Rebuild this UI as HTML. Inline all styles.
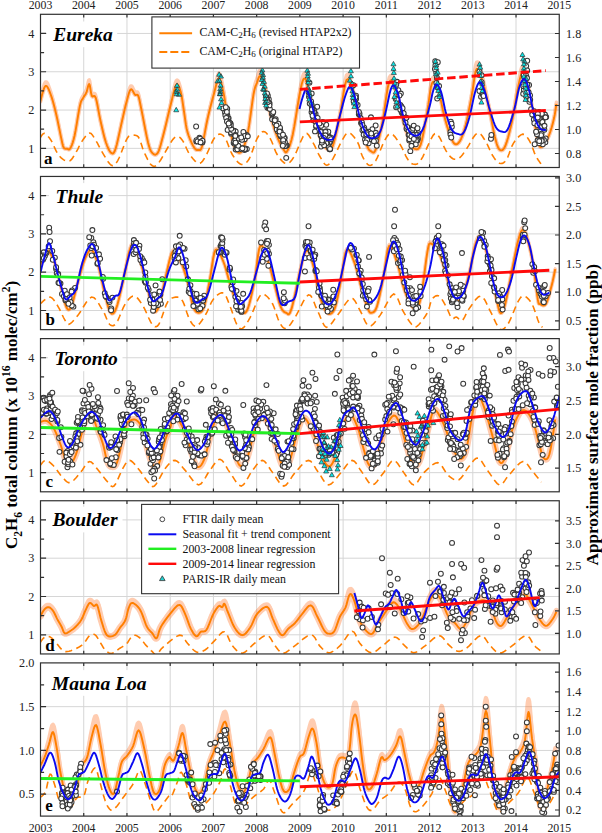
<!DOCTYPE html><html><head><meta charset="utf-8"><title>C2H6</title><style>html,body{margin:0;padding:0;background:#fff;width:602px;height:833px;overflow:hidden}svg{display:block}</style></head><body>
<svg width="602" height="833" viewBox="0 0 602 833" font-family='"Liberation Serif", serif'>
<rect width="602" height="833" fill="#fff"/>
<defs>
<clipPath id="cp0"><rect x="40.5" y="14.3" width="518.76" height="153.2"/></clipPath>
<clipPath id="cp1"><rect x="40.5" y="176.45" width="518.76" height="153.2"/></clipPath>
<clipPath id="cp2"><rect x="40.5" y="338.6" width="518.76" height="153.2"/></clipPath>
<clipPath id="cp3"><rect x="40.5" y="500.75" width="518.76" height="153.2"/></clipPath>
<clipPath id="cp4"><rect x="40.5" y="662.9" width="518.76" height="153.2"/></clipPath>
</defs>
<g clip-path="url(#cp0)">
<line x1="83.73" y1="14.3" x2="83.73" y2="167.5" stroke="#d6d6d6" stroke-width="1"/>
<line x1="126.96" y1="14.3" x2="126.96" y2="167.5" stroke="#d6d6d6" stroke-width="1"/>
<line x1="170.19" y1="14.3" x2="170.19" y2="167.5" stroke="#d6d6d6" stroke-width="1"/>
<line x1="213.42" y1="14.3" x2="213.42" y2="167.5" stroke="#d6d6d6" stroke-width="1"/>
<line x1="256.65" y1="14.3" x2="256.65" y2="167.5" stroke="#d6d6d6" stroke-width="1"/>
<line x1="299.88" y1="14.3" x2="299.88" y2="167.5" stroke="#d6d6d6" stroke-width="1"/>
<line x1="343.11" y1="14.3" x2="343.11" y2="167.5" stroke="#d6d6d6" stroke-width="1"/>
<line x1="386.34" y1="14.3" x2="386.34" y2="167.5" stroke="#d6d6d6" stroke-width="1"/>
<line x1="429.57" y1="14.3" x2="429.57" y2="167.5" stroke="#d6d6d6" stroke-width="1"/>
<line x1="472.8" y1="14.3" x2="472.8" y2="167.5" stroke="#d6d6d6" stroke-width="1"/>
<line x1="516.03" y1="14.3" x2="516.03" y2="167.5" stroke="#d6d6d6" stroke-width="1"/>
<line x1="40.5" y1="148.35" x2="559.26" y2="148.35" stroke="#d6d6d6" stroke-width="1"/>
<line x1="40.5" y1="110.05" x2="559.26" y2="110.05" stroke="#d6d6d6" stroke-width="1"/>
<line x1="40.5" y1="71.75" x2="559.26" y2="71.75" stroke="#d6d6d6" stroke-width="1"/>
<line x1="40.5" y1="33.45" x2="559.26" y2="33.45" stroke="#d6d6d6" stroke-width="1"/>
<g opacity="0.34"><path d="M40,102.39L40.73,99.75L41.77,95.77L42.98,91.48L44.23,87.86L45.4,85.92L46.48,85.89L47.56,87.11L48.64,89.22L49.72,91.88L50.8,94.73L51.88,97.85L52.96,101.48L54.04,105.49L55.12,109.79L56.2,114.26L57.33,119.29L58.51,124.95L59.67,130.66L60.73,135.85L61.6,139.92L62.22,142.71L62.64,144.6L62.97,145.85L63.31,146.76L63.76,147.58L64.34,148.26L64.98,148.59L65.65,148.7L66.33,148.71L67,148.73L67.63,148.95L68.24,149.28L68.86,149.46L69.52,149.24L70.24,148.35L71.02,146.89L71.84,145.02L72.7,142.62L73.61,139.56L74.56,135.71L75.6,130.43L76.74,123.79L77.9,116.78L79,110.34L79.96,105.45L80.74,102.44L81.41,100.65L82,99.61L82.58,98.82L83.2,97.79L83.85,96.62L84.51,95.63L85.17,94.69L85.82,93.66L86.44,92.43L87.03,90.62L87.6,88.31L88.16,86.06L88.7,84.44L89.24,84.01L89.76,85.24L90.23,87.77L90.72,90.87L91.24,93.82L91.84,95.88L92.52,96.56L93.26,96.35L94.04,95.99L94.87,96.22L95.72,97.79L96.61,101.07L97.53,105.54L98.49,110.68L99.47,115.94L100.48,120.77L101.51,125.33L102.59,129.98L103.68,134.49L104.78,138.64L105.87,142.22L106.97,145.29L108.09,148L109.19,150.25L110.26,151.93L111.27,152.95L112.17,153.44L112.98,153.48L113.76,152.84L114.61,151.33L115.59,148.73L116.79,144.51L118.13,138.8L119.53,132.41L120.88,126.13L122.07,120.77L123.08,116.4L123.96,112.47L124.77,108.9L125.56,105.57L126.39,102.39L127.26,99.15L128.12,95.91L128.98,93L129.85,90.71L130.71,89.37L131.59,89.33L132.49,90.39L133.38,92.01L134.24,93.63L135.03,94.73L135.75,95.02L136.41,94.87L137.03,94.68L137.64,94.88L138.27,95.88L138.87,97.59L139.41,99.75L139.98,102.46L140.66,105.86L141.51,110.05L142.63,115.68L143.97,122.65L145.4,130.03L146.78,136.87L147.99,142.22L148.98,145.91L149.82,148.57L150.61,150.46L151.41,151.83L152.31,152.95L153.32,153.91L154.39,154.55L155.5,154.7L156.61,154.22L157.71,152.95L158.76,150.82L159.77,147.94L160.8,144.4L161.9,140.29L163.11,135.71L164.51,130.28L166.05,123.92L167.64,117.23L169.19,110.75L170.61,105.07L171.87,99.91L173.04,94.9L174.14,90.44L175.19,86.93L176.21,84.77L177.2,84.2L178.14,84.93L179.04,86.64L179.89,88.99L180.7,91.67L181.44,94.87L182.12,98.84L182.77,103.23L183.41,107.72L184.06,111.96L184.68,116.04L185.25,120.16L185.84,124.24L186.54,128.17L187.43,131.88L188.59,135.51L189.98,139.11L191.46,142.47L192.9,145.37L194.15,147.58L195.21,148.99L196.16,149.74L197.03,150.02L197.85,150L198.64,149.88L199.35,149.95L199.96,150.09L200.55,149.85L201.21,148.79L202,146.44L202.97,142.36L204.05,136.85L205.21,130.59L206.41,124.24L207.61,118.48L208.84,113.21L210.14,108L211.44,102.97L212.71,98.25L213.89,93.96L214.97,89.79L215.98,85.65L216.95,82.02L217.89,79.4L218.82,78.26L219.75,78.86L220.65,80.88L221.54,83.94L222.42,87.66L223.31,91.67L224.19,96.2L225.05,101.52L225.92,107.25L226.83,113.02L227.79,118.48L228.86,123.83L230.01,129.34L231.19,134.66L232.33,139.45L233.4,143.37L234.37,146.34L235.28,148.59L236.15,150.23L237.01,151.39L237.89,152.18L238.77,152.68L239.63,152.81L240.5,152.46L241.4,151.52L242.37,149.88L243.42,147.61L244.53,144.77L245.68,141.27L246.84,137.01L247.98,131.88L249.14,125.14L250.33,116.86L251.5,108.16L252.61,100.15L253.58,93.96L254.4,89.96L255.09,87.39L255.71,85.71L256.31,84.38L256.95,82.86L257.6,80.92L258.24,78.93L258.89,77.22L259.57,76.12L260.31,75.96L261.12,76.77L261.97,78.34L262.87,80.6L263.81,83.53L264.8,87.07L265.83,91.56L266.91,97.03L268.03,102.97L269.19,108.89L270.4,114.26L271.68,119.17L273.02,123.93L274.39,128.46L275.77,132.68L277.13,136.48L278.53,139.92L279.99,143.06L281.41,145.83L282.73,148.13L283.86,149.88L284.71,151.18L285.34,152.09L285.88,152.46L286.46,152.15L287.22,151.03L288.17,149.27L289.2,146.95L290.32,143.82L291.54,139.65L292.83,134.18L294.3,126.4L295.94,116.47L297.63,105.91L299.23,96.25L300.61,88.98L301.71,84.25L302.64,81.03L303.46,79.15L304.25,78.41L305.09,78.64L305.94,80L306.72,82.62L307.54,86.24L308.46,90.61L309.58,95.5L310.97,101.46L312.58,108.68L314.29,116.29L315.95,123.42L317.43,129.2L318.69,133.48L319.83,136.82L320.9,139.49L321.95,141.71L323.03,143.75L324.17,145.63L325.33,147.18L326.48,148.37L327.59,149.15L328.64,149.5L329.57,149.63L330.41,149.58L331.22,149L332.1,147.56L333.13,144.9L334.33,140.76L335.65,135.36L337.05,129.11L338.47,122.45L339.85,115.79L341.2,108.25L342.54,99.52L343.89,90.97L345.24,83.94L346.58,79.79L347.93,79.1L349.27,80.95L350.62,84.5L351.96,88.87L353.31,93.2L354.65,97.73L356,103.05L357.35,108.78L358.69,114.55L360.04,120.01L361.42,125.4L362.84,130.99L364.24,136.36L365.56,141.13L366.76,144.9L367.81,147.52L368.72,149.24L369.56,150.3L370.39,150.95L371.25,151.41L372.11,151.97L372.94,152.47L373.78,152.49L374.69,151.63L375.74,149.5L376.94,145.89L378.27,141.07L379.66,135.33L381.08,128.98L382.46,122.31L383.81,114.31L385.15,104.8L386.5,95.27L387.85,87.2L389.19,82.09L390.54,80.42L391.88,81.2L393.23,83.7L394.57,87.18L395.92,90.9L397.27,95.24L398.61,100.69L399.96,106.69L401.3,112.68L402.65,118.09L404.03,123.08L405.45,128.02L406.85,132.68L408.17,136.85L409.38,140.31L410.38,143.01L411.22,145.1L412.01,146.64L412.86,147.7L413.86,148.35L415.06,148.88L416.39,149.25L417.79,149.01L419.21,147.71L420.59,144.9L421.97,140.01L423.38,133.32L424.77,125.72L426.1,118.06L427.32,111.2L428.36,104.72L429.27,98.04L430.13,91.8L431,86.66L431.98,83.24L433.07,81.74L434.22,81.74L435.41,82.95L436.61,85.07L437.79,87.84L438.97,91.71L440.17,96.88L441.36,102.64L442.52,108.29L443.6,113.11L444.59,117.01L445.49,120.46L446.37,123.61L447.27,126.6L448.26,129.58L449.34,132.77L450.5,136.06L451.69,139.14L452.89,141.69L454.07,143.37L455.23,144.16L456.4,144.27L457.56,143.76L458.72,142.67L459.88,141.07L461.05,138.93L462.21,136.2L463.37,132.94L464.53,129.18L465.7,124.99L466.87,120.16L468.06,114.66L469.24,108.78L470.39,102.81L471.51,97.03L472.56,90.76L473.54,83.82L474.51,77.22L475.53,71.96L476.63,69.07L477.83,68.96L479.11,70.95L480.43,74.42L481.79,78.73L483.14,83.24L484.54,88.31L486.01,94.37L487.47,100.88L488.86,107.3L490.12,113.11L491.2,118.37L492.14,123.42L493.02,128.19L493.87,132.57L494.77,136.48L495.68,140.01L496.57,143.22L497.47,145.97L498.41,148.11L499.42,149.5L500.49,150.22L501.6,150.37L502.77,149.82L503.98,148.43L505.23,146.05L506.57,142.45L508,137.72L509.45,132.22L510.87,126.32L512.21,120.39L513.47,114.05L514.67,107.04L515.84,99.95L516.95,93.35L518.02,87.84L519.01,83.14L519.91,78.89L520.79,75.45L521.69,73.2L522.67,72.52L523.76,73.73L524.92,76.58L526.11,80.6L527.31,85.27L528.49,90.13L529.67,95.47L530.87,101.6L532.06,108.1L533.21,114.51L534.3,120.39L535.31,126.05L536.25,131.79L537.15,137.14L538.04,141.66L538.95,144.9L539.87,146.64L540.76,147.18L541.66,146.85L542.6,145.98L543.6,144.9L544.71,143.53L545.9,141.64L547.12,139.37L548.31,136.84L549.42,134.18L550.46,131.27L551.47,128.04L552.43,124.65L553.31,121.27L554.07,118.09L554.72,114.91L555.28,111.61L555.74,108.48L556.12,105.82L556.4,103.92" fill="none" stroke="#ff6a1a" stroke-width="4.2" stroke-linejoin="round"/><path d="M40,100.42L40.73,97.5L41.77,93.09L42.98,88.26L44.23,84.15L45.4,81.93L46.48,81.89L47.56,83.29L48.64,85.7L49.72,88.71L50.8,91.92L51.88,95.4L52.96,99.41L54.04,103.81L55.12,108.46L56.2,113.25L57.33,118.58L58.51,124.5L59.67,130.41L60.73,135.71L61.6,139.86L62.22,142.68L62.64,144.57L62.97,145.84L63.31,146.75L63.76,147.58L64.34,148.25L64.98,148.58L65.65,148.69L66.33,148.7L67,148.73L67.63,148.95L68.24,149.28L68.86,149.46L69.52,149.23L70.24,148.35L71.02,146.88L71.84,145L72.7,142.59L73.61,139.49L74.56,135.58L75.6,130.16L76.74,123.29L77.9,115.92L79,109.05L79.96,103.77L80.74,100.47L81.41,98.5L82,97.35L82.58,96.48L83.2,95.34L83.85,94.04L84.51,92.93L85.17,91.87L85.82,90.72L86.44,89.34L87.03,87.29L87.6,84.66L88.16,82.09L88.7,80.22L89.24,79.72L89.76,81.14L90.23,84.05L90.72,87.57L91.24,90.9L91.84,93.21L92.52,93.97L93.26,93.73L94.04,93.33L94.87,93.59L95.72,95.34L96.61,98.96L97.53,103.86L98.49,109.42L99.47,115.03L100.48,120.14L101.51,124.9L102.59,129.7L103.68,134.33L104.78,138.56L105.87,142.18L106.97,145.27L108.09,147.99L109.19,150.25L110.26,151.93L111.27,152.95L112.17,153.44L112.98,153.48L113.76,152.84L114.61,151.33L115.59,148.73L116.79,144.49L118.13,138.72L119.53,132.2L120.88,125.73L122.07,120.14L123.08,115.52L123.96,111.34L124.77,107.5L125.56,103.89L126.39,100.42L127.26,96.84L128.12,93.24L128.98,89.97L129.85,87.39L130.71,85.87L131.59,85.82L132.49,87.03L133.38,88.86L134.24,90.69L135.03,91.92L135.75,92.25L136.41,92.08L137.03,91.87L137.64,92.09L138.27,93.21L138.87,95.12L139.41,97.5L139.98,100.49L140.66,104.2L141.51,108.74L142.63,114.75L143.97,122.1L145.4,129.76L146.78,136.76L147.99,142.18L148.98,145.9L149.82,148.57L150.61,150.46L151.41,151.83L152.31,152.95L153.32,153.91L154.39,154.55L155.5,154.7L156.61,154.22L157.71,152.95L158.76,150.82L159.77,147.93L160.8,144.37L161.9,140.23L163.11,135.58L164.51,130.01L166.05,123.43L167.64,116.4L169.19,109.5L170.61,103.35L171.87,97.69L173.04,92.11L174.14,87.08L175.19,83.08L176.21,80.6L177.2,79.94L178.14,80.78L179.04,82.75L179.89,85.44L180.7,88.47L181.44,92.08L182.12,96.5L182.77,101.34L183.41,106.22L184.06,110.8L184.68,115.14L185.25,119.49L185.84,123.76L186.54,127.84L187.43,131.66L188.59,135.37L189.98,139.03L191.46,142.43L192.9,145.35L194.15,147.58L195.21,148.99L196.16,149.74L197.03,150.02L197.85,150L198.64,149.88L199.35,149.95L199.96,150.09L200.55,149.85L201.21,148.78L202,146.42L202.97,142.32L204.05,136.74L205.21,130.33L206.41,123.76L207.61,117.72L208.84,112.13L210.14,106.53L211.44,101.05L212.71,95.84L213.89,91.06L214.97,86.35L215.98,81.62L216.95,77.42L217.89,74.36L218.82,73.02L219.75,73.73L220.65,76.09L221.54,79.64L222.42,83.92L223.31,88.47L224.19,93.57L225.05,99.46L225.92,105.71L226.83,111.93L227.79,117.72L228.86,123.34L230.01,129.05L231.19,134.51L232.33,139.38L233.4,143.34L234.37,146.33L235.28,148.58L236.15,150.23L237.01,151.39L237.89,152.18L238.77,152.68L239.63,152.81L240.5,152.46L241.4,151.52L242.37,149.88L243.42,147.6L244.53,144.75L245.68,141.22L246.84,136.9L247.98,131.66L249.14,124.7L250.33,116.01L251.5,106.7L252.61,97.95L253.58,91.06L254.4,86.54L255.09,83.61L255.71,81.68L256.31,80.15L256.95,78.39L257.6,76.14L258.24,73.81L258.89,71.8L259.57,70.5L260.31,70.31L261.12,71.27L261.97,73.11L262.87,75.77L263.81,79.17L264.8,83.24L265.83,88.35L266.91,94.49L268.03,101.05L269.19,107.49L270.4,113.25L271.68,118.44L273.02,123.44L274.39,128.14L275.77,132.48L277.13,136.36L278.53,139.85L279.99,143.03L281.41,145.81L282.73,148.12L283.86,149.88L284.71,151.18L285.34,152.09L285.88,152.46L286.46,152.15L287.22,151.03L288.17,149.26L289.2,146.94L290.32,143.8L291.54,139.58L292.83,134.01L294.3,126L295.94,115.6L297.63,104.27L299.23,93.62L300.61,85.43L301.71,80L302.64,76.27L303.46,74.07L304.25,73.2L305.09,73.47L305.94,75.07L306.72,78.11L307.54,82.29L308.46,87.28L309.58,92.78L310.97,99.4L312.58,107.27L314.29,115.4L315.95,122.9L317.43,128.9L318.69,133.3L319.83,136.71L320.9,139.41L321.95,141.67L323.03,143.73L324.17,145.62L325.33,147.17L326.48,148.36L327.59,149.15L328.64,149.5L329.57,149.63L330.41,149.58L331.22,149L332.1,147.55L333.13,144.88L334.33,140.7L335.65,135.21L337.05,128.81L338.47,121.89L339.85,114.88L341.2,106.79L342.54,97.25L343.89,87.68L345.24,79.64L346.58,74.82L347.93,74.01L349.27,76.18L350.62,80.29L351.96,85.3L353.31,90.2L354.65,95.27L356,101.14L357.35,107.37L358.69,113.56L360.04,119.33L361.42,124.97L362.84,130.74L364.24,136.24L365.56,141.08L366.76,144.88L367.81,147.51L368.72,149.23L369.56,150.3L370.39,150.94L371.25,151.41L372.11,151.97L372.94,152.47L373.78,152.49L374.69,151.63L375.74,149.5L376.94,145.87L378.27,141.01L379.66,135.19L381.08,128.68L382.46,121.74L383.81,113.3L385.15,103.06L386.5,92.53L387.85,83.4L389.19,77.5L390.54,75.55L391.88,76.47L393.23,79.36L394.57,83.37L395.92,87.61L397.27,92.49L398.61,98.55L399.96,105.11L401.3,111.56L402.65,117.31L404.03,122.55L405.45,127.68L406.85,132.48L408.17,136.74L409.38,140.25L410.38,142.97L411.22,145.08L412.01,146.63L412.86,147.7L413.86,148.35L415.06,148.88L416.39,149.25L417.79,149.01L419.21,147.71L420.59,144.88L421.97,139.94L423.38,133.14L424.77,125.3L426.1,117.28L427.32,109.98L428.36,102.96L429.27,95.61L430.13,88.63L431,82.77L431.98,78.83L433.07,77.1L434.22,77.09L435.41,78.49L436.61,80.95L437.79,84.12L438.97,88.52L440.17,94.32L441.36,100.69L442.52,106.84L443.6,112.03L444.59,116.17L445.49,119.81L446.37,123.1L447.27,126.21L448.26,129.3L449.34,132.57L450.5,135.94L451.69,139.07L452.89,141.64L454.07,143.34L455.23,144.14L456.4,144.25L457.56,143.73L458.72,142.64L459.88,141.02L461.05,138.85L462.21,136.08L463.37,132.74L464.53,128.89L465.7,124.54L466.87,119.49L468.06,113.67L469.24,107.37L470.39,100.88L471.51,94.49L472.56,87.45L473.54,79.51L474.51,71.8L475.53,65.55L476.63,62.07L477.83,61.96L479.11,64.34L480.43,68.48L481.79,73.57L483.14,78.83L484.54,84.67L486.01,91.52L487.47,98.75L488.86,105.78L490.12,112.03L491.2,117.6L492.14,122.91L493.02,127.86L493.87,132.37L494.77,136.36L495.68,139.94L496.57,143.19L497.47,145.96L498.41,148.11L499.42,149.5L500.49,150.22L501.6,150.37L502.77,149.82L503.98,148.42L505.23,146.04L506.57,142.41L508,137.62L509.45,132.01L510.87,125.92L512.21,119.73L513.47,113.02L514.67,105.49L515.84,97.73L516.95,90.38L518.02,84.12L519.01,78.72L519.91,73.76L520.79,69.7L521.69,67.03L522.67,66.21L523.76,67.66L524.92,71.05L526.11,75.76L527.31,81.18L528.49,86.74L529.67,92.75L530.87,99.55L532.06,106.63L533.21,113.51L534.3,119.73L535.31,125.65L536.25,131.56L537.15,137.03L538.04,141.61L538.95,144.88L539.87,146.63L540.76,147.17L541.66,146.84L542.6,145.97L543.6,144.88L544.71,143.5L545.9,141.6L547.12,139.3L548.31,136.73L549.42,134.01L550.46,131.04L551.47,127.7L552.43,124.18L553.31,120.66L554.07,117.31L554.72,113.94L555.28,110.41L555.74,107.05L556.12,104.16L556.4,102.09L556.4,103.92L556.12,105.82L555.74,108.48L555.28,111.61L554.72,114.91L554.07,118.09L553.31,121.27L552.43,124.65L551.47,128.04L550.46,131.27L549.42,134.18L548.31,136.84L547.12,139.37L545.9,141.64L544.71,143.53L543.6,144.9L542.6,145.98L541.66,146.85L540.76,147.18L539.87,146.64L538.95,144.9L538.04,141.66L537.15,137.14L536.25,131.79L535.31,126.05L534.3,120.39L533.21,114.51L532.06,108.1L530.87,101.6L529.67,95.47L528.49,90.13L527.31,85.27L526.11,80.6L524.92,76.58L523.76,73.73L522.67,72.52L521.69,73.2L520.79,75.45L519.91,78.89L519.01,83.14L518.02,87.84L516.95,93.35L515.84,99.95L514.67,107.04L513.47,114.05L512.21,120.39L510.87,126.32L509.45,132.22L508,137.72L506.57,142.45L505.23,146.05L503.98,148.43L502.77,149.82L501.6,150.37L500.49,150.22L499.42,149.5L498.41,148.11L497.47,145.97L496.57,143.22L495.68,140.01L494.77,136.48L493.87,132.57L493.02,128.19L492.14,123.42L491.2,118.37L490.12,113.11L488.86,107.3L487.47,100.88L486.01,94.37L484.54,88.31L483.14,83.24L481.79,78.73L480.43,74.42L479.11,70.95L477.83,68.96L476.63,69.07L475.53,71.96L474.51,77.22L473.54,83.82L472.56,90.76L471.51,97.03L470.39,102.81L469.24,108.78L468.06,114.66L466.87,120.16L465.7,124.99L464.53,129.18L463.37,132.94L462.21,136.2L461.05,138.93L459.88,141.07L458.72,142.67L457.56,143.76L456.4,144.27L455.23,144.16L454.07,143.37L452.89,141.69L451.69,139.14L450.5,136.06L449.34,132.77L448.26,129.58L447.27,126.6L446.37,123.61L445.49,120.46L444.59,117.01L443.6,113.11L442.52,108.29L441.36,102.64L440.17,96.88L438.97,91.71L437.79,87.84L436.61,85.07L435.41,82.95L434.22,81.74L433.07,81.74L431.98,83.24L431,86.66L430.13,91.8L429.27,98.04L428.36,104.72L427.32,111.2L426.1,118.06L424.77,125.72L423.38,133.32L421.97,140.01L420.59,144.9L419.21,147.71L417.79,149.01L416.39,149.25L415.06,148.88L413.86,148.35L412.86,147.7L412.01,146.64L411.22,145.1L410.38,143.01L409.38,140.31L408.17,136.85L406.85,132.68L405.45,128.02L404.03,123.08L402.65,118.09L401.3,112.68L399.96,106.69L398.61,100.69L397.27,95.24L395.92,90.9L394.57,87.18L393.23,83.7L391.88,81.2L390.54,80.42L389.19,82.09L387.85,87.2L386.5,95.27L385.15,104.8L383.81,114.31L382.46,122.31L381.08,128.98L379.66,135.33L378.27,141.07L376.94,145.89L375.74,149.5L374.69,151.63L373.78,152.49L372.94,152.47L372.11,151.97L371.25,151.41L370.39,150.95L369.56,150.3L368.72,149.24L367.81,147.52L366.76,144.9L365.56,141.13L364.24,136.36L362.84,130.99L361.42,125.4L360.04,120.01L358.69,114.55L357.35,108.78L356,103.05L354.65,97.73L353.31,93.2L351.96,88.87L350.62,84.5L349.27,80.95L347.93,79.1L346.58,79.79L345.24,83.94L343.89,90.97L342.54,99.52L341.2,108.25L339.85,115.79L338.47,122.45L337.05,129.11L335.65,135.36L334.33,140.76L333.13,144.9L332.1,147.56L331.22,149L330.41,149.58L329.57,149.63L328.64,149.5L327.59,149.15L326.48,148.37L325.33,147.18L324.17,145.63L323.03,143.75L321.95,141.71L320.9,139.49L319.83,136.82L318.69,133.48L317.43,129.2L315.95,123.42L314.29,116.29L312.58,108.68L310.97,101.46L309.58,95.5L308.46,90.61L307.54,86.24L306.72,82.62L305.94,80L305.09,78.64L304.25,78.41L303.46,79.15L302.64,81.03L301.71,84.25L300.61,88.98L299.23,96.25L297.63,105.91L295.94,116.47L294.3,126.4L292.83,134.18L291.54,139.65L290.32,143.82L289.2,146.95L288.17,149.27L287.22,151.03L286.46,152.15L285.88,152.46L285.34,152.09L284.71,151.18L283.86,149.88L282.73,148.13L281.41,145.83L279.99,143.06L278.53,139.92L277.13,136.48L275.77,132.68L274.39,128.46L273.02,123.93L271.68,119.17L270.4,114.26L269.19,108.89L268.03,102.97L266.91,97.03L265.83,91.56L264.8,87.07L263.81,83.53L262.87,80.6L261.97,78.34L261.12,76.77L260.31,75.96L259.57,76.12L258.89,77.22L258.24,78.93L257.6,80.92L256.95,82.86L256.31,84.38L255.71,85.71L255.09,87.39L254.4,89.96L253.58,93.96L252.61,100.15L251.5,108.16L250.33,116.86L249.14,125.14L247.98,131.88L246.84,137.01L245.68,141.27L244.53,144.77L243.42,147.61L242.37,149.88L241.4,151.52L240.5,152.46L239.63,152.81L238.77,152.68L237.89,152.18L237.01,151.39L236.15,150.23L235.28,148.59L234.37,146.34L233.4,143.37L232.33,139.45L231.19,134.66L230.01,129.34L228.86,123.83L227.79,118.48L226.83,113.02L225.92,107.25L225.05,101.52L224.19,96.2L223.31,91.67L222.42,87.66L221.54,83.94L220.65,80.88L219.75,78.86L218.82,78.26L217.89,79.4L216.95,82.02L215.98,85.65L214.97,89.79L213.89,93.96L212.71,98.25L211.44,102.97L210.14,108L208.84,113.21L207.61,118.48L206.41,124.24L205.21,130.59L204.05,136.85L202.97,142.36L202,146.44L201.21,148.79L200.55,149.85L199.96,150.09L199.35,149.95L198.64,149.88L197.85,150L197.03,150.02L196.16,149.74L195.21,148.99L194.15,147.58L192.9,145.37L191.46,142.47L189.98,139.11L188.59,135.51L187.43,131.88L186.54,128.17L185.84,124.24L185.25,120.16L184.68,116.04L184.06,111.96L183.41,107.72L182.77,103.23L182.12,98.84L181.44,94.87L180.7,91.67L179.89,88.99L179.04,86.64L178.14,84.93L177.2,84.2L176.21,84.77L175.19,86.93L174.14,90.44L173.04,94.9L171.87,99.91L170.61,105.07L169.19,110.75L167.64,117.23L166.05,123.92L164.51,130.28L163.11,135.71L161.9,140.29L160.8,144.4L159.77,147.94L158.76,150.82L157.71,152.95L156.61,154.22L155.5,154.7L154.39,154.55L153.32,153.91L152.31,152.95L151.41,151.83L150.61,150.46L149.82,148.57L148.98,145.91L147.99,142.22L146.78,136.87L145.4,130.03L143.97,122.65L142.63,115.68L141.51,110.05L140.66,105.86L139.98,102.46L139.41,99.75L138.87,97.59L138.27,95.88L137.64,94.88L137.03,94.68L136.41,94.87L135.75,95.02L135.03,94.73L134.24,93.63L133.38,92.01L132.49,90.39L131.59,89.33L130.71,89.37L129.85,90.71L128.98,93L128.12,95.91L127.26,99.15L126.39,102.39L125.56,105.57L124.77,108.9L123.96,112.47L123.08,116.4L122.07,120.77L120.88,126.13L119.53,132.41L118.13,138.8L116.79,144.51L115.59,148.73L114.61,151.33L113.76,152.84L112.98,153.48L112.17,153.44L111.27,152.95L110.26,151.93L109.19,150.25L108.09,148L106.97,145.29L105.87,142.22L104.78,138.64L103.68,134.49L102.59,129.98L101.51,125.33L100.48,120.77L99.47,115.94L98.49,110.68L97.53,105.54L96.61,101.07L95.72,97.79L94.87,96.22L94.04,95.99L93.26,96.35L92.52,96.56L91.84,95.88L91.24,93.82L90.72,90.87L90.23,87.77L89.76,85.24L89.24,84.01L88.7,84.44L88.16,86.06L87.6,88.31L87.03,90.62L86.44,92.43L85.82,93.66L85.17,94.69L84.51,95.63L83.85,96.62L83.2,97.79L82.58,98.82L82,99.61L81.41,100.65L80.74,102.44L79.96,105.45L79,110.34L77.9,116.78L76.74,123.79L75.6,130.43L74.56,135.71L73.61,139.56L72.7,142.62L71.84,145.02L71.02,146.89L70.24,148.35L69.52,149.24L68.86,149.46L68.24,149.28L67.63,148.95L67,148.73L66.33,148.71L65.65,148.7L64.98,148.59L64.34,148.26L63.76,147.58L63.31,146.76L62.97,145.85L62.64,144.6L62.22,142.71L61.6,139.92L60.73,135.85L59.67,130.66L58.51,124.95L57.33,119.29L56.2,114.26L55.12,109.79L54.04,105.49L52.96,101.48L51.88,97.85L50.8,94.73L49.72,91.88L48.64,89.22L47.56,87.11L46.48,85.89L45.4,85.92L44.23,87.86L42.98,91.48L41.77,95.77L40.73,99.75L40,102.39Z" fill="#ff6a1a" stroke="#ff6a1a" stroke-width="3.36" stroke-linejoin="round"/></g>
<path d="M40,138.01L40.55,137.21L41.31,135.97L42.23,134.67L43.25,133.69L44.32,133.41L45.48,133.9L46.76,134.91L48.1,136.32L49.47,138.03L50.8,139.92L52.1,142.21L53.39,144.96L54.69,147.87L55.98,150.63L57.28,152.95L58.57,154.82L59.87,156.44L61.17,157.82L62.46,158.95L63.76,159.84L65.05,160.55L66.35,161.08L67.65,161.34L68.94,161.21L70.24,160.61L71.55,159.36L72.88,157.54L74.2,155.38L75.49,153.14L76.72,151.03L77.83,149.03L78.85,146.98L79.85,144.94L80.92,142.95L82.12,141.07L83.51,139.08L85.04,136.95L86.63,135L88.2,133.58L89.68,133.03L91.04,133.55L92.35,134.91L93.62,136.81L94.88,138.96L96.16,141.07L97.42,143.2L98.64,145.53L99.89,147.99L101.2,150.49L102.63,152.95L104.26,155.64L106.04,158.63L107.87,161.49L109.65,163.82L111.27,165.2L112.67,165.62L113.92,165.35L115.11,164.41L116.35,162.82L117.75,160.61L119.41,157.24L121.26,152.7L123.14,147.78L124.91,143.26L126.39,139.92L127.48,137.94L128.28,136.8L128.96,136.22L129.71,135.95L130.71,135.71L132.05,135.39L133.61,135.16L135.25,135.21L136.85,135.71L138.27,136.86L139.47,138.89L140.54,141.66L141.54,144.85L142.56,148.09L143.67,151.03L144.92,153.82L146.24,156.69L147.59,159.43L148.91,161.83L150.15,163.67L151.3,164.93L152.39,165.76L153.44,166.18L154.49,166.24L155.55,165.97L156.54,165.42L157.45,164.57L158.4,163.34L159.53,161.66L160.95,159.46L162.84,156.32L165.12,152.3L167.53,148L169.82,144.06L171.73,141.07L173.18,139.12L174.34,137.8L175.34,136.99L176.3,136.59L177.33,136.48L178.44,136.67L179.52,137.23L180.62,138.16L181.75,139.44L182.94,141.07L184.18,143.26L185.44,146.02L186.76,149.02L188.16,151.95L189.67,154.48L191.36,156.78L193.2,159.07L195.11,161.09L196.95,162.58L198.64,163.29L200.1,163.15L201.41,162.34L202.66,160.94L203.94,159.06L205.37,156.78L207,153.7L208.77,149.76L210.57,145.56L212.31,141.7L213.89,138.78L215.27,136.85L216.51,135.53L217.67,134.71L218.8,134.3L219.95,134.18L221.08,134.33L222.17,134.82L223.25,135.7L224.37,137L225.55,138.78L226.79,141.3L228.05,144.53L229.37,148.08L230.77,151.53L232.28,154.48L233.95,157.08L235.76,159.61L237.64,161.83L239.49,163.52L241.25,164.44L242.89,164.58L244.47,164.11L246.01,163.03L247.55,161.35L249.1,159.07L250.69,155.76L252.29,151.4L253.89,146.67L255.45,142.24L256.95,138.78L258.37,136.25L259.72,134.23L261.04,132.74L262.35,131.81L263.68,131.5L265.02,131.89L266.37,132.96L267.71,134.56L269.06,136.55L270.4,138.78L271.71,141.48L272.99,144.76L274.28,148.26L275.64,151.62L277.13,154.48L278.8,156.99L280.61,159.4L282.49,161.46L284.35,162.97L286.1,163.67L287.69,163.58L289.17,162.84L290.63,161.46L292.19,159.44L293.95,156.78L296.02,152.7L298.33,147.22L300.72,141.47L303.02,136.61L305.09,133.8L306.89,133.45L308.52,134.81L310.04,137.22L311.5,140.04L312.94,142.61L314.36,145.06L315.71,147.84L317.03,150.73L318.34,153.53L319.67,156.01L321.01,158.38L322.36,160.76L323.71,162.89L325.05,164.46L326.4,165.2L327.71,165.03L328.98,164.14L330.27,162.64L331.64,160.66L333.13,158.31L334.81,155.25L336.66,151.41L338.56,147.3L340.41,143.42L342.1,140.31L343.55,137.83L344.84,135.65L346.08,133.95L347.37,132.89L348.82,132.65L350.55,133.46L352.47,135.2L354.42,137.53L356.25,140.11L357.79,142.61L358.94,145.13L359.8,147.92L360.54,150.79L361.31,153.54L362.28,156.01L363.48,158.34L364.81,160.65L366.21,162.72L367.63,164.31L369.01,165.2L370.32,165.42L371.59,165.11L372.88,164.24L374.25,162.75L375.74,160.61L377.42,157.33L379.27,152.96L381.17,148.19L383.02,143.74L384.71,140.31L386.16,137.84L387.45,135.86L388.69,134.47L389.98,133.75L391.43,133.8L393.12,134.85L394.97,136.86L396.87,139.45L398.72,142.25L400.4,144.9L401.91,147.56L403.31,150.47L404.63,153.39L405.89,156.08L407.13,158.31L408.29,160.09L409.35,161.6L410.39,162.78L411.49,163.61L412.74,164.05L414.09,164.3L415.49,164.38L417,164L418.68,162.84L420.59,160.61L422.91,156.52L425.59,150.8L428.38,144.58L430.99,139.04L433.14,135.33L434.71,133.66L435.89,133.26L436.87,133.81L437.82,134.99L438.95,136.48L440.27,138.58L441.66,141.5L443.08,144.8L444.52,148L445.93,150.65L447.33,152.8L448.72,154.75L450.12,156.43L451.51,157.77L452.91,158.69L454.3,159.18L455.7,159.28L457.09,159.02L458.49,158.43L459.88,157.54L461.22,156.32L462.51,154.74L463.82,152.85L465.24,150.71L466.86,148.35L468.77,145.3L470.91,141.54L473.14,137.77L475.33,134.7L477.33,133.03L479.12,133.05L480.8,134.27L482.4,136.29L483.95,138.7L485.47,141.07L486.93,143.61L488.34,146.59L489.71,149.72L491.07,152.7L492.44,155.24L493.84,157.43L495.23,159.45L496.63,161.19L498.02,162.51L499.42,163.29L500.81,163.54L502.21,163.36L503.6,162.71L505,161.55L506.4,159.84L507.75,157.26L509.07,153.84L510.41,150.06L511.83,146.41L513.37,143.37L515.12,140.81L517.04,138.4L519.01,136.35L520.93,134.87L522.67,134.18L524.24,134.41L525.69,135.43L527.06,137.02L528.37,138.97L529.65,141.07L530.89,143.52L532.06,146.46L533.2,149.58L534.32,152.61L535.47,155.24L536.72,157.55L538.07,159.72L539.37,161.66L540.49,163.27L541.28,164.44" fill="none" stroke="#ff7f00" stroke-width="1.6" stroke-dasharray="7,4.5"/>
<path d="M40,102.39L40.73,99.75L41.77,95.77L42.98,91.48L44.23,87.86L45.4,85.92L46.48,85.89L47.56,87.11L48.64,89.22L49.72,91.88L50.8,94.73L51.88,97.85L52.96,101.48L54.04,105.49L55.12,109.79L56.2,114.26L57.33,119.29L58.51,124.95L59.67,130.66L60.73,135.85L61.6,139.92L62.22,142.71L62.64,144.6L62.97,145.85L63.31,146.76L63.76,147.58L64.34,148.26L64.98,148.59L65.65,148.7L66.33,148.71L67,148.73L67.63,148.95L68.24,149.28L68.86,149.46L69.52,149.24L70.24,148.35L71.02,146.89L71.84,145.02L72.7,142.62L73.61,139.56L74.56,135.71L75.6,130.43L76.74,123.79L77.9,116.78L79,110.34L79.96,105.45L80.74,102.44L81.41,100.65L82,99.61L82.58,98.82L83.2,97.79L83.85,96.62L84.51,95.63L85.17,94.69L85.82,93.66L86.44,92.43L87.03,90.62L87.6,88.31L88.16,86.06L88.7,84.44L89.24,84.01L89.76,85.24L90.23,87.77L90.72,90.87L91.24,93.82L91.84,95.88L92.52,96.56L93.26,96.35L94.04,95.99L94.87,96.22L95.72,97.79L96.61,101.07L97.53,105.54L98.49,110.68L99.47,115.94L100.48,120.77L101.51,125.33L102.59,129.98L103.68,134.49L104.78,138.64L105.87,142.22L106.97,145.29L108.09,148L109.19,150.25L110.26,151.93L111.27,152.95L112.17,153.44L112.98,153.48L113.76,152.84L114.61,151.33L115.59,148.73L116.79,144.51L118.13,138.8L119.53,132.41L120.88,126.13L122.07,120.77L123.08,116.4L123.96,112.47L124.77,108.9L125.56,105.57L126.39,102.39L127.26,99.15L128.12,95.91L128.98,93L129.85,90.71L130.71,89.37L131.59,89.33L132.49,90.39L133.38,92.01L134.24,93.63L135.03,94.73L135.75,95.02L136.41,94.87L137.03,94.68L137.64,94.88L138.27,95.88L138.87,97.59L139.41,99.75L139.98,102.46L140.66,105.86L141.51,110.05L142.63,115.68L143.97,122.65L145.4,130.03L146.78,136.87L147.99,142.22L148.98,145.91L149.82,148.57L150.61,150.46L151.41,151.83L152.31,152.95L153.32,153.91L154.39,154.55L155.5,154.7L156.61,154.22L157.71,152.95L158.76,150.82L159.77,147.94L160.8,144.4L161.9,140.29L163.11,135.71L164.51,130.28L166.05,123.92L167.64,117.23L169.19,110.75L170.61,105.07L171.87,99.91L173.04,94.9L174.14,90.44L175.19,86.93L176.21,84.77L177.2,84.2L178.14,84.93L179.04,86.64L179.89,88.99L180.7,91.67L181.44,94.87L182.12,98.84L182.77,103.23L183.41,107.72L184.06,111.96L184.68,116.04L185.25,120.16L185.84,124.24L186.54,128.17L187.43,131.88L188.59,135.51L189.98,139.11L191.46,142.47L192.9,145.37L194.15,147.58L195.21,148.99L196.16,149.74L197.03,150.02L197.85,150L198.64,149.88L199.35,149.95L199.96,150.09L200.55,149.85L201.21,148.79L202,146.44L202.97,142.36L204.05,136.85L205.21,130.59L206.41,124.24L207.61,118.48L208.84,113.21L210.14,108L211.44,102.97L212.71,98.25L213.89,93.96L214.97,89.79L215.98,85.65L216.95,82.02L217.89,79.4L218.82,78.26L219.75,78.86L220.65,80.88L221.54,83.94L222.42,87.66L223.31,91.67L224.19,96.2L225.05,101.52L225.92,107.25L226.83,113.02L227.79,118.48L228.86,123.83L230.01,129.34L231.19,134.66L232.33,139.45L233.4,143.37L234.37,146.34L235.28,148.59L236.15,150.23L237.01,151.39L237.89,152.18L238.77,152.68L239.63,152.81L240.5,152.46L241.4,151.52L242.37,149.88L243.42,147.61L244.53,144.77L245.68,141.27L246.84,137.01L247.98,131.88L249.14,125.14L250.33,116.86L251.5,108.16L252.61,100.15L253.58,93.96L254.4,89.96L255.09,87.39L255.71,85.71L256.31,84.38L256.95,82.86L257.6,80.92L258.24,78.93L258.89,77.22L259.57,76.12L260.31,75.96L261.12,76.77L261.97,78.34L262.87,80.6L263.81,83.53L264.8,87.07L265.83,91.56L266.91,97.03L268.03,102.97L269.19,108.89L270.4,114.26L271.68,119.17L273.02,123.93L274.39,128.46L275.77,132.68L277.13,136.48L278.53,139.92L279.99,143.06L281.41,145.83L282.73,148.13L283.86,149.88L284.71,151.18L285.34,152.09L285.88,152.46L286.46,152.15L287.22,151.03L288.17,149.27L289.2,146.95L290.32,143.82L291.54,139.65L292.83,134.18L294.3,126.4L295.94,116.47L297.63,105.91L299.23,96.25L300.61,88.98L301.71,84.25L302.64,81.03L303.46,79.15L304.25,78.41L305.09,78.64L305.94,80L306.72,82.62L307.54,86.24L308.46,90.61L309.58,95.5L310.97,101.46L312.58,108.68L314.29,116.29L315.95,123.42L317.43,129.2L318.69,133.48L319.83,136.82L320.9,139.49L321.95,141.71L323.03,143.75L324.17,145.63L325.33,147.18L326.48,148.37L327.59,149.15L328.64,149.5L329.57,149.63L330.41,149.58L331.22,149L332.1,147.56L333.13,144.9L334.33,140.76L335.65,135.36L337.05,129.11L338.47,122.45L339.85,115.79L341.2,108.25L342.54,99.52L343.89,90.97L345.24,83.94L346.58,79.79L347.93,79.1L349.27,80.95L350.62,84.5L351.96,88.87L353.31,93.2L354.65,97.73L356,103.05L357.35,108.78L358.69,114.55L360.04,120.01L361.42,125.4L362.84,130.99L364.24,136.36L365.56,141.13L366.76,144.9L367.81,147.52L368.72,149.24L369.56,150.3L370.39,150.95L371.25,151.41L372.11,151.97L372.94,152.47L373.78,152.49L374.69,151.63L375.74,149.5L376.94,145.89L378.27,141.07L379.66,135.33L381.08,128.98L382.46,122.31L383.81,114.31L385.15,104.8L386.5,95.27L387.85,87.2L389.19,82.09L390.54,80.42L391.88,81.2L393.23,83.7L394.57,87.18L395.92,90.9L397.27,95.24L398.61,100.69L399.96,106.69L401.3,112.68L402.65,118.09L404.03,123.08L405.45,128.02L406.85,132.68L408.17,136.85L409.38,140.31L410.38,143.01L411.22,145.1L412.01,146.64L412.86,147.7L413.86,148.35L415.06,148.88L416.39,149.25L417.79,149.01L419.21,147.71L420.59,144.9L421.97,140.01L423.38,133.32L424.77,125.72L426.1,118.06L427.32,111.2L428.36,104.72L429.27,98.04L430.13,91.8L431,86.66L431.98,83.24L433.07,81.74L434.22,81.74L435.41,82.95L436.61,85.07L437.79,87.84L438.97,91.71L440.17,96.88L441.36,102.64L442.52,108.29L443.6,113.11L444.59,117.01L445.49,120.46L446.37,123.61L447.27,126.6L448.26,129.58L449.34,132.77L450.5,136.06L451.69,139.14L452.89,141.69L454.07,143.37L455.23,144.16L456.4,144.27L457.56,143.76L458.72,142.67L459.88,141.07L461.05,138.93L462.21,136.2L463.37,132.94L464.53,129.18L465.7,124.99L466.87,120.16L468.06,114.66L469.24,108.78L470.39,102.81L471.51,97.03L472.56,90.76L473.54,83.82L474.51,77.22L475.53,71.96L476.63,69.07L477.83,68.96L479.11,70.95L480.43,74.42L481.79,78.73L483.14,83.24L484.54,88.31L486.01,94.37L487.47,100.88L488.86,107.3L490.12,113.11L491.2,118.37L492.14,123.42L493.02,128.19L493.87,132.57L494.77,136.48L495.68,140.01L496.57,143.22L497.47,145.97L498.41,148.11L499.42,149.5L500.49,150.22L501.6,150.37L502.77,149.82L503.98,148.43L505.23,146.05L506.57,142.45L508,137.72L509.45,132.22L510.87,126.32L512.21,120.39L513.47,114.05L514.67,107.04L515.84,99.95L516.95,93.35L518.02,87.84L519.01,83.14L519.91,78.89L520.79,75.45L521.69,73.2L522.67,72.52L523.76,73.73L524.92,76.58L526.11,80.6L527.31,85.27L528.49,90.13L529.67,95.47L530.87,101.6L532.06,108.1L533.21,114.51L534.3,120.39L535.31,126.05L536.25,131.79L537.15,137.14L538.04,141.66L538.95,144.9L539.87,146.64L540.76,147.18L541.66,146.85L542.6,145.98L543.6,144.9L544.71,143.53L545.9,141.64L547.12,139.37L548.31,136.84L549.42,134.18L550.46,131.27L551.47,128.04L552.43,124.65L553.31,121.27L554.07,118.09L554.72,114.91L555.28,111.61L555.74,108.48L556.12,105.82L556.4,103.92" fill="none" stroke="#ff7f00" stroke-width="1.95" stroke-linejoin="round"/>
<g fill="#fff" stroke="#383838" stroke-width="1.05"><circle cx="200.47" cy="142.22" r="2.45"/><circle cx="202.25" cy="142.41" r="2.45"/><circle cx="196.37" cy="141.58" r="2.45"/><circle cx="202.48" cy="141.99" r="2.45"/><circle cx="196.48" cy="140.2" r="2.45"/><circle cx="199.47" cy="137.72" r="2.45"/><circle cx="200.1" cy="138.71" r="2.45"/><circle cx="197.53" cy="141.4" r="2.45"/><circle cx="202.45" cy="140.75" r="2.45"/><circle cx="200.54" cy="142.31" r="2.45"/><circle cx="196.13" cy="126.52" r="2.45"/><circle cx="223.09" cy="108.39" r="2.45"/><circle cx="228.62" cy="118.18" r="2.45"/><circle cx="225.92" cy="112.5" r="2.45"/><circle cx="233" cy="133.02" r="2.45"/><circle cx="230.46" cy="123.46" r="2.45"/><circle cx="233.67" cy="143.01" r="2.45"/><circle cx="234.26" cy="130.81" r="2.45"/><circle cx="234.63" cy="143.72" r="2.45"/><circle cx="235.71" cy="149.5" r="2.45"/><circle cx="235.67" cy="131.42" r="2.45"/><circle cx="234.53" cy="134.84" r="2.45"/><circle cx="231.12" cy="133.65" r="2.45"/><circle cx="230.32" cy="123.27" r="2.45"/><circle cx="232.13" cy="132.79" r="2.45"/><circle cx="236.25" cy="143.87" r="2.45"/><circle cx="227.36" cy="115.16" r="2.45"/><circle cx="229.23" cy="125.71" r="2.45"/><circle cx="226.38" cy="114.63" r="2.45"/><circle cx="225.02" cy="112.56" r="2.45"/><circle cx="227.96" cy="118.78" r="2.45"/><circle cx="225.39" cy="115.14" r="2.45"/><circle cx="226.21" cy="117.94" r="2.45"/><circle cx="237.19" cy="148.19" r="2.45"/><circle cx="227.21" cy="108.78" r="2.45"/><circle cx="230.94" cy="132.21" r="2.45"/><circle cx="227.76" cy="121.27" r="2.45"/><circle cx="234.21" cy="141.14" r="2.45"/><circle cx="229.81" cy="128.04" r="2.45"/><circle cx="226.97" cy="121.46" r="2.45"/><circle cx="233.06" cy="130.8" r="2.45"/><circle cx="237.12" cy="147.87" r="2.45"/><circle cx="227.61" cy="129.9" r="2.45"/><circle cx="226.88" cy="111.93" r="2.45"/><circle cx="231.2" cy="128.81" r="2.45"/><circle cx="235.33" cy="139.54" r="2.45"/><circle cx="229.59" cy="122.61" r="2.45"/><circle cx="225.79" cy="107.15" r="2.45"/><circle cx="230.79" cy="125.22" r="2.45"/><circle cx="229.42" cy="125.56" r="2.45"/><circle cx="228.58" cy="123.49" r="2.45"/><circle cx="239.38" cy="137.93" r="2.45"/><circle cx="240.98" cy="139.19" r="2.45"/><circle cx="242.16" cy="139.38" r="2.45"/><circle cx="235.62" cy="135.32" r="2.45"/><circle cx="246.82" cy="148.93" r="2.45"/><circle cx="244.66" cy="139.33" r="2.45"/><circle cx="244.64" cy="149.96" r="2.45"/><circle cx="235.49" cy="139.83" r="2.45"/><circle cx="242.22" cy="148.25" r="2.45"/><circle cx="245.1" cy="148.39" r="2.45"/><circle cx="246.61" cy="135.01" r="2.45"/><circle cx="244.42" cy="133.87" r="2.45"/><circle cx="238.82" cy="138.55" r="2.45"/><circle cx="235.32" cy="135.89" r="2.45"/><circle cx="237.39" cy="149.3" r="2.45"/><circle cx="244.9" cy="149.1" r="2.45"/><circle cx="243.38" cy="131.89" r="2.45"/><circle cx="242.04" cy="139.77" r="2.45"/><circle cx="244.9" cy="136.03" r="2.45"/><circle cx="241.52" cy="149.27" r="2.45"/><circle cx="247.8" cy="136.32" r="2.45"/><circle cx="241.23" cy="137.48" r="2.45"/><circle cx="238.29" cy="145.81" r="2.45"/><circle cx="235.54" cy="142.66" r="2.45"/><circle cx="242.37" cy="148.32" r="2.45"/><circle cx="269.3" cy="104.73" r="2.45"/><circle cx="282.8" cy="138.08" r="2.45"/><circle cx="268.79" cy="99.25" r="2.45"/><circle cx="272.01" cy="114.15" r="2.45"/><circle cx="266.84" cy="99.48" r="2.45"/><circle cx="272.5" cy="113.58" r="2.45"/><circle cx="286.86" cy="145.37" r="2.45"/><circle cx="277.92" cy="131.35" r="2.45"/><circle cx="278.67" cy="128.16" r="2.45"/><circle cx="267.42" cy="107.83" r="2.45"/><circle cx="284.65" cy="137.74" r="2.45"/><circle cx="272.45" cy="113.24" r="2.45"/><circle cx="266.43" cy="98.11" r="2.45"/><circle cx="279.94" cy="130.2" r="2.45"/><circle cx="278.15" cy="127.54" r="2.45"/><circle cx="272.11" cy="119.3" r="2.45"/><circle cx="281.51" cy="135.27" r="2.45"/><circle cx="266.65" cy="102.97" r="2.45"/><circle cx="283.99" cy="145.17" r="2.45"/><circle cx="283.72" cy="141.77" r="2.45"/><circle cx="267.8" cy="95.41" r="2.45"/><circle cx="280.77" cy="131.91" r="2.45"/><circle cx="276.74" cy="129.28" r="2.45"/><circle cx="283.13" cy="141.33" r="2.45"/><circle cx="279.31" cy="129.97" r="2.45"/><circle cx="268.87" cy="108.13" r="2.45"/><circle cx="282.58" cy="135.39" r="2.45"/><circle cx="277.64" cy="124.66" r="2.45"/><circle cx="273.24" cy="111.95" r="2.45"/><circle cx="275.92" cy="123.17" r="2.45"/><circle cx="269.38" cy="102.86" r="2.45"/><circle cx="280.79" cy="136.2" r="2.45"/><circle cx="281.2" cy="135.97" r="2.45"/><circle cx="286.15" cy="145.87" r="2.45"/><circle cx="266.08" cy="95.66" r="2.45"/><circle cx="274.58" cy="119.76" r="2.45"/><circle cx="274.9" cy="123.09" r="2.45"/><circle cx="279.91" cy="128.67" r="2.45"/><circle cx="279.95" cy="127.7" r="2.45"/><circle cx="269.39" cy="103.41" r="2.45"/><circle cx="286.22" cy="157.86" r="2.45"/><circle cx="269.84" cy="108.92" r="2.45"/><circle cx="280.11" cy="134.87" r="2.45"/><circle cx="269.42" cy="105.39" r="2.45"/><circle cx="278.36" cy="123.71" r="2.45"/><circle cx="276.47" cy="125.32" r="2.45"/><circle cx="285.73" cy="145.63" r="2.45"/><circle cx="284.37" cy="138.48" r="2.45"/><circle cx="267.02" cy="93.51" r="2.45"/><circle cx="275.71" cy="119.26" r="2.45"/><circle cx="284.89" cy="146.15" r="2.45"/><circle cx="279.62" cy="131.56" r="2.45"/><circle cx="274.9" cy="120.33" r="2.45"/><circle cx="266.68" cy="99.98" r="2.45"/><circle cx="284.96" cy="142.31" r="2.45"/><circle cx="267.6" cy="102.28" r="2.45"/><circle cx="283.2" cy="140.21" r="2.45"/><circle cx="283.64" cy="144.27" r="2.45"/><circle cx="282.96" cy="134.76" r="2.45"/><circle cx="282.79" cy="145.71" r="2.45"/><circle cx="308.57" cy="92.26" r="2.45"/><circle cx="329.79" cy="137.95" r="2.45"/><circle cx="328.11" cy="135.1" r="2.45"/><circle cx="324.87" cy="134.8" r="2.45"/><circle cx="315.58" cy="113.95" r="2.45"/><circle cx="309.43" cy="82.63" r="2.45"/><circle cx="317.81" cy="127.9" r="2.45"/><circle cx="316.88" cy="120.41" r="2.45"/><circle cx="327.95" cy="135.89" r="2.45"/><circle cx="318.05" cy="125.39" r="2.45"/><circle cx="317.19" cy="106.71" r="2.45"/><circle cx="314.42" cy="114.12" r="2.45"/><circle cx="316.2" cy="126.71" r="2.45"/><circle cx="323.89" cy="133.53" r="2.45"/><circle cx="329.15" cy="142.82" r="2.45"/><circle cx="311.9" cy="106.65" r="2.45"/><circle cx="312.73" cy="111.9" r="2.45"/><circle cx="330.31" cy="141.54" r="2.45"/><circle cx="329.91" cy="137.22" r="2.45"/><circle cx="326.27" cy="133.14" r="2.45"/><circle cx="331.26" cy="137.91" r="2.45"/><circle cx="311.55" cy="112.21" r="2.45"/><circle cx="317.59" cy="118.01" r="2.45"/><circle cx="313.45" cy="109.8" r="2.45"/><circle cx="318.31" cy="130.76" r="2.45"/><circle cx="327.64" cy="144.65" r="2.45"/><circle cx="314.23" cy="110.7" r="2.45"/><circle cx="313.04" cy="116.2" r="2.45"/><circle cx="329.49" cy="137.72" r="2.45"/><circle cx="316.12" cy="125.66" r="2.45"/><circle cx="319.32" cy="125.09" r="2.45"/><circle cx="318.39" cy="130.11" r="2.45"/><circle cx="313.15" cy="120.36" r="2.45"/><circle cx="328.38" cy="144.5" r="2.45"/><circle cx="326.21" cy="124.79" r="2.45"/><circle cx="311.61" cy="104.69" r="2.45"/><circle cx="309.75" cy="103.6" r="2.45"/><circle cx="321.4" cy="131.53" r="2.45"/><circle cx="320.81" cy="131.97" r="2.45"/><circle cx="326.16" cy="131.17" r="2.45"/><circle cx="320.74" cy="135.61" r="2.45"/><circle cx="328.31" cy="131.69" r="2.45"/><circle cx="326.94" cy="144.1" r="2.45"/><circle cx="324.5" cy="142.79" r="2.45"/><circle cx="325.52" cy="131.86" r="2.45"/><circle cx="329.57" cy="142.58" r="2.45"/><circle cx="313.77" cy="111.91" r="2.45"/><circle cx="312.04" cy="109.95" r="2.45"/><circle cx="322.76" cy="122" r="2.45"/><circle cx="321.12" cy="125.72" r="2.45"/><circle cx="314.16" cy="120.28" r="2.45"/><circle cx="311.92" cy="109.32" r="2.45"/><circle cx="311.68" cy="93.4" r="2.45"/><circle cx="315.47" cy="121.39" r="2.45"/><circle cx="314.98" cy="131.38" r="2.45"/><circle cx="327.56" cy="144.59" r="2.45"/><circle cx="321.05" cy="146.54" r="2.45"/><circle cx="322.9" cy="143.07" r="2.45"/><circle cx="325.37" cy="135.33" r="2.45"/><circle cx="318.29" cy="121.64" r="2.45"/><circle cx="326.68" cy="143.58" r="2.45"/><circle cx="321.9" cy="137.87" r="2.45"/><circle cx="319.43" cy="123.52" r="2.45"/><circle cx="311.11" cy="101.39" r="2.45"/><circle cx="312.56" cy="115.76" r="2.45"/><circle cx="323.78" cy="137.88" r="2.45"/><circle cx="308.99" cy="96.77" r="2.45"/><circle cx="327.41" cy="144.67" r="2.45"/><circle cx="329.54" cy="149.36" r="2.45"/><circle cx="326.43" cy="143.28" r="2.45"/><circle cx="330.06" cy="149.34" r="2.45"/><circle cx="323.72" cy="140.39" r="2.45"/><circle cx="329" cy="147.51" r="2.45"/><circle cx="324.15" cy="145.34" r="2.45"/><circle cx="321.87" cy="142.62" r="2.45"/><circle cx="330.01" cy="148.91" r="2.45"/><circle cx="331.02" cy="139.22" r="2.45"/><circle cx="322.09" cy="140.56" r="2.45"/><circle cx="371.48" cy="134.78" r="2.45"/><circle cx="364.24" cy="127.64" r="2.45"/><circle cx="375.64" cy="125.49" r="2.45"/><circle cx="372.4" cy="129.27" r="2.45"/><circle cx="367.12" cy="138.16" r="2.45"/><circle cx="356" cy="95.67" r="2.45"/><circle cx="365.93" cy="135.03" r="2.45"/><circle cx="354.72" cy="101.2" r="2.45"/><circle cx="365.33" cy="135.42" r="2.45"/><circle cx="370.97" cy="117.3" r="2.45"/><circle cx="369.95" cy="138.13" r="2.45"/><circle cx="367.49" cy="131.67" r="2.45"/><circle cx="374.7" cy="134.52" r="2.45"/><circle cx="370.3" cy="133.17" r="2.45"/><circle cx="373.96" cy="134.2" r="2.45"/><circle cx="361.04" cy="123.12" r="2.45"/><circle cx="370.24" cy="139.04" r="2.45"/><circle cx="375.9" cy="140.74" r="2.45"/><circle cx="353.69" cy="101.58" r="2.45"/><circle cx="368.62" cy="143.21" r="2.45"/><circle cx="373.93" cy="141.13" r="2.45"/><circle cx="370.43" cy="136.41" r="2.45"/><circle cx="359.15" cy="114" r="2.45"/><circle cx="371.19" cy="136.49" r="2.45"/><circle cx="357.63" cy="105.02" r="2.45"/><circle cx="368.59" cy="131.76" r="2.45"/><circle cx="362.44" cy="130.14" r="2.45"/><circle cx="358.81" cy="114.36" r="2.45"/><circle cx="376.79" cy="145.74" r="2.45"/><circle cx="355.87" cy="103.72" r="2.45"/><circle cx="360.63" cy="118.05" r="2.45"/><circle cx="353.4" cy="85.27" r="2.45"/><circle cx="359.49" cy="113.66" r="2.45"/><circle cx="365.02" cy="139.6" r="2.45"/><circle cx="363.67" cy="134.72" r="2.45"/><circle cx="363.79" cy="129.41" r="2.45"/><circle cx="356.07" cy="98.87" r="2.45"/><circle cx="361.88" cy="122.46" r="2.45"/><circle cx="355.7" cy="98.69" r="2.45"/><circle cx="366.31" cy="136.06" r="2.45"/><circle cx="367.12" cy="139.98" r="2.45"/><circle cx="355.4" cy="97.24" r="2.45"/><circle cx="362.41" cy="124.88" r="2.45"/><circle cx="375.74" cy="132.83" r="2.45"/><circle cx="358.84" cy="112.03" r="2.45"/><circle cx="366.63" cy="132.58" r="2.45"/><circle cx="371.23" cy="133.48" r="2.45"/><circle cx="366.39" cy="134.22" r="2.45"/><circle cx="376.64" cy="135.54" r="2.45"/><circle cx="365.68" cy="142.45" r="2.45"/><circle cx="418.46" cy="133.14" r="2.45"/><circle cx="395.71" cy="99.06" r="2.45"/><circle cx="417.33" cy="140.27" r="2.45"/><circle cx="400.36" cy="105.01" r="2.45"/><circle cx="401.64" cy="112.28" r="2.45"/><circle cx="408.83" cy="127.94" r="2.45"/><circle cx="409.28" cy="140.46" r="2.45"/><circle cx="417.97" cy="138.62" r="2.45"/><circle cx="407.33" cy="129.36" r="2.45"/><circle cx="408.67" cy="134.99" r="2.45"/><circle cx="417.91" cy="135.06" r="2.45"/><circle cx="398.34" cy="90.28" r="2.45"/><circle cx="412.4" cy="129.57" r="2.45"/><circle cx="414.37" cy="135.84" r="2.45"/><circle cx="402.34" cy="113.33" r="2.45"/><circle cx="413.73" cy="125.6" r="2.45"/><circle cx="400.84" cy="93.59" r="2.45"/><circle cx="401.72" cy="110.41" r="2.45"/><circle cx="397.14" cy="98.97" r="2.45"/><circle cx="406.54" cy="128.84" r="2.45"/><circle cx="412.11" cy="141.26" r="2.45"/><circle cx="405.11" cy="119.06" r="2.45"/><circle cx="415.97" cy="134.96" r="2.45"/><circle cx="401.4" cy="106.45" r="2.45"/><circle cx="409.43" cy="134.86" r="2.45"/><circle cx="396.15" cy="107.26" r="2.45"/><circle cx="416.38" cy="140.85" r="2.45"/><circle cx="403.64" cy="115.39" r="2.45"/><circle cx="408.69" cy="130.59" r="2.45"/><circle cx="410.33" cy="151.13" r="2.45"/><circle cx="407.24" cy="126.88" r="2.45"/><circle cx="409.44" cy="139.13" r="2.45"/><circle cx="412.37" cy="133.27" r="2.45"/><circle cx="397.04" cy="81.82" r="2.45"/><circle cx="406.4" cy="117.82" r="2.45"/><circle cx="400.34" cy="109.78" r="2.45"/><circle cx="402.55" cy="112.45" r="2.45"/><circle cx="417.28" cy="140.32" r="2.45"/><circle cx="416.02" cy="140.99" r="2.45"/><circle cx="405.51" cy="122.66" r="2.45"/><circle cx="396.23" cy="84.81" r="2.45"/><circle cx="403.7" cy="113.23" r="2.45"/><circle cx="415.78" cy="144.37" r="2.45"/><circle cx="412.76" cy="134.82" r="2.45"/><circle cx="411.45" cy="136.38" r="2.45"/><circle cx="417.49" cy="128.29" r="2.45"/><circle cx="399.48" cy="95.53" r="2.45"/><circle cx="402.56" cy="108.2" r="2.45"/><circle cx="411.45" cy="145.81" r="2.45"/><circle cx="413.87" cy="138.92" r="2.45"/><circle cx="435.42" cy="65.43" r="2.45"/><circle cx="436.25" cy="72.82" r="2.45"/><circle cx="434.95" cy="68.97" r="2.45"/><circle cx="438.01" cy="87.47" r="2.45"/><circle cx="436.4" cy="83.01" r="2.45"/><circle cx="435.25" cy="61.15" r="2.45"/><circle cx="436.95" cy="77.71" r="2.45"/><circle cx="437.21" cy="98.49" r="2.45"/><circle cx="437.8" cy="62.14" r="2.45"/><circle cx="439.05" cy="86" r="2.45"/><circle cx="450.82" cy="121.68" r="2.45"/><circle cx="451.85" cy="126.73" r="2.45"/><circle cx="451.51" cy="123.62" r="2.45"/><circle cx="450.4" cy="132.05" r="2.45"/><circle cx="450.47" cy="134.56" r="2.45"/><circle cx="451.26" cy="137.47" r="2.45"/><circle cx="481.95" cy="91.24" r="2.45"/><circle cx="481.06" cy="96.67" r="2.45"/><circle cx="482.87" cy="94.57" r="2.45"/><circle cx="479.47" cy="71.46" r="2.45"/><circle cx="479.45" cy="91.03" r="2.45"/><circle cx="483.6" cy="96.02" r="2.45"/><circle cx="481.61" cy="75.19" r="2.45"/><circle cx="481.7" cy="82.25" r="2.45"/><circle cx="490.96" cy="138.78" r="2.45"/><circle cx="491.39" cy="134.94" r="2.45"/><circle cx="526.24" cy="96.44" r="2.45"/><circle cx="524.33" cy="91.09" r="2.45"/><circle cx="527.21" cy="60.71" r="2.45"/><circle cx="523.84" cy="75.5" r="2.45"/><circle cx="526.12" cy="75.75" r="2.45"/><circle cx="526.19" cy="66.12" r="2.45"/><circle cx="523.19" cy="93.8" r="2.45"/><circle cx="523.91" cy="89.51" r="2.45"/><circle cx="523.43" cy="86.25" r="2.45"/><circle cx="524.83" cy="80.22" r="2.45"/><circle cx="523.66" cy="75.1" r="2.45"/><circle cx="525.66" cy="87.05" r="2.45"/><circle cx="527.21" cy="70.43" r="2.45"/><circle cx="527.04" cy="78.05" r="2.45"/><circle cx="532.51" cy="112.66" r="2.45"/><circle cx="529.42" cy="101.75" r="2.45"/><circle cx="530.07" cy="95.37" r="2.45"/><circle cx="530.19" cy="99.79" r="2.45"/><circle cx="529.07" cy="84.88" r="2.45"/><circle cx="527.32" cy="84.58" r="2.45"/><circle cx="531.09" cy="109.29" r="2.45"/><circle cx="534.1" cy="115.45" r="2.45"/><circle cx="532.24" cy="114.58" r="2.45"/><circle cx="528.65" cy="92.33" r="2.45"/><circle cx="541.58" cy="133.77" r="2.45"/><circle cx="545.35" cy="142.35" r="2.45"/><circle cx="541.07" cy="135.24" r="2.45"/><circle cx="545.63" cy="138.36" r="2.45"/><circle cx="542.74" cy="144.24" r="2.45"/><circle cx="536.47" cy="131.77" r="2.45"/><circle cx="541.59" cy="117.4" r="2.45"/><circle cx="539.19" cy="139.84" r="2.45"/><circle cx="537.64" cy="140.31" r="2.45"/><circle cx="544.39" cy="129.68" r="2.45"/><circle cx="539.29" cy="119.78" r="2.45"/><circle cx="541.57" cy="127.24" r="2.45"/><circle cx="538.55" cy="124.05" r="2.45"/><circle cx="533.85" cy="119.58" r="2.45"/><circle cx="536.94" cy="134.16" r="2.45"/><circle cx="534.14" cy="111.31" r="2.45"/><circle cx="539.01" cy="143.34" r="2.45"/><circle cx="546.18" cy="117.07" r="2.45"/><circle cx="543.92" cy="140.05" r="2.45"/><circle cx="536.17" cy="118.68" r="2.45"/><circle cx="540.62" cy="119.21" r="2.45"/><circle cx="542.42" cy="121.38" r="2.45"/><circle cx="544.95" cy="114.55" r="2.45"/><circle cx="541.69" cy="139.82" r="2.45"/><circle cx="540.15" cy="127.1" r="2.45"/><circle cx="538.98" cy="112.06" r="2.45"/><circle cx="540.24" cy="114.62" r="2.45"/><circle cx="544.87" cy="117.4" r="2.45"/><circle cx="534.37" cy="123.28" r="2.45"/><circle cx="537.93" cy="119.13" r="2.45"/><circle cx="534.68" cy="144.29" r="2.45"/><circle cx="542.32" cy="121.96" r="2.45"/><circle cx="541.72" cy="140.93" r="2.45"/><circle cx="541.86" cy="113.72" r="2.45"/><circle cx="544.48" cy="125.84" r="2.45"/><circle cx="537.86" cy="113.86" r="2.45"/><circle cx="545.5" cy="117.33" r="2.45"/><circle cx="539.25" cy="141.08" r="2.45"/><circle cx="538.72" cy="118.63" r="2.45"/><circle cx="536.13" cy="131.73" r="2.45"/><circle cx="537.69" cy="117.59" r="2.45"/><circle cx="537.41" cy="125" r="2.45"/></g><path d="M177.02,82.94L179.52,87.34L174.52,87.34ZM177.1,86.71L179.6,91.11L174.6,91.11ZM176.35,88.92L178.85,93.32L173.85,93.32ZM176.64,91.36L179.14,95.76L174.14,95.76ZM178.97,91.86L181.47,96.26L176.47,96.26ZM176.24,107.35L178.74,111.75L173.74,111.75ZM219.14,71.86L221.64,76.26L216.64,76.26ZM221.01,73.68L223.51,78.08L218.51,78.08ZM219.36,77.99L221.86,82.39L216.86,82.39ZM217.54,78.58L220.04,82.98L215.04,82.98ZM220.56,82.76L223.06,87.16L218.06,87.16ZM220.17,86.36L222.67,90.76L217.67,90.76ZM220.28,88.94L222.78,93.34L217.78,93.34ZM220.08,91.41L222.58,95.81L217.58,95.81ZM219.91,91.11L222.41,95.51L217.41,95.51ZM221.05,96.47L223.55,100.87L218.55,100.87ZM221.55,100.17L224.05,104.57L219.05,104.57ZM219.47,104.67L221.97,109.07L216.97,109.07ZM262.35,67.53L264.85,71.93L259.85,71.93ZM261.76,69.94L264.26,74.34L259.26,74.34ZM263.08,72.21L265.58,76.61L260.58,76.61ZM262.83,74.77L265.33,79.17L260.33,79.17ZM261.93,77.02L264.43,81.42L259.43,81.42ZM263.99,78.98L266.49,83.38L261.49,83.38ZM262.44,80.98L264.94,85.38L259.94,85.38ZM264.7,83.76L267.2,88.16L262.2,88.16ZM263.97,86.98L266.47,91.38L261.47,91.38ZM263.09,86.36L265.59,90.76L260.59,90.76ZM264.86,90.45L267.36,94.85L262.36,94.85ZM265.61,92.9L268.11,97.3L263.11,97.3ZM265.25,96.15L267.75,100.55L262.75,100.55ZM266.3,98.5L268.8,102.9L263.8,102.9ZM265.08,99.97L267.58,104.37L262.58,104.37ZM266.11,102.57L268.61,106.97L263.61,106.97ZM307.33,67.78L309.83,72.18L304.83,72.18ZM308,70.82L310.5,75.22L305.5,75.22ZM307.76,73.54L310.26,77.94L305.26,77.94ZM308.52,77.09L311.02,81.49L306.02,81.49ZM308.21,79.61L310.71,84.01L305.71,84.01ZM308.07,85.21L310.57,89.61L305.57,89.61ZM309.17,87.59L311.67,91.99L306.67,91.99ZM309.34,90.1L311.84,94.5L306.84,94.5ZM309.65,92.74L312.15,97.14L307.15,97.14ZM309.18,96.72L311.68,101.12L306.68,101.12ZM311.38,100.29L313.88,104.69L308.88,104.69ZM350.91,68.36L353.41,72.76L348.41,72.76ZM350.93,73.49L353.43,77.89L348.43,77.89ZM349.87,77.73L352.37,82.13L347.37,82.13ZM352.22,81.01L354.72,85.41L349.72,85.41ZM351.54,84.58L354.04,88.98L349.04,88.98ZM352.49,88.34L354.99,92.74L349.99,92.74ZM352.73,92.13L355.23,96.53L350.23,96.53ZM352.84,94.95L355.34,99.35L350.34,99.35ZM353.92,100.6L356.42,105L351.42,105ZM354.32,104.18L356.82,108.58L351.82,108.58ZM393.46,61.38L395.96,65.78L390.96,65.78ZM393.52,66.02L396.02,70.42L391.02,70.42ZM393.84,70.08L396.34,74.48L391.34,74.48ZM394.04,75.67L396.54,80.07L391.54,80.07ZM394.89,80.82L397.39,85.22L392.39,85.22ZM395.09,84.53L397.59,88.93L392.59,88.93ZM395.64,89.53L398.14,93.93L393.14,93.93ZM394.41,94.06L396.91,98.46L391.91,98.46ZM396.45,99.49L398.95,103.89L393.95,103.89ZM397.08,103.77L399.58,108.17L394.58,108.17ZM435.46,58.82L437.96,63.22L432.96,63.22ZM436.28,62.55L438.78,66.95L433.78,66.95ZM436.29,65.12L438.79,69.52L433.79,69.52ZM437.7,69.74L440.2,74.14L435.2,74.14ZM435.92,71.32L438.42,75.72L433.42,75.72ZM437.16,75.32L439.66,79.72L434.66,79.72ZM437.38,80.42L439.88,84.82L434.88,84.82ZM437.77,85.02L440.27,89.42L435.27,89.42ZM438.27,87.99L440.77,92.39L435.77,92.39ZM439.33,91.7L441.83,96.1L436.83,96.1ZM439.24,94.04L441.74,98.44L436.74,98.44ZM479.56,61.65L482.06,66.05L477.06,66.05ZM480.22,64.74L482.72,69.14L477.72,69.14ZM479.73,69.94L482.23,74.34L477.23,74.34ZM480.12,73.01L482.62,77.41L477.62,77.41ZM480.63,78.92L483.13,83.32L478.13,83.32ZM482.24,80.99L484.74,85.39L479.74,85.39ZM481.64,85.13L484.14,89.53L479.14,89.53ZM482.34,88.21L484.84,92.61L479.84,92.61ZM481.45,99.69L483.95,104.09L478.95,104.09ZM522.44,52.19L524.94,56.59L519.94,56.59ZM523.13,56.53L525.63,60.93L520.63,60.93ZM524.48,58.45L526.98,62.85L521.98,62.85ZM523.95,61.51L526.45,65.91L521.45,65.91ZM523.92,65.79L526.42,70.19L521.42,70.19ZM524.07,69.01L526.57,73.41L521.57,73.41ZM523.82,73.83L526.32,78.23L521.32,78.23ZM524.67,77.8L527.17,82.2L522.17,82.2ZM526.15,75.88L528.65,80.28L523.65,80.28ZM524.88,82.22L527.38,86.62L522.38,86.62ZM525.81,85.83L528.31,90.23L523.31,90.23ZM525.68,89.73L528.18,94.13L523.18,94.13ZM525.83,92.59L528.33,96.99L523.33,96.99ZM525.5,97.05L528,101.45L523,101.45Z" fill="#0ae6e6" stroke="#303030" stroke-width="0.7"/>
<path d="M299.49,108.9L299.94,107.15L300.59,104.62L301.34,101.75L302.12,98.95L302.85,96.64L303.5,94.65L304.14,92.67L304.79,91.01L305.47,89.94L306.21,89.75L307.04,90.59L307.93,92.28L308.85,94.58L309.78,97.26L310.7,100.09L311.6,103.28L312.49,106.96L313.39,110.86L314.29,114.66L315.18,118.09L316.08,121.18L316.98,124.12L317.88,126.85L318.77,129.33L319.67,131.5L320.57,133.31L321.46,134.82L322.36,136.07L323.26,137.11L324.15,138.01L325.03,138.77L325.89,139.34L326.76,139.74L327.67,139.93L328.64,139.92L329.69,139.92L330.8,139.92L331.95,139.62L333.11,138.7L334.25,136.86L335.37,133.79L336.49,129.69L337.61,125.03L338.73,120.25L339.85,115.79L340.99,111.5L342.15,107.07L343.3,102.75L344.41,98.81L345.46,95.5L346.43,92.72L347.33,90.3L348.2,88.39L349.07,87.14L349.95,86.69L350.82,87.1L351.69,88.28L352.56,90.13L353.46,92.57L354.43,95.5L355.46,99.22L356.54,103.82L357.66,108.81L358.83,113.72L360.04,118.09L361.31,122.05L362.65,125.91L364.02,129.47L365.4,132.55L366.76,134.94L368.11,136.59L369.46,137.62L370.8,138.13L372.15,138.23L373.49,138.01L374.86,137.54L376.24,136.76L377.61,135.55L378.95,133.84L380.22,131.5L381.43,128.32L382.6,124.37L383.72,119.98L384.8,115.48L385.83,111.2L386.81,106.9L387.76,102.36L388.65,97.94L389.51,94L390.31,90.9L391.04,88.64L391.69,87L392.3,85.95L392.95,85.46L393.68,85.54L394.48,86.15L395.34,87.32L396.23,89.07L397.18,91.4L398.16,94.35L399.21,98.31L400.32,103.27L401.47,108.62L402.63,113.77L403.77,118.09L404.87,121.58L405.96,124.64L407.05,127.29L408.18,129.57L409.38,131.5L410.65,133.1L411.99,134.36L413.36,135.24L414.74,135.7L416.1,135.71L417.45,135.36L418.79,134.67L420.13,133.5L421.48,131.73L422.83,129.2L424.24,125.54L425.71,120.83L427.16,115.65L428.5,110.59L429.65,106.22L430.56,102.52L431.29,99.12L431.9,96.03L432.5,93.28L433.14,90.9L433.82,88.8L434.48,86.96L435.15,85.52L435.86,84.62L436.63,84.39L437.48,84.86L438.4,85.95L439.36,87.61L440.33,89.78L441.28,92.43L442.19,95.83L443.08,100L443.99,104.54L444.93,109.05L445.93,113.11L447.02,116.87L448.17,120.59L449.36,124.08L450.56,127.14L451.74,129.58L452.91,131.29L454.07,132.39L455.23,133.06L456.4,133.47L457.56,133.8L458.72,134.19L459.88,134.53L461.05,134.6L462.21,134.17L463.37,133.03L464.53,131.12L465.7,128.59L466.86,125.52L468.02,121.99L469.19,118.09L470.37,113.4L471.57,107.87L472.76,102.11L473.91,96.76L475,92.43L476,89.09L476.94,86.31L477.85,84.17L478.74,82.74L479.65,82.09L480.56,82.32L481.46,83.38L482.36,85.12L483.3,87.42L484.3,90.13L485.39,93.53L486.54,97.7L487.73,102.24L488.93,106.75L490.12,110.82L491.28,114.58L492.44,118.3L493.6,121.78L494.77,124.84L495.93,127.28L497.09,129.01L498.26,130.15L499.42,130.84L500.58,131.24L501.74,131.5L502.89,131.81L504.01,132.09L505.15,132.02L506.32,131.29L507.56,129.58L508.92,126.59L510.38,122.52L511.86,117.84L513.27,113.01L514.53,108.52L515.61,104.17L516.56,99.65L517.44,95.24L518.29,91.21L519.19,87.84L520.12,85.03L521.05,82.61L521.98,80.71L522.91,79.47L523.84,79.03L524.75,79.35L525.64,80.36L526.54,82.09L527.48,84.57L528.49,87.84L529.58,92.45L530.73,98.38L531.92,104.8L533.12,110.88L534.3,115.79L535.47,119.48L536.63,122.49L537.79,124.91L538.95,126.86L540.12,128.43L541.37,129.48L542.72,129.92L544.02,130L545.14,129.94L545.93,129.97" fill="none" stroke="#0a0af0" stroke-width="1.9" stroke-linejoin="round"/>
<line x1="299.88" y1="121.92" x2="545.86" y2="110.43" stroke="#ff0a0a" stroke-width="2.9"/><line x1="299.88" y1="89.37" x2="545.86" y2="70.6" stroke="#ff0a0a" stroke-width="2.9" stroke-dasharray="8.5,3.8"/>
</g>
<g clip-path="url(#cp1)">
<line x1="83.73" y1="176.45" x2="83.73" y2="329.65" stroke="#d6d6d6" stroke-width="1"/>
<line x1="126.96" y1="176.45" x2="126.96" y2="329.65" stroke="#d6d6d6" stroke-width="1"/>
<line x1="170.19" y1="176.45" x2="170.19" y2="329.65" stroke="#d6d6d6" stroke-width="1"/>
<line x1="213.42" y1="176.45" x2="213.42" y2="329.65" stroke="#d6d6d6" stroke-width="1"/>
<line x1="256.65" y1="176.45" x2="256.65" y2="329.65" stroke="#d6d6d6" stroke-width="1"/>
<line x1="299.88" y1="176.45" x2="299.88" y2="329.65" stroke="#d6d6d6" stroke-width="1"/>
<line x1="343.11" y1="176.45" x2="343.11" y2="329.65" stroke="#d6d6d6" stroke-width="1"/>
<line x1="386.34" y1="176.45" x2="386.34" y2="329.65" stroke="#d6d6d6" stroke-width="1"/>
<line x1="429.57" y1="176.45" x2="429.57" y2="329.65" stroke="#d6d6d6" stroke-width="1"/>
<line x1="472.8" y1="176.45" x2="472.8" y2="329.65" stroke="#d6d6d6" stroke-width="1"/>
<line x1="516.03" y1="176.45" x2="516.03" y2="329.65" stroke="#d6d6d6" stroke-width="1"/>
<line x1="40.5" y1="310.5" x2="559.26" y2="310.5" stroke="#d6d6d6" stroke-width="1"/>
<line x1="40.5" y1="272.2" x2="559.26" y2="272.2" stroke="#d6d6d6" stroke-width="1"/>
<line x1="40.5" y1="233.9" x2="559.26" y2="233.9" stroke="#d6d6d6" stroke-width="1"/>
<line x1="40.5" y1="195.6" x2="559.26" y2="195.6" stroke="#d6d6d6" stroke-width="1"/>
<g opacity="0.34"><path d="M40,265.69L40.97,263.64L42.37,260.61L43.96,257.27L45.49,254.27L46.73,252.28L47.58,251.34L48.21,251L48.75,251.21L49.33,251.91L50.09,253.05L51.05,254.59L52.12,256.55L53.27,259.02L54.47,262.04L55.7,265.69L57.01,270.39L58.42,276.09L59.84,282.16L61.21,287.97L62.43,292.88L63.47,296.98L64.38,300.69L65.23,303.88L66.05,306.43L66.91,308.2L67.77,309.29L68.6,309.78L69.44,309.53L70.36,308.42L71.4,306.29L72.6,302.74L73.93,297.85L75.33,292.26L76.74,286.57L78.13,281.39L79.47,276.57L80.82,271.69L82.16,267L83.51,262.74L84.85,259.18L86.2,256.11L87.54,253.37L88.89,251.25L90.24,250.02L91.58,249.99L92.93,251.32L94.27,253.83L95.62,257.25L96.96,261.29L98.31,265.69L99.67,270.83L101.05,276.9L102.43,283.31L103.76,289.47L105.04,294.8L106.23,299.47L107.36,303.88L108.45,307.76L109.54,310.82L110.64,312.8L111.75,313.68L112.83,313.65L113.93,312.72L115.06,310.9L116.25,308.2L117.52,304.34L118.86,299.3L120.23,293.51L121.61,287.4L122.98,281.39L124.36,274.97L125.78,267.86L127.18,260.81L128.5,254.6L129.71,249.99L130.71,247.05L131.55,245.3L132.34,244.58L133.19,244.78L134.19,245.77L135.39,247.78L136.72,250.9L138.12,254.77L139.54,259.05L140.92,263.39L142.28,267.95L143.66,272.95L145.04,278.17L146.37,283.36L147.65,288.29L148.84,293.32L149.97,298.63L151.07,303.65L152.15,307.79L153.25,310.5L154.36,311.75L155.44,311.91L156.54,311.03L157.67,309.15L158.86,306.29L160.13,302.01L161.45,296.29L162.81,289.8L164.19,283.2L165.59,277.18L167,271.19L168.43,264.79L169.88,258.79L171.35,253.97L172.85,251.14L174.4,250.72L176,252.19L177.61,254.9L179.19,258.21L180.7,261.48L182.13,264.77L183.52,268.51L184.87,272.61L186.17,276.94L187.43,281.39L188.62,286.35L189.75,291.87L190.84,297.41L191.93,302.4L193.03,306.29L194.15,308.97L195.28,310.84L196.4,312.01L197.52,312.62L198.64,312.8L199.76,312.65L200.88,312.11L202,310.98L203.13,309.1L204.25,306.29L205.37,302.27L206.49,297.15L207.61,291.37L208.73,285.34L209.85,279.48L210.94,273.09L211.99,265.91L213.06,258.96L214.19,253.3L215.46,249.99L216.9,249.49L218.49,251.12L220.14,254.14L221.78,257.84L223.31,261.48L224.73,265.26L226.08,269.68L227.4,274.43L228.71,279.2L230.04,283.69L231.4,288.06L232.78,292.5L234.15,296.79L235.49,300.7L236.76,303.99L237.96,306.7L239.09,308.98L240.18,310.79L241.27,312.08L242.37,312.8L243.47,313.12L244.56,313.08L245.65,312.42L246.79,310.88L247.98,308.2L249.27,304.08L250.64,298.69L252.04,292.48L253.41,285.93L254.71,279.48L255.86,272.26L256.92,263.98L257.96,255.94L259.07,249.43L260.31,245.77L261.76,245.61L263.34,248.07L265,252.19L266.63,256.98L268.16,261.48L269.6,265.88L270.99,270.85L272.33,276.06L273.63,281.21L274.89,285.99L276.08,290.54L277.21,295.07L278.31,299.36L279.39,303.18L280.5,306.29L281.62,308.65L282.74,310.42L283.86,311.66L284.98,312.43L286.1,312.8L287.1,313.41L287.97,314.22L288.91,314.27L290.09,312.58L291.71,308.2L293.98,299.21L296.77,286.26L299.76,272.21L302.65,259.93L305.09,252.28L307.05,250.14L308.74,251.58L310.23,255.32L311.6,260.07L312.94,264.54L314.21,269.13L315.35,274.69L316.41,280.64L317.46,286.39L318.55,291.35L319.67,295.54L320.79,299.34L321.91,302.74L323.03,305.7L324.15,308.2L325.28,310.27L326.4,311.92L327.52,313.12L328.64,313.81L329.76,313.95L330.88,313.64L332,312.91L333.13,311.61L334.25,309.58L335.37,306.67L336.49,302.61L337.61,297.5L338.73,291.74L339.85,285.73L340.97,279.86L342.06,273.4L343.11,266.09L344.18,259.02L345.32,253.29L346.58,249.99L348.01,249.54L349.56,251.21L351.18,254.37L352.82,258.39L354.43,262.62L356.04,267.52L357.68,273.51L359.3,279.92L360.85,286.08L362.28,291.35L363.58,295.74L364.79,299.7L365.91,303.18L366.94,306.16L367.89,308.59L368.67,310.43L369.29,311.7L369.85,312.48L370.47,312.83L371.25,312.8L372.21,312.63L373.28,312.27L374.43,311.38L375.63,309.63L376.86,306.67L378.15,302.1L379.52,296.16L380.92,289.44L382.29,282.53L383.58,276.03L384.74,269.2L385.8,261.64L386.84,254.47L387.94,248.8L389.19,245.77L390.62,245.94L392.17,248.55L393.79,252.77L395.44,257.74L397.04,262.62L398.59,267.8L400.13,273.83L401.67,280.14L403.25,286.17L404.89,291.35L406.65,295.9L408.51,300.2L410.38,303.91L412.19,306.69L413.86,308.2L415.35,308.63L416.71,308.2L418.01,306.64L419.28,303.67L420.59,299.01L421.99,291.46L423.43,281.2L424.86,270.05L426.18,259.8L427.32,252.28L428.15,247.8L428.73,245.15L429.24,243.85L429.87,243.45L430.81,243.48L432.16,244.04L433.79,245.45L435.56,247.54L437.33,250.13L438.95,253.05L440.44,256.43L441.88,260.39L443.28,264.73L444.63,269.25L445.93,273.73L447.2,278.53L448.45,283.78L449.64,288.97L450.75,293.58L451.74,297.1L452.53,299.36L453.14,300.73L453.7,301.42L454.35,301.66L455.23,301.69L456.4,301.66L457.77,301.42L459.25,300.73L460.76,299.36L462.21,297.1L463.62,293.7L465.06,289.32L466.48,284.31L467.87,279L469.19,273.73L470.44,268.12L471.65,261.92L472.81,255.74L473.93,250.16L475,245.77L475.99,242.6L476.89,240.24L477.76,238.67L478.67,237.84L479.65,237.73L480.72,238.27L481.84,239.48L483,241.45L484.21,244.29L485.47,248.07L486.82,253.34L488.28,260.05L489.76,267.37L491.18,274.49L492.44,280.63L493.54,285.73L494.53,290.34L495.43,294.51L496.27,298.27L497.09,301.69L497.85,304.93L498.52,307.97L499.16,310.53L499.83,312.36L500.58,313.18L501.4,313.08L502.25,312.23L503.15,310.51L504.13,307.8L505.23,303.99L506.5,298.55L507.91,291.56L509.39,283.81L510.85,276.08L512.21,269.14L513.47,262.84L514.67,256.67L515.84,250.84L516.95,245.6L518.02,241.18L519.03,237.49L519.97,234.4L520.87,232L521.76,230.4L522.67,229.69L523.59,229.94L524.48,231.08L525.38,233.02L526.32,235.66L527.33,238.88L528.43,242.81L529.62,247.52L530.84,252.82L532.03,258.56L533.14,264.54L534.18,271.41L535.2,279.27L536.15,287.19L537.03,294.21L537.79,299.39L538.35,302.32L538.72,303.63L539.05,303.93L539.47,303.85L540.12,303.99L541.06,304.58L542.19,305.22L543.44,305.56L544.71,305.26L545.93,303.99L547.13,301.39L548.37,297.7L549.59,293.44L550.73,289.1L551.74,285.22L552.65,281.58L553.47,277.82L554.2,274.28L554.8,271.28L555.23,269.14" fill="none" stroke="#ff6a1a" stroke-width="3.8" stroke-linejoin="round"/><path d="M40,265.07L40.97,262.95L42.37,259.82L43.96,256.34L45.49,253.22L46.73,251.14L47.58,250.15L48.21,249.79L48.75,250.01L49.33,250.75L50.09,251.94L51.05,253.54L52.12,255.59L53.27,258.16L54.47,261.3L55.7,265.07L57.01,269.91L58.42,275.75L59.84,281.94L61.21,287.84L62.43,292.8L63.47,296.94L64.38,300.67L65.23,303.87L66.05,306.43L66.91,308.2L67.77,309.29L68.6,309.78L69.44,309.53L70.36,308.41L71.4,306.28L72.6,302.72L73.93,297.82L75.33,292.18L76.74,286.42L78.13,281.16L79.47,276.24L80.82,271.24L82.16,266.42L83.51,262.02L84.85,258.33L86.2,255.13L87.54,252.27L88.89,250.05L90.24,248.77L91.58,248.73L92.93,250.13L94.27,252.76L95.62,256.32L96.96,260.52L98.31,265.07L99.67,270.36L101.05,276.58L102.43,283.11L103.76,289.36L105.04,294.74L106.23,299.44L107.36,303.87L108.45,307.75L109.54,310.82L110.64,312.8L111.75,313.68L112.83,313.65L113.93,312.72L115.06,310.9L116.25,308.2L117.52,304.32L118.86,299.27L120.23,293.44L121.61,287.26L122.98,281.16L124.36,274.61L125.78,267.3L127.18,260.02L128.5,253.56L129.71,248.73L130.71,245.65L131.55,243.8L132.34,243.04L133.19,243.26L134.19,244.3L135.39,246.42L136.72,249.69L138.12,253.74L139.54,258.2L140.92,262.69L142.28,267.4L143.66,272.54L145.04,277.88L146.37,283.16L147.65,288.16L148.84,293.25L149.97,298.6L151.07,303.63L152.15,307.79L153.25,310.5L154.36,311.75L155.44,311.91L156.54,311.03L157.67,309.14L158.86,306.28L160.13,301.99L161.45,296.24L162.81,289.69L164.19,283L165.59,276.86L167,270.73L168.43,264.14L169.88,257.92L171.35,252.9L172.85,249.94L174.4,249.5L176,251.04L177.61,253.88L179.19,257.32L180.7,260.71L182.13,264.12L183.52,267.98L184.87,272.19L186.17,276.62L187.43,281.16L188.62,286.19L189.75,291.79L190.84,297.37L191.93,302.39L193.03,306.28L194.15,308.97L195.28,310.84L196.4,312.01L197.52,312.62L198.64,312.8L199.76,312.65L200.88,312.11L202,310.98L203.13,309.09L204.25,306.28L205.37,302.25L206.49,297.11L207.61,291.28L208.73,285.17L209.85,279.21L210.94,272.69L211.99,265.29L213.06,258.1L214.19,252.21L215.46,248.73L216.9,248.21L218.49,249.92L220.14,253.08L221.78,256.93L223.31,260.71L224.73,264.63L226.08,269.18L227.4,274.05L228.71,278.93L230.04,283.5L231.4,287.93L232.78,292.42L234.15,296.74L235.49,300.67L236.76,303.98L237.96,306.7L239.09,308.98L240.18,310.79L241.27,312.08L242.37,312.8L243.47,313.12L244.56,313.08L245.65,312.42L246.79,310.88L247.98,308.2L249.27,304.07L250.64,298.65L252.04,292.4L253.41,285.77L254.71,279.21L255.86,271.83L256.92,263.31L257.96,254.95L259.07,248.15L260.31,244.3L261.76,244.13L263.34,246.72L265,251.04L266.63,256.04L268.16,260.71L269.6,265.27L270.99,270.38L272.33,275.72L273.63,280.98L274.89,285.83L276.08,290.44L277.21,295.01L278.31,299.33L279.39,303.16L280.5,306.28L281.62,308.65L282.74,310.42L283.86,311.65L284.98,312.43L286.1,312.8L287.1,313.41L287.97,314.22L288.91,314.27L290.09,312.58L291.71,308.2L293.98,299.18L296.77,286.1L299.76,271.77L302.65,259.1L305.09,251.14L307.05,248.89L308.74,250.4L310.23,254.31L311.6,259.25L312.94,263.88L314.21,268.61L315.35,274.32L316.41,280.4L317.46,286.24L318.55,291.26L319.67,295.48L320.79,299.31L321.91,302.72L323.03,305.69L324.15,308.2L325.28,310.27L326.4,311.92L327.52,313.12L328.64,313.81L329.76,313.95L330.88,313.64L332,312.91L333.13,311.61L334.25,309.58L335.37,306.66L336.49,302.59L337.61,297.46L338.73,291.65L339.85,285.57L340.97,279.6L342.06,273L343.11,265.48L344.18,258.16L345.32,252.19L346.58,248.73L348.01,248.26L349.56,250.01L351.18,253.32L352.82,257.5L354.43,261.9L356.04,266.96L357.68,273.11L359.3,279.66L360.85,285.93L362.28,291.26L363.58,295.69L364.79,299.67L365.91,303.17L366.94,306.15L367.89,308.58L368.67,310.43L369.29,311.7L369.85,312.48L370.47,312.83L371.25,312.8L372.21,312.63L373.28,312.27L374.43,311.38L375.63,309.63L376.86,306.66L378.15,302.09L379.52,296.11L380.92,289.32L382.29,282.31L383.58,275.69L384.74,268.69L385.8,260.88L386.84,253.42L387.94,247.49L389.19,244.3L390.62,244.48L392.17,247.23L393.79,251.65L395.44,256.83L397.04,261.9L398.59,267.25L400.13,273.44L401.67,279.89L403.25,286.02L404.89,291.26L406.65,295.84L408.51,300.17L410.38,303.89L412.19,306.68L413.86,308.2L415.35,308.63L416.71,308.2L418.01,306.63L419.28,303.65L420.59,298.98L421.99,291.37L423.43,280.97L424.86,269.56L426.18,258.98L427.32,251.14L428.15,246.44L428.73,243.64L429.24,242.28L429.87,241.85L430.81,241.88L432.16,242.47L433.79,243.96L435.56,246.16L437.33,248.88L438.95,251.94L440.44,255.47L441.88,259.59L443.28,264.08L444.63,268.73L445.93,273.34L447.2,278.25L448.45,283.59L449.64,288.85L450.75,293.51L451.74,297.05L452.53,299.33L453.14,300.7L453.7,301.39L454.35,301.64L455.23,301.67L456.4,301.64L457.77,301.39L459.25,300.7L460.76,299.33L462.21,297.05L463.62,293.63L465.06,289.21L466.48,284.13L467.87,278.72L469.19,273.34L470.44,267.57L471.65,261.17L472.81,254.75L473.93,248.92L475,244.3L475.99,240.95L476.89,238.45L477.76,236.78L478.67,235.91L479.65,235.78L480.72,236.35L481.84,237.64L483,239.74L484.21,242.73L485.47,246.72L486.82,252.25L488.28,259.23L489.76,266.8L491.18,274.12L492.44,280.38L493.54,285.57L494.53,290.23L495.43,294.44L496.27,298.24L497.09,301.67L497.85,304.92L498.52,307.97L499.16,310.53L499.83,312.36L500.58,313.18L501.4,313.08L502.25,312.22L503.15,310.51L504.13,307.8L505.23,303.98L506.5,298.51L507.91,291.47L509.39,283.62L510.85,275.74L512.21,268.62L513.47,262.12L514.67,255.71L515.84,249.63L516.95,244.12L518.02,239.44L519.03,235.53L519.97,232.24L520.87,229.67L521.76,227.95L522.67,227.19L523.59,227.46L524.48,228.69L525.38,230.76L526.32,233.58L527.33,237.01L528.43,241.17L529.62,246.14L530.84,251.7L532.03,257.68L533.14,263.88L534.18,270.95L535.2,279L536.15,287.05L537.03,294.15L537.79,299.36L538.35,302.3L538.72,303.62L539.05,303.92L539.47,303.84L540.12,303.98L541.06,304.57L542.19,305.21L543.44,305.55L544.71,305.26L545.93,303.98L547.13,301.37L548.37,297.66L549.59,293.36L550.73,288.99L551.74,285.05L552.65,281.35L553.47,277.52L554.2,273.9L554.8,270.82L555.23,268.62L555.23,269.14L554.8,271.28L554.2,274.28L553.47,277.82L552.65,281.58L551.74,285.22L550.73,289.1L549.59,293.44L548.37,297.7L547.13,301.39L545.93,303.99L544.71,305.26L543.44,305.56L542.19,305.22L541.06,304.58L540.12,303.99L539.47,303.85L539.05,303.93L538.72,303.63L538.35,302.32L537.79,299.39L537.03,294.21L536.15,287.19L535.2,279.27L534.18,271.41L533.14,264.54L532.03,258.56L530.84,252.82L529.62,247.52L528.43,242.81L527.33,238.88L526.32,235.66L525.38,233.02L524.48,231.08L523.59,229.94L522.67,229.69L521.76,230.4L520.87,232L519.97,234.4L519.03,237.49L518.02,241.18L516.95,245.6L515.84,250.84L514.67,256.67L513.47,262.84L512.21,269.14L510.85,276.08L509.39,283.81L507.91,291.56L506.5,298.55L505.23,303.99L504.13,307.8L503.15,310.51L502.25,312.23L501.4,313.08L500.58,313.18L499.83,312.36L499.16,310.53L498.52,307.97L497.85,304.93L497.09,301.69L496.27,298.27L495.43,294.51L494.53,290.34L493.54,285.73L492.44,280.63L491.18,274.49L489.76,267.37L488.28,260.05L486.82,253.34L485.47,248.07L484.21,244.29L483,241.45L481.84,239.48L480.72,238.27L479.65,237.73L478.67,237.84L477.76,238.67L476.89,240.24L475.99,242.6L475,245.77L473.93,250.16L472.81,255.74L471.65,261.92L470.44,268.12L469.19,273.73L467.87,279L466.48,284.31L465.06,289.32L463.62,293.7L462.21,297.1L460.76,299.36L459.25,300.73L457.77,301.42L456.4,301.66L455.23,301.69L454.35,301.66L453.7,301.42L453.14,300.73L452.53,299.36L451.74,297.1L450.75,293.58L449.64,288.97L448.45,283.78L447.2,278.53L445.93,273.73L444.63,269.25L443.28,264.73L441.88,260.39L440.44,256.43L438.95,253.05L437.33,250.13L435.56,247.54L433.79,245.45L432.16,244.04L430.81,243.48L429.87,243.45L429.24,243.85L428.73,245.15L428.15,247.8L427.32,252.28L426.18,259.8L424.86,270.05L423.43,281.2L421.99,291.46L420.59,299.01L419.28,303.67L418.01,306.64L416.71,308.2L415.35,308.63L413.86,308.2L412.19,306.69L410.38,303.91L408.51,300.2L406.65,295.9L404.89,291.35L403.25,286.17L401.67,280.14L400.13,273.83L398.59,267.8L397.04,262.62L395.44,257.74L393.79,252.77L392.17,248.55L390.62,245.94L389.19,245.77L387.94,248.8L386.84,254.47L385.8,261.64L384.74,269.2L383.58,276.03L382.29,282.53L380.92,289.44L379.52,296.16L378.15,302.1L376.86,306.67L375.63,309.63L374.43,311.38L373.28,312.27L372.21,312.63L371.25,312.8L370.47,312.83L369.85,312.48L369.29,311.7L368.67,310.43L367.89,308.59L366.94,306.16L365.91,303.18L364.79,299.7L363.58,295.74L362.28,291.35L360.85,286.08L359.3,279.92L357.68,273.51L356.04,267.52L354.43,262.62L352.82,258.39L351.18,254.37L349.56,251.21L348.01,249.54L346.58,249.99L345.32,253.29L344.18,259.02L343.11,266.09L342.06,273.4L340.97,279.86L339.85,285.73L338.73,291.74L337.61,297.5L336.49,302.61L335.37,306.67L334.25,309.58L333.13,311.61L332,312.91L330.88,313.64L329.76,313.95L328.64,313.81L327.52,313.12L326.4,311.92L325.28,310.27L324.15,308.2L323.03,305.7L321.91,302.74L320.79,299.34L319.67,295.54L318.55,291.35L317.46,286.39L316.41,280.64L315.35,274.69L314.21,269.13L312.94,264.54L311.6,260.07L310.23,255.32L308.74,251.58L307.05,250.14L305.09,252.28L302.65,259.93L299.76,272.21L296.77,286.26L293.98,299.21L291.71,308.2L290.09,312.58L288.91,314.27L287.97,314.22L287.1,313.41L286.1,312.8L284.98,312.43L283.86,311.66L282.74,310.42L281.62,308.65L280.5,306.29L279.39,303.18L278.31,299.36L277.21,295.07L276.08,290.54L274.89,285.99L273.63,281.21L272.33,276.06L270.99,270.85L269.6,265.88L268.16,261.48L266.63,256.98L265,252.19L263.34,248.07L261.76,245.61L260.31,245.77L259.07,249.43L257.96,255.94L256.92,263.98L255.86,272.26L254.71,279.48L253.41,285.93L252.04,292.48L250.64,298.69L249.27,304.08L247.98,308.2L246.79,310.88L245.65,312.42L244.56,313.08L243.47,313.12L242.37,312.8L241.27,312.08L240.18,310.79L239.09,308.98L237.96,306.7L236.76,303.99L235.49,300.7L234.15,296.79L232.78,292.5L231.4,288.06L230.04,283.69L228.71,279.2L227.4,274.43L226.08,269.68L224.73,265.26L223.31,261.48L221.78,257.84L220.14,254.14L218.49,251.12L216.9,249.49L215.46,249.99L214.19,253.3L213.06,258.96L211.99,265.91L210.94,273.09L209.85,279.48L208.73,285.34L207.61,291.37L206.49,297.15L205.37,302.27L204.25,306.29L203.13,309.1L202,310.98L200.88,312.11L199.76,312.65L198.64,312.8L197.52,312.62L196.4,312.01L195.28,310.84L194.15,308.97L193.03,306.29L191.93,302.4L190.84,297.41L189.75,291.87L188.62,286.35L187.43,281.39L186.17,276.94L184.87,272.61L183.52,268.51L182.13,264.77L180.7,261.48L179.19,258.21L177.61,254.9L176,252.19L174.4,250.72L172.85,251.14L171.35,253.97L169.88,258.79L168.43,264.79L167,271.19L165.59,277.18L164.19,283.2L162.81,289.8L161.45,296.29L160.13,302.01L158.86,306.29L157.67,309.15L156.54,311.03L155.44,311.91L154.36,311.75L153.25,310.5L152.15,307.79L151.07,303.65L149.97,298.63L148.84,293.32L147.65,288.29L146.37,283.36L145.04,278.17L143.66,272.95L142.28,267.95L140.92,263.39L139.54,259.05L138.12,254.77L136.72,250.9L135.39,247.78L134.19,245.77L133.19,244.78L132.34,244.58L131.55,245.3L130.71,247.05L129.71,249.99L128.5,254.6L127.18,260.81L125.78,267.86L124.36,274.97L122.98,281.39L121.61,287.4L120.23,293.51L118.86,299.3L117.52,304.34L116.25,308.2L115.06,310.9L113.93,312.72L112.83,313.65L111.75,313.68L110.64,312.8L109.54,310.82L108.45,307.76L107.36,303.88L106.23,299.47L105.04,294.8L103.76,289.47L102.43,283.31L101.05,276.9L99.67,270.83L98.31,265.69L96.96,261.29L95.62,257.25L94.27,253.83L92.93,251.32L91.58,249.99L90.24,250.02L88.89,251.25L87.54,253.37L86.2,256.11L84.85,259.18L83.51,262.74L82.16,267L80.82,271.69L79.47,276.57L78.13,281.39L76.74,286.57L75.33,292.26L73.93,297.85L72.6,302.74L71.4,306.29L70.36,308.42L69.44,309.53L68.6,309.78L67.77,309.29L66.91,308.2L66.05,306.43L65.23,303.88L64.38,300.69L63.47,296.98L62.43,292.88L61.21,287.97L59.84,282.16L58.42,276.09L57.01,270.39L55.7,265.69L54.47,262.04L53.27,259.02L52.12,256.55L51.05,254.59L50.09,253.05L49.33,251.91L48.75,251.21L48.21,251L47.58,251.34L46.73,252.28L45.49,254.27L43.96,257.27L42.37,260.61L40.97,263.64L40,265.69Z" fill="#ff6a1a" stroke="#ff6a1a" stroke-width="3.04" stroke-linejoin="round"/></g>
<path d="M40,303.99L41.41,302.79L43.42,300.96L45.73,299.03L48.06,297.55L50.09,297.1L51.82,297.84L53.45,299.41L54.99,301.53L56.48,303.92L57.94,306.29L59.39,308.84L60.82,311.77L62.19,314.76L63.49,317.51L64.67,319.69L65.64,321.4L66.41,322.83L67.15,323.87L68.01,324.39L69.15,324.29L70.59,323.47L72.2,322.03L74,320.07L75.97,317.72L78.13,315.1L80.57,311.56L83.29,307.02L86.14,302.46L88.96,298.83L91.58,297.1L94.04,297.76L96.44,300.18L98.74,303.6L100.87,307.29L102.79,310.5L104.43,313.47L105.81,316.7L107.05,319.83L108.25,322.48L109.52,324.29L110.83,325.3L112.11,325.77L113.4,325.61L114.76,324.76L116.25,323.14L117.9,320.28L119.68,316.24L121.53,311.71L123.39,307.4L125.22,303.99L127.02,301.38L128.81,299.09L130.6,297.31L132.4,296.2L134.19,295.95L135.99,296.72L137.78,298.39L139.57,300.72L141.37,303.43L143.16,306.29L144.99,309.68L146.86,313.8L148.71,318.02L150.48,321.72L152.13,324.29L153.59,325.8L154.88,326.67L156.12,326.78L157.41,326.02L158.86,324.29L160.5,320.93L162.26,316.01L164.1,310.52L165.97,305.42L167.83,301.69L169.76,299.47L171.78,298.12L173.79,297.41L175.67,297.14L177.33,297.1L178.69,297.21L179.8,297.63L180.8,298.45L181.81,299.77L182.94,301.69L184.22,304.62L185.55,308.48L186.92,312.68L188.31,316.61L189.67,319.69L190.98,322.01L192.25,323.97L193.54,325.42L194.91,326.21L196.4,326.2L198.07,325.18L199.88,323.25L201.75,320.72L203.61,317.89L205.37,315.1L206.97,312.1L208.48,308.7L209.97,305.23L211.52,302.02L213.22,299.39L215.15,297.18L217.25,295.17L219.41,293.61L221.47,292.76L223.31,292.88L224.87,294.21L226.24,296.59L227.51,299.64L228.75,302.99L230.04,306.29L231.4,309.81L232.78,313.82L234.15,317.86L235.49,321.5L236.76,324.29L237.92,326.26L238.98,327.7L240.02,328.58L241.12,328.86L242.37,328.5L243.78,327.41L245.3,325.6L246.89,323.23L248.54,320.45L250.22,317.39L252,313.63L253.89,309.07L255.79,304.36L257.59,300.15L259.19,297.1L260.49,295.3L261.57,294.33L262.56,294.02L263.59,294.23L264.8,294.8L266.24,295.76L267.83,297.22L269.48,299.13L271.11,301.4L272.65,303.99L274.06,307.21L275.42,311.11L276.74,315.19L278.05,318.98L279.38,321.99L280.69,324.31L281.96,326.27L283.25,327.72L284.61,328.51L286.1,328.5L287.68,327.59L289.32,325.88L291.06,323.51L292.96,320.63L295.07,317.39L297.54,313L300.32,307.34L303.21,301.63L305.99,297.05L308.46,294.8L310.53,295.47L312.36,298.27L314.05,302.3L315.7,306.67L317.43,310.5L319.18,314.26L320.91,318.56L322.65,322.65L324.46,325.83L326.4,327.35L328.46,326.84L330.61,324.77L332.86,321.73L335.19,318.31L337.61,315.1L340.23,311.55L343.05,307.29L345.9,303.11L348.63,299.83L351.07,298.24L353.15,298.78L354.98,300.89L356.66,303.95L358.31,307.36L360.04,310.5L361.8,313.85L363.52,317.82L365.26,321.69L367.07,324.72L369.01,326.2L371.07,325.86L373.22,324.17L375.47,321.54L377.8,318.38L380.22,315.1L382.84,310.92L385.66,305.59L388.51,300.23L391.24,296L393.68,294.03L395.76,294.97L397.59,298.04L399.27,302.3L400.93,306.78L402.65,310.5L404.5,313.62L406.4,316.78L408.27,319.76L410.04,322.33L411.62,324.29L412.88,325.68L413.89,326.64L414.82,327.11L415.87,326.99L417.22,326.2L419.04,324.5L421.2,321.94L423.46,318.9L425.57,315.72L427.32,312.8L428.56,309.96L429.46,306.96L430.21,304.04L430.98,301.44L431.98,299.39L433.22,297.85L434.6,296.64L436.05,295.85L437.52,295.59L438.95,295.95L440.37,297.11L441.8,299.02L443.22,301.38L444.61,303.9L445.93,306.29L447.19,308.77L448.4,311.55L449.56,314.27L450.67,316.59L451.74,318.16L452.73,318.69L453.63,318.42L454.51,317.76L455.41,317.16L456.4,317.01L457.47,317.65L458.58,318.79L459.74,319.96L460.95,320.68L462.21,320.46L463.46,319.08L464.69,316.85L466,314.12L467.47,311.25L469.19,308.59L471.25,305.67L473.61,302.26L476.11,299.05L478.56,296.72L480.81,295.95L482.86,297.18L484.81,299.97L486.67,303.64L488.44,307.5L490.12,310.88L491.7,313.92L493.19,317.07L494.58,320.11L495.88,322.84L497.09,325.05L498.13,326.77L499.01,328.13L499.83,329.1L500.7,329.62L501.74,329.65L502.95,329.23L504.26,328.4L505.65,327.09L507.14,325.23L508.72,322.76L510.49,319.2L512.44,314.61L514.44,309.69L516.35,305.15L518.02,301.69L519.37,299.34L520.49,297.63L521.51,296.52L522.58,295.97L523.84,295.95L525.33,296.5L526.98,297.66L528.69,299.34L530.39,301.47L531.98,303.99L533.5,307.28L535.02,311.4L536.47,315.75L537.8,319.74L538.95,322.76L539.93,324.66L540.77,325.84L541.47,326.52L542.02,326.95L542.44,327.35" fill="none" stroke="#ff7f00" stroke-width="1.6" stroke-dasharray="7,4.5"/>
<path d="M40,265.69L40.97,263.64L42.37,260.61L43.96,257.27L45.49,254.27L46.73,252.28L47.58,251.34L48.21,251L48.75,251.21L49.33,251.91L50.09,253.05L51.05,254.59L52.12,256.55L53.27,259.02L54.47,262.04L55.7,265.69L57.01,270.39L58.42,276.09L59.84,282.16L61.21,287.97L62.43,292.88L63.47,296.98L64.38,300.69L65.23,303.88L66.05,306.43L66.91,308.2L67.77,309.29L68.6,309.78L69.44,309.53L70.36,308.42L71.4,306.29L72.6,302.74L73.93,297.85L75.33,292.26L76.74,286.57L78.13,281.39L79.47,276.57L80.82,271.69L82.16,267L83.51,262.74L84.85,259.18L86.2,256.11L87.54,253.37L88.89,251.25L90.24,250.02L91.58,249.99L92.93,251.32L94.27,253.83L95.62,257.25L96.96,261.29L98.31,265.69L99.67,270.83L101.05,276.9L102.43,283.31L103.76,289.47L105.04,294.8L106.23,299.47L107.36,303.88L108.45,307.76L109.54,310.82L110.64,312.8L111.75,313.68L112.83,313.65L113.93,312.72L115.06,310.9L116.25,308.2L117.52,304.34L118.86,299.3L120.23,293.51L121.61,287.4L122.98,281.39L124.36,274.97L125.78,267.86L127.18,260.81L128.5,254.6L129.71,249.99L130.71,247.05L131.55,245.3L132.34,244.58L133.19,244.78L134.19,245.77L135.39,247.78L136.72,250.9L138.12,254.77L139.54,259.05L140.92,263.39L142.28,267.95L143.66,272.95L145.04,278.17L146.37,283.36L147.65,288.29L148.84,293.32L149.97,298.63L151.07,303.65L152.15,307.79L153.25,310.5L154.36,311.75L155.44,311.91L156.54,311.03L157.67,309.15L158.86,306.29L160.13,302.01L161.45,296.29L162.81,289.8L164.19,283.2L165.59,277.18L167,271.19L168.43,264.79L169.88,258.79L171.35,253.97L172.85,251.14L174.4,250.72L176,252.19L177.61,254.9L179.19,258.21L180.7,261.48L182.13,264.77L183.52,268.51L184.87,272.61L186.17,276.94L187.43,281.39L188.62,286.35L189.75,291.87L190.84,297.41L191.93,302.4L193.03,306.29L194.15,308.97L195.28,310.84L196.4,312.01L197.52,312.62L198.64,312.8L199.76,312.65L200.88,312.11L202,310.98L203.13,309.1L204.25,306.29L205.37,302.27L206.49,297.15L207.61,291.37L208.73,285.34L209.85,279.48L210.94,273.09L211.99,265.91L213.06,258.96L214.19,253.3L215.46,249.99L216.9,249.49L218.49,251.12L220.14,254.14L221.78,257.84L223.31,261.48L224.73,265.26L226.08,269.68L227.4,274.43L228.71,279.2L230.04,283.69L231.4,288.06L232.78,292.5L234.15,296.79L235.49,300.7L236.76,303.99L237.96,306.7L239.09,308.98L240.18,310.79L241.27,312.08L242.37,312.8L243.47,313.12L244.56,313.08L245.65,312.42L246.79,310.88L247.98,308.2L249.27,304.08L250.64,298.69L252.04,292.48L253.41,285.93L254.71,279.48L255.86,272.26L256.92,263.98L257.96,255.94L259.07,249.43L260.31,245.77L261.76,245.61L263.34,248.07L265,252.19L266.63,256.98L268.16,261.48L269.6,265.88L270.99,270.85L272.33,276.06L273.63,281.21L274.89,285.99L276.08,290.54L277.21,295.07L278.31,299.36L279.39,303.18L280.5,306.29L281.62,308.65L282.74,310.42L283.86,311.66L284.98,312.43L286.1,312.8L287.1,313.41L287.97,314.22L288.91,314.27L290.09,312.58L291.71,308.2L293.98,299.21L296.77,286.26L299.76,272.21L302.65,259.93L305.09,252.28L307.05,250.14L308.74,251.58L310.23,255.32L311.6,260.07L312.94,264.54L314.21,269.13L315.35,274.69L316.41,280.64L317.46,286.39L318.55,291.35L319.67,295.54L320.79,299.34L321.91,302.74L323.03,305.7L324.15,308.2L325.28,310.27L326.4,311.92L327.52,313.12L328.64,313.81L329.76,313.95L330.88,313.64L332,312.91L333.13,311.61L334.25,309.58L335.37,306.67L336.49,302.61L337.61,297.5L338.73,291.74L339.85,285.73L340.97,279.86L342.06,273.4L343.11,266.09L344.18,259.02L345.32,253.29L346.58,249.99L348.01,249.54L349.56,251.21L351.18,254.37L352.82,258.39L354.43,262.62L356.04,267.52L357.68,273.51L359.3,279.92L360.85,286.08L362.28,291.35L363.58,295.74L364.79,299.7L365.91,303.18L366.94,306.16L367.89,308.59L368.67,310.43L369.29,311.7L369.85,312.48L370.47,312.83L371.25,312.8L372.21,312.63L373.28,312.27L374.43,311.38L375.63,309.63L376.86,306.67L378.15,302.1L379.52,296.16L380.92,289.44L382.29,282.53L383.58,276.03L384.74,269.2L385.8,261.64L386.84,254.47L387.94,248.8L389.19,245.77L390.62,245.94L392.17,248.55L393.79,252.77L395.44,257.74L397.04,262.62L398.59,267.8L400.13,273.83L401.67,280.14L403.25,286.17L404.89,291.35L406.65,295.9L408.51,300.2L410.38,303.91L412.19,306.69L413.86,308.2L415.35,308.63L416.71,308.2L418.01,306.64L419.28,303.67L420.59,299.01L421.99,291.46L423.43,281.2L424.86,270.05L426.18,259.8L427.32,252.28L428.15,247.8L428.73,245.15L429.24,243.85L429.87,243.45L430.81,243.48L432.16,244.04L433.79,245.45L435.56,247.54L437.33,250.13L438.95,253.05L440.44,256.43L441.88,260.39L443.28,264.73L444.63,269.25L445.93,273.73L447.2,278.53L448.45,283.78L449.64,288.97L450.75,293.58L451.74,297.1L452.53,299.36L453.14,300.73L453.7,301.42L454.35,301.66L455.23,301.69L456.4,301.66L457.77,301.42L459.25,300.73L460.76,299.36L462.21,297.1L463.62,293.7L465.06,289.32L466.48,284.31L467.87,279L469.19,273.73L470.44,268.12L471.65,261.92L472.81,255.74L473.93,250.16L475,245.77L475.99,242.6L476.89,240.24L477.76,238.67L478.67,237.84L479.65,237.73L480.72,238.27L481.84,239.48L483,241.45L484.21,244.29L485.47,248.07L486.82,253.34L488.28,260.05L489.76,267.37L491.18,274.49L492.44,280.63L493.54,285.73L494.53,290.34L495.43,294.51L496.27,298.27L497.09,301.69L497.85,304.93L498.52,307.97L499.16,310.53L499.83,312.36L500.58,313.18L501.4,313.08L502.25,312.23L503.15,310.51L504.13,307.8L505.23,303.99L506.5,298.55L507.91,291.56L509.39,283.81L510.85,276.08L512.21,269.14L513.47,262.84L514.67,256.67L515.84,250.84L516.95,245.6L518.02,241.18L519.03,237.49L519.97,234.4L520.87,232L521.76,230.4L522.67,229.69L523.59,229.94L524.48,231.08L525.38,233.02L526.32,235.66L527.33,238.88L528.43,242.81L529.62,247.52L530.84,252.82L532.03,258.56L533.14,264.54L534.18,271.41L535.2,279.27L536.15,287.19L537.03,294.21L537.79,299.39L538.35,302.32L538.72,303.63L539.05,303.93L539.47,303.85L540.12,303.99L541.06,304.58L542.19,305.22L543.44,305.56L544.71,305.26L545.93,303.99L547.13,301.39L548.37,297.7L549.59,293.44L550.73,289.1L551.74,285.22L552.65,281.58L553.47,277.82L554.2,274.28L554.8,271.28L555.23,269.14" fill="none" stroke="#ff7f00" stroke-width="1.95" stroke-linejoin="round"/>
<g fill="#fff" stroke="#383838" stroke-width="1.05"><circle cx="62.01" cy="293.96" r="2.45"/><circle cx="73.42" cy="306.64" r="2.45"/><circle cx="58.21" cy="273.96" r="2.45"/><circle cx="50.04" cy="241.29" r="2.45"/><circle cx="52.27" cy="250.9" r="2.45"/><circle cx="74.99" cy="287.9" r="2.45"/><circle cx="45" cy="255.71" r="2.45"/><circle cx="68.29" cy="300.36" r="2.45"/><circle cx="54.86" cy="257.62" r="2.45"/><circle cx="63.88" cy="296.28" r="2.45"/><circle cx="56.11" cy="268.95" r="2.45"/><circle cx="52.79" cy="259.8" r="2.45"/><circle cx="46.35" cy="253.12" r="2.45"/><circle cx="64.79" cy="290.66" r="2.45"/><circle cx="72.04" cy="290.52" r="2.45"/><circle cx="56.74" cy="273.32" r="2.45"/><circle cx="56.13" cy="267.26" r="2.45"/><circle cx="58.11" cy="274.97" r="2.45"/><circle cx="60.47" cy="283.43" r="2.45"/><circle cx="66.12" cy="300.38" r="2.45"/><circle cx="42.98" cy="259.65" r="2.45"/><circle cx="43.81" cy="258.1" r="2.45"/><circle cx="48.68" cy="246.21" r="2.45"/><circle cx="65.46" cy="300.23" r="2.45"/><circle cx="66.9" cy="294.29" r="2.45"/><circle cx="58.48" cy="282.79" r="2.45"/><circle cx="59.25" cy="283.01" r="2.45"/><circle cx="71.62" cy="291.67" r="2.45"/><circle cx="65.67" cy="299.01" r="2.45"/><circle cx="45.46" cy="252.59" r="2.45"/><circle cx="43.73" cy="252.3" r="2.45"/><circle cx="71.81" cy="305.48" r="2.45"/><circle cx="70.58" cy="301.86" r="2.45"/><circle cx="68.44" cy="303.72" r="2.45"/><circle cx="69.6" cy="297.46" r="2.45"/><circle cx="49.15" cy="227.77" r="2.45"/><circle cx="49.58" cy="231.99" r="2.45"/><circle cx="93.4" cy="242.28" r="2.45"/><circle cx="108.79" cy="299.31" r="2.45"/><circle cx="100.11" cy="258.76" r="2.45"/><circle cx="111.22" cy="308.38" r="2.45"/><circle cx="111.09" cy="310.2" r="2.45"/><circle cx="97.38" cy="263.82" r="2.45"/><circle cx="106.2" cy="296.94" r="2.45"/><circle cx="97.7" cy="263.02" r="2.45"/><circle cx="109.59" cy="302.06" r="2.45"/><circle cx="91.19" cy="248.09" r="2.45"/><circle cx="94.04" cy="244.79" r="2.45"/><circle cx="91.73" cy="255.52" r="2.45"/><circle cx="96.92" cy="254.5" r="2.45"/><circle cx="91.32" cy="237.86" r="2.45"/><circle cx="89.22" cy="237.15" r="2.45"/><circle cx="104.79" cy="293.13" r="2.45"/><circle cx="103.19" cy="278.7" r="2.45"/><circle cx="109.08" cy="300.62" r="2.45"/><circle cx="105.48" cy="296.11" r="2.45"/><circle cx="102.77" cy="276.93" r="2.45"/><circle cx="112.41" cy="297.6" r="2.45"/><circle cx="96.14" cy="248.04" r="2.45"/><circle cx="98.97" cy="254.3" r="2.45"/><circle cx="90.28" cy="245.41" r="2.45"/><circle cx="92.63" cy="246.18" r="2.45"/><circle cx="92.38" cy="230.07" r="2.45"/><circle cx="135.79" cy="242.6" r="2.45"/><circle cx="145.69" cy="282.63" r="2.45"/><circle cx="152.27" cy="296.82" r="2.45"/><circle cx="143.17" cy="260.48" r="2.45"/><circle cx="152.21" cy="297.7" r="2.45"/><circle cx="148.67" cy="289.6" r="2.45"/><circle cx="141.78" cy="258.07" r="2.45"/><circle cx="139.43" cy="245.65" r="2.45"/><circle cx="145.31" cy="272.49" r="2.45"/><circle cx="133.37" cy="246.7" r="2.45"/><circle cx="133.65" cy="253.97" r="2.45"/><circle cx="145.42" cy="276.86" r="2.45"/><circle cx="152.32" cy="299.51" r="2.45"/><circle cx="160.92" cy="303.85" r="2.45"/><circle cx="155.55" cy="285.39" r="2.45"/><circle cx="160.05" cy="299.9" r="2.45"/><circle cx="133.91" cy="240.06" r="2.45"/><circle cx="140.44" cy="259.95" r="2.45"/><circle cx="150.8" cy="302.97" r="2.45"/><circle cx="158.1" cy="304.94" r="2.45"/><circle cx="134.01" cy="243.52" r="2.45"/><circle cx="151.46" cy="295.13" r="2.45"/><circle cx="153.06" cy="310.66" r="2.45"/><circle cx="142.4" cy="263.17" r="2.45"/><circle cx="154.24" cy="306.38" r="2.45"/><circle cx="144.77" cy="281.32" r="2.45"/><circle cx="140.17" cy="256.17" r="2.45"/><circle cx="156.25" cy="303.48" r="2.45"/><circle cx="135.06" cy="245.34" r="2.45"/><circle cx="136.93" cy="250.45" r="2.45"/><circle cx="154.24" cy="294.5" r="2.45"/><circle cx="159.39" cy="292.98" r="2.45"/><circle cx="145.73" cy="281.87" r="2.45"/><circle cx="147.78" cy="287.76" r="2.45"/><circle cx="153.79" cy="306.93" r="2.45"/><circle cx="139.01" cy="249.02" r="2.45"/><circle cx="150.08" cy="299.8" r="2.45"/><circle cx="160.32" cy="294.38" r="2.45"/><circle cx="159.5" cy="291.59" r="2.45"/><circle cx="136.05" cy="242.8" r="2.45"/><circle cx="135.49" cy="252.29" r="2.45"/><circle cx="153.71" cy="303.2" r="2.45"/><circle cx="162.21" cy="279.25" r="2.45"/><circle cx="144.34" cy="262.52" r="2.45"/><circle cx="136.2" cy="249.91" r="2.45"/><circle cx="190.57" cy="291.29" r="2.45"/><circle cx="204.36" cy="297.37" r="2.45"/><circle cx="196.4" cy="306.6" r="2.45"/><circle cx="186.27" cy="266.52" r="2.45"/><circle cx="200.33" cy="299.73" r="2.45"/><circle cx="202.33" cy="299.64" r="2.45"/><circle cx="184.58" cy="248.66" r="2.45"/><circle cx="175.49" cy="251.93" r="2.45"/><circle cx="188.72" cy="291.78" r="2.45"/><circle cx="180.58" cy="250.43" r="2.45"/><circle cx="187.8" cy="279.23" r="2.45"/><circle cx="202.53" cy="305.87" r="2.45"/><circle cx="197.39" cy="296.88" r="2.45"/><circle cx="180.29" cy="248.81" r="2.45"/><circle cx="190.42" cy="285.25" r="2.45"/><circle cx="175.53" cy="257.91" r="2.45"/><circle cx="192.45" cy="294.59" r="2.45"/><circle cx="194.55" cy="296.04" r="2.45"/><circle cx="185.69" cy="260.16" r="2.45"/><circle cx="198.49" cy="309.26" r="2.45"/><circle cx="204.16" cy="295.8" r="2.45"/><circle cx="200.23" cy="308.44" r="2.45"/><circle cx="177.28" cy="253.09" r="2.45"/><circle cx="194.52" cy="293.75" r="2.45"/><circle cx="175.87" cy="262.42" r="2.45"/><circle cx="203.15" cy="300.62" r="2.45"/><circle cx="174.59" cy="258.45" r="2.45"/><circle cx="178.31" cy="258.07" r="2.45"/><circle cx="202.26" cy="298.39" r="2.45"/><circle cx="180.15" cy="244.36" r="2.45"/><circle cx="196.51" cy="294.02" r="2.45"/><circle cx="182.67" cy="262.28" r="2.45"/><circle cx="195.22" cy="300.32" r="2.45"/><circle cx="183.12" cy="248.04" r="2.45"/><circle cx="190.14" cy="293.22" r="2.45"/><circle cx="189.28" cy="288.62" r="2.45"/><circle cx="200.51" cy="297.96" r="2.45"/><circle cx="175.93" cy="246.33" r="2.45"/><circle cx="174.84" cy="255.81" r="2.45"/><circle cx="195.58" cy="300.58" r="2.45"/><circle cx="193.37" cy="306.08" r="2.45"/><circle cx="178.64" cy="251.33" r="2.45"/><circle cx="178.64" cy="246.2" r="2.45"/><circle cx="187.91" cy="279.42" r="2.45"/><circle cx="197.56" cy="303.82" r="2.45"/><circle cx="179.7" cy="235.81" r="2.45"/><circle cx="221.05" cy="237.34" r="2.45"/><circle cx="229.99" cy="268.82" r="2.45"/><circle cx="239.03" cy="305.19" r="2.45"/><circle cx="220.53" cy="246.14" r="2.45"/><circle cx="238.27" cy="309.75" r="2.45"/><circle cx="236.52" cy="290.86" r="2.45"/><circle cx="231.39" cy="286.71" r="2.45"/><circle cx="237.74" cy="299.52" r="2.45"/><circle cx="241.46" cy="311.89" r="2.45"/><circle cx="233.26" cy="289.45" r="2.45"/><circle cx="218.93" cy="252.85" r="2.45"/><circle cx="231.87" cy="288.85" r="2.45"/><circle cx="232.71" cy="282.47" r="2.45"/><circle cx="240.64" cy="310.73" r="2.45"/><circle cx="243.18" cy="293.82" r="2.45"/><circle cx="220.8" cy="245.61" r="2.45"/><circle cx="222.13" cy="238.35" r="2.45"/><circle cx="221.6" cy="244.04" r="2.45"/><circle cx="222.3" cy="243.21" r="2.45"/><circle cx="222.13" cy="247.69" r="2.45"/><circle cx="222.58" cy="239.56" r="2.45"/><circle cx="222.9" cy="252.64" r="2.45"/><circle cx="238.81" cy="307.09" r="2.45"/><circle cx="235.37" cy="296.82" r="2.45"/><circle cx="218.79" cy="252.2" r="2.45"/><circle cx="224.38" cy="253.56" r="2.45"/><circle cx="240.84" cy="308.51" r="2.45"/><circle cx="241.43" cy="310.82" r="2.45"/><circle cx="224.78" cy="254.65" r="2.45"/><circle cx="237.98" cy="298.71" r="2.45"/><circle cx="233.17" cy="279.53" r="2.45"/><circle cx="236.05" cy="306.27" r="2.45"/><circle cx="226.61" cy="252.68" r="2.45"/><circle cx="225.77" cy="252.15" r="2.45"/><circle cx="242.14" cy="306.14" r="2.45"/><circle cx="241.59" cy="303" r="2.45"/><circle cx="236.51" cy="301.21" r="2.45"/><circle cx="229.53" cy="269.65" r="2.45"/><circle cx="240.86" cy="306.74" r="2.45"/><circle cx="229.78" cy="267.76" r="2.45"/><circle cx="222.07" cy="237.73" r="2.45"/><circle cx="268.97" cy="253.77" r="2.45"/><circle cx="264.56" cy="250.7" r="2.45"/><circle cx="266.86" cy="258.82" r="2.45"/><circle cx="261.07" cy="242.46" r="2.45"/><circle cx="262.49" cy="257.38" r="2.45"/><circle cx="264.48" cy="254.74" r="2.45"/><circle cx="268.95" cy="244.87" r="2.45"/><circle cx="266.91" cy="240.93" r="2.45"/><circle cx="262.74" cy="261.76" r="2.45"/><circle cx="268.08" cy="241.01" r="2.45"/><circle cx="267.74" cy="250.67" r="2.45"/><circle cx="264.13" cy="249.86" r="2.45"/><circle cx="267.17" cy="253.1" r="2.45"/><circle cx="268.39" cy="265.8" r="2.45"/><circle cx="267" cy="243.73" r="2.45"/><circle cx="265.3" cy="222.41" r="2.45"/><circle cx="264.43" cy="226.24" r="2.45"/><circle cx="266.16" cy="229.3" r="2.45"/><circle cx="284.69" cy="303.36" r="2.45"/><circle cx="283.87" cy="292.15" r="2.45"/><circle cx="284.24" cy="302.15" r="2.45"/><circle cx="284.87" cy="300.53" r="2.45"/><circle cx="283.68" cy="298.27" r="2.45"/><circle cx="325.43" cy="303.27" r="2.45"/><circle cx="305.38" cy="245.82" r="2.45"/><circle cx="328.44" cy="299.39" r="2.45"/><circle cx="315.27" cy="254.76" r="2.45"/><circle cx="305.97" cy="241.94" r="2.45"/><circle cx="328.17" cy="299.69" r="2.45"/><circle cx="312.51" cy="256.21" r="2.45"/><circle cx="310.79" cy="251.41" r="2.45"/><circle cx="333.32" cy="296.96" r="2.45"/><circle cx="319.83" cy="287.98" r="2.45"/><circle cx="321.79" cy="306.55" r="2.45"/><circle cx="330.97" cy="308.73" r="2.45"/><circle cx="305.05" cy="258.04" r="2.45"/><circle cx="309.76" cy="242.4" r="2.45"/><circle cx="312.76" cy="258.72" r="2.45"/><circle cx="321.43" cy="295.6" r="2.45"/><circle cx="319.59" cy="283.22" r="2.45"/><circle cx="327.86" cy="307.42" r="2.45"/><circle cx="304.92" cy="271.42" r="2.45"/><circle cx="315.43" cy="271.08" r="2.45"/><circle cx="314.21" cy="258.96" r="2.45"/><circle cx="309.37" cy="257.46" r="2.45"/><circle cx="306.66" cy="244.89" r="2.45"/><circle cx="320.5" cy="293.35" r="2.45"/><circle cx="310.89" cy="250.48" r="2.45"/><circle cx="325.47" cy="298.32" r="2.45"/><circle cx="321.75" cy="295.79" r="2.45"/><circle cx="306.7" cy="245.29" r="2.45"/><circle cx="329.15" cy="306.52" r="2.45"/><circle cx="315.78" cy="269.98" r="2.45"/><circle cx="316.77" cy="271.22" r="2.45"/><circle cx="321.61" cy="295.81" r="2.45"/><circle cx="327.58" cy="311.6" r="2.45"/><circle cx="306.44" cy="247.68" r="2.45"/><circle cx="318.99" cy="287.68" r="2.45"/><circle cx="307.54" cy="242.04" r="2.45"/><circle cx="320.12" cy="290.87" r="2.45"/><circle cx="312.74" cy="256.04" r="2.45"/><circle cx="333.24" cy="289.78" r="2.45"/><circle cx="318.22" cy="291.89" r="2.45"/><circle cx="314.37" cy="256.2" r="2.45"/><circle cx="333.87" cy="302.42" r="2.45"/><circle cx="326.95" cy="303.21" r="2.45"/><circle cx="325" cy="295.74" r="2.45"/><circle cx="312.62" cy="249.63" r="2.45"/><circle cx="329.45" cy="303.61" r="2.45"/><circle cx="333.43" cy="296.38" r="2.45"/><circle cx="326.39" cy="305.18" r="2.45"/><circle cx="309.33" cy="246.32" r="2.45"/><circle cx="324.24" cy="299.21" r="2.45"/><circle cx="308.53" cy="226.24" r="2.45"/><circle cx="368.69" cy="288.78" r="2.45"/><circle cx="354.01" cy="248.6" r="2.45"/><circle cx="358.02" cy="266.47" r="2.45"/><circle cx="358.75" cy="260.38" r="2.45"/><circle cx="362.84" cy="295.64" r="2.45"/><circle cx="366.97" cy="306.57" r="2.45"/><circle cx="360.7" cy="270.66" r="2.45"/><circle cx="358.44" cy="260.26" r="2.45"/><circle cx="364.05" cy="291.71" r="2.45"/><circle cx="368.01" cy="299.46" r="2.45"/><circle cx="361.79" cy="279.52" r="2.45"/><circle cx="359.44" cy="273.81" r="2.45"/><circle cx="359.34" cy="273.23" r="2.45"/><circle cx="369.93" cy="301.71" r="2.45"/><circle cx="369.41" cy="300.3" r="2.45"/><circle cx="365.26" cy="296.32" r="2.45"/><circle cx="356.3" cy="254.98" r="2.45"/><circle cx="356.81" cy="254.86" r="2.45"/><circle cx="363.21" cy="290.22" r="2.45"/><circle cx="362.82" cy="283.99" r="2.45"/><circle cx="361.64" cy="277.54" r="2.45"/><circle cx="352.04" cy="249.42" r="2.45"/><circle cx="368" cy="291.17" r="2.45"/><circle cx="366.18" cy="299.15" r="2.45"/><circle cx="350.7" cy="247.82" r="2.45"/><circle cx="369.05" cy="256.88" r="2.45"/><circle cx="415.57" cy="308.88" r="2.45"/><circle cx="410.22" cy="288.2" r="2.45"/><circle cx="415.97" cy="301.78" r="2.45"/><circle cx="394.8" cy="239.75" r="2.45"/><circle cx="418.21" cy="307.33" r="2.45"/><circle cx="410.77" cy="297.6" r="2.45"/><circle cx="404.29" cy="282.5" r="2.45"/><circle cx="394.39" cy="237.96" r="2.45"/><circle cx="416.1" cy="308.52" r="2.45"/><circle cx="411.65" cy="303.42" r="2.45"/><circle cx="396.02" cy="240.14" r="2.45"/><circle cx="416.2" cy="301.77" r="2.45"/><circle cx="415.34" cy="298.81" r="2.45"/><circle cx="402.74" cy="275.02" r="2.45"/><circle cx="405.56" cy="274.14" r="2.45"/><circle cx="402.12" cy="260.11" r="2.45"/><circle cx="397.11" cy="243" r="2.45"/><circle cx="414.29" cy="296.34" r="2.45"/><circle cx="412" cy="290.1" r="2.45"/><circle cx="398.5" cy="248.64" r="2.45"/><circle cx="415.5" cy="303.02" r="2.45"/><circle cx="408.92" cy="302.33" r="2.45"/><circle cx="408.57" cy="300.38" r="2.45"/><circle cx="400.95" cy="266.46" r="2.45"/><circle cx="400.84" cy="256.56" r="2.45"/><circle cx="398.81" cy="255.66" r="2.45"/><circle cx="412.68" cy="313.2" r="2.45"/><circle cx="398.05" cy="244.35" r="2.45"/><circle cx="399.54" cy="249.25" r="2.45"/><circle cx="412.9" cy="304.83" r="2.45"/><circle cx="409.9" cy="277.27" r="2.45"/><circle cx="420.67" cy="296.03" r="2.45"/><circle cx="416.1" cy="299.95" r="2.45"/><circle cx="393.87" cy="251.26" r="2.45"/><circle cx="420.28" cy="291.76" r="2.45"/><circle cx="405.1" cy="270.63" r="2.45"/><circle cx="413.42" cy="300.62" r="2.45"/><circle cx="397.99" cy="263.11" r="2.45"/><circle cx="393.08" cy="240.13" r="2.45"/><circle cx="408.39" cy="303.44" r="2.45"/><circle cx="416.2" cy="295.95" r="2.45"/><circle cx="420.12" cy="286.78" r="2.45"/><circle cx="394.74" cy="245.81" r="2.45"/><circle cx="396.7" cy="249.01" r="2.45"/><circle cx="408.81" cy="295.39" r="2.45"/><circle cx="407.2" cy="287.97" r="2.45"/><circle cx="399.97" cy="262.03" r="2.45"/><circle cx="400.51" cy="260.59" r="2.45"/><circle cx="412.75" cy="302.65" r="2.45"/><circle cx="407.03" cy="290.49" r="2.45"/><circle cx="394.99" cy="209.77" r="2.45"/><circle cx="394.12" cy="226.24" r="2.45"/><circle cx="447.94" cy="275.36" r="2.45"/><circle cx="462.83" cy="291.4" r="2.45"/><circle cx="442.23" cy="244.41" r="2.45"/><circle cx="450.9" cy="287.14" r="2.45"/><circle cx="460.54" cy="292.88" r="2.45"/><circle cx="462.71" cy="290.4" r="2.45"/><circle cx="439.21" cy="248.92" r="2.45"/><circle cx="441.3" cy="244.15" r="2.45"/><circle cx="463.73" cy="296.66" r="2.45"/><circle cx="458.37" cy="293" r="2.45"/><circle cx="436.73" cy="237.8" r="2.45"/><circle cx="462.46" cy="300.85" r="2.45"/><circle cx="445.07" cy="270.86" r="2.45"/><circle cx="455.62" cy="297.6" r="2.45"/><circle cx="457.55" cy="306.98" r="2.45"/><circle cx="451.85" cy="302.25" r="2.45"/><circle cx="437.59" cy="244.48" r="2.45"/><circle cx="450.89" cy="298.25" r="2.45"/><circle cx="461.96" cy="299.75" r="2.45"/><circle cx="446.57" cy="265.57" r="2.45"/><circle cx="456.95" cy="303.15" r="2.45"/><circle cx="449.61" cy="284.31" r="2.45"/><circle cx="437.47" cy="240.45" r="2.45"/><circle cx="445.23" cy="264.7" r="2.45"/><circle cx="452.58" cy="300.71" r="2.45"/><circle cx="463.06" cy="286.12" r="2.45"/><circle cx="441.61" cy="250.46" r="2.45"/><circle cx="445.24" cy="260.19" r="2.45"/><circle cx="450.34" cy="294.28" r="2.45"/><circle cx="435.66" cy="240.86" r="2.45"/><circle cx="444.98" cy="254.84" r="2.45"/><circle cx="438.54" cy="235.76" r="2.45"/><circle cx="442.5" cy="254.1" r="2.45"/><circle cx="445.8" cy="273.15" r="2.45"/><circle cx="443.54" cy="245.65" r="2.45"/><circle cx="452.54" cy="293.84" r="2.45"/><circle cx="456.1" cy="287.36" r="2.45"/><circle cx="437.43" cy="245.95" r="2.45"/><circle cx="436.08" cy="245.35" r="2.45"/><circle cx="443.72" cy="259.9" r="2.45"/><circle cx="439.9" cy="252.31" r="2.45"/><circle cx="435.65" cy="241.5" r="2.45"/><circle cx="453" cy="299.5" r="2.45"/><circle cx="451.72" cy="291.48" r="2.45"/><circle cx="460.64" cy="284.73" r="2.45"/><circle cx="434.94" cy="248.26" r="2.45"/><circle cx="451.21" cy="292.03" r="2.45"/><circle cx="458.99" cy="291.25" r="2.45"/><circle cx="463.59" cy="295.82" r="2.45"/><circle cx="454.81" cy="291.9" r="2.45"/><circle cx="438.22" cy="226.24" r="2.45"/><circle cx="500" cy="295.71" r="2.45"/><circle cx="484.18" cy="241" r="2.45"/><circle cx="493.8" cy="286.85" r="2.45"/><circle cx="502.39" cy="299.34" r="2.45"/><circle cx="491.22" cy="283.03" r="2.45"/><circle cx="497.9" cy="294.36" r="2.45"/><circle cx="489.26" cy="263" r="2.45"/><circle cx="484.55" cy="245.24" r="2.45"/><circle cx="491.1" cy="268.98" r="2.45"/><circle cx="490.14" cy="264.89" r="2.45"/><circle cx="488.05" cy="260.3" r="2.45"/><circle cx="499.2" cy="293.18" r="2.45"/><circle cx="494.6" cy="291.57" r="2.45"/><circle cx="485.75" cy="245" r="2.45"/><circle cx="490.87" cy="269.86" r="2.45"/><circle cx="501.94" cy="305.01" r="2.45"/><circle cx="491.93" cy="276.29" r="2.45"/><circle cx="494.26" cy="287.8" r="2.45"/><circle cx="489.91" cy="271.34" r="2.45"/><circle cx="498.26" cy="295.94" r="2.45"/><circle cx="494.18" cy="278.33" r="2.45"/><circle cx="502.63" cy="309.58" r="2.45"/><circle cx="479.92" cy="237.96" r="2.45"/><circle cx="487.37" cy="261.33" r="2.45"/><circle cx="484.33" cy="246.69" r="2.45"/><circle cx="491" cy="259.29" r="2.45"/><circle cx="502.21" cy="289.95" r="2.45"/><circle cx="491.53" cy="269.92" r="2.45"/><circle cx="498.21" cy="301.07" r="2.45"/><circle cx="490.64" cy="265.4" r="2.45"/><circle cx="498.15" cy="300.05" r="2.45"/><circle cx="483.09" cy="232.83" r="2.45"/><circle cx="482.35" cy="237.48" r="2.45"/><circle cx="487.68" cy="256.33" r="2.45"/><circle cx="487.89" cy="258.31" r="2.45"/><circle cx="481.45" cy="231.99" r="2.45"/><circle cx="461.99" cy="253.05" r="2.45"/><circle cx="539.06" cy="290.42" r="2.45"/><circle cx="545.62" cy="296.34" r="2.45"/><circle cx="533.24" cy="272.81" r="2.45"/><circle cx="522.79" cy="238.53" r="2.45"/><circle cx="535" cy="271.17" r="2.45"/><circle cx="522.96" cy="234.73" r="2.45"/><circle cx="532.35" cy="264.13" r="2.45"/><circle cx="536.03" cy="284.7" r="2.45"/><circle cx="534.21" cy="267.04" r="2.45"/><circle cx="544.12" cy="286.28" r="2.45"/><circle cx="534.09" cy="270.56" r="2.45"/><circle cx="541.91" cy="296.45" r="2.45"/><circle cx="540.61" cy="293.65" r="2.45"/><circle cx="541.72" cy="292.26" r="2.45"/><circle cx="538.4" cy="287.44" r="2.45"/><circle cx="525.23" cy="228.11" r="2.45"/><circle cx="543.28" cy="301.4" r="2.45"/><circle cx="543.83" cy="302.19" r="2.45"/><circle cx="523.29" cy="241.31" r="2.45"/><circle cx="548.01" cy="292.92" r="2.45"/><circle cx="544.78" cy="285" r="2.45"/><circle cx="543.79" cy="295.78" r="2.45"/><circle cx="524.21" cy="222.15" r="2.45"/><circle cx="524.58" cy="234.67" r="2.45"/><circle cx="543.34" cy="291.87" r="2.45"/><circle cx="524.68" cy="220.5" r="2.45"/></g>
<path d="M40.45,272.58L40.99,270.42L41.75,267.34L42.64,263.78L43.58,260.15L44.49,256.88L45.35,253.56L46.25,249.9L47.15,246.53L48.07,244.05L48.97,243.09L49.87,244.02L50.76,246.42L51.66,249.74L52.56,253.41L53.46,256.88L54.35,260.25L55.25,263.89L56.15,267.64L57.04,271.36L57.94,274.88L58.86,278.28L59.79,281.66L60.71,284.91L61.6,287.92L62.43,290.58L63.15,292.98L63.8,295.19L64.42,297.08L65.06,298.53L65.79,299.39L66.6,299.54L67.45,299.04L68.35,298.13L69.29,297.03L70.28,295.95L71.33,295.12L72.44,294.39L73.59,293.43L74.74,291.89L75.88,289.44L77,285.66L78.13,280.79L79.25,275.44L80.37,270.2L81.49,265.69L82.61,261.87L83.73,258.35L84.85,255.16L85.97,252.36L87.1,249.99L88.24,247.91L89.39,246.09L90.54,244.74L91.65,244.05L92.7,244.24L93.67,245.47L94.58,247.61L95.45,250.39L96.31,253.57L97.19,256.88L98.08,260.5L98.98,264.61L99.88,268.94L100.78,273.22L101.67,277.18L102.59,280.94L103.52,284.66L104.44,288.2L105.33,291.38L106.16,294.03L106.87,296.17L107.48,297.91L108.07,299.23L108.72,300.12L109.52,300.54L110.52,300.31L111.66,299.43L112.86,298.21L114.04,296.94L115.13,295.95L116.08,295.55L116.95,295.55L117.79,295.44L118.66,294.72L119.61,292.88L120.66,289.58L121.78,285.14L122.92,280.1L124.08,274.97L125.22,270.29L126.36,265.83L127.52,261.26L128.67,256.89L129.78,253.03L130.83,249.99L131.8,247.78L132.7,246.19L133.57,245.22L134.43,244.83L135.31,245.01L136.19,245.78L137.05,247.16L137.92,249.12L138.83,251.6L139.8,254.58L140.87,258.35L142.01,262.92L143.19,267.87L144.34,272.77L145.4,277.18L146.39,281.2L147.33,285.12L148.23,288.79L149.08,292.06L149.89,294.8L150.62,296.96L151.26,298.66L151.88,299.93L152.53,300.8L153.25,301.31L154.08,301.34L154.97,300.88L155.89,300.09L156.82,299.16L157.74,298.24L158.6,297.59L159.43,297.09L160.27,296.38L161.18,295.09L162.22,292.88L163.44,289.32L164.78,284.64L166.2,279.49L167.61,274.49L168.95,270.29L170.26,266.95L171.56,264.08L172.83,261.53L174.02,259.17L175.09,256.88L176,254.45L176.77,251.97L177.47,249.74L178.16,248.08L178.9,247.31L179.69,247.47L180.48,248.38L181.28,249.92L182.1,252.02L182.94,254.58L183.81,257.81L184.7,261.78L185.61,266.16L186.52,270.64L187.43,274.88L188.32,279.08L189.22,283.44L190.12,287.7L191.01,291.58L191.91,294.8L192.79,297.35L193.65,299.42L194.52,301.02L195.43,302.16L196.4,302.84L197.45,302.9L198.56,302.34L199.71,301.41L200.86,300.34L202,299.39L203.11,298.87L204.19,298.59L205.29,298.12L206.42,297.01L207.61,294.8L208.92,291.05L210.33,286.06L211.75,280.49L213.12,275.02L214.34,270.29L215.4,266.25L216.35,262.46L217.22,259.01L218.03,255.97L218.82,253.43L219.55,251.33L220.2,249.62L220.82,248.38L221.46,247.7L222.19,247.69L223.01,248.39L223.9,249.76L224.83,251.69L225.76,254.09L226.67,256.88L227.57,260.25L228.47,264.27L229.36,268.64L230.26,273.04L231.16,277.18L232.07,281.2L232.98,285.31L233.9,289.28L234.79,292.9L235.64,295.95L236.43,298.42L237.15,300.49L237.87,302.11L238.62,303.29L239.46,303.99L240.39,304.1L241.4,303.64L242.45,302.78L243.53,301.68L244.61,300.54L245.69,299.52L246.77,298.5L247.88,297.22L249.02,295.44L250.22,292.88L251.53,289.21L252.94,284.59L254.37,279.54L255.73,274.6L256.95,270.29L258,266.54L258.93,263.03L259.78,259.82L260.6,256.97L261.43,254.58L262.27,252.59L263.09,250.96L263.89,249.75L264.69,249.02L265.47,248.84L266.22,249.14L266.93,249.88L267.64,251.15L268.41,253.07L269.28,255.73L270.31,259.46L271.45,264.2L272.64,269.45L273.81,274.7L274.89,279.48L275.88,283.93L276.82,288.4L277.72,292.63L278.57,296.38L279.38,299.39L280.08,301.6L280.69,303.15L281.29,304.18L281.94,304.8L282.74,305.14L283.7,305.06L284.77,304.48L285.92,303.59L287.12,302.6L288.35,301.69L289.66,301.13L291.07,300.78L292.5,300.26L293.86,299.16L295.07,297.1L296.1,293.75L297,289.39L297.83,284.47L298.64,279.48L299.49,274.88L300.38,270.53L301.27,266.11L302.17,261.84L303.07,257.92L303.97,254.58L304.87,251.64L305.76,248.95L306.66,246.78L307.56,245.38L308.46,245.01L309.35,245.84L310.25,247.7L311.15,250.33L312.04,253.48L312.94,256.88L313.84,260.79L314.74,265.39L315.63,270.28L316.53,275.1L317.43,279.48L318.31,283.48L319.17,287.38L320.04,291.03L320.94,294.31L321.91,297.1L322.96,299.39L324.07,301.28L325.22,302.76L326.38,303.79L327.52,304.37L328.64,304.49L329.76,304.15L330.88,303.38L332,302.17L333.13,300.54L334.25,298.48L335.37,295.97L336.49,293.04L337.61,289.71L338.73,285.99L339.89,281.55L341.08,276.39L342.26,270.99L343.36,265.85L344.34,261.48L345.15,257.88L345.85,254.75L346.46,252.03L347.07,249.69L347.7,247.69L348.36,245.96L348.99,244.53L349.64,243.5L350.32,242.98L351.07,243.09L351.89,243.83L352.78,245.13L353.7,246.98L354.64,249.37L355.55,252.28L356.45,255.99L357.35,260.49L358.24,265.39L359.14,270.32L360.04,274.88L360.93,279.24L361.83,283.65L362.73,287.87L363.63,291.67L364.52,294.8L365.4,297.22L366.26,299.1L367.13,300.49L368.04,301.46L369.01,302.07L370.06,302.31L371.17,302.12L372.32,301.55L373.47,300.63L374.61,299.39L375.74,297.89L376.86,296.11L377.98,293.96L379.1,291.38L380.22,288.29L381.36,284.43L382.52,279.85L383.67,274.95L384.78,270.1L385.83,265.69L386.8,261.6L387.72,257.59L388.6,253.81L389.46,250.45L390.31,247.69L391.13,245.4L391.92,243.46L392.69,242.06L393.49,241.37L394.35,241.56L395.29,242.79L396.28,244.93L397.3,247.76L398.31,251.06L399.28,254.58L400.21,258.57L401.11,263.17L402,268.04L402.88,272.83L403.77,277.18L404.67,281.21L405.56,285.15L406.46,288.84L407.36,292.11L408.25,294.8L409.13,296.83L409.99,298.34L410.86,299.39L411.77,300.1L412.74,300.54L413.79,300.72L414.9,300.57L416.05,300.1L417.21,299.32L418.35,298.24L419.47,296.89L420.58,295.25L421.7,293.3L422.83,290.99L423.95,288.29L425.1,285.11L426.28,281.49L427.44,277.54L428.58,273.38L429.65,269.14L430.67,264.48L431.64,259.32L432.58,254.16L433.46,249.48L434.3,245.77L435.06,242.98L435.73,240.78L436.37,239.26L437.04,238.47L437.79,238.5L438.65,239.46L439.57,241.31L440.53,243.87L441.49,246.95L442.44,250.37L443.37,254.38L444.3,259.11L445.23,264.17L446.16,269.17L447.09,273.73L448.02,277.99L448.95,282.19L449.88,286.15L450.81,289.65L451.74,292.5L452.66,294.63L453.55,296.18L454.45,297.23L455.39,297.89L456.4,298.24L457.48,298.31L458.64,298.04L459.83,297.39L461.03,296.32L462.21,294.8L463.39,292.79L464.59,290.32L465.78,287.44L466.93,284.2L468.02,280.63L469.03,276.49L469.97,271.76L470.87,266.79L471.76,261.97L472.67,257.65L473.62,253.74L474.59,250L475.55,246.57L476.47,243.58L477.33,241.18L478.08,239.34L478.75,237.98L479.39,237.12L480.06,236.78L480.81,236.96L481.67,237.7L482.59,238.96L483.55,240.74L484.52,243.02L485.47,245.77L486.4,249.2L487.33,253.32L488.26,257.82L489.19,262.43L490.12,266.84L491.05,271.25L491.98,275.85L492.91,280.36L493.84,284.47L494.77,287.9L495.68,290.62L496.57,292.82L497.47,294.55L498.41,295.83L499.42,296.71L500.51,297.21L501.66,297.31L502.85,296.96L504.05,296.14L505.23,294.8L506.41,292.85L507.61,290.32L508.8,287.35L509.96,284.07L511.05,280.63L512.05,276.88L512.99,272.73L513.89,268.39L514.79,264.06L515.7,259.94L516.64,255.86L517.58,251.67L518.52,247.65L519.45,244.07L520.35,241.18L521.2,238.94L522.01,237.17L522.82,235.95L523.65,235.34L524.53,235.43L525.51,236.26L526.54,237.79L527.59,239.93L528.64,242.61L529.65,245.77L530.61,249.69L531.55,254.4L532.46,259.5L533.38,264.55L534.3,269.14L535.23,273.37L536.16,277.54L537.09,281.47L538.02,284.98L538.95,287.9L539.87,290.19L540.76,291.96L541.66,293.27L542.6,294.2L543.6,294.8L544.79,294.89L546.13,294.43L547.46,293.69L548.61,292.96L549.42,292.5" fill="none" stroke="#0a0af0" stroke-width="1.9" stroke-linejoin="round"/>
<line x1="40.5" y1="276.41" x2="299.88" y2="283.31" stroke="#22ee22" stroke-width="2.9"/><line x1="299.88" y1="281.97" x2="549.32" y2="270.29" stroke="#ff0a0a" stroke-width="2.9"/>
</g>
<g clip-path="url(#cp2)">
<line x1="83.73" y1="338.6" x2="83.73" y2="491.8" stroke="#d6d6d6" stroke-width="1"/>
<line x1="126.96" y1="338.6" x2="126.96" y2="491.8" stroke="#d6d6d6" stroke-width="1"/>
<line x1="170.19" y1="338.6" x2="170.19" y2="491.8" stroke="#d6d6d6" stroke-width="1"/>
<line x1="213.42" y1="338.6" x2="213.42" y2="491.8" stroke="#d6d6d6" stroke-width="1"/>
<line x1="256.65" y1="338.6" x2="256.65" y2="491.8" stroke="#d6d6d6" stroke-width="1"/>
<line x1="299.88" y1="338.6" x2="299.88" y2="491.8" stroke="#d6d6d6" stroke-width="1"/>
<line x1="343.11" y1="338.6" x2="343.11" y2="491.8" stroke="#d6d6d6" stroke-width="1"/>
<line x1="386.34" y1="338.6" x2="386.34" y2="491.8" stroke="#d6d6d6" stroke-width="1"/>
<line x1="429.57" y1="338.6" x2="429.57" y2="491.8" stroke="#d6d6d6" stroke-width="1"/>
<line x1="472.8" y1="338.6" x2="472.8" y2="491.8" stroke="#d6d6d6" stroke-width="1"/>
<line x1="516.03" y1="338.6" x2="516.03" y2="491.8" stroke="#d6d6d6" stroke-width="1"/>
<line x1="40.5" y1="472.65" x2="559.26" y2="472.65" stroke="#d6d6d6" stroke-width="1"/>
<line x1="40.5" y1="434.35" x2="559.26" y2="434.35" stroke="#d6d6d6" stroke-width="1"/>
<line x1="40.5" y1="396.05" x2="559.26" y2="396.05" stroke="#d6d6d6" stroke-width="1"/>
<line x1="40.5" y1="357.75" x2="559.26" y2="357.75" stroke="#d6d6d6" stroke-width="1"/>
<g opacity="0.34"><path d="M40,422.09L40.92,421.81L42.21,421.33L43.71,420.88L45.27,420.68L46.73,420.94L48.07,421.67L49.42,422.7L50.76,424.06L52.11,425.77L53.46,427.84L54.82,430.4L56.2,433.43L57.57,436.76L58.91,440.19L60.18,443.54L61.39,447.05L62.56,450.84L63.68,454.56L64.76,457.86L65.79,460.39L66.74,462.14L67.61,463.34L68.45,464.02L69.32,464.17L70.28,463.84L71.31,463.06L72.38,461.81L73.51,460.04L74.67,457.67L75.88,454.65L77.16,450.66L78.49,445.75L79.87,440.37L81.25,435.01L82.61,430.14L83.96,425.23L85.3,419.99L86.65,415.16L87.99,411.53L89.34,409.84L90.68,410.64L92.03,413.42L93.38,417.37L94.72,421.68L96.07,425.54L97.45,428.99L98.87,432.58L100.26,436.23L101.59,439.91L102.79,443.54L103.83,447.34L104.75,451.35L105.59,455.25L106.42,458.75L107.28,461.54L108.16,463.6L109.02,465.11L109.89,466.14L110.8,466.72L111.76,466.91L112.78,466.97L113.82,466.89L114.91,466.24L116.09,464.6L117.37,461.54L118.85,456.19L120.51,448.82L122.22,440.75L123.83,433.32L125.22,427.84L126.3,424.65L127.15,422.86L127.91,421.97L128.72,421.5L129.71,420.94L130.91,420.23L132.24,419.68L133.64,419.42L135.05,419.55L136.43,420.18L137.82,421.32L139.23,422.89L140.63,424.89L141.96,427.31L143.16,430.14L144.18,433.61L145.06,437.75L145.88,442.18L146.71,446.53L147.65,450.44L148.7,454.09L149.81,457.75L150.96,461.11L152.11,463.87L153.25,465.76L154.36,466.84L155.44,467.33L156.54,467.09L157.67,465.97L158.86,463.84L160.16,460.13L161.55,454.93L162.97,449.1L164.33,443.48L165.59,438.95L166.73,435.69L167.8,433.13L168.8,430.99L169.74,428.94L170.61,426.69L171.26,423.75L171.69,420.34L172.14,417.16L172.82,414.95L173.97,414.43L175.78,416.03L178.11,419.25L180.64,423.48L183.1,428.08L185.18,432.44L186.83,436.77L188.25,441.5L189.52,446.28L190.71,450.78L191.91,454.65L193.09,458.06L194.18,461.22L195.25,463.91L196.34,465.89L197.52,466.91L198.77,466.99L200.08,466.3L201.42,464.81L202.81,462.47L204.25,459.25L205.76,454.62L207.36,448.61L208.98,442.01L210.58,435.59L212.1,430.14L213.48,425.29L214.76,420.52L216.02,416.38L217.35,413.4L218.82,412.14L220.51,412.98L222.36,415.57L224.26,419.31L226.11,423.6L227.79,427.84L229.3,432.36L230.7,437.54L232.02,442.92L233.28,448.02L234.52,452.35L235.7,456.06L236.79,459.47L237.86,462.36L238.95,464.53L240.13,465.76L241.38,466.09L242.69,465.67L244.03,464.43L245.42,462.31L246.86,459.25L248.37,454.62L249.97,448.48L251.59,441.73L253.19,435.32L254.71,430.14L256.09,426.06L257.37,422.47L258.64,419.58L259.96,417.59L261.43,416.73L263.12,417.2L264.97,418.86L266.87,421.39L268.72,424.49L270.4,427.84L271.91,431.74L273.31,436.4L274.63,441.37L275.89,446.2L277.13,450.44L278.31,454.28L279.4,458.03L280.47,461.38L281.56,464.06L282.74,465.76L284,466.56L285.3,466.67L286.64,465.96L288.03,464.29L289.47,461.54L290.98,457.08L292.58,450.99L294.21,444.23L295.81,437.72L297.32,432.44L298.69,428.13L299.95,424.17L301.2,420.91L302.51,418.7L303.97,417.88L305.65,418.87L307.5,421.44L309.4,424.97L311.25,428.84L312.94,432.44L314.41,435.86L315.74,439.52L317,443.26L318.29,446.95L319.67,450.44L321.19,454.02L322.78,457.8L324.41,461.33L326,464.13L327.52,465.76L328.92,466.25L330.24,465.92L331.53,464.69L332.85,462.49L334.25,459.25L335.74,454.27L337.31,447.61L338.9,440.3L340.51,433.37L342.1,427.84L343.67,423.58L345.24,419.89L346.81,417L348.38,415.11L349.95,414.43L351.55,415.29L353.19,417.53L354.82,420.69L356.37,424.29L357.79,427.84L359.06,431.51L360.2,435.63L361.27,439.94L362.32,444.19L363.4,448.14L364.5,452.05L365.59,456.1L366.68,459.88L367.81,462.97L369.01,464.99L370.25,466.05L371.51,466.41L372.83,465.91L374.23,464.35L375.74,461.54L377.39,456.78L379.16,450.18L381.01,442.83L382.88,435.79L384.71,430.14L386.54,425.76L388.4,421.93L390.25,418.83L392.03,416.66L393.68,415.58L395.17,415.8L396.53,417.19L397.82,419.47L399.1,422.35L400.4,425.54L401.77,429.36L403.15,434L404.52,438.99L405.86,443.86L407.13,448.14L408.31,452.01L409.4,455.78L410.47,459.19L411.56,461.96L412.74,463.84L414,464.96L415.3,465.5L416.64,465.26L418.03,464.01L419.47,461.54L420.98,457.33L422.57,451.5L424.19,444.87L425.78,438.24L427.32,432.44L428.73,426.97L430.06,421.32L431.38,416.18L432.77,412.25L434.3,410.22L436.05,410.59L437.97,412.91L439.94,416.41L441.86,420.36L443.6,424.01L445.13,427.5L446.51,431.32L447.82,435.28L449.15,439.16L450.58,442.78L452.15,446.4L453.81,450.18L455.49,453.68L457.15,456.46L458.72,458.1L460.19,458.78L461.6,458.79L462.96,457.85L464.32,455.67L465.7,451.97L467.13,445.87L468.6,437.58L470.05,428.38L471.43,419.59L472.67,412.52L473.72,406.98L474.59,402.1L475.41,398.16L476.28,395.42L477.33,394.14L478.55,394.61L479.89,396.65L481.32,399.84L482.8,403.74L484.3,407.92L485.87,412.64L487.53,418.2L489.21,424.18L490.87,430.21L492.44,435.88L493.93,441.65L495.37,447.76L496.77,453.57L498.12,458.38L499.42,461.54L500.62,462.98L501.72,463.13L502.8,462.11L503.94,460.02L505.23,456.95L506.69,452.25L508.27,445.87L509.92,438.77L511.63,431.92L513.37,426.31L515.16,421.75L517.01,417.61L518.9,414.14L520.8,411.59L522.67,410.22L524.57,410.21L526.51,411.4L528.42,413.5L530.27,416.26L531.98,419.41L533.56,423.31L535.05,428.12L536.44,433.33L537.74,438.39L538.95,442.78L540.01,446.66L540.93,450.4L541.77,453.73L542.64,456.39L543.6,458.1L544.69,459.05L545.85,459.43L547.04,458.95L548.24,457.32L549.42,454.27L550.67,448.72L552.02,440.89L553.33,432.33L554.44,424.65L555.23,419.41" fill="none" stroke="#ff6a1a" stroke-width="6.4" stroke-linejoin="round"/><path d="M40,421.35L40.92,421.05L42.21,420.56L43.71,420.09L45.27,419.87L46.73,420.15L48.07,420.91L49.42,421.98L50.76,423.4L52.11,425.17L53.46,427.31L54.82,429.95L56.2,433.07L57.57,436.48L58.91,439.98L60.18,443.4L61.39,446.96L62.56,450.79L63.68,454.53L64.76,457.85L65.79,460.39L66.74,462.14L67.61,463.34L68.45,464.01L69.32,464.17L70.28,463.84L71.31,463.06L72.38,461.81L73.51,460.03L74.67,457.66L75.88,454.62L77.16,450.6L78.49,445.63L79.87,440.17L81.25,434.7L82.61,429.68L83.96,424.61L85.3,419.15L86.65,414.1L87.99,410.26L89.34,408.48L90.68,409.32L92.03,412.26L93.38,416.41L94.72,420.92L96.07,424.93L97.45,428.5L98.87,432.19L100.26,435.94L101.59,439.7L102.79,443.4L103.83,447.25L104.75,451.3L105.59,455.23L106.42,458.74L107.28,461.54L108.16,463.59L109.02,465.11L109.89,466.14L110.8,466.72L111.76,466.91L112.78,466.97L113.82,466.89L114.91,466.24L116.09,464.6L117.37,461.54L118.85,456.17L120.51,448.74L122.22,440.56L123.83,432.96L125.22,427.31L126.3,424L127.15,422.14L127.91,421.23L128.72,420.73L129.71,420.15L130.91,419.4L132.24,418.83L133.64,418.56L135.05,418.69L136.43,419.35L137.82,420.54L139.23,422.18L140.63,424.26L141.96,426.77L143.16,429.68L144.18,433.26L145.06,437.5L145.88,442.01L146.71,446.43L147.65,450.38L148.7,454.06L149.81,457.74L150.96,461.1L152.11,463.87L153.25,465.76L154.36,466.84L155.44,467.33L156.54,467.09L157.67,465.97L158.86,463.84L160.16,460.12L161.55,454.9L162.97,449.02L164.33,443.34L165.59,438.72L166.73,435.38L167.8,432.77L168.8,430.56L169.74,428.45L170.61,426.12L171.26,423.08L171.69,419.52L172.14,416.19L172.82,413.87L173.97,413.33L175.78,415.01L178.11,418.39L180.64,422.79L183.1,427.56L185.18,432.05L186.83,436.49L188.25,441.32L189.52,446.17L190.71,450.72L191.91,454.62L193.09,458.04L194.18,461.22L195.25,463.91L196.34,465.89L197.52,466.91L198.77,466.99L200.08,466.3L201.42,464.81L202.81,462.47L204.25,459.24L205.76,454.59L207.36,448.53L208.98,441.84L210.58,435.29L212.1,429.68L213.48,424.67L214.76,419.71L216.02,415.37L217.35,412.24L218.82,410.91L220.51,411.8L222.36,414.52L224.26,418.44L226.11,422.91L227.79,427.31L229.3,431.97L230.7,437.28L232.02,442.77L233.28,447.93L234.52,452.31L235.7,456.04L236.79,459.46L237.86,462.36L238.95,464.53L240.13,465.76L241.38,466.09L242.69,465.67L244.03,464.43L245.42,462.31L246.86,459.24L248.37,454.59L249.97,448.39L251.59,441.56L253.19,435L254.71,429.68L256.09,425.47L257.37,421.74L258.64,418.72L259.96,416.65L261.43,415.75L263.12,416.24L264.97,417.97L266.87,420.62L268.72,423.84L270.4,427.31L271.91,431.33L273.31,436.12L274.63,441.19L275.89,446.09L277.13,450.38L278.31,454.25L279.4,458.01L280.47,461.38L281.56,464.06L282.74,465.76L284,466.56L285.3,466.67L286.64,465.96L288.03,464.29L289.47,461.54L290.98,457.07L292.58,450.94L294.21,444.09L295.81,437.47L297.32,432.05L298.69,427.61L299.95,423.51L301.2,420.11L302.51,417.8L303.97,416.95L305.65,417.99L307.5,420.67L309.4,424.34L311.25,428.34L312.94,432.05L314.41,435.56L315.74,439.3L317,443.11L318.29,446.85L319.67,450.38L321.19,453.99L322.78,457.79L324.41,461.32L326,464.13L327.52,465.76L328.92,466.25L330.24,465.92L331.53,464.69L332.85,462.49L334.25,459.24L335.74,454.24L337.31,447.52L338.9,440.1L340.51,433.01L342.1,427.31L343.67,422.89L345.24,419.06L346.81,416.03L348.38,414.04L349.95,413.33L351.55,414.23L353.19,416.59L354.82,419.89L356.37,423.63L357.79,427.31L359.06,431.1L360.2,435.32L361.27,439.73L362.32,444.05L363.4,448.05L364.5,452.01L365.59,456.08L366.68,459.87L367.81,462.97L369.01,464.99L370.25,466.05L371.51,466.41L372.83,465.91L374.23,464.35L375.74,461.54L377.39,456.76L379.16,450.12L381.01,442.67L382.88,435.49L384.71,429.68L386.54,425.15L388.4,421.17L390.25,417.94L392.03,415.66L393.68,414.54L395.17,414.77L396.53,416.23L397.82,418.61L399.1,421.61L400.4,424.93L401.77,428.88L403.15,433.66L404.52,438.76L405.86,443.72L407.13,448.05L408.31,451.96L409.4,455.76L410.47,459.18L411.56,461.96L412.74,463.84L414,464.96L415.3,465.5L416.64,465.26L418.03,464.01L419.47,461.54L420.98,457.31L422.57,451.45L424.19,444.74L425.78,438L427.32,432.05L428.73,426.42L430.06,420.55L431.38,415.17L432.77,411.03L434.3,408.88L436.05,409.28L437.97,411.72L439.94,415.4L441.86,419.54L443.6,423.34L445.13,426.96L446.51,430.9L447.82,434.97L449.15,438.94L450.58,442.62L452.15,446.3L453.81,450.12L455.49,453.64L457.15,456.44L458.72,458.08L460.19,458.77L461.6,458.78L462.96,457.83L464.32,455.65L465.7,451.92L467.13,445.76L468.6,437.32L470.05,427.87L471.43,418.74L472.67,411.31L473.72,405.44L474.59,400.23L475.41,395.99L476.28,393.02L477.33,391.64L478.55,392.15L479.89,394.36L481.32,397.81L482.8,401.99L484.3,406.44L485.87,411.44L487.53,417.28L489.21,423.52L490.87,429.76L492.44,435.59L493.93,441.47L495.37,447.68L496.77,453.53L498.12,458.37L499.42,461.54L500.62,462.98L501.72,463.13L502.8,462.11L503.94,460.01L505.23,456.93L506.69,452.21L508.27,445.76L509.92,438.53L511.63,431.52L513.37,425.73L515.16,421L517.01,416.67L518.9,413.02L520.8,410.33L522.67,408.88L524.57,408.88L526.51,410.13L528.42,412.35L530.27,415.25L531.98,418.55L533.56,422.61L535.05,427.61L536.44,432.97L537.74,438.15L538.95,442.62L540.01,446.56L540.93,450.34L541.77,453.7L542.64,456.37L543.6,458.08L544.69,459.04L545.85,459.42L547.04,458.94L548.24,457.31L549.42,454.23L550.67,448.65L552.02,440.69L553.33,431.94L554.44,424.01L555.23,418.55L555.23,419.41L554.44,424.65L553.33,432.33L552.02,440.89L550.67,448.72L549.42,454.27L548.24,457.32L547.04,458.95L545.85,459.43L544.69,459.05L543.6,458.1L542.64,456.39L541.77,453.73L540.93,450.4L540.01,446.66L538.95,442.78L537.74,438.39L536.44,433.33L535.05,428.12L533.56,423.31L531.98,419.41L530.27,416.26L528.42,413.5L526.51,411.4L524.57,410.21L522.67,410.22L520.8,411.59L518.9,414.14L517.01,417.61L515.16,421.75L513.37,426.31L511.63,431.92L509.92,438.77L508.27,445.87L506.69,452.25L505.23,456.95L503.94,460.02L502.8,462.11L501.72,463.13L500.62,462.98L499.42,461.54L498.12,458.38L496.77,453.57L495.37,447.76L493.93,441.65L492.44,435.88L490.87,430.21L489.21,424.18L487.53,418.2L485.87,412.64L484.3,407.92L482.8,403.74L481.32,399.84L479.89,396.65L478.55,394.61L477.33,394.14L476.28,395.42L475.41,398.16L474.59,402.1L473.72,406.98L472.67,412.52L471.43,419.59L470.05,428.38L468.6,437.58L467.13,445.87L465.7,451.97L464.32,455.67L462.96,457.85L461.6,458.79L460.19,458.78L458.72,458.1L457.15,456.46L455.49,453.68L453.81,450.18L452.15,446.4L450.58,442.78L449.15,439.16L447.82,435.28L446.51,431.32L445.13,427.5L443.6,424.01L441.86,420.36L439.94,416.41L437.97,412.91L436.05,410.59L434.3,410.22L432.77,412.25L431.38,416.18L430.06,421.32L428.73,426.97L427.32,432.44L425.78,438.24L424.19,444.87L422.57,451.5L420.98,457.33L419.47,461.54L418.03,464.01L416.64,465.26L415.3,465.5L414,464.96L412.74,463.84L411.56,461.96L410.47,459.19L409.4,455.78L408.31,452.01L407.13,448.14L405.86,443.86L404.52,438.99L403.15,434L401.77,429.36L400.4,425.54L399.1,422.35L397.82,419.47L396.53,417.19L395.17,415.8L393.68,415.58L392.03,416.66L390.25,418.83L388.4,421.93L386.54,425.76L384.71,430.14L382.88,435.79L381.01,442.83L379.16,450.18L377.39,456.78L375.74,461.54L374.23,464.35L372.83,465.91L371.51,466.41L370.25,466.05L369.01,464.99L367.81,462.97L366.68,459.88L365.59,456.1L364.5,452.05L363.4,448.14L362.32,444.19L361.27,439.94L360.2,435.63L359.06,431.51L357.79,427.84L356.37,424.29L354.82,420.69L353.19,417.53L351.55,415.29L349.95,414.43L348.38,415.11L346.81,417L345.24,419.89L343.67,423.58L342.1,427.84L340.51,433.37L338.9,440.3L337.31,447.61L335.74,454.27L334.25,459.25L332.85,462.49L331.53,464.69L330.24,465.92L328.92,466.25L327.52,465.76L326,464.13L324.41,461.33L322.78,457.8L321.19,454.02L319.67,450.44L318.29,446.95L317,443.26L315.74,439.52L314.41,435.86L312.94,432.44L311.25,428.84L309.4,424.97L307.5,421.44L305.65,418.87L303.97,417.88L302.51,418.7L301.2,420.91L299.95,424.17L298.69,428.13L297.32,432.44L295.81,437.72L294.21,444.23L292.58,450.99L290.98,457.08L289.47,461.54L288.03,464.29L286.64,465.96L285.3,466.67L284,466.56L282.74,465.76L281.56,464.06L280.47,461.38L279.4,458.03L278.31,454.28L277.13,450.44L275.89,446.2L274.63,441.37L273.31,436.4L271.91,431.74L270.4,427.84L268.72,424.49L266.87,421.39L264.97,418.86L263.12,417.2L261.43,416.73L259.96,417.59L258.64,419.58L257.37,422.47L256.09,426.06L254.71,430.14L253.19,435.32L251.59,441.73L249.97,448.48L248.37,454.62L246.86,459.25L245.42,462.31L244.03,464.43L242.69,465.67L241.38,466.09L240.13,465.76L238.95,464.53L237.86,462.36L236.79,459.47L235.7,456.06L234.52,452.35L233.28,448.02L232.02,442.92L230.7,437.54L229.3,432.36L227.79,427.84L226.11,423.6L224.26,419.31L222.36,415.57L220.51,412.98L218.82,412.14L217.35,413.4L216.02,416.38L214.76,420.52L213.48,425.29L212.1,430.14L210.58,435.59L208.98,442.01L207.36,448.61L205.76,454.62L204.25,459.25L202.81,462.47L201.42,464.81L200.08,466.3L198.77,466.99L197.52,466.91L196.34,465.89L195.25,463.91L194.18,461.22L193.09,458.06L191.91,454.65L190.71,450.78L189.52,446.28L188.25,441.5L186.83,436.77L185.18,432.44L183.1,428.08L180.64,423.48L178.11,419.25L175.78,416.03L173.97,414.43L172.82,414.95L172.14,417.16L171.69,420.34L171.26,423.75L170.61,426.69L169.74,428.94L168.8,430.99L167.8,433.13L166.73,435.69L165.59,438.95L164.33,443.48L162.97,449.1L161.55,454.93L160.16,460.13L158.86,463.84L157.67,465.97L156.54,467.09L155.44,467.33L154.36,466.84L153.25,465.76L152.11,463.87L150.96,461.11L149.81,457.75L148.7,454.09L147.65,450.44L146.71,446.53L145.88,442.18L145.06,437.75L144.18,433.61L143.16,430.14L141.96,427.31L140.63,424.89L139.23,422.89L137.82,421.32L136.43,420.18L135.05,419.55L133.64,419.42L132.24,419.68L130.91,420.23L129.71,420.94L128.72,421.5L127.91,421.97L127.15,422.86L126.3,424.65L125.22,427.84L123.83,433.32L122.22,440.75L120.51,448.82L118.85,456.19L117.37,461.54L116.09,464.6L114.91,466.24L113.82,466.89L112.78,466.97L111.76,466.91L110.8,466.72L109.89,466.14L109.02,465.11L108.16,463.6L107.28,461.54L106.42,458.75L105.59,455.25L104.75,451.35L103.83,447.34L102.79,443.54L101.59,439.91L100.26,436.23L98.87,432.58L97.45,428.99L96.07,425.54L94.72,421.68L93.38,417.37L92.03,413.42L90.68,410.64L89.34,409.84L87.99,411.53L86.65,415.16L85.3,419.99L83.96,425.23L82.61,430.14L81.25,435.01L79.87,440.37L78.49,445.75L77.16,450.66L75.88,454.65L74.67,457.67L73.51,460.04L72.38,461.81L71.31,463.06L70.28,463.84L69.32,464.17L68.45,464.02L67.61,463.34L66.74,462.14L65.79,460.39L64.76,457.86L63.68,454.56L62.56,450.84L61.39,447.05L60.18,443.54L58.91,440.19L57.57,436.76L56.2,433.43L54.82,430.4L53.46,427.84L52.11,425.77L50.76,424.06L49.42,422.7L48.07,421.67L46.73,420.94L45.27,420.68L43.71,420.88L42.21,421.33L40.92,421.81L40,422.09Z" fill="#ff6a1a" stroke="#ff6a1a" stroke-width="5.12" stroke-linejoin="round"/></g>
<path d="M40,465.76L40.73,464.86L41.73,463.48L42.93,462.02L44.25,460.87L45.61,460.39L47.02,460.68L48.53,461.47L50.13,462.66L51.78,464.12L53.46,465.76L55.2,467.76L57.02,470.2L58.87,472.8L60.69,475.24L62.43,477.25L64.03,478.96L65.54,480.57L67.03,481.86L68.58,482.61L70.28,482.61L72.17,481.62L74.2,479.78L76.3,477.45L78.39,474.96L80.37,472.65L82.23,470.18L84.04,467.33L85.8,464.61L87.56,462.51L89.34,461.54L91.13,461.99L92.93,463.52L94.72,465.71L96.51,468.12L98.31,470.35L100.14,472.53L102,474.94L103.85,477.37L105.63,479.62L107.28,481.46L108.73,483.16L110.02,484.85L111.26,486.16L112.55,486.69L114.01,486.06L115.69,483.74L117.54,479.99L119.44,475.59L121.29,471.35L122.98,468.05L124.43,465.6L125.72,463.45L126.96,461.78L128.25,460.71L129.71,460.39L131.36,461.05L133.13,462.57L134.98,464.64L136.85,466.96L138.68,469.2L140.51,471.56L142.37,474.22L144.22,476.94L146,479.44L147.65,481.46L149.06,483.23L150.28,484.93L151.47,486.21L152.78,486.7L154.38,486.06L156.36,483.74L158.62,479.99L161.01,475.59L163.38,471.35L165.59,468.05L167.59,465.58L169.48,463.4L171.33,461.69L173.18,460.63L175.09,460.39L177.02,461.18L178.92,462.89L180.88,465.19L182.94,467.78L185.18,470.35L187.7,473.43L190.43,477.24L193.26,480.96L196.04,483.78L198.64,484.91L201.04,483.8L203.34,481.01L205.56,477.32L207.72,473.51L209.85,470.35L211.94,467.52L213.97,464.48L215.96,461.76L217.94,459.84L219.95,459.25L221.95,460.36L223.93,462.84L225.92,466.11L227.95,469.58L230.04,472.65L232.21,475.8L234.44,479.41L236.71,482.79L238.99,485.24L241.25,486.06L243.51,484.69L245.79,481.59L248.06,477.62L250.29,473.59L252.46,470.35L254.55,467.64L256.58,464.89L258.57,462.5L260.56,460.87L262.56,460.39L264.56,461.41L266.54,463.64L268.53,466.6L270.56,469.77L272.65,472.65L274.82,475.69L277.05,479.22L279.32,482.57L281.6,485.07L283.86,486.06L286.07,485.07L288.24,482.57L290.43,479.22L292.69,475.69L295.07,472.65L297.66,469.73L300.43,466.49L303.24,463.48L305.96,461.26L308.46,460.39L310.68,461.28L312.73,463.53L314.67,466.57L316.58,469.81L318.55,472.65L320.53,475.49L322.48,478.73L324.44,481.77L326.48,484.02L328.64,484.91L330.98,484.02L333.47,481.77L336.01,478.73L338.54,475.49L340.97,472.65L343.31,469.81L345.59,466.57L347.84,463.53L350.03,461.28L352.19,460.39L354.28,461.28L356.31,463.53L358.3,466.57L360.28,469.81L362.28,472.65L364.28,475.49L366.26,478.73L368.25,481.77L370.28,484.02L372.37,484.91L374.56,484.02L376.83,481.77L379.13,478.73L381.4,475.49L383.58,472.65L385.68,469.81L387.7,466.57L389.69,463.53L391.68,461.28L393.68,460.39L395.7,461.28L397.71,463.53L399.73,466.57L401.75,469.81L403.77,472.65L405.79,475.49L407.81,478.73L409.82,481.77L411.84,484.02L413.86,484.91L415.82,483.99L417.72,481.66L419.65,478.56L421.69,475.35L423.95,472.65L426.53,470.15L429.38,467.42L432.32,464.94L435.18,463.2L437.79,462.69L440.1,463.9L442.22,466.51L444.23,469.77L446.22,472.96L448.26,475.33L450.35,477.06L452.44,478.63L454.53,479.8L456.63,480.31L458.72,479.93L460.84,478.25L462.99,475.46L465.12,472.12L467.2,468.82L469.19,466.14L471.04,463.83L472.79,461.52L474.5,459.55L476.22,458.29L478.02,458.1L479.89,459.28L481.77,461.59L483.71,464.58L485.7,467.78L487.79,470.74L490.03,473.85L492.42,477.43L494.85,480.87L497.21,483.57L499.42,484.91L501.35,484.58L503.08,482.99L504.78,480.6L506.6,477.9L508.72,475.33L511.29,472.48L514.19,469.02L517.2,465.61L520.11,462.9L522.67,461.54L524.83,461.87L526.73,463.45L528.48,465.79L530.19,468.38L531.98,470.74L533.99,473.07L536.14,475.72L538.23,478.35L540.01,480.63L541.28,482.23" fill="none" stroke="#ff7f00" stroke-width="1.6" stroke-dasharray="7,4.5"/>
<path d="M40,422.09L40.92,421.81L42.21,421.33L43.71,420.88L45.27,420.68L46.73,420.94L48.07,421.67L49.42,422.7L50.76,424.06L52.11,425.77L53.46,427.84L54.82,430.4L56.2,433.43L57.57,436.76L58.91,440.19L60.18,443.54L61.39,447.05L62.56,450.84L63.68,454.56L64.76,457.86L65.79,460.39L66.74,462.14L67.61,463.34L68.45,464.02L69.32,464.17L70.28,463.84L71.31,463.06L72.38,461.81L73.51,460.04L74.67,457.67L75.88,454.65L77.16,450.66L78.49,445.75L79.87,440.37L81.25,435.01L82.61,430.14L83.96,425.23L85.3,419.99L86.65,415.16L87.99,411.53L89.34,409.84L90.68,410.64L92.03,413.42L93.38,417.37L94.72,421.68L96.07,425.54L97.45,428.99L98.87,432.58L100.26,436.23L101.59,439.91L102.79,443.54L103.83,447.34L104.75,451.35L105.59,455.25L106.42,458.75L107.28,461.54L108.16,463.6L109.02,465.11L109.89,466.14L110.8,466.72L111.76,466.91L112.78,466.97L113.82,466.89L114.91,466.24L116.09,464.6L117.37,461.54L118.85,456.19L120.51,448.82L122.22,440.75L123.83,433.32L125.22,427.84L126.3,424.65L127.15,422.86L127.91,421.97L128.72,421.5L129.71,420.94L130.91,420.23L132.24,419.68L133.64,419.42L135.05,419.55L136.43,420.18L137.82,421.32L139.23,422.89L140.63,424.89L141.96,427.31L143.16,430.14L144.18,433.61L145.06,437.75L145.88,442.18L146.71,446.53L147.65,450.44L148.7,454.09L149.81,457.75L150.96,461.11L152.11,463.87L153.25,465.76L154.36,466.84L155.44,467.33L156.54,467.09L157.67,465.97L158.86,463.84L160.16,460.13L161.55,454.93L162.97,449.1L164.33,443.48L165.59,438.95L166.73,435.69L167.8,433.13L168.8,430.99L169.74,428.94L170.61,426.69L171.26,423.75L171.69,420.34L172.14,417.16L172.82,414.95L173.97,414.43L175.78,416.03L178.11,419.25L180.64,423.48L183.1,428.08L185.18,432.44L186.83,436.77L188.25,441.5L189.52,446.28L190.71,450.78L191.91,454.65L193.09,458.06L194.18,461.22L195.25,463.91L196.34,465.89L197.52,466.91L198.77,466.99L200.08,466.3L201.42,464.81L202.81,462.47L204.25,459.25L205.76,454.62L207.36,448.61L208.98,442.01L210.58,435.59L212.1,430.14L213.48,425.29L214.76,420.52L216.02,416.38L217.35,413.4L218.82,412.14L220.51,412.98L222.36,415.57L224.26,419.31L226.11,423.6L227.79,427.84L229.3,432.36L230.7,437.54L232.02,442.92L233.28,448.02L234.52,452.35L235.7,456.06L236.79,459.47L237.86,462.36L238.95,464.53L240.13,465.76L241.38,466.09L242.69,465.67L244.03,464.43L245.42,462.31L246.86,459.25L248.37,454.62L249.97,448.48L251.59,441.73L253.19,435.32L254.71,430.14L256.09,426.06L257.37,422.47L258.64,419.58L259.96,417.59L261.43,416.73L263.12,417.2L264.97,418.86L266.87,421.39L268.72,424.49L270.4,427.84L271.91,431.74L273.31,436.4L274.63,441.37L275.89,446.2L277.13,450.44L278.31,454.28L279.4,458.03L280.47,461.38L281.56,464.06L282.74,465.76L284,466.56L285.3,466.67L286.64,465.96L288.03,464.29L289.47,461.54L290.98,457.08L292.58,450.99L294.21,444.23L295.81,437.72L297.32,432.44L298.69,428.13L299.95,424.17L301.2,420.91L302.51,418.7L303.97,417.88L305.65,418.87L307.5,421.44L309.4,424.97L311.25,428.84L312.94,432.44L314.41,435.86L315.74,439.52L317,443.26L318.29,446.95L319.67,450.44L321.19,454.02L322.78,457.8L324.41,461.33L326,464.13L327.52,465.76L328.92,466.25L330.24,465.92L331.53,464.69L332.85,462.49L334.25,459.25L335.74,454.27L337.31,447.61L338.9,440.3L340.51,433.37L342.1,427.84L343.67,423.58L345.24,419.89L346.81,417L348.38,415.11L349.95,414.43L351.55,415.29L353.19,417.53L354.82,420.69L356.37,424.29L357.79,427.84L359.06,431.51L360.2,435.63L361.27,439.94L362.32,444.19L363.4,448.14L364.5,452.05L365.59,456.1L366.68,459.88L367.81,462.97L369.01,464.99L370.25,466.05L371.51,466.41L372.83,465.91L374.23,464.35L375.74,461.54L377.39,456.78L379.16,450.18L381.01,442.83L382.88,435.79L384.71,430.14L386.54,425.76L388.4,421.93L390.25,418.83L392.03,416.66L393.68,415.58L395.17,415.8L396.53,417.19L397.82,419.47L399.1,422.35L400.4,425.54L401.77,429.36L403.15,434L404.52,438.99L405.86,443.86L407.13,448.14L408.31,452.01L409.4,455.78L410.47,459.19L411.56,461.96L412.74,463.84L414,464.96L415.3,465.5L416.64,465.26L418.03,464.01L419.47,461.54L420.98,457.33L422.57,451.5L424.19,444.87L425.78,438.24L427.32,432.44L428.73,426.97L430.06,421.32L431.38,416.18L432.77,412.25L434.3,410.22L436.05,410.59L437.97,412.91L439.94,416.41L441.86,420.36L443.6,424.01L445.13,427.5L446.51,431.32L447.82,435.28L449.15,439.16L450.58,442.78L452.15,446.4L453.81,450.18L455.49,453.68L457.15,456.46L458.72,458.1L460.19,458.78L461.6,458.79L462.96,457.85L464.32,455.67L465.7,451.97L467.13,445.87L468.6,437.58L470.05,428.38L471.43,419.59L472.67,412.52L473.72,406.98L474.59,402.1L475.41,398.16L476.28,395.42L477.33,394.14L478.55,394.61L479.89,396.65L481.32,399.84L482.8,403.74L484.3,407.92L485.87,412.64L487.53,418.2L489.21,424.18L490.87,430.21L492.44,435.88L493.93,441.65L495.37,447.76L496.77,453.57L498.12,458.38L499.42,461.54L500.62,462.98L501.72,463.13L502.8,462.11L503.94,460.02L505.23,456.95L506.69,452.25L508.27,445.87L509.92,438.77L511.63,431.92L513.37,426.31L515.16,421.75L517.01,417.61L518.9,414.14L520.8,411.59L522.67,410.22L524.57,410.21L526.51,411.4L528.42,413.5L530.27,416.26L531.98,419.41L533.56,423.31L535.05,428.12L536.44,433.33L537.74,438.39L538.95,442.78L540.01,446.66L540.93,450.4L541.77,453.73L542.64,456.39L543.6,458.1L544.69,459.05L545.85,459.43L547.04,458.95L548.24,457.32L549.42,454.27L550.67,448.72L552.02,440.89L553.33,432.33L554.44,424.65L555.23,419.41" fill="none" stroke="#ff7f00" stroke-width="1.95" stroke-linejoin="round"/>
<g fill="#fff" stroke="#383838" stroke-width="1.05"><circle cx="46.91" cy="408.5" r="2.45"/><circle cx="66.78" cy="458.68" r="2.45"/><circle cx="67.19" cy="457.96" r="2.45"/><circle cx="67.29" cy="456.74" r="2.45"/><circle cx="78.52" cy="430.52" r="2.45"/><circle cx="46.04" cy="413.79" r="2.45"/><circle cx="70.32" cy="461.56" r="2.45"/><circle cx="50.1" cy="409.79" r="2.45"/><circle cx="46.78" cy="413.41" r="2.45"/><circle cx="51.15" cy="413.26" r="2.45"/><circle cx="54.89" cy="416.72" r="2.45"/><circle cx="59.13" cy="437.91" r="2.45"/><circle cx="79.73" cy="423.3" r="2.45"/><circle cx="67.8" cy="451.05" r="2.45"/><circle cx="64.62" cy="461.8" r="2.45"/><circle cx="76.17" cy="433.34" r="2.45"/><circle cx="60.82" cy="427.19" r="2.45"/><circle cx="78.04" cy="434.18" r="2.45"/><circle cx="57.39" cy="421.53" r="2.45"/><circle cx="67.44" cy="467.21" r="2.45"/><circle cx="82.61" cy="426.64" r="2.45"/><circle cx="81.31" cy="423.16" r="2.45"/><circle cx="43.63" cy="397.8" r="2.45"/><circle cx="51.51" cy="419.1" r="2.45"/><circle cx="81.14" cy="420.04" r="2.45"/><circle cx="50.05" cy="395.06" r="2.45"/><circle cx="46.68" cy="410.96" r="2.45"/><circle cx="57.32" cy="419.97" r="2.45"/><circle cx="45.64" cy="400.95" r="2.45"/><circle cx="71.98" cy="444.43" r="2.45"/><circle cx="51.02" cy="402.2" r="2.45"/><circle cx="49.21" cy="397.05" r="2.45"/><circle cx="75.37" cy="436.49" r="2.45"/><circle cx="68.27" cy="464.33" r="2.45"/><circle cx="44.52" cy="400.33" r="2.45"/><circle cx="76.7" cy="422.79" r="2.45"/><circle cx="80.24" cy="425.71" r="2.45"/><circle cx="49.96" cy="403.76" r="2.45"/><circle cx="70.84" cy="442.05" r="2.45"/><circle cx="68.08" cy="462.38" r="2.45"/><circle cx="76.67" cy="438.16" r="2.45"/><circle cx="77.98" cy="416.99" r="2.45"/><circle cx="48.65" cy="399.21" r="2.45"/><circle cx="66.51" cy="456.23" r="2.45"/><circle cx="78.51" cy="422.39" r="2.45"/><circle cx="80.03" cy="427.42" r="2.45"/><circle cx="51.25" cy="404.46" r="2.45"/><circle cx="52.65" cy="406.63" r="2.45"/><circle cx="80.46" cy="444.83" r="2.45"/><circle cx="73.27" cy="446.35" r="2.45"/><circle cx="81.95" cy="410.12" r="2.45"/><circle cx="66.36" cy="452.58" r="2.45"/><circle cx="52.3" cy="392.65" r="2.45"/><circle cx="81.97" cy="429.81" r="2.45"/><circle cx="43.93" cy="409.69" r="2.45"/><circle cx="68.54" cy="459.73" r="2.45"/><circle cx="47.09" cy="399.67" r="2.45"/><circle cx="50.35" cy="401.98" r="2.45"/><circle cx="46.31" cy="410.36" r="2.45"/><circle cx="82.19" cy="411.23" r="2.45"/><circle cx="61.41" cy="437.04" r="2.45"/><circle cx="55.16" cy="409.71" r="2.45"/><circle cx="70.45" cy="451.92" r="2.45"/><circle cx="83.46" cy="391.27" r="2.45"/><circle cx="83.5" cy="403.39" r="2.45"/><circle cx="82.51" cy="390.79" r="2.45"/><circle cx="77.15" cy="441.25" r="2.45"/><circle cx="56.92" cy="413.33" r="2.45"/><circle cx="82.55" cy="417.51" r="2.45"/><circle cx="72.66" cy="442.67" r="2.45"/><circle cx="69.98" cy="440.92" r="2.45"/><circle cx="52.76" cy="416.01" r="2.45"/><circle cx="77.68" cy="421.3" r="2.45"/><circle cx="72.42" cy="464.45" r="2.45"/><circle cx="49.44" cy="398.56" r="2.45"/><circle cx="69.9" cy="454.24" r="2.45"/><circle cx="75.9" cy="447.67" r="2.45"/><circle cx="59.49" cy="451.87" r="2.45"/><circle cx="71.58" cy="452.01" r="2.45"/><circle cx="57.78" cy="411.46" r="2.45"/><circle cx="84.16" cy="423.39" r="2.45"/><circle cx="86.53" cy="411.88" r="2.45"/><circle cx="98.15" cy="407.21" r="2.45"/><circle cx="87.17" cy="403.73" r="2.45"/><circle cx="87.33" cy="416.26" r="2.45"/><circle cx="122.33" cy="424.49" r="2.45"/><circle cx="96.45" cy="417.11" r="2.45"/><circle cx="111.19" cy="442.22" r="2.45"/><circle cx="92.02" cy="420.02" r="2.45"/><circle cx="120.41" cy="417.69" r="2.45"/><circle cx="84.34" cy="421.09" r="2.45"/><circle cx="117.01" cy="390.98" r="2.45"/><circle cx="99.88" cy="407.2" r="2.45"/><circle cx="115.79" cy="457.2" r="2.45"/><circle cx="110.5" cy="464.27" r="2.45"/><circle cx="111.78" cy="458.12" r="2.45"/><circle cx="94.19" cy="409.12" r="2.45"/><circle cx="100.52" cy="419.79" r="2.45"/><circle cx="111.62" cy="464.5" r="2.45"/><circle cx="115.46" cy="436.36" r="2.45"/><circle cx="91.04" cy="419.72" r="2.45"/><circle cx="97.94" cy="397.29" r="2.45"/><circle cx="119.58" cy="442.21" r="2.45"/><circle cx="91.5" cy="388.77" r="2.45"/><circle cx="122.66" cy="425.16" r="2.45"/><circle cx="124.7" cy="431.08" r="2.45"/><circle cx="94.16" cy="405.36" r="2.45"/><circle cx="119.78" cy="442.33" r="2.45"/><circle cx="90.63" cy="413.15" r="2.45"/><circle cx="117.4" cy="450.01" r="2.45"/><circle cx="122.32" cy="430.11" r="2.45"/><circle cx="91.03" cy="407.12" r="2.45"/><circle cx="123.8" cy="420.06" r="2.45"/><circle cx="103.48" cy="432.91" r="2.45"/><circle cx="116.2" cy="449.26" r="2.45"/><circle cx="121.66" cy="424.04" r="2.45"/><circle cx="88.32" cy="406.96" r="2.45"/><circle cx="100.6" cy="431.48" r="2.45"/><circle cx="98.03" cy="419.1" r="2.45"/><circle cx="97.97" cy="414.23" r="2.45"/><circle cx="93.78" cy="417.99" r="2.45"/><circle cx="96.24" cy="408.87" r="2.45"/><circle cx="100.77" cy="431.7" r="2.45"/><circle cx="121.09" cy="419.96" r="2.45"/><circle cx="120.65" cy="415.69" r="2.45"/><circle cx="113.75" cy="464.91" r="2.45"/><circle cx="100.55" cy="408.84" r="2.45"/><circle cx="98.34" cy="402.92" r="2.45"/><circle cx="116.41" cy="444.25" r="2.45"/><circle cx="124.41" cy="424.04" r="2.45"/><circle cx="124.46" cy="436.18" r="2.45"/><circle cx="120.42" cy="439.23" r="2.45"/><circle cx="99.94" cy="410.95" r="2.45"/><circle cx="122.83" cy="414.77" r="2.45"/><circle cx="103.14" cy="425.13" r="2.45"/><circle cx="89" cy="394.17" r="2.45"/><circle cx="123.97" cy="434.43" r="2.45"/><circle cx="104.54" cy="434.88" r="2.45"/><circle cx="117.09" cy="440.24" r="2.45"/><circle cx="123.22" cy="414.55" r="2.45"/><circle cx="109.13" cy="446.56" r="2.45"/><circle cx="96.59" cy="417.79" r="2.45"/><circle cx="84.33" cy="410.99" r="2.45"/><circle cx="124.42" cy="430.72" r="2.45"/><circle cx="85.18" cy="412.99" r="2.45"/><circle cx="89.63" cy="384.88" r="2.45"/><circle cx="110.24" cy="463.53" r="2.45"/><circle cx="91.34" cy="415.37" r="2.45"/><circle cx="109.33" cy="447.78" r="2.45"/><circle cx="119.16" cy="444.82" r="2.45"/><circle cx="94.53" cy="406.18" r="2.45"/><circle cx="92.88" cy="403.91" r="2.45"/><circle cx="106.46" cy="460.08" r="2.45"/><circle cx="91.17" cy="420.92" r="2.45"/><circle cx="91.74" cy="414.44" r="2.45"/><circle cx="110.89" cy="447.1" r="2.45"/><circle cx="126.87" cy="414.59" r="2.45"/><circle cx="84.9" cy="399.9" r="2.45"/><circle cx="100.98" cy="428.82" r="2.45"/><circle cx="88.82" cy="411.39" r="2.45"/><circle cx="128.77" cy="398.48" r="2.45"/><circle cx="140.92" cy="409.84" r="2.45"/><circle cx="157.17" cy="466.08" r="2.45"/><circle cx="164.67" cy="425.53" r="2.45"/><circle cx="160.44" cy="443.32" r="2.45"/><circle cx="158.74" cy="441.64" r="2.45"/><circle cx="150.46" cy="463.86" r="2.45"/><circle cx="146.54" cy="434.62" r="2.45"/><circle cx="164.99" cy="426.34" r="2.45"/><circle cx="165.88" cy="431.6" r="2.45"/><circle cx="152.95" cy="460.27" r="2.45"/><circle cx="159.22" cy="452.58" r="2.45"/><circle cx="144.65" cy="442.38" r="2.45"/><circle cx="162.47" cy="432.88" r="2.45"/><circle cx="160.39" cy="451.32" r="2.45"/><circle cx="138.61" cy="410.41" r="2.45"/><circle cx="169.88" cy="415.77" r="2.45"/><circle cx="169.14" cy="413.12" r="2.45"/><circle cx="136.96" cy="412.81" r="2.45"/><circle cx="151.71" cy="458.29" r="2.45"/><circle cx="143.26" cy="434.1" r="2.45"/><circle cx="164.86" cy="419.08" r="2.45"/><circle cx="154.44" cy="468.59" r="2.45"/><circle cx="133.98" cy="405.46" r="2.45"/><circle cx="144.12" cy="419.57" r="2.45"/><circle cx="146.33" cy="438.94" r="2.45"/><circle cx="142.27" cy="426.88" r="2.45"/><circle cx="147.68" cy="438.6" r="2.45"/><circle cx="167.42" cy="427.54" r="2.45"/><circle cx="159.04" cy="439.14" r="2.45"/><circle cx="162.08" cy="435.15" r="2.45"/><circle cx="142.32" cy="409.97" r="2.45"/><circle cx="160.74" cy="428.97" r="2.45"/><circle cx="166.67" cy="431.17" r="2.45"/><circle cx="153.58" cy="389.06" r="2.45"/><circle cx="155.05" cy="470.53" r="2.45"/><circle cx="161.92" cy="439.96" r="2.45"/><circle cx="127.35" cy="417.11" r="2.45"/><circle cx="131.76" cy="399.28" r="2.45"/><circle cx="134.53" cy="404.66" r="2.45"/><circle cx="135.02" cy="401.58" r="2.45"/><circle cx="148.87" cy="453.06" r="2.45"/><circle cx="146.21" cy="400.2" r="2.45"/><circle cx="133" cy="388.02" r="2.45"/><circle cx="159.79" cy="446.56" r="2.45"/><circle cx="127.17" cy="402.66" r="2.45"/><circle cx="132.91" cy="395.62" r="2.45"/><circle cx="144.03" cy="427.52" r="2.45"/><circle cx="127.6" cy="416.67" r="2.45"/><circle cx="147.42" cy="445.48" r="2.45"/><circle cx="149.63" cy="452.14" r="2.45"/><circle cx="145.56" cy="434.29" r="2.45"/><circle cx="159.75" cy="437.41" r="2.45"/><circle cx="151.39" cy="472.23" r="2.45"/><circle cx="153.67" cy="457.32" r="2.45"/><circle cx="153.04" cy="470.82" r="2.45"/><circle cx="133.09" cy="405.79" r="2.45"/><circle cx="153.14" cy="452.43" r="2.45"/><circle cx="143.3" cy="422.43" r="2.45"/><circle cx="149.11" cy="451.57" r="2.45"/><circle cx="139.28" cy="400.79" r="2.45"/><circle cx="130.29" cy="391.98" r="2.45"/><circle cx="138.39" cy="414.28" r="2.45"/><circle cx="143.33" cy="437.95" r="2.45"/><circle cx="155.03" cy="392.35" r="2.45"/><circle cx="158.41" cy="457.42" r="2.45"/><circle cx="128.7" cy="383.21" r="2.45"/><circle cx="159.01" cy="447.06" r="2.45"/><circle cx="164.67" cy="430.6" r="2.45"/><circle cx="167.17" cy="430.87" r="2.45"/><circle cx="164.75" cy="423.91" r="2.45"/><circle cx="154.2" cy="478.51" r="2.45"/><circle cx="156.88" cy="450.4" r="2.45"/><circle cx="132.94" cy="405.87" r="2.45"/><circle cx="151.68" cy="452.9" r="2.45"/><circle cx="150.93" cy="449.14" r="2.45"/><circle cx="128.05" cy="405.06" r="2.45"/><circle cx="131.69" cy="398.6" r="2.45"/><circle cx="167.84" cy="418.2" r="2.45"/><circle cx="131.42" cy="424.24" r="2.45"/><circle cx="199.17" cy="455.23" r="2.45"/><circle cx="175.76" cy="407.52" r="2.45"/><circle cx="184.87" cy="429.58" r="2.45"/><circle cx="210.74" cy="409.16" r="2.45"/><circle cx="177.38" cy="419.59" r="2.45"/><circle cx="206.45" cy="436.66" r="2.45"/><circle cx="194.32" cy="442.86" r="2.45"/><circle cx="183.82" cy="419.28" r="2.45"/><circle cx="173.35" cy="403.47" r="2.45"/><circle cx="186.7" cy="439.39" r="2.45"/><circle cx="212.96" cy="407.92" r="2.45"/><circle cx="191.22" cy="451.65" r="2.45"/><circle cx="171.67" cy="409.63" r="2.45"/><circle cx="191.7" cy="436.4" r="2.45"/><circle cx="188.74" cy="428.47" r="2.45"/><circle cx="206.97" cy="444.55" r="2.45"/><circle cx="200.76" cy="390.48" r="2.45"/><circle cx="209.74" cy="429.04" r="2.45"/><circle cx="182.06" cy="419.51" r="2.45"/><circle cx="193.97" cy="464.19" r="2.45"/><circle cx="185.65" cy="445.22" r="2.45"/><circle cx="189.2" cy="440.83" r="2.45"/><circle cx="196.72" cy="454.24" r="2.45"/><circle cx="170.97" cy="404.28" r="2.45"/><circle cx="174" cy="411.33" r="2.45"/><circle cx="197.91" cy="447.51" r="2.45"/><circle cx="171.13" cy="408.39" r="2.45"/><circle cx="211.69" cy="433.78" r="2.45"/><circle cx="173.79" cy="391.44" r="2.45"/><circle cx="190.17" cy="449.58" r="2.45"/><circle cx="195.79" cy="451.45" r="2.45"/><circle cx="176.92" cy="404.51" r="2.45"/><circle cx="205.72" cy="439.81" r="2.45"/><circle cx="177.49" cy="395.75" r="2.45"/><circle cx="203.98" cy="454.52" r="2.45"/><circle cx="201.42" cy="389.01" r="2.45"/><circle cx="192.78" cy="440.3" r="2.45"/><circle cx="173.44" cy="409.8" r="2.45"/><circle cx="172.37" cy="405.98" r="2.45"/><circle cx="212.02" cy="410.99" r="2.45"/><circle cx="191.71" cy="461.16" r="2.45"/><circle cx="171.17" cy="408.73" r="2.45"/><circle cx="211.13" cy="413.22" r="2.45"/><circle cx="178.78" cy="415.06" r="2.45"/><circle cx="207.73" cy="441.84" r="2.45"/><circle cx="201.42" cy="455.65" r="2.45"/><circle cx="175.54" cy="409.47" r="2.45"/><circle cx="212.86" cy="408.29" r="2.45"/><circle cx="184.43" cy="442.6" r="2.45"/><circle cx="183.48" cy="412.31" r="2.45"/><circle cx="178.56" cy="401.09" r="2.45"/><circle cx="204.68" cy="454.34" r="2.45"/><circle cx="173.1" cy="410.17" r="2.45"/><circle cx="212.77" cy="417.05" r="2.45"/><circle cx="212.34" cy="411.19" r="2.45"/><circle cx="189.39" cy="432.1" r="2.45"/><circle cx="174.49" cy="389.86" r="2.45"/><circle cx="173.31" cy="421.27" r="2.45"/><circle cx="195.4" cy="446.11" r="2.45"/><circle cx="181.8" cy="416.69" r="2.45"/><circle cx="184.95" cy="413.33" r="2.45"/><circle cx="207.86" cy="436.95" r="2.45"/><circle cx="186.8" cy="401.46" r="2.45"/><circle cx="181.65" cy="384" r="2.45"/><circle cx="192" cy="449.59" r="2.45"/><circle cx="188.46" cy="435.8" r="2.45"/><circle cx="197.2" cy="440.08" r="2.45"/><circle cx="185.77" cy="418.11" r="2.45"/><circle cx="197.57" cy="453.38" r="2.45"/><circle cx="194.59" cy="451.89" r="2.45"/><circle cx="194.67" cy="447.9" r="2.45"/><circle cx="186.76" cy="432.71" r="2.45"/><circle cx="174.49" cy="398.81" r="2.45"/><circle cx="173.82" cy="407.65" r="2.45"/><circle cx="204.83" cy="441.62" r="2.45"/><circle cx="194.56" cy="466.32" r="2.45"/><circle cx="171.2" cy="395.43" r="2.45"/><circle cx="192.99" cy="456.78" r="2.45"/><circle cx="205.81" cy="424.82" r="2.45"/><circle cx="212.31" cy="432.67" r="2.45"/><circle cx="246.08" cy="444.52" r="2.45"/><circle cx="248.28" cy="445.41" r="2.45"/><circle cx="248.94" cy="447.23" r="2.45"/><circle cx="246.41" cy="457.71" r="2.45"/><circle cx="242.23" cy="452.26" r="2.45"/><circle cx="230.71" cy="439.33" r="2.45"/><circle cx="244.2" cy="433.57" r="2.45"/><circle cx="241.66" cy="455.63" r="2.45"/><circle cx="225.36" cy="390.82" r="2.45"/><circle cx="235.03" cy="444.44" r="2.45"/><circle cx="234.58" cy="451.34" r="2.45"/><circle cx="243.59" cy="457.51" r="2.45"/><circle cx="228.61" cy="431.85" r="2.45"/><circle cx="218.97" cy="403.55" r="2.45"/><circle cx="251.01" cy="438.51" r="2.45"/><circle cx="228.14" cy="433.01" r="2.45"/><circle cx="234.01" cy="445.12" r="2.45"/><circle cx="243.42" cy="467.93" r="2.45"/><circle cx="228.21" cy="411.49" r="2.45"/><circle cx="213.8" cy="416.85" r="2.45"/><circle cx="227.86" cy="408.49" r="2.45"/><circle cx="214.74" cy="429.17" r="2.45"/><circle cx="221.97" cy="422.21" r="2.45"/><circle cx="255.48" cy="424.97" r="2.45"/><circle cx="231.66" cy="445.27" r="2.45"/><circle cx="255.13" cy="421.29" r="2.45"/><circle cx="247.35" cy="443.07" r="2.45"/><circle cx="220.91" cy="404.64" r="2.45"/><circle cx="245.03" cy="437.09" r="2.45"/><circle cx="235.1" cy="443.41" r="2.45"/><circle cx="230.95" cy="427.85" r="2.45"/><circle cx="231.91" cy="446.58" r="2.45"/><circle cx="228.09" cy="418.15" r="2.45"/><circle cx="253.54" cy="408.38" r="2.45"/><circle cx="246.39" cy="457.92" r="2.45"/><circle cx="218.8" cy="412.66" r="2.45"/><circle cx="213.82" cy="386.17" r="2.45"/><circle cx="256.38" cy="400.41" r="2.45"/><circle cx="255.67" cy="410.93" r="2.45"/><circle cx="235.28" cy="439.53" r="2.45"/><circle cx="216.17" cy="409.69" r="2.45"/><circle cx="219.67" cy="412.51" r="2.45"/><circle cx="215.84" cy="399.4" r="2.45"/><circle cx="255.34" cy="421.75" r="2.45"/><circle cx="234.09" cy="450.34" r="2.45"/><circle cx="224.93" cy="415.96" r="2.45"/><circle cx="255.42" cy="415.5" r="2.45"/><circle cx="243.28" cy="405.01" r="2.45"/><circle cx="246.99" cy="449.21" r="2.45"/><circle cx="248.35" cy="449.4" r="2.45"/><circle cx="237.33" cy="456.11" r="2.45"/><circle cx="255.09" cy="422.85" r="2.45"/><circle cx="256.31" cy="409.87" r="2.45"/><circle cx="226.15" cy="435.74" r="2.45"/><circle cx="223.51" cy="410.57" r="2.45"/><circle cx="253.5" cy="412.56" r="2.45"/><circle cx="228.56" cy="421.12" r="2.45"/><circle cx="235.78" cy="456.94" r="2.45"/><circle cx="219.82" cy="414.95" r="2.45"/><circle cx="254.2" cy="422.51" r="2.45"/><circle cx="255.21" cy="414.41" r="2.45"/><circle cx="215.65" cy="420.1" r="2.45"/><circle cx="227.99" cy="442.71" r="2.45"/><circle cx="221.93" cy="421.14" r="2.45"/><circle cx="229.07" cy="434.34" r="2.45"/><circle cx="217.69" cy="420.46" r="2.45"/><circle cx="245.22" cy="463.6" r="2.45"/><circle cx="227.63" cy="420.64" r="2.45"/><circle cx="244.87" cy="448.06" r="2.45"/><circle cx="246.2" cy="440.28" r="2.45"/><circle cx="222.76" cy="423.24" r="2.45"/><circle cx="231.27" cy="434.49" r="2.45"/><circle cx="232.21" cy="430.01" r="2.45"/><circle cx="242.6" cy="455.93" r="2.45"/><circle cx="228.99" cy="417.08" r="2.45"/><circle cx="237.26" cy="458.48" r="2.45"/><circle cx="245.55" cy="434.66" r="2.45"/><circle cx="252.26" cy="439.19" r="2.45"/><circle cx="229.1" cy="433.7" r="2.45"/><circle cx="232.98" cy="449.81" r="2.45"/><circle cx="271.85" cy="413.24" r="2.45"/><circle cx="257.38" cy="411.12" r="2.45"/><circle cx="265.48" cy="413.55" r="2.45"/><circle cx="287.44" cy="455.6" r="2.45"/><circle cx="295.99" cy="411.02" r="2.45"/><circle cx="293.5" cy="449.14" r="2.45"/><circle cx="296.9" cy="410.43" r="2.45"/><circle cx="293.81" cy="430.95" r="2.45"/><circle cx="287.34" cy="467.08" r="2.45"/><circle cx="273.7" cy="413.2" r="2.45"/><circle cx="285.12" cy="465.83" r="2.45"/><circle cx="288.46" cy="461.25" r="2.45"/><circle cx="287.46" cy="441.6" r="2.45"/><circle cx="287.19" cy="452.41" r="2.45"/><circle cx="261.81" cy="418.23" r="2.45"/><circle cx="269.73" cy="420.93" r="2.45"/><circle cx="257.75" cy="429.58" r="2.45"/><circle cx="297" cy="420" r="2.45"/><circle cx="284.2" cy="459.21" r="2.45"/><circle cx="260.13" cy="408.82" r="2.45"/><circle cx="293.59" cy="438.28" r="2.45"/><circle cx="298.99" cy="409.04" r="2.45"/><circle cx="271.65" cy="438.9" r="2.45"/><circle cx="282.73" cy="465.73" r="2.45"/><circle cx="263.98" cy="414.83" r="2.45"/><circle cx="269.87" cy="411.46" r="2.45"/><circle cx="258.47" cy="418.99" r="2.45"/><circle cx="289.12" cy="464.75" r="2.45"/><circle cx="270.52" cy="428.01" r="2.45"/><circle cx="291.96" cy="438.67" r="2.45"/><circle cx="293.36" cy="435.77" r="2.45"/><circle cx="267.86" cy="423.61" r="2.45"/><circle cx="285.03" cy="461.83" r="2.45"/><circle cx="271.33" cy="418.86" r="2.45"/><circle cx="277.84" cy="433.99" r="2.45"/><circle cx="282.58" cy="456.35" r="2.45"/><circle cx="281.46" cy="476.78" r="2.45"/><circle cx="296.58" cy="422.99" r="2.45"/><circle cx="270.77" cy="433.1" r="2.45"/><circle cx="275.66" cy="429.33" r="2.45"/><circle cx="291.24" cy="442.7" r="2.45"/><circle cx="282.32" cy="458.44" r="2.45"/><circle cx="267.92" cy="412.6" r="2.45"/><circle cx="270.87" cy="424.26" r="2.45"/><circle cx="296.95" cy="415.84" r="2.45"/><circle cx="298.23" cy="418.38" r="2.45"/><circle cx="266.44" cy="385.11" r="2.45"/><circle cx="284.67" cy="455.87" r="2.45"/><circle cx="296.38" cy="427.13" r="2.45"/><circle cx="266.74" cy="408.03" r="2.45"/><circle cx="296.46" cy="415.88" r="2.45"/><circle cx="277.81" cy="449.03" r="2.45"/><circle cx="257.55" cy="407.82" r="2.45"/><circle cx="297.07" cy="415.75" r="2.45"/><circle cx="263.28" cy="401.73" r="2.45"/><circle cx="281.73" cy="458.18" r="2.45"/><circle cx="296.93" cy="423.4" r="2.45"/><circle cx="288.64" cy="441.25" r="2.45"/><circle cx="258.5" cy="412.11" r="2.45"/><circle cx="286.84" cy="461.34" r="2.45"/><circle cx="284.66" cy="463.54" r="2.45"/><circle cx="296.92" cy="405.56" r="2.45"/><circle cx="284.4" cy="466.82" r="2.45"/><circle cx="278.72" cy="450.76" r="2.45"/><circle cx="276.77" cy="442.64" r="2.45"/><circle cx="280.16" cy="473.73" r="2.45"/><circle cx="295.7" cy="426.48" r="2.45"/><circle cx="288.22" cy="457.27" r="2.45"/><circle cx="282.06" cy="474.25" r="2.45"/><circle cx="272.11" cy="432.84" r="2.45"/><circle cx="261.24" cy="404.47" r="2.45"/><circle cx="274.36" cy="440.65" r="2.45"/><circle cx="294.05" cy="424.11" r="2.45"/><circle cx="258.59" cy="401.47" r="2.45"/><circle cx="291.69" cy="448.93" r="2.45"/><circle cx="298.33" cy="422.4" r="2.45"/><circle cx="271.71" cy="424.92" r="2.45"/><circle cx="295.53" cy="414.15" r="2.45"/><circle cx="293.13" cy="429.11" r="2.45"/><circle cx="296.41" cy="422.92" r="2.45"/><circle cx="300.05" cy="405.91" r="2.45"/><circle cx="336.69" cy="448.4" r="2.45"/><circle cx="316.72" cy="401.88" r="2.45"/><circle cx="304.57" cy="398.78" r="2.45"/><circle cx="304.37" cy="394.19" r="2.45"/><circle cx="328.86" cy="448.13" r="2.45"/><circle cx="301.13" cy="401.17" r="2.45"/><circle cx="308.79" cy="386.5" r="2.45"/><circle cx="320.56" cy="433.86" r="2.45"/><circle cx="300.69" cy="409.16" r="2.45"/><circle cx="322.19" cy="452.51" r="2.45"/><circle cx="302.55" cy="385.7" r="2.45"/><circle cx="338.6" cy="435.11" r="2.45"/><circle cx="311.94" cy="401.71" r="2.45"/><circle cx="307.54" cy="394.4" r="2.45"/><circle cx="336.32" cy="453.77" r="2.45"/><circle cx="328.23" cy="450.89" r="2.45"/><circle cx="324.27" cy="454.49" r="2.45"/><circle cx="321.36" cy="453.45" r="2.45"/><circle cx="337.34" cy="354.48" r="2.45"/><circle cx="315.6" cy="421.94" r="2.45"/><circle cx="318.55" cy="434.05" r="2.45"/><circle cx="325.54" cy="450.59" r="2.45"/><circle cx="302.4" cy="419.57" r="2.45"/><circle cx="331.08" cy="450.55" r="2.45"/><circle cx="338.68" cy="441.77" r="2.45"/><circle cx="316.06" cy="441.04" r="2.45"/><circle cx="319.48" cy="448.76" r="2.45"/><circle cx="328.47" cy="454.89" r="2.45"/><circle cx="318.56" cy="428.06" r="2.45"/><circle cx="304.38" cy="400.71" r="2.45"/><circle cx="321.41" cy="450.23" r="2.45"/><circle cx="320.15" cy="431.83" r="2.45"/><circle cx="301.93" cy="400.15" r="2.45"/><circle cx="329.11" cy="450.65" r="2.45"/><circle cx="323.66" cy="452.16" r="2.45"/><circle cx="303.42" cy="380.17" r="2.45"/><circle cx="334.85" cy="393.83" r="2.45"/><circle cx="325.76" cy="454.85" r="2.45"/><circle cx="330.9" cy="448.75" r="2.45"/><circle cx="325.31" cy="446.86" r="2.45"/><circle cx="313.63" cy="413.68" r="2.45"/><circle cx="337.77" cy="437.12" r="2.45"/><circle cx="334.02" cy="453.08" r="2.45"/><circle cx="309.13" cy="396.55" r="2.45"/><circle cx="307.55" cy="403.62" r="2.45"/><circle cx="340.83" cy="433.57" r="2.45"/><circle cx="304.77" cy="395.38" r="2.45"/><circle cx="314.92" cy="408.87" r="2.45"/><circle cx="336.42" cy="378.01" r="2.45"/><circle cx="315.11" cy="395.67" r="2.45"/><circle cx="307.01" cy="398.41" r="2.45"/><circle cx="301.45" cy="416.69" r="2.45"/><circle cx="315.49" cy="378.91" r="2.45"/><circle cx="337.21" cy="452.52" r="2.45"/><circle cx="313.54" cy="428.89" r="2.45"/><circle cx="325.77" cy="449.07" r="2.45"/><circle cx="320.35" cy="448.69" r="2.45"/><circle cx="337.83" cy="447.92" r="2.45"/><circle cx="316.04" cy="424.44" r="2.45"/><circle cx="315.53" cy="422.78" r="2.45"/><circle cx="302.45" cy="399.51" r="2.45"/><circle cx="330.87" cy="451.71" r="2.45"/><circle cx="333.76" cy="437.74" r="2.45"/><circle cx="334.66" cy="453.17" r="2.45"/><circle cx="324.38" cy="451.58" r="2.45"/><circle cx="340.72" cy="426.26" r="2.45"/><circle cx="332.18" cy="452.63" r="2.45"/><circle cx="310.8" cy="426.16" r="2.45"/><circle cx="322.43" cy="448.83" r="2.45"/><circle cx="336.8" cy="435.15" r="2.45"/><circle cx="324.11" cy="451.18" r="2.45"/><circle cx="319.07" cy="425.57" r="2.45"/><circle cx="312.41" cy="372.64" r="2.45"/><circle cx="310.58" cy="403.3" r="2.45"/><circle cx="302.76" cy="399.91" r="2.45"/><circle cx="336.45" cy="441.99" r="2.45"/><circle cx="318.99" cy="456.18" r="2.45"/><circle cx="339.52" cy="370.95" r="2.45"/><circle cx="302.26" cy="398.65" r="2.45"/><circle cx="324.93" cy="446.98" r="2.45"/><circle cx="316.42" cy="429.76" r="2.45"/><circle cx="325.48" cy="451.89" r="2.45"/><circle cx="322.53" cy="453.84" r="2.45"/><circle cx="336.25" cy="454.94" r="2.45"/><circle cx="314.83" cy="416.35" r="2.45"/><circle cx="316.46" cy="434.15" r="2.45"/><circle cx="337.85" cy="434.8" r="2.45"/><circle cx="342.58" cy="397.6" r="2.45"/><circle cx="329.74" cy="449.71" r="2.45"/><circle cx="366.58" cy="440.02" r="2.45"/><circle cx="361.29" cy="415.47" r="2.45"/><circle cx="359.73" cy="420" r="2.45"/><circle cx="343.15" cy="402.31" r="2.45"/><circle cx="376.67" cy="454.66" r="2.45"/><circle cx="365.72" cy="433.83" r="2.45"/><circle cx="363.35" cy="442.09" r="2.45"/><circle cx="343.67" cy="407.66" r="2.45"/><circle cx="350.65" cy="379.35" r="2.45"/><circle cx="369.44" cy="452.72" r="2.45"/><circle cx="343.17" cy="403.8" r="2.45"/><circle cx="364.13" cy="424.49" r="2.45"/><circle cx="346.24" cy="409.52" r="2.45"/><circle cx="369.19" cy="453.6" r="2.45"/><circle cx="348.53" cy="394" r="2.45"/><circle cx="352.6" cy="391.5" r="2.45"/><circle cx="381" cy="448.62" r="2.45"/><circle cx="344.66" cy="428.85" r="2.45"/><circle cx="353.22" cy="406.58" r="2.45"/><circle cx="385.2" cy="404.8" r="2.45"/><circle cx="375.9" cy="459.03" r="2.45"/><circle cx="384.72" cy="427.75" r="2.45"/><circle cx="376.2" cy="438.22" r="2.45"/><circle cx="362.93" cy="435.24" r="2.45"/><circle cx="346.55" cy="402.21" r="2.45"/><circle cx="344.23" cy="401.07" r="2.45"/><circle cx="381.51" cy="434.5" r="2.45"/><circle cx="371.02" cy="456.46" r="2.45"/><circle cx="357.02" cy="381.44" r="2.45"/><circle cx="352.27" cy="385.72" r="2.45"/><circle cx="382.26" cy="445.56" r="2.45"/><circle cx="372.75" cy="452.36" r="2.45"/><circle cx="357.95" cy="398" r="2.45"/><circle cx="382.53" cy="428.97" r="2.45"/><circle cx="353.1" cy="397.44" r="2.45"/><circle cx="374.69" cy="460.58" r="2.45"/><circle cx="371.61" cy="468.4" r="2.45"/><circle cx="377.69" cy="462.87" r="2.45"/><circle cx="350.22" cy="390.88" r="2.45"/><circle cx="358.57" cy="406.54" r="2.45"/><circle cx="374.27" cy="464.47" r="2.45"/><circle cx="346.74" cy="396.28" r="2.45"/><circle cx="370.11" cy="457.26" r="2.45"/><circle cx="353.08" cy="375.67" r="2.45"/><circle cx="361.93" cy="418.84" r="2.45"/><circle cx="372.87" cy="451.17" r="2.45"/><circle cx="350.31" cy="409.81" r="2.45"/><circle cx="364.25" cy="422.22" r="2.45"/><circle cx="359.46" cy="405.62" r="2.45"/><circle cx="364.41" cy="438.96" r="2.45"/><circle cx="370.69" cy="455.75" r="2.45"/><circle cx="347.19" cy="404.56" r="2.45"/><circle cx="345.33" cy="403.02" r="2.45"/><circle cx="349.74" cy="394.03" r="2.45"/><circle cx="358.86" cy="392.04" r="2.45"/><circle cx="343.26" cy="423.59" r="2.45"/><circle cx="368.66" cy="426.88" r="2.45"/><circle cx="348.97" cy="412.13" r="2.45"/><circle cx="354.72" cy="388.89" r="2.45"/><circle cx="366.06" cy="457.81" r="2.45"/><circle cx="347.33" cy="413.54" r="2.45"/><circle cx="348.2" cy="407.84" r="2.45"/><circle cx="344.3" cy="411.29" r="2.45"/><circle cx="381" cy="453.51" r="2.45"/><circle cx="374.96" cy="463.12" r="2.45"/><circle cx="374.35" cy="354.59" r="2.45"/><circle cx="348.4" cy="419.05" r="2.45"/><circle cx="377.81" cy="456.91" r="2.45"/><circle cx="348.85" cy="380.52" r="2.45"/><circle cx="379.53" cy="438.23" r="2.45"/><circle cx="368.65" cy="432.23" r="2.45"/><circle cx="357.99" cy="396.43" r="2.45"/><circle cx="368.2" cy="443.59" r="2.45"/><circle cx="355.22" cy="409.32" r="2.45"/><circle cx="352.82" cy="392.28" r="2.45"/><circle cx="357.09" cy="396.76" r="2.45"/><circle cx="362.16" cy="429.74" r="2.45"/><circle cx="343.55" cy="410.2" r="2.45"/><circle cx="372.79" cy="463.73" r="2.45"/><circle cx="377.79" cy="461.3" r="2.45"/><circle cx="348.65" cy="409.27" r="2.45"/><circle cx="377.54" cy="453.64" r="2.45"/><circle cx="361.86" cy="410.45" r="2.45"/><circle cx="357.81" cy="407.61" r="2.45"/><circle cx="357.51" cy="408.38" r="2.45"/><circle cx="350.97" cy="414.96" r="2.45"/><circle cx="352.83" cy="385.97" r="2.45"/><circle cx="346.15" cy="390.81" r="2.45"/><circle cx="378.8" cy="435.51" r="2.45"/><circle cx="385.16" cy="419.53" r="2.45"/><circle cx="413.44" cy="446.05" r="2.45"/><circle cx="396.59" cy="390.01" r="2.45"/><circle cx="387.49" cy="431.61" r="2.45"/><circle cx="423.65" cy="428.86" r="2.45"/><circle cx="387.71" cy="402.61" r="2.45"/><circle cx="402.96" cy="408.82" r="2.45"/><circle cx="386.38" cy="416.07" r="2.45"/><circle cx="386.5" cy="403.99" r="2.45"/><circle cx="400.3" cy="412.76" r="2.45"/><circle cx="393.09" cy="399.03" r="2.45"/><circle cx="393.67" cy="400.41" r="2.45"/><circle cx="394.43" cy="398.63" r="2.45"/><circle cx="406.32" cy="445.03" r="2.45"/><circle cx="428.8" cy="406.43" r="2.45"/><circle cx="407.32" cy="459" r="2.45"/><circle cx="411.79" cy="466.25" r="2.45"/><circle cx="400.16" cy="407.32" r="2.45"/><circle cx="416.54" cy="460.64" r="2.45"/><circle cx="417.39" cy="443.61" r="2.45"/><circle cx="415.82" cy="464.53" r="2.45"/><circle cx="401.73" cy="421.09" r="2.45"/><circle cx="396.56" cy="372.07" r="2.45"/><circle cx="428.74" cy="404.15" r="2.45"/><circle cx="425.26" cy="442.92" r="2.45"/><circle cx="398.03" cy="388.01" r="2.45"/><circle cx="424.39" cy="425.58" r="2.45"/><circle cx="418.33" cy="460.35" r="2.45"/><circle cx="422.33" cy="434.84" r="2.45"/><circle cx="394.22" cy="385.37" r="2.45"/><circle cx="421.32" cy="445.92" r="2.45"/><circle cx="388.96" cy="412.71" r="2.45"/><circle cx="422.86" cy="425.24" r="2.45"/><circle cx="397.1" cy="368.79" r="2.45"/><circle cx="425.22" cy="426.79" r="2.45"/><circle cx="423.56" cy="429.32" r="2.45"/><circle cx="410.19" cy="453.03" r="2.45"/><circle cx="407.68" cy="425.15" r="2.45"/><circle cx="428.63" cy="403.61" r="2.45"/><circle cx="398.66" cy="396.82" r="2.45"/><circle cx="391.5" cy="381.66" r="2.45"/><circle cx="422.9" cy="420.78" r="2.45"/><circle cx="393.72" cy="407.47" r="2.45"/><circle cx="387.28" cy="409.08" r="2.45"/><circle cx="393.34" cy="424.28" r="2.45"/><circle cx="409.52" cy="463.93" r="2.45"/><circle cx="414.96" cy="449.05" r="2.45"/><circle cx="392.22" cy="395.74" r="2.45"/><circle cx="404.12" cy="427.06" r="2.45"/><circle cx="410.05" cy="444.93" r="2.45"/><circle cx="399.73" cy="383.36" r="2.45"/><circle cx="421.95" cy="442.94" r="2.45"/><circle cx="410.48" cy="463.84" r="2.45"/><circle cx="411.97" cy="442.41" r="2.45"/><circle cx="412.55" cy="430.58" r="2.45"/><circle cx="400.24" cy="394.51" r="2.45"/><circle cx="396.1" cy="387.74" r="2.45"/><circle cx="398.18" cy="408.17" r="2.45"/><circle cx="411.85" cy="456.27" r="2.45"/><circle cx="395.87" cy="385.04" r="2.45"/><circle cx="413.17" cy="457.74" r="2.45"/><circle cx="414.22" cy="458.05" r="2.45"/><circle cx="400.11" cy="377.23" r="2.45"/><circle cx="413.15" cy="456.84" r="2.45"/><circle cx="389.34" cy="411.75" r="2.45"/><circle cx="425.32" cy="423.83" r="2.45"/><circle cx="418.63" cy="454.83" r="2.45"/><circle cx="410.32" cy="425.91" r="2.45"/><circle cx="428.62" cy="399.11" r="2.45"/><circle cx="405.97" cy="422.35" r="2.45"/><circle cx="393.4" cy="406.69" r="2.45"/><circle cx="412.37" cy="439.22" r="2.45"/><circle cx="429.43" cy="402.85" r="2.45"/><circle cx="403.89" cy="422.64" r="2.45"/><circle cx="420.12" cy="449.08" r="2.45"/><circle cx="413.67" cy="366.64" r="2.45"/><circle cx="409.96" cy="449.43" r="2.45"/><circle cx="407.84" cy="446.89" r="2.45"/><circle cx="404.32" cy="409.78" r="2.45"/><circle cx="405.4" cy="427.11" r="2.45"/><circle cx="406.54" cy="432.9" r="2.45"/><circle cx="417.32" cy="452.94" r="2.45"/><circle cx="403.87" cy="422.07" r="2.45"/><circle cx="394.56" cy="382.57" r="2.45"/><circle cx="396.23" cy="403.52" r="2.45"/><circle cx="415.85" cy="470.33" r="2.45"/><circle cx="425.97" cy="431.12" r="2.45"/><circle cx="408.02" cy="437.88" r="2.45"/><circle cx="388.78" cy="396.63" r="2.45"/><circle cx="409.86" cy="430.68" r="2.45"/><circle cx="395.93" cy="351.27" r="2.45"/><circle cx="462.93" cy="433.97" r="2.45"/><circle cx="431.89" cy="405.47" r="2.45"/><circle cx="459.86" cy="456.14" r="2.45"/><circle cx="431.37" cy="349.65" r="2.45"/><circle cx="469.35" cy="419" r="2.45"/><circle cx="452.35" cy="444.16" r="2.45"/><circle cx="466.51" cy="420.92" r="2.45"/><circle cx="447.06" cy="421.19" r="2.45"/><circle cx="463.21" cy="383.79" r="2.45"/><circle cx="446.92" cy="416.04" r="2.45"/><circle cx="444.57" cy="359.68" r="2.45"/><circle cx="434.84" cy="396.44" r="2.45"/><circle cx="465.53" cy="437.78" r="2.45"/><circle cx="450.05" cy="417.7" r="2.45"/><circle cx="443.35" cy="391.84" r="2.45"/><circle cx="445.42" cy="405.99" r="2.45"/><circle cx="447.3" cy="428.05" r="2.45"/><circle cx="443.75" cy="408.54" r="2.45"/><circle cx="465.39" cy="434.21" r="2.45"/><circle cx="442.86" cy="415.94" r="2.45"/><circle cx="466.78" cy="432.84" r="2.45"/><circle cx="447.8" cy="439.94" r="2.45"/><circle cx="463.78" cy="452.91" r="2.45"/><circle cx="435.9" cy="387.71" r="2.45"/><circle cx="432.24" cy="380.35" r="2.45"/><circle cx="457.25" cy="457.24" r="2.45"/><circle cx="466.14" cy="446.86" r="2.45"/><circle cx="449.21" cy="346.35" r="2.45"/><circle cx="441.43" cy="386.29" r="2.45"/><circle cx="439.68" cy="393.2" r="2.45"/><circle cx="450.66" cy="443.65" r="2.45"/><circle cx="442.49" cy="397.06" r="2.45"/><circle cx="438.19" cy="376.98" r="2.45"/><circle cx="431.22" cy="370.3" r="2.45"/><circle cx="451.9" cy="435.82" r="2.45"/><circle cx="460.96" cy="454.62" r="2.45"/><circle cx="440.09" cy="386.91" r="2.45"/><circle cx="451.97" cy="432.86" r="2.45"/><circle cx="430.98" cy="389.68" r="2.45"/><circle cx="471.14" cy="402.49" r="2.45"/><circle cx="437.49" cy="386.7" r="2.45"/><circle cx="469.64" cy="408.39" r="2.45"/><circle cx="458.33" cy="450.54" r="2.45"/><circle cx="460.4" cy="450.2" r="2.45"/><circle cx="448.46" cy="437.35" r="2.45"/><circle cx="440.15" cy="384.37" r="2.45"/><circle cx="433.03" cy="410.69" r="2.45"/><circle cx="434.37" cy="403.07" r="2.45"/><circle cx="471.54" cy="402.07" r="2.45"/><circle cx="447.51" cy="425.62" r="2.45"/><circle cx="449.67" cy="441.94" r="2.45"/><circle cx="455.03" cy="449.72" r="2.45"/><circle cx="431.45" cy="408.09" r="2.45"/><circle cx="454.86" cy="432.68" r="2.45"/><circle cx="457.63" cy="439.13" r="2.45"/><circle cx="441.55" cy="400.6" r="2.45"/><circle cx="436.15" cy="380.34" r="2.45"/><circle cx="442.71" cy="395.46" r="2.45"/><circle cx="432.44" cy="388.8" r="2.45"/><circle cx="453.35" cy="446.33" r="2.45"/><circle cx="446.78" cy="414.91" r="2.45"/><circle cx="453.38" cy="448.99" r="2.45"/><circle cx="450.07" cy="426.36" r="2.45"/><circle cx="459.09" cy="451.45" r="2.45"/><circle cx="463.87" cy="432.7" r="2.45"/><circle cx="450.79" cy="414.17" r="2.45"/><circle cx="446.2" cy="411.42" r="2.45"/><circle cx="450.98" cy="443.02" r="2.45"/><circle cx="445.32" cy="414.88" r="2.45"/><circle cx="444.62" cy="399.91" r="2.45"/><circle cx="467.1" cy="409.89" r="2.45"/><circle cx="455.19" cy="433" r="2.45"/><circle cx="462.84" cy="448.61" r="2.45"/><circle cx="441.22" cy="399.67" r="2.45"/><circle cx="434.16" cy="396.14" r="2.45"/><circle cx="460.7" cy="444.68" r="2.45"/><circle cx="461.59" cy="348.07" r="2.45"/><circle cx="463.36" cy="434.45" r="2.45"/><circle cx="452.93" cy="436.24" r="2.45"/><circle cx="436.3" cy="380.11" r="2.45"/><circle cx="460.79" cy="465.49" r="2.45"/><circle cx="457.53" cy="351.53" r="2.45"/><circle cx="451.16" cy="434.25" r="2.45"/><circle cx="439.05" cy="375.15" r="2.45"/><circle cx="441.51" cy="381.6" r="2.45"/><circle cx="460.21" cy="453.61" r="2.45"/><circle cx="450.06" cy="449.01" r="2.45"/><circle cx="436.7" cy="398.8" r="2.45"/><circle cx="454.17" cy="459.04" r="2.45"/><circle cx="436.46" cy="390.93" r="2.45"/><circle cx="506.49" cy="431.91" r="2.45"/><circle cx="499.59" cy="453.78" r="2.45"/><circle cx="497.99" cy="457.67" r="2.45"/><circle cx="491.61" cy="418.68" r="2.45"/><circle cx="478.74" cy="390.43" r="2.45"/><circle cx="492.25" cy="409.15" r="2.45"/><circle cx="475.27" cy="404.88" r="2.45"/><circle cx="511.96" cy="421.45" r="2.45"/><circle cx="497.91" cy="431.55" r="2.45"/><circle cx="511.79" cy="409.72" r="2.45"/><circle cx="503.76" cy="448.22" r="2.45"/><circle cx="480.93" cy="386.42" r="2.45"/><circle cx="475.43" cy="401.04" r="2.45"/><circle cx="496.16" cy="440.01" r="2.45"/><circle cx="506.79" cy="454.2" r="2.45"/><circle cx="476.22" cy="388.07" r="2.45"/><circle cx="509.43" cy="441.04" r="2.45"/><circle cx="514.27" cy="387.98" r="2.45"/><circle cx="488.13" cy="413.92" r="2.45"/><circle cx="500.07" cy="431.32" r="2.45"/><circle cx="500.72" cy="428.17" r="2.45"/><circle cx="508.59" cy="427.88" r="2.45"/><circle cx="488.78" cy="395.4" r="2.45"/><circle cx="502.94" cy="449.4" r="2.45"/><circle cx="510.66" cy="434.13" r="2.45"/><circle cx="495.32" cy="423.49" r="2.45"/><circle cx="490.66" cy="440.91" r="2.45"/><circle cx="490.59" cy="416.2" r="2.45"/><circle cx="484.85" cy="399.36" r="2.45"/><circle cx="508.5" cy="415.55" r="2.45"/><circle cx="492.22" cy="425.67" r="2.45"/><circle cx="507.98" cy="349.58" r="2.45"/><circle cx="479.4" cy="392.27" r="2.45"/><circle cx="482.08" cy="380.72" r="2.45"/><circle cx="484.2" cy="376.71" r="2.45"/><circle cx="514.99" cy="409.02" r="2.45"/><circle cx="506.72" cy="443.67" r="2.45"/><circle cx="476.42" cy="386.9" r="2.45"/><circle cx="511.36" cy="426" r="2.45"/><circle cx="474.36" cy="395.55" r="2.45"/><circle cx="499.08" cy="440.43" r="2.45"/><circle cx="488.64" cy="410.54" r="2.45"/><circle cx="492.76" cy="414.13" r="2.45"/><circle cx="506.17" cy="444.01" r="2.45"/><circle cx="481.11" cy="397.24" r="2.45"/><circle cx="492.6" cy="420.99" r="2.45"/><circle cx="498.33" cy="434.75" r="2.45"/><circle cx="488.47" cy="416.96" r="2.45"/><circle cx="504.04" cy="457.23" r="2.45"/><circle cx="499.96" cy="354.89" r="2.45"/><circle cx="503.34" cy="439.54" r="2.45"/><circle cx="475.35" cy="400.93" r="2.45"/><circle cx="507.32" cy="442.48" r="2.45"/><circle cx="486.29" cy="389.96" r="2.45"/><circle cx="505.21" cy="370.96" r="2.45"/><circle cx="509.01" cy="351.58" r="2.45"/><circle cx="494.37" cy="424.22" r="2.45"/><circle cx="489.76" cy="395.62" r="2.45"/><circle cx="482.83" cy="386.78" r="2.45"/><circle cx="484.04" cy="377.52" r="2.45"/><circle cx="508.58" cy="369.83" r="2.45"/><circle cx="506.54" cy="448.8" r="2.45"/><circle cx="477.27" cy="395.66" r="2.45"/><circle cx="487.39" cy="385" r="2.45"/><circle cx="480.51" cy="396.3" r="2.45"/><circle cx="476.57" cy="381.91" r="2.45"/><circle cx="498.32" cy="424.09" r="2.45"/><circle cx="505.56" cy="426.98" r="2.45"/><circle cx="487.99" cy="412.57" r="2.45"/><circle cx="497.45" cy="454.9" r="2.45"/><circle cx="482.69" cy="373.36" r="2.45"/><circle cx="511.92" cy="412.16" r="2.45"/><circle cx="491.43" cy="416.83" r="2.45"/><circle cx="481.44" cy="390.18" r="2.45"/><circle cx="484.83" cy="389.37" r="2.45"/><circle cx="494.1" cy="417.67" r="2.45"/><circle cx="498.77" cy="431.5" r="2.45"/><circle cx="481.85" cy="381.55" r="2.45"/><circle cx="505.07" cy="467.28" r="2.45"/><circle cx="483.46" cy="381.71" r="2.45"/><circle cx="505.81" cy="433.65" r="2.45"/><circle cx="477.14" cy="391.79" r="2.45"/><circle cx="513.46" cy="400.74" r="2.45"/><circle cx="506.78" cy="452.9" r="2.45"/><circle cx="504.29" cy="456.2" r="2.45"/><circle cx="504.4" cy="429.44" r="2.45"/><circle cx="483.82" cy="368.33" r="2.45"/><circle cx="509.44" cy="442.07" r="2.45"/><circle cx="484.32" cy="393.42" r="2.45"/><circle cx="490.21" cy="407.16" r="2.45"/><circle cx="534.56" cy="407.17" r="2.45"/><circle cx="543.56" cy="430.14" r="2.45"/><circle cx="545.49" cy="442.39" r="2.45"/><circle cx="549.7" cy="347.96" r="2.45"/><circle cx="539.43" cy="445.32" r="2.45"/><circle cx="533.9" cy="397.42" r="2.45"/><circle cx="520.46" cy="390.75" r="2.45"/><circle cx="535.9" cy="421.62" r="2.45"/><circle cx="518.19" cy="395.44" r="2.45"/><circle cx="516.56" cy="396.6" r="2.45"/><circle cx="554.08" cy="371.91" r="2.45"/><circle cx="519.24" cy="396.44" r="2.45"/><circle cx="535.25" cy="407.57" r="2.45"/><circle cx="542.73" cy="454.85" r="2.45"/><circle cx="549.4" cy="420.27" r="2.45"/><circle cx="522.06" cy="367.7" r="2.45"/><circle cx="516.26" cy="398.73" r="2.45"/><circle cx="540.15" cy="435.89" r="2.45"/><circle cx="553.54" cy="425.09" r="2.45"/><circle cx="530.3" cy="390.69" r="2.45"/><circle cx="541.6" cy="441.68" r="2.45"/><circle cx="526.34" cy="378.54" r="2.45"/><circle cx="556.77" cy="398.17" r="2.45"/><circle cx="528.71" cy="395.63" r="2.45"/><circle cx="532.74" cy="410.85" r="2.45"/><circle cx="558.54" cy="402.44" r="2.45"/><circle cx="517.8" cy="384.02" r="2.45"/><circle cx="557.32" cy="405.25" r="2.45"/><circle cx="553.41" cy="357.9" r="2.45"/><circle cx="538.82" cy="421.28" r="2.45"/><circle cx="531" cy="397.11" r="2.45"/><circle cx="525.77" cy="375.43" r="2.45"/><circle cx="538.7" cy="373.85" r="2.45"/><circle cx="534.41" cy="419.67" r="2.45"/><circle cx="540.88" cy="439.06" r="2.45"/><circle cx="545.52" cy="436.18" r="2.45"/><circle cx="550.54" cy="371.22" r="2.45"/><circle cx="550.3" cy="375.39" r="2.45"/><circle cx="530.57" cy="369.98" r="2.45"/><circle cx="516.82" cy="385.66" r="2.45"/><circle cx="524.09" cy="379.67" r="2.45"/><circle cx="517.03" cy="390.11" r="2.45"/><circle cx="540.9" cy="444.14" r="2.45"/><circle cx="517.02" cy="381.59" r="2.45"/><circle cx="547.67" cy="444.14" r="2.45"/><circle cx="533.5" cy="416.86" r="2.45"/><circle cx="525.56" cy="383.33" r="2.45"/><circle cx="526.56" cy="387.69" r="2.45"/><circle cx="534.7" cy="424.89" r="2.45"/><circle cx="529.71" cy="399.04" r="2.45"/><circle cx="553.14" cy="438.27" r="2.45"/><circle cx="556.92" cy="406.22" r="2.45"/><circle cx="547.52" cy="438.15" r="2.45"/><circle cx="516.35" cy="381.96" r="2.45"/><circle cx="550.78" cy="439.09" r="2.45"/><circle cx="551.36" cy="426.35" r="2.45"/><circle cx="541.89" cy="441.9" r="2.45"/><circle cx="558.01" cy="405.05" r="2.45"/><circle cx="544.89" cy="436.24" r="2.45"/><circle cx="530.26" cy="404.22" r="2.45"/><circle cx="542.54" cy="375.79" r="2.45"/><circle cx="555.77" cy="361.43" r="2.45"/><circle cx="541.89" cy="436.07" r="2.45"/><circle cx="527.98" cy="375.79" r="2.45"/><circle cx="530.06" cy="404.29" r="2.45"/><circle cx="525.13" cy="364.84" r="2.45"/><circle cx="549.83" cy="440.4" r="2.45"/><circle cx="545.36" cy="432.76" r="2.45"/><circle cx="549.48" cy="357.98" r="2.45"/><circle cx="538" cy="423.93" r="2.45"/><circle cx="548.48" cy="436.39" r="2.45"/><circle cx="522.74" cy="405.21" r="2.45"/><circle cx="540.52" cy="437.94" r="2.45"/><circle cx="556.7" cy="397.56" r="2.45"/><circle cx="521.34" cy="363.37" r="2.45"/><circle cx="541" cy="462.22" r="2.45"/><circle cx="527.06" cy="403.25" r="2.45"/><circle cx="549.12" cy="434.22" r="2.45"/><circle cx="554.19" cy="401.56" r="2.45"/><circle cx="548.56" cy="437.62" r="2.45"/><circle cx="551.76" cy="423.2" r="2.45"/><circle cx="532.32" cy="393.57" r="2.45"/><circle cx="518.59" cy="409.06" r="2.45"/><circle cx="543.77" cy="430.93" r="2.45"/><circle cx="528.53" cy="379.92" r="2.45"/><circle cx="528.29" cy="371.36" r="2.45"/><circle cx="518.74" cy="388.93" r="2.45"/><circle cx="518.49" cy="377.27" r="2.45"/><circle cx="557.87" cy="386.71" r="2.45"/><circle cx="521.37" cy="379.56" r="2.45"/></g><path d="M322.28,454.33L324.78,458.73L319.78,458.73ZM326.7,444.9L329.2,449.3L324.2,449.3ZM335.87,442.78L338.37,447.18L333.37,447.18ZM329.28,451.1L331.78,455.5L326.78,455.5ZM337.48,466.64L339.98,471.04L334.98,471.04ZM324.14,439.97L326.64,444.37L321.64,444.37ZM334.2,438.48L336.7,442.88L331.7,442.88ZM331.16,444.24L333.66,448.64L328.66,448.64ZM324.18,439.53L326.68,443.93L321.68,443.93ZM328.53,443.61L331.03,448.01L326.03,448.01ZM338.76,446.91L341.26,451.31L336.26,451.31ZM329.77,466.15L332.27,470.55L327.27,470.55ZM326.7,456.84L329.2,461.24L324.2,461.24ZM324.41,463.28L326.91,467.68L321.91,467.68ZM320.6,450.04L323.1,454.44L318.1,454.44ZM330.5,451.43L333,455.83L328,455.83ZM324.98,451.18L327.48,455.58L322.48,455.58ZM322.87,446.44L325.37,450.84L320.37,450.84ZM327.24,434.48L329.74,438.88L324.74,438.88ZM321.45,459.46L323.95,463.86L318.95,463.86ZM335.29,438.19L337.79,442.59L332.79,442.59ZM340.6,443.09L343.1,447.49L338.1,447.49ZM338.02,462.49L340.52,466.89L335.52,466.89ZM322.56,434.37L325.06,438.77L320.06,438.77ZM323.3,430.01L325.8,434.41L320.8,434.41ZM326.14,468.56L328.64,472.96L323.64,472.96ZM331.84,472.33L334.34,476.73L329.34,476.73ZM324.37,434.35L326.87,438.75L321.87,438.75ZM337.2,457.16L339.7,461.56L334.7,461.56ZM335.27,453L337.77,457.4L332.77,457.4ZM339.44,429.98L341.94,434.38L336.94,434.38ZM339.05,422.35L341.55,426.75L336.55,426.75ZM339.8,417.27L342.3,421.67L337.3,421.67ZM417.37,437.47L419.87,441.87L414.87,441.87ZM417.67,433.04L420.17,437.44L415.17,437.44ZM419.43,414.26L421.93,418.66L416.93,418.66ZM424.38,413.27L426.88,417.67L421.88,417.67ZM427.17,433.57L429.67,437.97L424.67,437.97ZM417.53,410.59L420.03,414.99L415.03,414.99ZM422.4,442.23L424.9,446.63L419.9,446.63ZM422.35,446.46L424.85,450.86L419.85,450.86ZM427.94,422.8L430.44,427.2L425.44,427.2ZM421.29,423.24L423.79,427.64L418.79,427.64ZM420.97,424.4L423.47,428.8L418.47,428.8ZM433.34,420.16L435.84,424.56L430.84,424.56ZM426.89,439.76L429.39,444.16L424.39,444.16ZM416.48,428.8L418.98,433.2L413.98,433.2Z" fill="#0ae6e6" stroke="#303030" stroke-width="0.7"/>
<path d="M40,418.26L41.26,417.03L43.05,415.14L45.11,413.14L47.18,411.58L48.97,410.99L50.48,411.49L51.88,412.73L53.2,414.53L54.46,416.69L55.7,419.03L56.89,421.74L58.02,424.93L59.12,428.33L60.2,431.69L61.31,434.73L62.43,437.66L63.55,440.64L64.67,443.38L65.79,445.6L66.91,446.99L68.03,447.46L69.15,447.22L70.28,446.39L71.4,445.12L72.52,443.54L73.62,441.48L74.71,438.84L75.8,435.89L76.93,432.9L78.13,430.14L79.4,427.51L80.74,424.86L82.11,422.29L83.49,419.92L84.85,417.88L86.2,416.05L87.54,414.35L88.89,412.94L90.24,412.02L91.58,411.75L92.94,412.19L94.33,413.2L95.7,414.73L97.04,416.7L98.31,419.03L99.5,422L100.63,425.65L101.73,429.57L102.81,433.38L103.92,436.65L105.04,439.53L106.16,442.29L107.28,444.73L108.4,446.62L109.52,447.75L110.64,448.04L111.76,447.61L112.89,446.62L114.01,445.22L115.13,443.54L116.21,441.45L117.26,438.84L118.33,435.94L119.47,432.97L120.74,430.14L122.18,427.31L123.77,424.33L125.42,421.43L127.05,418.82L128.58,416.73L130.02,415.11L131.41,413.82L132.76,412.91L134.06,412.45L135.31,412.52L136.51,413.15L137.64,414.31L138.73,415.91L139.82,417.89L140.92,420.18L142.02,422.98L143.11,426.35L144.2,429.97L145.33,433.51L146.53,436.65L147.82,439.59L149.19,442.54L150.59,445.21L151.96,447.3L153.25,448.52L154.43,448.78L155.52,448.26L156.59,447.11L157.69,445.49L158.86,443.54L160.16,440.98L161.55,437.7L162.97,434.14L164.33,430.71L165.59,427.84L166.66,425.57L167.58,423.64L168.48,421.95L169.45,420.44L170.61,419.03L171.98,417.38L173.49,415.53L175.1,414.01L176.77,413.34L178.46,414.05L180.18,416.64L181.96,420.75L183.78,425.64L185.61,430.55L187.43,434.73L189.24,438.43L191.07,442.13L192.89,445.49L194.67,448.12L196.4,449.67L198.04,450.02L199.62,449.42L201.16,448.02L202.69,446.01L204.25,443.54L205.78,440.19L207.28,435.85L208.79,431.16L210.38,426.75L212.1,423.24L213.99,420.41L216.02,417.82L218.12,415.84L220.21,414.85L222.19,415.2L224.07,417.4L225.91,421.21L227.7,425.87L229.45,430.63L231.16,434.73L232.78,438.52L234.32,442.48L235.84,446.13L237.38,448.95L239.01,450.44L240.77,450.31L242.62,448.92L244.5,446.67L246.31,443.97L247.98,441.24L249.41,438.22L250.67,434.63L251.88,430.87L253.18,427.32L254.71,424.39L256.51,421.77L258.5,419.18L260.6,417.1L262.73,416L264.8,416.35L266.85,418.67L268.94,422.67L271.01,427.53L273.02,432.45L274.89,436.65L276.6,440.45L278.19,444.38L279.71,447.95L281.21,450.65L282.74,451.97L284.26,451.75L285.72,450.33L287.21,447.94L288.81,444.84L290.59,441.24L292.68,436.53L295.02,430.52L297.43,424.19L299.73,418.51L301.73,414.43L303.37,412.13L304.79,410.94L306.06,410.65L307.25,411L308.46,411.75L309.65,413.08L310.78,415.13L311.87,417.66L312.96,420.45L314.06,423.24L315.2,426.2L316.36,429.48L317.51,432.85L318.62,436.08L319.67,438.95L320.62,441.46L321.49,443.76L322.33,445.85L323.2,447.7L324.15,449.29L325.2,450.71L326.32,451.98L327.46,452.96L328.62,453.52L329.76,453.5L330.9,452.89L332.06,451.79L333.21,450.22L334.32,448.22L335.37,445.84L336.34,442.83L337.24,439.16L338.11,435.2L338.97,431.31L339.85,427.84L340.73,424.72L341.59,421.72L342.46,418.94L343.37,416.48L344.34,414.43L345.42,412.91L346.59,411.85L347.78,411.09L348.92,410.47L349.95,409.84L350.82,409.08L351.59,408.31L352.3,407.69L353.01,407.37L353.76,407.54L354.51,408.12L355.23,408.99L355.98,410.27L356.81,412.05L357.79,414.43L358.93,417.73L360.18,421.86L361.54,426.38L362.99,430.83L364.52,434.73L366.21,438.37L368.06,442.05L369.96,445.37L371.81,447.91L373.49,449.29L375,449.35L376.4,448.38L377.72,446.57L378.98,444.12L380.22,441.24L381.41,437.54L382.54,432.86L383.64,427.82L384.72,423.01L385.83,419.03L386.95,415.93L388.07,413.31L389.19,411.1L390.31,409.2L391.43,407.54L392.56,405.95L393.68,404.49L394.8,403.39L395.92,402.93L397.04,403.33L398.14,404.78L399.23,407.11L400.32,410.06L401.45,413.35L402.65,416.73L403.92,420.49L405.26,424.8L406.63,429.22L408.01,433.32L409.38,436.65L410.72,439.34L412.07,441.69L413.41,443.51L414.76,444.57L416.1,444.69L417.41,443.77L418.68,441.95L419.97,439.36L421.33,436.14L422.83,432.44L424.54,427.68L426.42,421.78L428.36,415.59L430.25,409.92L431.98,405.62L433.53,402.71L434.98,400.6L436.35,399.31L437.67,398.82L438.95,399.11L440.19,400.43L441.36,402.78L442.5,405.81L443.62,409.18L444.77,412.52L445.87,416.08L446.93,420.1L448,424.21L449.2,428.06L450.58,431.29L452.27,434.03L454.22,436.53L456.25,438.58L458.19,439.97L459.88,440.48L461.27,440.08L462.46,438.92L463.54,437.03L464.59,434.47L465.7,431.29L466.79,426.95L467.8,421.44L468.85,415.52L470.05,409.99L471.51,405.62L473.38,402.37L475.59,399.72L477.9,397.73L480.11,396.48L481.98,396.05L483.42,396.56L484.58,397.97L485.6,400.08L486.63,402.69L487.79,405.62L489.09,409.21L490.44,413.58L491.84,418.22L493.28,422.63L494.77,426.31L496.34,429.43L498,432.34L499.68,434.76L501.33,436.42L502.91,437.03L504.38,436.51L505.78,435.04L507.15,432.76L508.51,429.8L509.88,426.31L511.24,421.74L512.56,416.02L513.9,409.94L515.32,404.29L516.86,399.88L518.63,396.65L520.58,394.08L522.58,392.23L524.49,391.2L526.16,391.07L527.53,392.04L528.68,394.05L529.73,396.81L530.8,400L531.98,403.33L533.3,407.12L534.68,411.58L536.11,416.21L537.54,420.52L538.95,424.01L540.35,426.82L541.74,429.29L543.14,431.2L544.53,432.32L545.93,432.44L547.33,431.36L548.74,429.25L550.15,426.37L551.54,423L552.91,419.41L554.34,415.09L555.86,409.83L557.31,404.45L558.54,399.72L559.42,396.43" fill="none" stroke="#0a0af0" stroke-width="1.9" stroke-linejoin="round"/>
<line x1="40.5" y1="427.46" x2="299.88" y2="433.58" stroke="#22ee22" stroke-width="2.9"/><line x1="299.88" y1="433.58" x2="559.26" y2="409.07" stroke="#ff0a0a" stroke-width="2.9"/>
</g>
<g clip-path="url(#cp3)">
<line x1="83.73" y1="500.75" x2="83.73" y2="653.95" stroke="#d6d6d6" stroke-width="1"/>
<line x1="126.96" y1="500.75" x2="126.96" y2="653.95" stroke="#d6d6d6" stroke-width="1"/>
<line x1="170.19" y1="500.75" x2="170.19" y2="653.95" stroke="#d6d6d6" stroke-width="1"/>
<line x1="213.42" y1="500.75" x2="213.42" y2="653.95" stroke="#d6d6d6" stroke-width="1"/>
<line x1="256.65" y1="500.75" x2="256.65" y2="653.95" stroke="#d6d6d6" stroke-width="1"/>
<line x1="299.88" y1="500.75" x2="299.88" y2="653.95" stroke="#d6d6d6" stroke-width="1"/>
<line x1="343.11" y1="500.75" x2="343.11" y2="653.95" stroke="#d6d6d6" stroke-width="1"/>
<line x1="386.34" y1="500.75" x2="386.34" y2="653.95" stroke="#d6d6d6" stroke-width="1"/>
<line x1="429.57" y1="500.75" x2="429.57" y2="653.95" stroke="#d6d6d6" stroke-width="1"/>
<line x1="472.8" y1="500.75" x2="472.8" y2="653.95" stroke="#d6d6d6" stroke-width="1"/>
<line x1="516.03" y1="500.75" x2="516.03" y2="653.95" stroke="#d6d6d6" stroke-width="1"/>
<line x1="40.5" y1="634.8" x2="559.26" y2="634.8" stroke="#d6d6d6" stroke-width="1"/>
<line x1="40.5" y1="596.5" x2="559.26" y2="596.5" stroke="#d6d6d6" stroke-width="1"/>
<line x1="40.5" y1="558.2" x2="559.26" y2="558.2" stroke="#d6d6d6" stroke-width="1"/>
<line x1="40.5" y1="519.9" x2="559.26" y2="519.9" stroke="#d6d6d6" stroke-width="1"/>
<g opacity="0.34"><path d="M40,617.18L40.59,616.05L41.42,614.41L42.38,612.57L43.39,610.83L44.32,609.52L45.18,608.63L46.05,607.94L46.91,607.47L47.78,607.23L48.64,607.22L49.5,607.47L50.37,607.95L51.23,608.66L52.1,609.57L52.96,610.67L53.82,612.05L54.69,613.72L55.55,615.54L56.41,617.38L57.28,619.1L58.16,620.7L59.06,622.27L59.95,623.81L60.8,625.31L61.6,626.76L62.28,628.27L62.87,629.87L63.44,631.35L64.07,632.55L64.84,633.27L65.78,633.4L66.84,633.07L67.97,632.45L69.12,631.69L70.24,630.97L71.32,630.29L72.4,629.53L73.48,628.7L74.56,627.78L75.64,626.76L76.73,625.65L77.85,624.47L78.95,623.18L80.03,621.78L81.04,620.25L81.97,618.5L82.84,616.54L83.68,614.51L84.51,612.51L85.36,610.67L86.22,608.84L87.08,606.95L87.95,605.21L88.81,603.83L89.68,603.01L90.56,603L91.46,603.65L92.35,604.61L93.2,605.54L94,606.08L94.7,605.9L95.32,605.24L95.91,604.59L96.54,604.44L97.24,605.31L98.01,607.48L98.83,610.64L99.7,614.32L100.6,618.06L101.56,621.39L102.53,624.52L103.53,627.74L104.59,630.77L105.72,633.34L106.95,635.18L108.36,636.18L109.93,636.53L111.54,636.37L113.11,635.87L114.51,635.18L115.73,634.2L116.83,632.81L117.86,631.19L118.87,629.5L119.91,627.91L121.03,626.47L122.18,625.07L123.31,623.63L124.37,622.05L125.31,620.25L126.1,618.04L126.76,615.49L127.36,612.86L127.94,610.4L128.55,608.37L129.17,606.75L129.75,605.35L130.34,604.24L131.01,603.44L131.79,603.01L132.75,603.03L133.85,603.46L135.01,604.2L136.15,605.11L137.19,606.08L138.11,607.03L138.95,608.06L139.76,609.26L140.6,610.74L141.51,612.59L142.52,615.05L143.59,618.07L144.7,621.27L145.81,624.29L146.91,626.76L148.01,628.57L149.12,629.99L150.23,631.14L151.3,632.19L152.31,633.27L153.24,634.63L154.12,636.16L154.95,637.51L155.78,638.33L156.63,638.25L157.39,637.06L158.05,635L158.76,632.39L159.67,629.54L160.95,626.76L162.74,623.86L164.94,620.64L167.32,617.38L169.66,614.35L171.73,611.82L173.52,609.67L175.19,607.71L176.74,606.14L178.2,605.15L179.58,604.93L180.84,605.65L181.98,607.19L183.05,609.28L184.1,611.68L185.18,614.12L186.31,616.8L187.43,619.88L188.55,623.09L189.67,626.12L190.79,628.67L191.93,630.84L193.09,632.82L194.24,634.48L195.35,635.69L196.4,636.33L197.35,636.15L198.22,635.25L199.06,633.97L199.93,632.68L200.88,631.74L201.91,631.4L202.99,631.44L204.11,631.45L205.28,631.04L206.49,629.82L207.78,627.44L209.15,624.16L210.55,620.51L211.93,616.99L213.22,614.12L214.45,611.87L215.65,609.91L216.8,608.26L217.86,606.97L218.82,606.08L219.66,605.79L220.38,606.09L221.03,606.65L221.62,607.14L222.19,607.22L222.69,606.64L223.11,605.62L223.51,604.55L223.93,603.8L224.43,603.78L224.98,604.53L225.53,605.8L226.15,607.5L226.89,609.54L227.79,611.82L228.91,614.6L230.19,617.94L231.59,621.45L233.05,624.77L234.52,627.52L236.02,629.81L237.58,631.9L239.18,633.61L240.78,634.76L242.37,635.18L243.96,634.72L245.57,633.5L247.16,631.74L248.72,629.67L250.22,627.52L251.58,625.11L252.83,622.28L254.07,619.31L255.41,616.5L256.95,614.12L258.82,611.97L260.96,609.87L263.17,608.11L265.26,607L267.04,606.84L268.45,607.93L269.61,610.05L270.62,612.78L271.6,615.68L272.65,618.33L273.79,620.86L274.94,623.55L276.09,626.2L277.2,628.61L278.25,630.59L279.2,632.17L280.08,633.51L280.92,634.51L281.79,635.1L282.74,635.18L283.77,634.58L284.85,633.34L285.97,631.75L287.14,630.1L288.35,628.67L289.62,627.52L290.96,626.45L292.33,625.38L293.72,624.24L295.07,622.93L296.37,621.43L297.63,619.79L298.9,618.06L300.25,616.28L301.73,614.5L303.41,612.38L305.26,609.89L307.16,607.53L309.01,605.84L310.7,605.31L312.19,606.25L313.55,608.32L314.84,611.07L316.12,614.05L317.43,616.8L318.81,619.52L320.23,622.5L321.62,625.47L322.95,628.13L324.15,630.2L325.18,631.62L326.06,632.58L326.87,633.16L327.71,633.49L328.64,633.65L329.69,633.76L330.8,633.73L331.95,633.43L333.11,632.69L334.25,631.35L335.37,629.14L336.49,626.16L337.61,622.82L338.73,619.56L339.85,616.8L340.99,614.68L342.15,612.94L343.3,611.33L344.41,609.63L345.46,607.61L346.43,604.87L347.33,601.57L348.2,598.3L349.07,595.65L349.95,594.2L350.82,594.07L351.69,594.85L352.56,596.4L353.46,598.53L354.43,601.1L355.46,604.46L356.54,608.75L357.66,613.38L358.83,617.78L360.04,621.39L361.33,624.17L362.7,626.49L364.1,628.42L365.47,630.02L366.76,631.35L367.96,632.5L369.09,633.41L370.18,633.98L371.27,634.1L372.37,633.65L373.44,632.51L374.45,630.73L375.49,628.54L376.64,626.13L377.98,623.69L379.59,621.08L381.43,618.16L383.36,615.16L385.24,612.33L386.95,609.91L388.44,607.74L389.8,605.66L391.09,603.91L392.37,602.7L393.68,602.25L395.02,602.7L396.37,603.91L397.71,605.66L399.06,607.74L400.4,609.91L401.77,612.41L403.15,615.38L404.52,618.49L405.86,621.38L407.13,623.69L408.29,625.51L409.35,627.07L410.39,628.25L411.49,628.95L412.74,629.06L414.15,628.57L415.66,627.57L417.25,626.05L418.91,623.99L420.59,621.39L422.38,617.8L424.28,613.22L426.2,608.32L428.03,603.8L429.65,600.33L431.02,597.95L432.21,596.22L433.3,595.05L434.35,594.4L435.47,594.2L436.61,594.48L437.73,595.29L438.87,596.57L440.04,598.27L441.28,600.33L442.6,603.06L443.99,606.49L445.41,610.17L446.84,613.63L448.26,616.42L449.67,618.4L451.1,619.89L452.53,621.08L453.91,622.15L455.23,623.31L456.47,624.75L457.64,626.35L458.78,627.8L459.9,628.81L461.05,629.06L462.19,628.46L463.32,627.22L464.45,625.47L465.62,623.36L466.86,621.01L468.16,618.13L469.51,614.61L470.91,610.92L472.35,607.54L473.84,604.93L475.43,603.16L477.12,601.93L478.83,601.12L480.48,600.62L481.98,600.33L483.31,600.24L484.53,600.42L485.66,600.88L486.74,601.62L487.79,602.63L488.8,603.99L489.73,605.7L490.64,607.65L491.53,609.72L492.44,611.82L493.37,614.12L494.3,616.69L495.23,619.27L496.16,621.56L497.09,623.31L498,624.54L498.9,625.44L499.8,625.96L500.74,626.03L501.74,625.61L502.81,624.54L503.93,622.87L505.09,620.81L506.3,618.59L507.56,616.42L508.9,614.15L510.32,611.65L511.77,609.14L513.2,606.82L514.53,604.93L515.79,603.59L517,602.66L518.16,601.95L519.28,601.24L520.35,600.33L521.33,598.97L522.24,597.29L523.11,595.68L524.01,594.52L525,594.2L526.09,594.91L527.24,596.38L528.43,598.34L529.63,600.51L530.81,602.63L531.98,604.77L533.14,607.11L534.3,609.54L535.47,611.92L536.63,614.12L537.81,616.21L539.01,618.29L540.2,620.24L541.35,621.95L542.44,623.31L543.43,624.36L544.33,625.17L545.2,625.68L546.11,625.85L547.09,625.61L548.22,624.82L549.45,623.51L550.69,621.91L551.87,620.24L552.91,618.71L553.81,617.22L554.64,615.63L555.36,614.08L555.96,612.76L556.4,611.82" fill="none" stroke="#ff6a1a" stroke-width="6.8" stroke-linejoin="round"/><path d="M40,616.47L40.59,615.24L41.42,613.44L42.38,611.4L43.39,609.46L44.32,607.98L45.18,606.96L46.05,606.17L46.91,605.64L47.78,605.36L48.64,605.35L49.5,605.63L50.37,606.18L51.23,606.99L52.1,608.03L52.96,609.28L53.82,610.82L54.69,612.68L55.55,614.68L56.41,616.69L57.28,618.54L58.16,620.25L59.06,621.91L59.95,623.54L60.8,625.1L61.6,626.6L62.28,628.16L62.87,629.8L63.44,631.31L64.07,632.52L64.84,633.25L65.78,633.38L66.84,633.05L67.97,632.42L69.12,631.65L70.24,630.92L71.32,630.22L72.4,629.45L73.48,628.6L74.56,627.65L75.64,626.6L76.73,625.45L77.85,624.22L78.95,622.87L80.03,621.4L81.04,619.77L81.97,617.89L82.84,615.78L83.68,613.55L84.51,611.34L85.36,609.28L86.22,607.21L87.08,605.04L87.95,603.02L88.81,601.4L89.68,600.44L90.56,600.42L91.46,601.19L92.35,602.32L93.2,603.4L94,604.02L94.7,603.82L95.32,603.05L95.91,602.29L96.54,602.12L97.24,603.13L98.01,605.65L98.83,609.24L99.7,613.34L100.6,617.41L101.56,620.99L102.53,624.28L103.53,627.61L104.59,630.72L105.72,633.33L106.95,635.18L108.36,636.18L109.93,636.52L111.54,636.37L113.11,635.87L114.51,635.18L115.73,634.19L116.83,632.79L117.86,631.15L118.87,629.42L119.91,627.79L121.03,626.3L122.18,624.85L123.31,623.35L124.37,621.68L125.31,619.77L126.1,617.4L126.76,614.62L127.36,611.72L127.94,608.97L128.55,606.67L129.17,604.8L129.75,603.19L130.34,601.88L131.01,600.94L131.79,600.44L132.75,600.46L133.85,600.97L135.01,601.83L136.15,602.9L137.19,604.02L138.11,605.13L138.95,606.31L139.76,607.68L140.6,609.35L141.51,611.42L142.52,614.15L143.59,617.43L144.7,620.86L145.81,624.04L146.91,626.6L148.01,628.47L149.12,629.92L150.23,631.09L151.3,632.15L152.31,633.25L153.24,634.62L154.12,636.16L154.95,637.51L155.78,638.33L156.63,638.25L157.39,637.06L158.05,635L158.76,632.36L159.67,629.46L160.95,626.6L162.74,623.59L164.94,620.19L167.32,616.69L169.66,613.37L171.73,610.57L173.52,608.14L175.19,605.91L176.74,604.1L178.2,602.94L179.58,602.69L180.84,603.53L181.98,605.31L183.05,607.7L184.1,610.41L185.18,613.12L186.31,616.05L187.43,619.38L188.55,622.78L189.67,625.94L190.79,628.57L191.93,630.79L193.09,632.8L194.24,634.47L195.35,635.69L196.4,636.33L197.35,636.15L198.22,635.24L199.06,633.96L199.93,632.65L200.88,631.7L201.91,631.36L202.99,631.4L204.11,631.41L205.28,630.99L206.49,629.75L207.78,627.31L209.15,623.9L210.55,620.05L211.93,616.26L213.22,613.12L214.45,610.62L215.65,608.41L216.8,606.54L217.86,605.06L218.82,604.02L219.66,603.69L220.38,604.04L221.03,604.69L221.62,605.26L222.19,605.35L222.69,604.68L223.11,603.5L223.51,602.25L223.93,601.37L224.43,601.34L224.98,602.22L225.53,603.7L226.15,605.67L226.89,607.99L227.79,610.57L228.91,613.65L230.19,617.29L231.59,621.05L233.05,624.54L234.52,627.39L236.02,629.74L237.58,631.87L239.18,633.59L240.78,634.75L242.37,635.18L243.96,634.72L245.57,633.48L247.16,631.7L248.72,629.59L250.22,627.39L251.58,624.89L252.83,621.92L254.07,618.77L255.41,615.73L256.95,613.12L258.82,610.73L260.96,608.37L263.17,606.36L265.26,605.09L267.04,604.91L268.45,606.16L269.61,608.57L270.62,611.63L271.6,614.84L272.65,617.71L273.79,620.41L274.94,623.26L276.09,626.02L277.2,628.51L278.25,630.53L279.2,632.14L280.08,633.49L280.92,634.5L281.79,635.09L282.74,635.18L283.77,634.57L284.85,633.32L285.97,631.72L287.14,630.04L288.35,628.57L289.62,627.39L290.96,626.28L292.33,625.17L293.72,623.98L295.07,622.61L296.37,621.02L297.63,619.27L298.9,617.41L300.25,615.49L301.73,613.54L303.41,611.19L305.26,608.39L307.16,605.71L309.01,603.75L310.7,603.13L312.19,604.23L313.55,606.61L314.84,609.73L316.12,613.04L317.43,616.05L318.81,618.99L320.23,622.16L321.62,625.26L322.95,628.02L324.15,630.14L325.18,631.58L326.06,632.55L326.87,633.14L327.71,633.47L328.64,633.64L329.69,633.74L330.8,633.72L331.95,633.41L333.11,632.66L334.25,631.31L335.37,629.05L336.49,625.98L337.61,622.5L338.73,619.04L339.85,616.05L340.99,613.74L342.15,611.81L343.3,610.02L344.41,608.1L345.46,605.79L346.43,602.62L347.33,598.73L348.2,594.78L349.07,591.51L349.95,589.7L350.82,589.57L351.69,590.52L352.56,592.44L353.46,595.06L354.43,598.16L355.46,602.14L356.54,607.09L357.66,612.3L358.83,617.12L360.04,620.99L361.33,623.91L362.7,626.32L364.1,628.31L365.47,629.95L366.76,631.31L367.96,632.47L369.09,633.39L370.18,633.97L371.27,634.09L372.37,633.64L373.44,632.48L374.45,630.68L375.49,628.44L376.64,625.95L377.98,623.41L379.59,620.66L381.43,617.53L383.36,614.27L385.24,611.14L386.95,608.41L388.44,605.94L389.8,603.55L391.09,601.5L392.37,600.07L393.68,599.53L395.02,600.07L396.37,601.5L397.71,603.55L399.06,605.94L400.4,608.41L401.77,611.22L403.15,614.51L404.52,617.88L405.86,620.97L407.13,623.41L408.29,625.31L409.35,626.92L410.39,628.14L411.49,628.86L412.74,628.97L414.15,628.47L415.66,627.44L417.25,625.87L418.91,623.73L420.59,620.99L422.38,617.14L424.28,612.12L426.2,606.61L428.03,601.37L429.65,597.24L431.02,594.35L432.21,592.21L433.3,590.77L434.35,589.96L435.47,589.7L436.61,590.06L437.73,591.07L438.87,592.66L440.04,594.74L441.28,597.24L442.6,600.49L443.99,604.5L445.41,608.7L446.84,612.58L448.26,615.64L449.67,617.79L451.1,619.39L452.53,620.65L453.91,621.79L455.23,623.01L456.47,624.52L457.64,626.18L458.78,627.68L459.9,628.71L461.05,628.97L462.19,628.35L463.32,627.08L464.45,625.27L465.62,623.06L466.86,620.58L468.16,617.49L469.51,613.66L470.91,609.55L472.35,605.71L473.84,602.69L475.43,600.61L477.12,599.15L478.83,598.19L480.48,597.59L481.98,597.24L483.31,597.13L484.53,597.35L485.66,597.9L486.74,598.78L487.79,599.98L488.8,601.59L489.73,603.59L490.64,605.84L491.53,608.21L492.44,610.57L493.37,613.12L494.3,615.94L495.23,618.72L496.16,621.17L497.09,623.01L498,624.3L498.9,625.24L499.8,625.77L500.74,625.85L501.74,625.41L502.81,624.3L503.93,622.54L505.09,620.37L506.3,617.99L507.56,615.64L508.9,613.16L510.32,610.38L511.77,607.54L513.2,604.88L514.53,602.69L515.79,601.12L517,600.03L518.16,599.17L519.28,598.32L520.35,597.24L521.33,595.59L522.24,593.54L523.11,591.55L524.01,590.1L525,589.7L526.09,590.58L527.24,592.41L528.43,594.82L529.63,597.46L530.81,599.98L531.98,602.5L533.14,605.22L534.3,608L535.47,610.67L536.63,613.12L537.81,615.42L539.01,617.67L540.2,619.76L541.35,621.57L542.44,623.01L543.43,624.11L544.33,624.95L545.2,625.49L546.11,625.66L547.09,625.41L548.22,624.59L549.45,623.22L550.69,621.54L551.87,619.76L552.91,618.12L553.81,616.52L554.64,614.77L555.36,613.08L555.96,611.61L556.4,610.57L556.4,611.82L555.96,612.76L555.36,614.08L554.64,615.63L553.81,617.22L552.91,618.71L551.87,620.24L550.69,621.91L549.45,623.51L548.22,624.82L547.09,625.61L546.11,625.85L545.2,625.68L544.33,625.17L543.43,624.36L542.44,623.31L541.35,621.95L540.2,620.24L539.01,618.29L537.81,616.21L536.63,614.12L535.47,611.92L534.3,609.54L533.14,607.11L531.98,604.77L530.81,602.63L529.63,600.51L528.43,598.34L527.24,596.38L526.09,594.91L525,594.2L524.01,594.52L523.11,595.68L522.24,597.29L521.33,598.97L520.35,600.33L519.28,601.24L518.16,601.95L517,602.66L515.79,603.59L514.53,604.93L513.2,606.82L511.77,609.14L510.32,611.65L508.9,614.15L507.56,616.42L506.3,618.59L505.09,620.81L503.93,622.87L502.81,624.54L501.74,625.61L500.74,626.03L499.8,625.96L498.9,625.44L498,624.54L497.09,623.31L496.16,621.56L495.23,619.27L494.3,616.69L493.37,614.12L492.44,611.82L491.53,609.72L490.64,607.65L489.73,605.7L488.8,603.99L487.79,602.63L486.74,601.62L485.66,600.88L484.53,600.42L483.31,600.24L481.98,600.33L480.48,600.62L478.83,601.12L477.12,601.93L475.43,603.16L473.84,604.93L472.35,607.54L470.91,610.92L469.51,614.61L468.16,618.13L466.86,621.01L465.62,623.36L464.45,625.47L463.32,627.22L462.19,628.46L461.05,629.06L459.9,628.81L458.78,627.8L457.64,626.35L456.47,624.75L455.23,623.31L453.91,622.15L452.53,621.08L451.1,619.89L449.67,618.4L448.26,616.42L446.84,613.63L445.41,610.17L443.99,606.49L442.6,603.06L441.28,600.33L440.04,598.27L438.87,596.57L437.73,595.29L436.61,594.48L435.47,594.2L434.35,594.4L433.3,595.05L432.21,596.22L431.02,597.95L429.65,600.33L428.03,603.8L426.2,608.32L424.28,613.22L422.38,617.8L420.59,621.39L418.91,623.99L417.25,626.05L415.66,627.57L414.15,628.57L412.74,629.06L411.49,628.95L410.39,628.25L409.35,627.07L408.29,625.51L407.13,623.69L405.86,621.38L404.52,618.49L403.15,615.38L401.77,612.41L400.4,609.91L399.06,607.74L397.71,605.66L396.37,603.91L395.02,602.7L393.68,602.25L392.37,602.7L391.09,603.91L389.8,605.66L388.44,607.74L386.95,609.91L385.24,612.33L383.36,615.16L381.43,618.16L379.59,621.08L377.98,623.69L376.64,626.13L375.49,628.54L374.45,630.73L373.44,632.51L372.37,633.65L371.27,634.1L370.18,633.98L369.09,633.41L367.96,632.5L366.76,631.35L365.47,630.02L364.1,628.42L362.7,626.49L361.33,624.17L360.04,621.39L358.83,617.78L357.66,613.38L356.54,608.75L355.46,604.46L354.43,601.1L353.46,598.53L352.56,596.4L351.69,594.85L350.82,594.07L349.95,594.2L349.07,595.65L348.2,598.3L347.33,601.57L346.43,604.87L345.46,607.61L344.41,609.63L343.3,611.33L342.15,612.94L340.99,614.68L339.85,616.8L338.73,619.56L337.61,622.82L336.49,626.16L335.37,629.14L334.25,631.35L333.11,632.69L331.95,633.43L330.8,633.73L329.69,633.76L328.64,633.65L327.71,633.49L326.87,633.16L326.06,632.58L325.18,631.62L324.15,630.2L322.95,628.13L321.62,625.47L320.23,622.5L318.81,619.52L317.43,616.8L316.12,614.05L314.84,611.07L313.55,608.32L312.19,606.25L310.7,605.31L309.01,605.84L307.16,607.53L305.26,609.89L303.41,612.38L301.73,614.5L300.25,616.28L298.9,618.06L297.63,619.79L296.37,621.43L295.07,622.93L293.72,624.24L292.33,625.38L290.96,626.45L289.62,627.52L288.35,628.67L287.14,630.1L285.97,631.75L284.85,633.34L283.77,634.58L282.74,635.18L281.79,635.1L280.92,634.51L280.08,633.51L279.2,632.17L278.25,630.59L277.2,628.61L276.09,626.2L274.94,623.55L273.79,620.86L272.65,618.33L271.6,615.68L270.62,612.78L269.61,610.05L268.45,607.93L267.04,606.84L265.26,607L263.17,608.11L260.96,609.87L258.82,611.97L256.95,614.12L255.41,616.5L254.07,619.31L252.83,622.28L251.58,625.11L250.22,627.52L248.72,629.67L247.16,631.74L245.57,633.5L243.96,634.72L242.37,635.18L240.78,634.76L239.18,633.61L237.58,631.9L236.02,629.81L234.52,627.52L233.05,624.77L231.59,621.45L230.19,617.94L228.91,614.6L227.79,611.82L226.89,609.54L226.15,607.5L225.53,605.8L224.98,604.53L224.43,603.78L223.93,603.8L223.51,604.55L223.11,605.62L222.69,606.64L222.19,607.22L221.62,607.14L221.03,606.65L220.38,606.09L219.66,605.79L218.82,606.08L217.86,606.97L216.8,608.26L215.65,609.91L214.45,611.87L213.22,614.12L211.93,616.99L210.55,620.51L209.15,624.16L207.78,627.44L206.49,629.82L205.28,631.04L204.11,631.45L202.99,631.44L201.91,631.4L200.88,631.74L199.93,632.68L199.06,633.97L198.22,635.25L197.35,636.15L196.4,636.33L195.35,635.69L194.24,634.48L193.09,632.82L191.93,630.84L190.79,628.67L189.67,626.12L188.55,623.09L187.43,619.88L186.31,616.8L185.18,614.12L184.1,611.68L183.05,609.28L181.98,607.19L180.84,605.65L179.58,604.93L178.2,605.15L176.74,606.14L175.19,607.71L173.52,609.67L171.73,611.82L169.66,614.35L167.32,617.38L164.94,620.64L162.74,623.86L160.95,626.76L159.67,629.54L158.76,632.39L158.05,635L157.39,637.06L156.63,638.25L155.78,638.33L154.95,637.51L154.12,636.16L153.24,634.63L152.31,633.27L151.3,632.19L150.23,631.14L149.12,629.99L148.01,628.57L146.91,626.76L145.81,624.29L144.7,621.27L143.59,618.07L142.52,615.05L141.51,612.59L140.6,610.74L139.76,609.26L138.95,608.06L138.11,607.03L137.19,606.08L136.15,605.11L135.01,604.2L133.85,603.46L132.75,603.03L131.79,603.01L131.01,603.44L130.34,604.24L129.75,605.35L129.17,606.75L128.55,608.37L127.94,610.4L127.36,612.86L126.76,615.49L126.1,618.04L125.31,620.25L124.37,622.05L123.31,623.63L122.18,625.07L121.03,626.47L119.91,627.91L118.87,629.5L117.86,631.19L116.83,632.81L115.73,634.2L114.51,635.18L113.11,635.87L111.54,636.37L109.93,636.53L108.36,636.18L106.95,635.18L105.72,633.34L104.59,630.77L103.53,627.74L102.53,624.52L101.56,621.39L100.6,618.06L99.7,614.32L98.83,610.64L98.01,607.48L97.24,605.31L96.54,604.44L95.91,604.59L95.32,605.24L94.7,605.9L94,606.08L93.2,605.54L92.35,604.61L91.46,603.65L90.56,603L89.68,603.01L88.81,603.83L87.95,605.21L87.08,606.95L86.22,608.84L85.36,610.67L84.51,612.51L83.68,614.51L82.84,616.54L81.97,618.5L81.04,620.25L80.03,621.78L78.95,623.18L77.85,624.47L76.73,625.65L75.64,626.76L74.56,627.78L73.48,628.7L72.4,629.53L71.32,630.29L70.24,630.97L69.12,631.69L67.97,632.45L66.84,633.07L65.78,633.4L64.84,633.27L64.07,632.55L63.44,631.35L62.87,629.87L62.28,628.27L61.6,626.76L60.8,625.31L59.95,623.81L59.06,622.27L58.16,620.7L57.28,619.1L56.41,617.38L55.55,615.54L54.69,613.72L53.82,612.05L52.96,610.67L52.1,609.57L51.23,608.66L50.37,607.95L49.5,607.47L48.64,607.22L47.78,607.23L46.91,607.47L46.05,607.94L45.18,608.63L44.32,609.52L43.39,610.83L42.38,612.57L41.42,614.41L40.59,616.05L40,617.18Z" fill="#ff6a1a" stroke="#ff6a1a" stroke-width="5.44" stroke-linejoin="round"/></g>
<path d="M40,642.84L40.57,642.04L41.37,640.86L42.31,639.55L43.32,638.35L44.32,637.48L45.33,636.94L46.4,636.57L47.51,636.39L48.62,636.43L49.72,636.72L50.78,637.3L51.83,638.16L52.88,639.23L53.97,640.43L55.12,641.69L56.38,643.14L57.74,644.82L59.11,646.55L60.42,648.12L61.6,649.35L62.53,650.23L63.27,650.88L63.98,651.32L64.81,651.57L65.92,651.65L67.37,651.54L69.06,651.21L70.89,650.71L72.76,650.08L74.56,649.35L76.32,648.53L78.12,647.58L79.9,646.5L81.61,645.31L83.2,643.99L84.65,642.38L86,640.47L87.27,638.53L88.48,636.81L89.68,635.57L90.83,634.78L91.91,634.29L92.97,634.1L94.01,634.27L95.08,634.8L96.17,635.87L97.29,637.46L98.39,639.31L99.46,641.19L100.48,642.84L101.37,644.28L102.18,645.67L102.96,646.99L103.81,648.22L104.79,649.35L105.92,650.5L107.13,651.66L108.42,652.68L109.81,653.37L111.27,653.57L112.9,653.09L114.68,652.06L116.51,650.73L118.29,649.36L119.91,648.21L121.35,647.36L122.66,646.64L123.9,645.93L125.13,645.09L126.39,643.99L127.69,642.41L128.98,640.43L130.28,638.39L131.58,636.66L132.87,635.57L134.17,635.2L135.46,635.31L136.76,635.8L138.06,636.56L139.35,637.48L140.65,638.66L141.94,640.19L143.24,641.88L144.54,643.59L145.83,645.14L147.16,646.57L148.53,647.99L149.87,649.35L151.15,650.59L152.31,651.65L153.28,652.66L154.09,653.64L154.85,654.43L155.66,654.84L156.63,654.72L157.63,653.94L158.59,652.63L159.7,650.94L161.14,649.03L163.11,647.06L165.9,644.63L169.39,641.65L173.13,638.7L176.68,636.35L179.58,635.18L181.68,635.5L183.28,636.93L184.62,639L185.92,641.25L187.43,643.23L189.15,645.12L190.93,647.23L192.76,649.27L194.59,650.97L196.4,652.04L198.19,652.39L199.99,652.23L201.78,651.66L203.57,650.79L205.37,649.74L207.14,648.4L208.9,646.7L210.67,644.79L212.47,642.82L214.34,640.93L216.32,638.75L218.4,636.18L220.5,633.78L222.54,632.11L224.43,631.74L226.11,633.12L227.62,635.89L229.09,639.35L230.6,642.79L232.28,645.52L234.12,647.73L236.05,649.87L238.07,651.68L240.17,652.88L242.37,653.18L244.69,652.29L247.14,650.38L249.66,647.92L252.2,645.38L254.71,643.23L257.24,641.2L259.86,638.99L262.43,636.98L264.86,635.58L267.04,635.18L268.9,636.12L270.5,638.12L271.97,640.7L273.39,643.33L274.89,645.52L276.42,647.44L277.92,649.42L279.44,651.21L281.03,652.55L282.74,653.18L284.49,653L286.24,652.18L288.13,650.88L290.28,649.24L292.83,647.44L296.05,644.97L299.85,641.74L303.82,638.48L307.57,635.92L310.7,634.8L313.06,635.57L314.93,637.74L316.51,640.63L318.02,643.58L319.67,645.91L321.43,647.78L323.15,649.63L324.89,651.24L326.7,652.37L328.64,652.8L330.72,652.43L332.91,651.4L335.18,649.88L337.5,648L339.85,645.91L342.32,643.06L344.92,639.35L347.52,635.61L349.99,632.67L352.19,631.35L353.99,632.14L355.49,634.47L356.87,637.64L358.32,640.92L360.04,643.61L362.06,645.9L364.28,648.28L366.6,650.43L368.95,652.04L371.25,652.8L373.47,652.48L375.68,651.29L377.9,649.57L380.15,647.67L382.46,645.91L384.89,643.99L387.42,641.68L389.97,639.45L392.46,637.76L394.8,637.1L396.98,637.76L399.05,639.45L401.04,641.68L402.98,643.99L404.89,645.91L406.72,647.63L408.45,649.46L410.16,651.13L411.94,652.34L413.86,652.8L415.92,652.36L418.06,651.2L420.29,649.57L422.62,647.73L425.07,645.91L427.75,643.75L430.65,641.1L433.6,638.49L436.43,636.46L438.95,635.57L441.11,636.13L443,637.8L444.75,640.07L446.47,642.43L448.26,644.38L450.12,646.04L451.98,647.77L453.84,649.35L455.7,650.58L457.56,651.27L459.34,651.38L461.06,651.06L462.8,650.33L464.7,649.24L466.86,647.82L469.43,645.58L472.33,642.49L475.34,639.29L478.25,636.74L480.81,635.57L482.97,636.17L484.87,638.06L486.62,640.64L488.33,643.32L490.12,645.52L491.94,647.43L493.73,649.43L495.53,651.25L497.41,652.6L499.42,653.18L501.54,652.86L503.73,651.82L506.03,650.29L508.46,648.5L511.05,646.67L513.96,644.41L517.18,641.55L520.45,638.71L523.53,636.51L526.16,635.57L528.26,636.28L529.98,638.23L531.47,640.83L532.86,643.46L534.3,645.52L535.88,647.03L537.51,648.4L539.05,649.59L540.35,650.56L541.28,651.27" fill="none" stroke="#ff7f00" stroke-width="1.6" stroke-dasharray="7,4.5"/>
<path d="M40,617.18L40.59,616.05L41.42,614.41L42.38,612.57L43.39,610.83L44.32,609.52L45.18,608.63L46.05,607.94L46.91,607.47L47.78,607.23L48.64,607.22L49.5,607.47L50.37,607.95L51.23,608.66L52.1,609.57L52.96,610.67L53.82,612.05L54.69,613.72L55.55,615.54L56.41,617.38L57.28,619.1L58.16,620.7L59.06,622.27L59.95,623.81L60.8,625.31L61.6,626.76L62.28,628.27L62.87,629.87L63.44,631.35L64.07,632.55L64.84,633.27L65.78,633.4L66.84,633.07L67.97,632.45L69.12,631.69L70.24,630.97L71.32,630.29L72.4,629.53L73.48,628.7L74.56,627.78L75.64,626.76L76.73,625.65L77.85,624.47L78.95,623.18L80.03,621.78L81.04,620.25L81.97,618.5L82.84,616.54L83.68,614.51L84.51,612.51L85.36,610.67L86.22,608.84L87.08,606.95L87.95,605.21L88.81,603.83L89.68,603.01L90.56,603L91.46,603.65L92.35,604.61L93.2,605.54L94,606.08L94.7,605.9L95.32,605.24L95.91,604.59L96.54,604.44L97.24,605.31L98.01,607.48L98.83,610.64L99.7,614.32L100.6,618.06L101.56,621.39L102.53,624.52L103.53,627.74L104.59,630.77L105.72,633.34L106.95,635.18L108.36,636.18L109.93,636.53L111.54,636.37L113.11,635.87L114.51,635.18L115.73,634.2L116.83,632.81L117.86,631.19L118.87,629.5L119.91,627.91L121.03,626.47L122.18,625.07L123.31,623.63L124.37,622.05L125.31,620.25L126.1,618.04L126.76,615.49L127.36,612.86L127.94,610.4L128.55,608.37L129.17,606.75L129.75,605.35L130.34,604.24L131.01,603.44L131.79,603.01L132.75,603.03L133.85,603.46L135.01,604.2L136.15,605.11L137.19,606.08L138.11,607.03L138.95,608.06L139.76,609.26L140.6,610.74L141.51,612.59L142.52,615.05L143.59,618.07L144.7,621.27L145.81,624.29L146.91,626.76L148.01,628.57L149.12,629.99L150.23,631.14L151.3,632.19L152.31,633.27L153.24,634.63L154.12,636.16L154.95,637.51L155.78,638.33L156.63,638.25L157.39,637.06L158.05,635L158.76,632.39L159.67,629.54L160.95,626.76L162.74,623.86L164.94,620.64L167.32,617.38L169.66,614.35L171.73,611.82L173.52,609.67L175.19,607.71L176.74,606.14L178.2,605.15L179.58,604.93L180.84,605.65L181.98,607.19L183.05,609.28L184.1,611.68L185.18,614.12L186.31,616.8L187.43,619.88L188.55,623.09L189.67,626.12L190.79,628.67L191.93,630.84L193.09,632.82L194.24,634.48L195.35,635.69L196.4,636.33L197.35,636.15L198.22,635.25L199.06,633.97L199.93,632.68L200.88,631.74L201.91,631.4L202.99,631.44L204.11,631.45L205.28,631.04L206.49,629.82L207.78,627.44L209.15,624.16L210.55,620.51L211.93,616.99L213.22,614.12L214.45,611.87L215.65,609.91L216.8,608.26L217.86,606.97L218.82,606.08L219.66,605.79L220.38,606.09L221.03,606.65L221.62,607.14L222.19,607.22L222.69,606.64L223.11,605.62L223.51,604.55L223.93,603.8L224.43,603.78L224.98,604.53L225.53,605.8L226.15,607.5L226.89,609.54L227.79,611.82L228.91,614.6L230.19,617.94L231.59,621.45L233.05,624.77L234.52,627.52L236.02,629.81L237.58,631.9L239.18,633.61L240.78,634.76L242.37,635.18L243.96,634.72L245.57,633.5L247.16,631.74L248.72,629.67L250.22,627.52L251.58,625.11L252.83,622.28L254.07,619.31L255.41,616.5L256.95,614.12L258.82,611.97L260.96,609.87L263.17,608.11L265.26,607L267.04,606.84L268.45,607.93L269.61,610.05L270.62,612.78L271.6,615.68L272.65,618.33L273.79,620.86L274.94,623.55L276.09,626.2L277.2,628.61L278.25,630.59L279.2,632.17L280.08,633.51L280.92,634.51L281.79,635.1L282.74,635.18L283.77,634.58L284.85,633.34L285.97,631.75L287.14,630.1L288.35,628.67L289.62,627.52L290.96,626.45L292.33,625.38L293.72,624.24L295.07,622.93L296.37,621.43L297.63,619.79L298.9,618.06L300.25,616.28L301.73,614.5L303.41,612.38L305.26,609.89L307.16,607.53L309.01,605.84L310.7,605.31L312.19,606.25L313.55,608.32L314.84,611.07L316.12,614.05L317.43,616.8L318.81,619.52L320.23,622.5L321.62,625.47L322.95,628.13L324.15,630.2L325.18,631.62L326.06,632.58L326.87,633.16L327.71,633.49L328.64,633.65L329.69,633.76L330.8,633.73L331.95,633.43L333.11,632.69L334.25,631.35L335.37,629.14L336.49,626.16L337.61,622.82L338.73,619.56L339.85,616.8L340.99,614.68L342.15,612.94L343.3,611.33L344.41,609.63L345.46,607.61L346.43,604.87L347.33,601.57L348.2,598.3L349.07,595.65L349.95,594.2L350.82,594.07L351.69,594.85L352.56,596.4L353.46,598.53L354.43,601.1L355.46,604.46L356.54,608.75L357.66,613.38L358.83,617.78L360.04,621.39L361.33,624.17L362.7,626.49L364.1,628.42L365.47,630.02L366.76,631.35L367.96,632.5L369.09,633.41L370.18,633.98L371.27,634.1L372.37,633.65L373.44,632.51L374.45,630.73L375.49,628.54L376.64,626.13L377.98,623.69L379.59,621.08L381.43,618.16L383.36,615.16L385.24,612.33L386.95,609.91L388.44,607.74L389.8,605.66L391.09,603.91L392.37,602.7L393.68,602.25L395.02,602.7L396.37,603.91L397.71,605.66L399.06,607.74L400.4,609.91L401.77,612.41L403.15,615.38L404.52,618.49L405.86,621.38L407.13,623.69L408.29,625.51L409.35,627.07L410.39,628.25L411.49,628.95L412.74,629.06L414.15,628.57L415.66,627.57L417.25,626.05L418.91,623.99L420.59,621.39L422.38,617.8L424.28,613.22L426.2,608.32L428.03,603.8L429.65,600.33L431.02,597.95L432.21,596.22L433.3,595.05L434.35,594.4L435.47,594.2L436.61,594.48L437.73,595.29L438.87,596.57L440.04,598.27L441.28,600.33L442.6,603.06L443.99,606.49L445.41,610.17L446.84,613.63L448.26,616.42L449.67,618.4L451.1,619.89L452.53,621.08L453.91,622.15L455.23,623.31L456.47,624.75L457.64,626.35L458.78,627.8L459.9,628.81L461.05,629.06L462.19,628.46L463.32,627.22L464.45,625.47L465.62,623.36L466.86,621.01L468.16,618.13L469.51,614.61L470.91,610.92L472.35,607.54L473.84,604.93L475.43,603.16L477.12,601.93L478.83,601.12L480.48,600.62L481.98,600.33L483.31,600.24L484.53,600.42L485.66,600.88L486.74,601.62L487.79,602.63L488.8,603.99L489.73,605.7L490.64,607.65L491.53,609.72L492.44,611.82L493.37,614.12L494.3,616.69L495.23,619.27L496.16,621.56L497.09,623.31L498,624.54L498.9,625.44L499.8,625.96L500.74,626.03L501.74,625.61L502.81,624.54L503.93,622.87L505.09,620.81L506.3,618.59L507.56,616.42L508.9,614.15L510.32,611.65L511.77,609.14L513.2,606.82L514.53,604.93L515.79,603.59L517,602.66L518.16,601.95L519.28,601.24L520.35,600.33L521.33,598.97L522.24,597.29L523.11,595.68L524.01,594.52L525,594.2L526.09,594.91L527.24,596.38L528.43,598.34L529.63,600.51L530.81,602.63L531.98,604.77L533.14,607.11L534.3,609.54L535.47,611.92L536.63,614.12L537.81,616.21L539.01,618.29L540.2,620.24L541.35,621.95L542.44,623.31L543.43,624.36L544.33,625.17L545.2,625.68L546.11,625.85L547.09,625.61L548.22,624.82L549.45,623.51L550.69,621.91L551.87,620.24L552.91,618.71L553.81,617.22L554.64,615.63L555.36,614.08L555.96,612.76L556.4,611.82" fill="none" stroke="#ff7f00" stroke-width="1.95" stroke-linejoin="round"/>
<g fill="#fff" stroke="#383838" stroke-width="1.05"><circle cx="385.71" cy="593.5" r="2.45"/><circle cx="378.32" cy="624.81" r="2.45"/><circle cx="362.58" cy="627.47" r="2.45"/><circle cx="359.77" cy="619.31" r="2.45"/><circle cx="367.65" cy="618.71" r="2.45"/><circle cx="359.67" cy="602.57" r="2.45"/><circle cx="358.57" cy="611.27" r="2.45"/><circle cx="356.83" cy="617.34" r="2.45"/><circle cx="362.89" cy="620.23" r="2.45"/><circle cx="371.92" cy="616.91" r="2.45"/><circle cx="361.63" cy="606.58" r="2.45"/><circle cx="377.96" cy="629.34" r="2.45"/><circle cx="368.64" cy="608.28" r="2.45"/><circle cx="381.1" cy="604.3" r="2.45"/><circle cx="363.61" cy="607.74" r="2.45"/><circle cx="382.02" cy="558.2" r="2.45"/><circle cx="423.14" cy="630.36" r="2.45"/><circle cx="410.4" cy="597.41" r="2.45"/><circle cx="397.29" cy="593.96" r="2.45"/><circle cx="394.74" cy="613.44" r="2.45"/><circle cx="421.14" cy="621.58" r="2.45"/><circle cx="406.91" cy="611.45" r="2.45"/><circle cx="405.08" cy="608.67" r="2.45"/><circle cx="392" cy="593.14" r="2.45"/><circle cx="390.23" cy="606.99" r="2.45"/><circle cx="422.11" cy="637.1" r="2.45"/><circle cx="413.56" cy="618.53" r="2.45"/><circle cx="389.84" cy="572.65" r="2.45"/><circle cx="424.74" cy="620.25" r="2.45"/><circle cx="408.26" cy="611.57" r="2.45"/><circle cx="397.69" cy="578.64" r="2.45"/><circle cx="407.74" cy="603.02" r="2.45"/><circle cx="418.2" cy="614.05" r="2.45"/><circle cx="403.62" cy="613.07" r="2.45"/><circle cx="403.65" cy="609.67" r="2.45"/><circle cx="388.07" cy="594.74" r="2.45"/><circle cx="407.48" cy="596.14" r="2.45"/><circle cx="408.34" cy="604.37" r="2.45"/><circle cx="401.37" cy="599.28" r="2.45"/><circle cx="408.85" cy="602.47" r="2.45"/><circle cx="390.66" cy="585.01" r="2.45"/><circle cx="450.21" cy="601.74" r="2.45"/><circle cx="443.87" cy="586.85" r="2.45"/><circle cx="443.74" cy="595.91" r="2.45"/><circle cx="459.18" cy="618.81" r="2.45"/><circle cx="471.95" cy="600.28" r="2.45"/><circle cx="442.95" cy="604.52" r="2.45"/><circle cx="445.28" cy="602.53" r="2.45"/><circle cx="464.88" cy="632.97" r="2.45"/><circle cx="467.24" cy="618.79" r="2.45"/><circle cx="470.38" cy="608.53" r="2.45"/><circle cx="443.94" cy="592.99" r="2.45"/><circle cx="456.85" cy="608.06" r="2.45"/><circle cx="467.68" cy="616.32" r="2.45"/><circle cx="456.67" cy="611.05" r="2.45"/><circle cx="442.07" cy="605.31" r="2.45"/><circle cx="467.15" cy="612.26" r="2.45"/><circle cx="461.72" cy="633.39" r="2.45"/><circle cx="443.35" cy="599.8" r="2.45"/><circle cx="446.85" cy="622.66" r="2.45"/><circle cx="455.25" cy="593.78" r="2.45"/><circle cx="447.74" cy="628.1" r="2.45"/><circle cx="435.46" cy="596.05" r="2.45"/><circle cx="459.02" cy="589.26" r="2.45"/><circle cx="453.2" cy="619.6" r="2.45"/><circle cx="429.97" cy="582.69" r="2.45"/><circle cx="450.65" cy="617.74" r="2.45"/><circle cx="440.02" cy="591.32" r="2.45"/><circle cx="449.52" cy="602.42" r="2.45"/><circle cx="440.85" cy="573.74" r="2.45"/><circle cx="430.08" cy="617.91" r="2.45"/><circle cx="453.36" cy="602.52" r="2.45"/><circle cx="434.43" cy="616.64" r="2.45"/><circle cx="452.45" cy="612.14" r="2.45"/><circle cx="466.75" cy="620.19" r="2.45"/><circle cx="464.38" cy="602.54" r="2.45"/><circle cx="440.52" cy="591.59" r="2.45"/><circle cx="462.75" cy="629.87" r="2.45"/><circle cx="463.91" cy="620.12" r="2.45"/><circle cx="450.18" cy="596.25" r="2.45"/><circle cx="437.97" cy="581.74" r="2.45"/><circle cx="451.81" cy="592.53" r="2.45"/><circle cx="460.99" cy="640.22" r="2.45"/><circle cx="452.05" cy="542.88" r="2.45"/><circle cx="452.05" cy="563.95" r="2.45"/><circle cx="461.13" cy="563.95" r="2.45"/><circle cx="464.15" cy="567.78" r="2.45"/><circle cx="452.91" cy="577.35" r="2.45"/><circle cx="477.43" cy="595.75" r="2.45"/><circle cx="485.23" cy="580.06" r="2.45"/><circle cx="485.1" cy="581.3" r="2.45"/><circle cx="513.04" cy="592.82" r="2.45"/><circle cx="475.06" cy="609.66" r="2.45"/><circle cx="484.87" cy="608.91" r="2.45"/><circle cx="495.36" cy="609.59" r="2.45"/><circle cx="513.99" cy="601.39" r="2.45"/><circle cx="488.22" cy="596.18" r="2.45"/><circle cx="489.01" cy="605.65" r="2.45"/><circle cx="500.89" cy="606.71" r="2.45"/><circle cx="486.37" cy="580.53" r="2.45"/><circle cx="484.65" cy="594.73" r="2.45"/><circle cx="491.81" cy="606.59" r="2.45"/><circle cx="501.6" cy="612.28" r="2.45"/><circle cx="477.06" cy="596" r="2.45"/><circle cx="501.76" cy="607.51" r="2.45"/><circle cx="485.68" cy="605.23" r="2.45"/><circle cx="501.41" cy="600.93" r="2.45"/><circle cx="495.44" cy="613.64" r="2.45"/><circle cx="500.51" cy="586.46" r="2.45"/><circle cx="474.19" cy="618.1" r="2.45"/><circle cx="490.61" cy="621.75" r="2.45"/><circle cx="514.98" cy="594.34" r="2.45"/><circle cx="505.02" cy="601.86" r="2.45"/><circle cx="514.43" cy="594.56" r="2.45"/><circle cx="491.2" cy="589.22" r="2.45"/><circle cx="484.36" cy="595.31" r="2.45"/><circle cx="511.46" cy="617.05" r="2.45"/><circle cx="501.25" cy="605.4" r="2.45"/><circle cx="492.71" cy="612.07" r="2.45"/><circle cx="496.34" cy="603.3" r="2.45"/><circle cx="484.11" cy="590.12" r="2.45"/><circle cx="510.71" cy="610.24" r="2.45"/><circle cx="484.45" cy="570.63" r="2.45"/><circle cx="501.67" cy="607.13" r="2.45"/><circle cx="514.14" cy="616.64" r="2.45"/><circle cx="482.02" cy="584.17" r="2.45"/><circle cx="510.34" cy="620.83" r="2.45"/><circle cx="502.51" cy="589.84" r="2.45"/><circle cx="492.84" cy="600.49" r="2.45"/><circle cx="512.4" cy="612.21" r="2.45"/><circle cx="483" cy="577.66" r="2.45"/><circle cx="496.03" cy="588.21" r="2.45"/><circle cx="501" cy="608.41" r="2.45"/><circle cx="504.9" cy="609.51" r="2.45"/><circle cx="497.01" cy="525.65" r="2.45"/><circle cx="497.01" cy="537.14" r="2.45"/><circle cx="481.45" cy="560.12" r="2.45"/><circle cx="496.58" cy="569.69" r="2.45"/><circle cx="497.44" cy="567.78" r="2.45"/><circle cx="535.33" cy="603.51" r="2.45"/><circle cx="541.49" cy="590.89" r="2.45"/><circle cx="522.09" cy="576.64" r="2.45"/><circle cx="519.09" cy="583.71" r="2.45"/><circle cx="534.89" cy="612.23" r="2.45"/><circle cx="528.33" cy="582.31" r="2.45"/><circle cx="517.27" cy="599.67" r="2.45"/><circle cx="519.19" cy="592.63" r="2.45"/><circle cx="519.74" cy="600.7" r="2.45"/><circle cx="524.81" cy="572.93" r="2.45"/><circle cx="540.29" cy="615.97" r="2.45"/><circle cx="541.81" cy="600.6" r="2.45"/><circle cx="522.2" cy="586.34" r="2.45"/><circle cx="541.94" cy="594.4" r="2.45"/><circle cx="521.21" cy="572.63" r="2.45"/><circle cx="522.26" cy="597.13" r="2.45"/><circle cx="525.52" cy="588.34" r="2.45"/><circle cx="528.24" cy="587.43" r="2.45"/><circle cx="526.05" cy="583.49" r="2.45"/><circle cx="540.06" cy="593.55" r="2.45"/><circle cx="517.67" cy="589.55" r="2.45"/><circle cx="527.27" cy="574.28" r="2.45"/><circle cx="526.48" cy="592.04" r="2.45"/><circle cx="536.82" cy="602.95" r="2.45"/><circle cx="516.15" cy="618.8" r="2.45"/><circle cx="519.83" cy="599.43" r="2.45"/><circle cx="523.9" cy="565.71" r="2.45"/><circle cx="521.18" cy="602.99" r="2.45"/><circle cx="518.35" cy="594.78" r="2.45"/><circle cx="541.68" cy="593.32" r="2.45"/><circle cx="529.15" cy="585.56" r="2.45"/><circle cx="525.61" cy="572.88" r="2.45"/><circle cx="525.78" cy="577.07" r="2.45"/><circle cx="535.01" cy="601.99" r="2.45"/><circle cx="535.4" cy="624.97" r="2.45"/><circle cx="540.5" cy="611.49" r="2.45"/><circle cx="522.51" cy="560.12" r="2.45"/><circle cx="526.84" cy="561.26" r="2.45"/><circle cx="529" cy="552.46" r="2.45"/><circle cx="525.54" cy="556.29" r="2.45"/></g>
<path d="M354.43,593.05L354.89,594.71L355.53,597.05L356.29,599.79L357.07,602.64L357.79,605.31L358.47,608.09L359.14,611.16L359.81,614.11L360.49,616.52L361.16,617.95L361.83,618.19L362.5,617.52L363.18,616.27L363.85,614.77L364.52,613.35L365.2,611.73L365.87,609.67L366.54,607.62L367.21,606.02L367.89,605.31L368.54,605.65L369.18,606.73L369.82,608.34L370.51,610.24L371.25,612.2L372.08,614.63L372.96,617.68L373.89,620.73L374.82,623.2L375.74,624.46L376.63,624.23L377.53,622.9L378.43,620.93L379.32,618.75L380.22,616.8L381.12,614.98L382.02,612.99L382.91,611L383.81,609.15L384.71,607.61L385.62,606.49L386.55,605.69L387.48,605.03L388.37,604.33L389.19,603.39L389.93,602.18L390.6,600.81L391.23,599.36L391.87,597.9L392.56,596.5L393.29,594.93L394.04,593.13L394.81,591.47L395.58,590.3L396.37,589.99L397.15,590.66L397.95,592.08L398.75,594.04L399.57,596.35L400.4,598.8L401.29,601.86L402.22,605.67L403.16,609.52L404.06,612.7L404.89,614.5L405.64,614.54L406.34,613.3L406.99,611.34L407.63,609.25L408.25,607.61L408.85,606.23L409.41,604.73L409.96,603.38L410.54,602.46L411.17,602.25L411.85,602.88L412.54,604.19L413.28,605.94L414.09,607.92L414.98,609.91L416.01,612.25L417.15,615.11L418.34,617.94L419.51,620.21L420.59,621.39L421.56,621.35L422.46,620.44L423.33,618.86L424.19,616.81L425.07,614.5L425.96,611.63L426.84,608.05L427.73,604.23L428.66,600.61L429.65,597.65L430.76,595.4L431.98,593.58L433.21,592.07L434.4,590.78L435.47,589.61L436.37,588.38L437.17,587.18L437.91,586.24L438.64,585.82L439.42,586.16L440.23,587.49L441.05,589.66L441.89,592.31L442.73,595.09L443.6,597.65L444.52,600.3L445.49,603.27L446.46,606.11L447.39,608.34L448.26,609.52L449.04,609.3L449.76,607.97L450.44,606.07L451.09,604.11L451.74,602.63L452.36,601.47L452.94,600.29L453.51,599.3L454.11,598.73L454.77,598.8L455.49,599.69L456.25,601.25L457.04,603.21L457.87,605.29L458.72,607.22L459.61,609.23L460.53,611.51L461.48,613.7L462.43,615.45L463.37,616.42L464.28,616.42L465.18,615.68L466.08,614.49L467.02,613.11L468.02,611.82L469.13,610.67L470.32,609.47L471.54,608.15L472.73,606.66L473.84,604.93L474.85,602.85L475.8,600.46L476.72,597.93L477.61,595.41L478.49,593.05L479.34,590.48L480.15,587.59L480.96,584.95L481.79,583.14L482.67,582.71L483.65,584.15L484.68,587.07L485.73,590.76L486.78,594.53L487.79,597.65L488.77,600.33L489.74,603.03L490.69,605.47L491.59,607.35L492.44,608.37L493.22,608.3L493.94,607.33L494.62,605.83L495.28,604.14L495.93,602.63L496.55,601L497.13,599.02L497.7,597.12L498.3,595.75L498.95,595.35L499.69,596.16L500.49,597.88L501.31,600.15L502.13,602.62L502.91,604.93L503.62,607.4L504.28,610.27L504.94,613.05L505.63,615.26L506.4,616.42L507.25,616.21L508.17,614.98L509.13,613.16L510.1,611.19L511.05,609.52L511.98,608.22L512.91,607L513.84,605.74L514.77,604.33L515.7,602.63L516.62,600.56L517.54,598.2L518.45,595.69L519.39,593.16L520.35,590.76L521.36,588.17L522.41,585.3L523.46,582.62L524.49,580.58L525.47,579.65L526.37,580.05L527.24,581.48L528.07,583.59L528.87,586.03L529.65,588.46L530.41,591.12L531.15,594.25L531.86,597.47L532.53,600.39L533.14,602.63L533.67,604.18L534.12,605.29L534.54,605.98L534.97,606.24L535.47,606.08L536.07,605.19L536.77,603.59L537.46,601.7L538.07,599.96L538.49,598.8" fill="none" stroke="#0a0af0" stroke-width="1.9" stroke-linejoin="round"/>
<line x1="354.35" y1="611.05" x2="539.81" y2="597.65" stroke="#ff0a0a" stroke-width="2.9"/>
</g>
<g clip-path="url(#cp4)">
<line x1="83.73" y1="662.9" x2="83.73" y2="816.1" stroke="#d6d6d6" stroke-width="1"/>
<line x1="126.96" y1="662.9" x2="126.96" y2="816.1" stroke="#d6d6d6" stroke-width="1"/>
<line x1="170.19" y1="662.9" x2="170.19" y2="816.1" stroke="#d6d6d6" stroke-width="1"/>
<line x1="213.42" y1="662.9" x2="213.42" y2="816.1" stroke="#d6d6d6" stroke-width="1"/>
<line x1="256.65" y1="662.9" x2="256.65" y2="816.1" stroke="#d6d6d6" stroke-width="1"/>
<line x1="299.88" y1="662.9" x2="299.88" y2="816.1" stroke="#d6d6d6" stroke-width="1"/>
<line x1="343.11" y1="662.9" x2="343.11" y2="816.1" stroke="#d6d6d6" stroke-width="1"/>
<line x1="386.34" y1="662.9" x2="386.34" y2="816.1" stroke="#d6d6d6" stroke-width="1"/>
<line x1="429.57" y1="662.9" x2="429.57" y2="816.1" stroke="#d6d6d6" stroke-width="1"/>
<line x1="472.8" y1="662.9" x2="472.8" y2="816.1" stroke="#d6d6d6" stroke-width="1"/>
<line x1="516.03" y1="662.9" x2="516.03" y2="816.1" stroke="#d6d6d6" stroke-width="1"/>
<line x1="40.5" y1="794.21" x2="559.26" y2="794.21" stroke="#d6d6d6" stroke-width="1"/>
<line x1="40.5" y1="750.44" x2="559.26" y2="750.44" stroke="#d6d6d6" stroke-width="1"/>
<line x1="40.5" y1="706.67" x2="559.26" y2="706.67" stroke="#d6d6d6" stroke-width="1"/>
<g opacity="0.34"><path d="M40,766.2L40.61,765.08L41.47,763.54L42.48,761.68L43.52,759.62L44.49,757.45L45.39,755.09L46.3,752.47L47.21,749.71L48.1,746.96L48.97,744.31L49.81,741.35L50.63,737.96L51.43,734.84L52.22,732.65L53.01,732.06L53.79,733.45L54.57,736.36L55.34,740.24L56.09,744.54L56.82,748.69L57.5,752.83L58.14,757.32L58.78,761.97L59.45,766.6L60.18,771.02L61.01,775.36L61.9,779.75L62.82,783.99L63.75,787.86L64.67,791.15L65.57,793.88L66.46,796.18L67.36,798.04L68.26,799.44L69.15,800.34L70.03,800.88L70.89,801.07L71.76,800.72L72.67,799.66L73.64,797.72L74.73,794.4L75.91,789.84L77.11,784.75L78.25,779.84L79.25,775.83L80.04,772.81L80.7,770.31L81.29,768.18L81.9,766.28L82.61,764.45L83.44,762.98L84.32,761.96L85.25,760.98L86.18,759.62L87.1,757.45L87.99,754.13L88.89,749.96L89.79,745.43L90.68,741.04L91.58,737.31L92.48,733.85L93.38,730.33L94.27,727.31L95.17,725.36L96.07,725.06L96.96,726.77L97.86,730.13L98.76,734.56L99.65,739.48L100.55,744.31L101.45,749.32L102.35,754.88L103.24,760.61L104.14,766.12L105.04,771.02L105.93,775.38L106.83,779.48L107.73,783.18L108.63,786.38L109.52,788.96L110.42,791.06L111.32,792.74L112.21,793.82L113.11,794.08L114.01,793.34L114.92,791.18L115.86,787.74L116.78,783.63L117.67,779.46L118.49,775.83L119.2,772.69L119.81,769.62L120.4,766.72L121.06,764.09L121.86,761.82L122.83,760.08L123.94,758.79L125.11,757.72L126.31,756.62L127.46,755.26L128.58,753.69L129.71,752.09L130.83,750.34L131.95,748.37L133.07,746.07L134.19,742.79L135.31,738.6L136.43,734.47L137.56,731.38L138.68,730.31L139.8,731.63L140.92,734.7L142.04,738.94L143.16,743.8L144.28,748.69L145.42,754.01L146.58,760.12L147.73,766.47L148.84,772.48L149.89,777.58L150.84,781.9L151.71,785.8L152.55,789.12L153.42,791.69L154.38,793.34L155.44,794.05L156.59,793.92L157.77,793L158.91,791.34L159.98,788.96L160.95,785.36L161.86,780.51L162.73,775.18L163.59,770.15L164.47,766.2L165.41,763.4L166.4,761.23L167.36,759.58L168.24,758.36L168.95,757.45L169.44,756.99L169.74,757.06L169.96,757.45L170.21,757.94L170.61,758.32L171.15,758.87L171.78,759.72L172.46,760.46L173.2,760.72L173.97,760.07L174.8,758.27L175.71,755.56L176.64,752.36L177.57,749.06L178.46,746.07L179.3,742.89L180.11,739.28L180.92,735.94L181.71,733.59L182.49,732.93L183.26,734.39L184,737.48L184.74,741.59L185.5,746.11L186.31,750.44L187.16,754.77L188.05,759.51L188.96,764.35L189.88,769.02L190.79,773.2L191.69,776.99L192.58,780.56L193.48,783.81L194.38,786.65L195.28,788.96L196.17,790.78L197.07,792.16L197.97,793.08L198.86,793.49L199.76,793.34L200.66,792.61L201.56,791.33L202.45,789.54L203.35,787.27L204.25,784.58L205.14,781.15L206.04,776.93L206.94,772.42L207.83,768.1L208.73,764.45L209.61,761.68L210.47,759.48L211.34,757.52L212.25,755.49L213.22,753.07L214.26,750.2L215.35,747.08L216.48,743.82L217.64,740.53L218.82,737.31L220.06,733.54L221.35,729.16L222.66,725.08L223.92,722.24L225.1,721.55L226.18,723.58L227.2,727.7L228.16,733.08L229.1,738.89L230.04,744.31L230.96,749.56L231.86,755.17L232.75,760.84L233.63,766.23L234.52,771.02L235.42,775.25L236.32,779.15L237.21,782.63L238.11,785.64L239.01,788.09L239.9,790.01L240.8,791.47L241.7,792.39L242.6,792.74L243.49,792.46L244.39,791.43L245.29,789.67L246.18,787.38L247.08,784.75L247.98,781.96L248.86,778.74L249.72,774.95L250.59,771.03L251.49,767.39L252.46,764.45L253.51,762.4L254.63,760.98L255.77,759.87L256.93,758.79L258.07,757.45L259.17,755.85L260.26,754.2L261.35,752.47L262.48,750.64L263.68,748.69L264.99,746.11L266.39,742.92L267.82,739.88L269.18,737.75L270.4,737.31L271.45,738.95L272.36,742.17L273.2,746.36L274.03,750.92L274.89,755.26L275.79,759.58L276.68,764.29L277.58,769.07L278.48,773.61L279.38,777.58L280.25,781.11L281.12,784.4L281.99,787.28L282.89,789.59L283.86,791.15L284.93,791.94L286.08,792.06L287.25,791.57L288.4,790.52L289.47,788.96L290.42,786.68L291.29,783.64L292.14,780.16L293.01,776.57L293.95,773.2L295.01,769.87L296.14,766.35L297.3,762.93L298.43,759.87L299.49,757.45L300.45,756.02L301.35,755.42L302.23,755.09L303.09,754.49L303.97,753.07L304.87,750.53L305.79,747.25L306.69,743.66L307.59,740.2L308.46,737.31L309.3,734.76L310.11,732.25L310.92,730.15L311.71,728.8L312.49,728.56L313.26,729.52L314,731.46L314.74,734.22L315.5,737.68L316.31,741.69L317.14,746.74L318,752.93L318.88,759.52L319.81,765.79L320.79,771.02L321.84,775.25L322.95,778.97L324.1,782.11L325.26,784.59L326.4,786.34L327.55,787.32L328.75,787.58L329.92,787.18L331.03,786.16L332,784.58L332.82,782.08L333.51,778.62L334.13,774.75L334.73,771.01L335.37,767.95L336.04,765.58L336.71,763.55L337.39,761.82L338.06,760.37L338.73,759.2L339.37,758.37L339.96,757.91L340.57,757.68L341.27,757.57L342.1,757.45L343.17,757.52L344.43,757.87L345.75,758.18L346.97,758.15L347.93,757.45L348.58,756L349.03,754.01L349.35,751.61L349.63,748.92L349.95,746.07L350.28,742.84L350.59,739.17L350.89,735.35L351.19,731.71L351.51,728.56L351.86,725.9L352.21,723.51L352.56,721.41L352.93,719.59L353.31,718.05L353.7,716.74L354.1,715.64L354.51,714.86L354.92,714.47L355.33,714.55L355.72,715.07L356.1,715.96L356.49,717.3L356.9,719.14L357.35,721.55L357.85,724.75L358.4,728.7L358.96,733.07L359.52,737.51L360.04,741.69L360.51,745.62L360.94,749.54L361.37,753.41L361.81,757.22L362.28,760.95L362.79,764.67L363.31,768.41L363.86,772.04L364.41,775.43L364.97,778.46L365.51,781.22L366.05,783.79L366.6,786.04L367.2,787.81L367.89,788.96L368.68,789.44L369.57,789.36L370.5,788.77L371.45,787.74L372.37,786.34L373.27,784.42L374.17,781.97L375.06,779.15L375.96,776.17L376.86,773.2L377.77,769.93L378.7,766.21L379.63,762.55L380.52,759.46L381.34,757.45L382.05,756.91L382.66,757.53L383.25,758.68L383.91,759.73L384.71,760.07L385.68,759.66L386.79,758.89L387.96,757.86L389.16,756.62L390.31,755.26L391.45,753.71L392.61,751.92L393.76,749.98L394.87,748L395.92,746.07L396.89,743.71L397.79,740.88L398.66,738.26L399.53,736.55L400.4,736.44L401.3,738.35L402.2,741.83L403.1,746.24L403.99,750.93L404.89,755.26L405.79,759.39L406.68,763.76L407.58,768.12L408.48,772.22L409.38,775.83L410.25,779.07L411.12,782.09L411.99,784.72L412.89,786.78L413.86,788.09L414.93,788.56L416.08,788.3L417.25,787.47L418.4,786.18L419.47,784.58L420.42,782.53L421.28,779.92L422.13,776.99L423,773.95L423.95,771.02L425.03,768.03L426.19,764.84L427.39,761.7L428.56,758.86L429.65,756.57L430.67,755.1L431.64,754.29L432.58,753.72L433.46,753.01L434.3,751.76L435.07,750.02L435.76,748.06L436.42,745.79L437.08,743.11L437.79,739.94L438.55,735.32L439.33,729.31L440.12,723.34L440.93,718.82L441.74,717.18L442.58,718.99L443.44,723.32L444.29,729.28L445.13,735.99L445.93,742.56L446.65,749.27L447.32,756.7L447.97,764.46L448.66,772.13L449.42,779.33L450.27,786.6L451.2,794.21L452.15,801.33L453.12,807.15L454.07,810.85L455,811.96L455.93,811.04L456.86,808.77L457.79,805.85L458.72,802.97L459.65,800.01L460.58,796.5L461.51,792.63L462.44,788.6L463.37,784.58L464.28,780.33L465.18,775.7L466.08,771.1L467.02,766.92L468.02,763.57L469.09,761.35L470.21,759.97L471.37,759.02L472.58,758.03L473.84,756.57L475.19,754.94L476.63,753.43L478.1,751.59L479.52,748.99L480.81,745.19L481.97,738.77L483.04,730.02L484.04,721.07L485,714.04L485.93,711.05L486.84,713.07L487.71,718.68L488.54,726.43L489.34,734.87L490.12,742.56L490.84,749.72L491.51,757.31L492.16,765L492.84,772.45L493.6,779.33L494.44,786.13L495.33,793.06L496.26,799.4L497.23,804.4L498.26,807.35L499.36,807.74L500.55,806.09L501.77,803.1L502.96,799.49L504.07,795.97L505.06,792.3L505.96,788.02L506.83,783.47L507.73,779L508.72,774.95L509.81,771.26L510.96,767.69L512.15,764.34L513.35,761.33L514.53,758.76L515.72,756.85L516.92,755.53L518.11,754.46L519.26,753.32L520.35,751.76L521.37,749.96L522.35,748.15L523.28,746.06L524.16,743.41L525,739.94L525.77,734.5L526.48,727.29L527.15,720L527.81,714.31L528.49,711.92L529.17,713.6L529.83,718.23L530.5,724.64L531.2,731.67L531.98,738.19L532.85,744.2L533.81,750.49L534.8,757.01L535.75,763.72L536.63,770.58L537.36,778.46L538,787.41L538.61,796.08L539.29,803.17L540.12,807.35L541.13,807.93L542.27,805.82L543.49,802.01L544.73,797.51L545.93,793.34L547.13,789.28L548.37,784.68L549.59,779.82L550.73,775.02L551.74,770.58L552.65,766.26L553.47,761.86L554.2,757.74L554.8,754.25L555.23,751.76" fill="none" stroke="#ff6a1a" stroke-width="5.4" stroke-linejoin="round"/><path d="M40,764.46L40.61,763.23L41.47,761.53L42.48,759.47L43.52,757.16L44.49,754.72L45.39,752.05L46.3,749.06L47.21,745.9L48.1,742.69L48.97,739.6L49.81,736.08L50.63,732.04L51.43,728.26L52.22,725.58L53.01,724.86L53.79,726.56L54.57,730.1L55.34,734.77L56.09,739.86L56.82,744.71L57.5,749.48L58.14,754.58L58.78,759.79L59.45,764.9L60.18,769.71L61.01,774.38L61.9,779.05L62.82,783.5L63.75,787.53L64.67,790.93L65.57,793.72L66.46,796.07L67.36,797.96L68.26,799.38L69.15,800.3L70.03,800.84L70.89,801.03L71.76,800.68L72.67,799.61L73.64,797.63L74.73,794.26L75.91,789.58L77.11,784.3L78.25,779.14L79.25,774.88L80.04,771.65L80.7,768.94L81.29,766.63L81.9,764.54L82.61,762.53L83.44,760.91L84.32,759.78L85.25,758.69L86.18,757.16L87.1,754.72L87.99,750.97L88.89,746.18L89.79,740.91L90.68,735.73L91.58,731.25L92.48,727.06L93.38,722.73L94.27,718.98L95.17,716.54L96.07,716.15L96.96,718.3L97.86,722.49L98.76,727.92L99.65,733.86L100.55,739.6L101.45,745.44L102.35,751.82L103.24,758.27L104.14,764.37L105.04,769.71L105.93,774.4L106.83,778.76L107.73,782.65L108.63,785.99L109.52,788.67L110.42,790.83L111.32,792.56L112.21,793.66L113.11,793.93L114.01,793.17L114.92,790.96L115.86,787.41L116.78,783.13L117.67,778.74L118.49,774.88L119.2,771.51L119.81,768.19L120.4,765.03L121.06,762.14L121.86,759.62L122.83,757.68L123.94,756.23L125.11,755.03L126.31,753.79L127.46,752.25L128.58,750.47L129.71,748.63L130.83,746.62L131.95,744.33L133.07,741.65L134.19,737.8L135.31,732.8L136.43,727.81L137.56,724.02L138.68,722.7L139.8,724.33L140.92,728.09L142.04,733.22L143.16,738.99L144.28,744.71L145.42,750.83L146.58,757.73L147.73,764.75L148.84,771.28L149.89,776.75L150.84,781.31L151.71,785.39L152.55,788.83L153.42,791.48L154.38,793.17L155.44,793.9L156.59,793.77L157.77,792.83L158.91,791.12L159.98,788.67L160.95,784.93L161.86,779.85L162.73,774.19L163.59,768.77L164.47,764.46L165.41,761.37L166.4,758.96L167.36,757.12L168.24,755.75L168.95,754.72L169.44,754.21L169.74,754.29L169.96,754.72L170.21,755.28L170.61,755.71L171.15,756.32L171.78,757.27L172.46,758.11L173.2,758.39L173.97,757.67L174.8,755.65L175.71,752.59L176.64,748.94L177.57,745.14L178.46,741.65L179.3,737.92L180.11,733.62L180.92,729.59L181.71,726.73L182.49,725.93L183.26,727.71L184,731.46L184.74,736.38L185.5,741.71L186.31,746.74L187.16,751.69L188.05,757.04L188.96,762.43L189.88,767.54L190.79,772.07L191.69,776.11L192.58,779.9L193.48,783.32L194.38,786.27L195.28,788.67L196.17,790.54L197.07,791.97L197.97,792.91L198.86,793.32L199.76,793.17L200.66,792.42L201.56,791.11L202.45,789.26L203.35,786.92L204.25,784.12L205.14,780.52L206.04,776.05L206.94,771.22L207.83,766.54L208.73,762.53L209.61,759.47L210.47,757.01L211.34,754.8L212.25,752.51L213.22,749.75L214.26,746.45L215.35,742.84L216.48,739.02L217.64,735.12L218.82,731.25L220.06,726.68L221.35,721.28L222.66,716.18L223.92,712.58L225.1,711.71L226.18,714.28L227.2,719.46L228.16,726.11L229.1,733.16L230.04,739.6L230.96,745.71L231.86,752.15L232.75,758.53L233.63,764.49L234.52,769.71L235.42,774.26L236.32,778.41L237.21,782.08L238.11,785.22L239.01,787.76L239.9,789.75L240.8,791.25L241.7,792.2L242.6,792.56L243.49,792.27L244.39,791.21L245.29,789.4L246.18,787.03L247.08,784.29L247.98,781.37L248.86,777.97L249.72,773.95L250.59,769.73L251.49,765.76L252.46,762.53L253.51,760.27L254.63,758.68L255.77,757.45L256.93,756.24L258.07,754.72L259.17,752.92L260.26,751.04L261.35,749.06L262.48,746.96L263.68,744.71L264.99,741.71L266.39,737.95L267.82,734.33L269.18,731.78L270.4,731.25L271.45,733.23L272.36,737.06L273.2,741.99L274.03,747.29L274.89,752.25L275.79,757.12L276.68,762.36L277.58,767.6L278.48,772.5L279.38,776.75L280.25,780.48L281.12,783.93L281.99,786.92L282.89,789.31L283.86,790.93L284.93,791.74L286.08,791.86L287.25,791.36L288.4,790.28L289.47,788.67L290.42,786.3L291.29,783.13L292.14,779.48L293.01,775.67L293.95,772.07L295.01,768.47L296.14,764.63L297.3,760.85L298.43,757.45L299.49,754.72L300.45,753.12L301.35,752.43L302.23,752.06L303.09,751.38L303.97,749.75L304.87,746.84L305.79,743.03L306.69,738.82L307.59,734.72L308.46,731.25L309.3,728.16L310.11,725.1L310.92,722.5L311.71,720.83L312.49,720.53L313.26,721.73L314,724.12L314.74,727.5L315.5,731.69L316.31,736.49L317.14,742.44L318,749.59L318.88,757.05L319.81,764.01L320.79,769.71L321.84,774.26L322.95,778.22L324.1,781.53L325.26,784.13L326.4,785.95L327.55,786.96L328.75,787.24L329.92,786.82L331.03,785.76L332,784.12L332.82,781.5L333.51,777.85L334.13,773.73L334.73,769.7L335.37,766.38L336.04,763.78L336.71,761.54L337.39,759.62L338.06,758.01L338.73,756.69L339.37,755.76L339.96,755.24L340.57,754.99L341.27,754.87L342.1,754.72L343.17,754.8L344.43,755.2L345.75,755.55L346.97,755.51L347.93,754.72L348.58,753.09L349.03,750.83L349.35,748.08L349.63,744.97L349.95,741.65L350.28,737.86L350.59,733.48L350.89,728.88L351.19,724.43L351.51,720.53L351.86,717.21L352.21,714.2L352.56,711.53L352.93,709.2L353.31,707.21L353.7,705.51L354.1,704.09L354.51,703.06L354.92,702.55L355.33,702.66L355.72,703.34L356.1,704.51L356.49,706.24L356.9,708.62L357.35,711.71L357.85,715.77L358.4,720.71L358.96,726.1L359.52,731.49L360.04,736.49L360.51,741.14L360.94,745.69L361.37,750.15L361.81,754.47L362.28,758.65L362.79,762.78L363.31,766.88L363.86,770.82L364.41,774.46L364.97,777.68L365.51,780.59L366.05,783.3L366.6,785.64L367.2,787.48L367.89,788.67L368.68,789.17L369.57,789.08L370.5,788.47L371.45,787.41L372.37,785.95L373.27,783.95L374.17,781.38L375.06,778.41L375.96,775.24L376.86,772.07L377.77,768.53L378.7,764.47L379.63,760.43L380.52,756.99L381.34,754.72L382.05,754.12L382.66,754.82L383.25,756.11L383.91,757.29L384.71,757.67L385.68,757.21L386.79,756.35L387.96,755.19L389.16,753.79L390.31,752.25L391.45,750.48L392.61,748.43L393.76,746.21L394.87,743.91L395.92,741.65L396.89,738.89L397.79,735.53L398.66,732.4L399.53,730.33L400.4,730.2L401.3,732.5L402.2,736.66L403.1,741.85L403.99,747.29L404.89,752.25L405.79,756.91L406.68,761.77L407.58,766.56L408.48,771.01L409.38,774.88L410.25,778.32L411.12,781.51L411.99,784.26L412.89,786.41L413.86,787.76L414.93,788.25L416.08,787.99L417.25,787.12L418.4,785.79L419.47,784.12L420.42,781.97L421.28,779.23L422.13,776.12L423,772.87L423.95,769.71L425.03,766.46L426.19,762.96L427.39,759.48L428.56,756.31L429.65,753.74L430.67,752.07L431.64,751.14L432.58,750.5L433.46,749.69L434.3,748.25L435.07,746.24L435.76,743.98L436.42,741.33L437.08,738.18L437.79,734.41L438.55,728.84L439.33,721.47L440.12,713.98L440.93,708.21L441.74,706.08L442.58,708.42L443.44,713.95L444.29,721.43L445.13,729.65L445.93,737.53L446.65,745.39L447.32,753.89L447.97,762.54L448.66,770.91L449.42,778.6L450.27,786.22L451.2,794.06L452.15,801.29L453.12,807.15L454.07,810.85L455,811.96L455.93,811.04L456.86,808.77L457.79,805.84L458.72,802.95L459.65,799.96L460.58,796.4L461.51,792.45L462.44,788.29L463.37,784.12L464.28,779.65L465.18,774.74L466.08,769.79L467.02,765.25L468.02,761.57L469.09,759.09L470.21,757.56L471.37,756.49L472.58,755.38L473.84,753.74L475.19,751.89L476.63,750.16L478.1,748.06L479.52,745.06L480.81,740.63L481.97,733.01L483.04,722.35L484.04,711.09L485,701.99L485.93,698.05L486.84,700.71L487.71,708.02L488.54,717.87L489.34,728.3L490.12,737.53L490.84,745.9L491.51,754.57L492.16,763.14L492.84,771.26L493.6,778.6L494.44,785.73L495.33,792.88L496.26,799.34L497.23,804.39L498.26,807.34L499.36,807.74L500.55,806.09L501.77,803.08L502.96,799.43L504.07,795.85L505.06,792.11L505.96,787.7L506.83,782.96L507.73,778.26L508.72,773.95L509.81,769.97L510.96,766.09L512.15,762.42L513.35,759.08L514.53,756.2L515.72,754.05L516.92,752.55L518.11,751.34L519.26,750.04L520.35,748.25L521.37,746.18L522.35,744.09L523.28,741.65L524.16,738.54L525,734.41L525.77,727.85L526.48,718.96L527.15,709.72L527.81,702.35L528.49,699.21L529.17,701.42L529.83,707.44L530.5,715.62L531.2,724.39L531.98,732.31L532.85,739.47L533.81,746.79L534.8,754.23L535.75,761.73L536.63,769.23L537.36,777.68L538,787.06L538.61,795.97L539.29,803.15L540.12,807.34L541.13,807.93L542.27,805.81L543.49,801.98L544.73,797.43L545.93,793.17L547.13,789L548.37,784.22L549.59,779.12L550.73,774.01L551.74,769.23L552.65,764.53L553.47,759.67L554.2,755.06L554.8,751.1L555.23,748.25L555.23,751.76L554.8,754.25L554.2,757.74L553.47,761.86L552.65,766.26L551.74,770.58L550.73,775.02L549.59,779.82L548.37,784.68L547.13,789.28L545.93,793.34L544.73,797.51L543.49,802.01L542.27,805.82L541.13,807.93L540.12,807.35L539.29,803.17L538.61,796.08L538,787.41L537.36,778.46L536.63,770.58L535.75,763.72L534.8,757.01L533.81,750.49L532.85,744.2L531.98,738.19L531.2,731.67L530.5,724.64L529.83,718.23L529.17,713.6L528.49,711.92L527.81,714.31L527.15,720L526.48,727.29L525.77,734.5L525,739.94L524.16,743.41L523.28,746.06L522.35,748.15L521.37,749.96L520.35,751.76L519.26,753.32L518.11,754.46L516.92,755.53L515.72,756.85L514.53,758.76L513.35,761.33L512.15,764.34L510.96,767.69L509.81,771.26L508.72,774.95L507.73,779L506.83,783.47L505.96,788.02L505.06,792.3L504.07,795.97L502.96,799.49L501.77,803.1L500.55,806.09L499.36,807.74L498.26,807.35L497.23,804.4L496.26,799.4L495.33,793.06L494.44,786.13L493.6,779.33L492.84,772.45L492.16,765L491.51,757.31L490.84,749.72L490.12,742.56L489.34,734.87L488.54,726.43L487.71,718.68L486.84,713.07L485.93,711.05L485,714.04L484.04,721.07L483.04,730.02L481.97,738.77L480.81,745.19L479.52,748.99L478.1,751.59L476.63,753.43L475.19,754.94L473.84,756.57L472.58,758.03L471.37,759.02L470.21,759.97L469.09,761.35L468.02,763.57L467.02,766.92L466.08,771.1L465.18,775.7L464.28,780.33L463.37,784.58L462.44,788.6L461.51,792.63L460.58,796.5L459.65,800.01L458.72,802.97L457.79,805.85L456.86,808.77L455.93,811.04L455,811.96L454.07,810.85L453.12,807.15L452.15,801.33L451.2,794.21L450.27,786.6L449.42,779.33L448.66,772.13L447.97,764.46L447.32,756.7L446.65,749.27L445.93,742.56L445.13,735.99L444.29,729.28L443.44,723.32L442.58,718.99L441.74,717.18L440.93,718.82L440.12,723.34L439.33,729.31L438.55,735.32L437.79,739.94L437.08,743.11L436.42,745.79L435.76,748.06L435.07,750.02L434.3,751.76L433.46,753.01L432.58,753.72L431.64,754.29L430.67,755.1L429.65,756.57L428.56,758.86L427.39,761.7L426.19,764.84L425.03,768.03L423.95,771.02L423,773.95L422.13,776.99L421.28,779.92L420.42,782.53L419.47,784.58L418.4,786.18L417.25,787.47L416.08,788.3L414.93,788.56L413.86,788.09L412.89,786.78L411.99,784.72L411.12,782.09L410.25,779.07L409.38,775.83L408.48,772.22L407.58,768.12L406.68,763.76L405.79,759.39L404.89,755.26L403.99,750.93L403.1,746.24L402.2,741.83L401.3,738.35L400.4,736.44L399.53,736.55L398.66,738.26L397.79,740.88L396.89,743.71L395.92,746.07L394.87,748L393.76,749.98L392.61,751.92L391.45,753.71L390.31,755.26L389.16,756.62L387.96,757.86L386.79,758.89L385.68,759.66L384.71,760.07L383.91,759.73L383.25,758.68L382.66,757.53L382.05,756.91L381.34,757.45L380.52,759.46L379.63,762.55L378.7,766.21L377.77,769.93L376.86,773.2L375.96,776.17L375.06,779.15L374.17,781.97L373.27,784.42L372.37,786.34L371.45,787.74L370.5,788.77L369.57,789.36L368.68,789.44L367.89,788.96L367.2,787.81L366.6,786.04L366.05,783.79L365.51,781.22L364.97,778.46L364.41,775.43L363.86,772.04L363.31,768.41L362.79,764.67L362.28,760.95L361.81,757.22L361.37,753.41L360.94,749.54L360.51,745.62L360.04,741.69L359.52,737.51L358.96,733.07L358.4,728.7L357.85,724.75L357.35,721.55L356.9,719.14L356.49,717.3L356.1,715.96L355.72,715.07L355.33,714.55L354.92,714.47L354.51,714.86L354.1,715.64L353.7,716.74L353.31,718.05L352.93,719.59L352.56,721.41L352.21,723.51L351.86,725.9L351.51,728.56L351.19,731.71L350.89,735.35L350.59,739.17L350.28,742.84L349.95,746.07L349.63,748.92L349.35,751.61L349.03,754.01L348.58,756L347.93,757.45L346.97,758.15L345.75,758.18L344.43,757.87L343.17,757.52L342.1,757.45L341.27,757.57L340.57,757.68L339.96,757.91L339.37,758.37L338.73,759.2L338.06,760.37L337.39,761.82L336.71,763.55L336.04,765.58L335.37,767.95L334.73,771.01L334.13,774.75L333.51,778.62L332.82,782.08L332,784.58L331.03,786.16L329.92,787.18L328.75,787.58L327.55,787.32L326.4,786.34L325.26,784.59L324.1,782.11L322.95,778.97L321.84,775.25L320.79,771.02L319.81,765.79L318.88,759.52L318,752.93L317.14,746.74L316.31,741.69L315.5,737.68L314.74,734.22L314,731.46L313.26,729.52L312.49,728.56L311.71,728.8L310.92,730.15L310.11,732.25L309.3,734.76L308.46,737.31L307.59,740.2L306.69,743.66L305.79,747.25L304.87,750.53L303.97,753.07L303.09,754.49L302.23,755.09L301.35,755.42L300.45,756.02L299.49,757.45L298.43,759.87L297.3,762.93L296.14,766.35L295.01,769.87L293.95,773.2L293.01,776.57L292.14,780.16L291.29,783.64L290.42,786.68L289.47,788.96L288.4,790.52L287.25,791.57L286.08,792.06L284.93,791.94L283.86,791.15L282.89,789.59L281.99,787.28L281.12,784.4L280.25,781.11L279.38,777.58L278.48,773.61L277.58,769.07L276.68,764.29L275.79,759.58L274.89,755.26L274.03,750.92L273.2,746.36L272.36,742.17L271.45,738.95L270.4,737.31L269.18,737.75L267.82,739.88L266.39,742.92L264.99,746.11L263.68,748.69L262.48,750.64L261.35,752.47L260.26,754.2L259.17,755.85L258.07,757.45L256.93,758.79L255.77,759.87L254.63,760.98L253.51,762.4L252.46,764.45L251.49,767.39L250.59,771.03L249.72,774.95L248.86,778.74L247.98,781.96L247.08,784.75L246.18,787.38L245.29,789.67L244.39,791.43L243.49,792.46L242.6,792.74L241.7,792.39L240.8,791.47L239.9,790.01L239.01,788.09L238.11,785.64L237.21,782.63L236.32,779.15L235.42,775.25L234.52,771.02L233.63,766.23L232.75,760.84L231.86,755.17L230.96,749.56L230.04,744.31L229.1,738.89L228.16,733.08L227.2,727.7L226.18,723.58L225.1,721.55L223.92,722.24L222.66,725.08L221.35,729.16L220.06,733.54L218.82,737.31L217.64,740.53L216.48,743.82L215.35,747.08L214.26,750.2L213.22,753.07L212.25,755.49L211.34,757.52L210.47,759.48L209.61,761.68L208.73,764.45L207.83,768.1L206.94,772.42L206.04,776.93L205.14,781.15L204.25,784.58L203.35,787.27L202.45,789.54L201.56,791.33L200.66,792.61L199.76,793.34L198.86,793.49L197.97,793.08L197.07,792.16L196.17,790.78L195.28,788.96L194.38,786.65L193.48,783.81L192.58,780.56L191.69,776.99L190.79,773.2L189.88,769.02L188.96,764.35L188.05,759.51L187.16,754.77L186.31,750.44L185.5,746.11L184.74,741.59L184,737.48L183.26,734.39L182.49,732.93L181.71,733.59L180.92,735.94L180.11,739.28L179.3,742.89L178.46,746.07L177.57,749.06L176.64,752.36L175.71,755.56L174.8,758.27L173.97,760.07L173.2,760.72L172.46,760.46L171.78,759.72L171.15,758.87L170.61,758.32L170.21,757.94L169.96,757.45L169.74,757.06L169.44,756.99L168.95,757.45L168.24,758.36L167.36,759.58L166.4,761.23L165.41,763.4L164.47,766.2L163.59,770.15L162.73,775.18L161.86,780.51L160.95,785.36L159.98,788.96L158.91,791.34L157.77,793L156.59,793.92L155.44,794.05L154.38,793.34L153.42,791.69L152.55,789.12L151.71,785.8L150.84,781.9L149.89,777.58L148.84,772.48L147.73,766.47L146.58,760.12L145.42,754.01L144.28,748.69L143.16,743.8L142.04,738.94L140.92,734.7L139.8,731.63L138.68,730.31L137.56,731.38L136.43,734.47L135.31,738.6L134.19,742.79L133.07,746.07L131.95,748.37L130.83,750.34L129.71,752.09L128.58,753.69L127.46,755.26L126.31,756.62L125.11,757.72L123.94,758.79L122.83,760.08L121.86,761.82L121.06,764.09L120.4,766.72L119.81,769.62L119.2,772.69L118.49,775.83L117.67,779.46L116.78,783.63L115.86,787.74L114.92,791.18L114.01,793.34L113.11,794.08L112.21,793.82L111.32,792.74L110.42,791.06L109.52,788.96L108.63,786.38L107.73,783.18L106.83,779.48L105.93,775.38L105.04,771.02L104.14,766.12L103.24,760.61L102.35,754.88L101.45,749.32L100.55,744.31L99.65,739.48L98.76,734.56L97.86,730.13L96.96,726.77L96.07,725.06L95.17,725.36L94.27,727.31L93.38,730.33L92.48,733.85L91.58,737.31L90.68,741.04L89.79,745.43L88.89,749.96L87.99,754.13L87.1,757.45L86.18,759.62L85.25,760.98L84.32,761.96L83.44,762.98L82.61,764.45L81.9,766.28L81.29,768.18L80.7,770.31L80.04,772.81L79.25,775.83L78.25,779.84L77.11,784.75L75.91,789.84L74.73,794.4L73.64,797.72L72.67,799.66L71.76,800.72L70.89,801.07L70.03,800.88L69.15,800.34L68.26,799.44L67.36,798.04L66.46,796.18L65.57,793.88L64.67,791.15L63.75,787.86L62.82,783.99L61.9,779.75L61.01,775.36L60.18,771.02L59.45,766.6L58.78,761.97L58.14,757.32L57.5,752.83L56.82,748.69L56.09,744.54L55.34,740.24L54.57,736.36L53.79,733.45L53.01,732.06L52.22,732.65L51.43,734.84L50.63,737.96L49.81,741.35L48.97,744.31L48.1,746.96L47.21,749.71L46.3,752.47L45.39,755.09L44.49,757.45L43.52,759.62L42.48,761.68L41.47,763.54L40.61,765.08L40,766.2Z" fill="#ff6a1a" stroke="#ff6a1a" stroke-width="4.32" stroke-linejoin="round"/></g>
<path d="M40,797.72L40.78,796.99L41.89,796.07L43.18,794.85L44.47,793.24L45.61,791.15L46.58,787.97L47.48,783.75L48.35,779.43L49.21,775.9L50.09,774.08L50.99,774.33L51.89,776.04L52.78,778.68L53.68,781.71L54.58,784.58L55.46,787.51L56.32,790.85L57.19,794.29L58.09,797.55L59.06,800.34L60.09,802.72L61.17,804.87L62.29,806.72L63.46,808.16L64.67,809.1L65.96,809.47L67.33,809.35L68.73,808.81L70.11,807.97L71.4,806.91L72.57,805.4L73.67,803.38L74.73,801.19L75.83,799.19L77,797.72L78.31,797.11L79.72,797.15L81.15,797.32L82.51,797.09L83.73,795.97L84.74,793.65L85.58,790.5L86.37,786.93L87.21,783.36L88.22,780.21L89.46,777.14L90.85,773.88L92.31,770.92L93.71,768.78L94.95,767.95L95.97,768.71L96.85,770.71L97.66,773.56L98.5,776.86L99.43,780.21L100.48,783.9L101.59,788.2L102.74,792.67L103.9,796.86L105.04,800.34L106.16,803.14L107.28,805.56L108.4,807.54L109.52,809.03L110.64,809.97L111.75,810.27L112.83,809.95L113.93,809.18L115.06,808.12L116.25,806.91L117.52,805.45L118.86,803.65L120.23,801.66L121.61,799.62L122.98,797.72L124.36,795.91L125.78,794.1L127.18,792.32L128.5,790.59L129.71,788.96L130.73,787.52L131.61,786.24L132.42,784.99L133.26,783.61L134.19,781.96L135.24,779.56L136.35,776.5L137.5,773.51L138.66,771.3L139.8,770.58L140.92,771.7L142.04,774.18L143.16,777.51L144.28,781.15L145.4,784.58L146.54,787.99L147.7,791.71L148.85,795.49L149.96,799.04L151.01,802.09L151.94,804.79L152.78,807.31L153.59,809.45L154.47,810.99L155.5,811.72L156.7,811.41L158.03,810.2L159.43,808.45L160.84,806.5L162.22,804.72L163.63,802.94L165.11,800.92L166.55,798.92L167.86,797.18L168.95,795.97L169.72,795.63L170.21,796.01L170.6,796.55L171.05,796.72L171.73,795.97L172.7,793.99L173.85,791.16L175.09,787.92L176.28,784.7L177.33,781.96L178.19,779.4L178.92,776.74L179.61,774.39L180.33,772.78L181.15,772.33L182.09,773.25L183.09,775.28L184.15,778.06L185.22,781.28L186.31,784.58L187.4,788.32L188.52,792.7L189.65,797.23L190.78,801.41L191.91,804.72L193.02,807.18L194.1,809.14L195.2,810.56L196.33,811.43L197.52,811.72L198.77,811.25L200.08,810.01L201.42,808.32L202.81,806.46L204.25,804.72L205.74,803.16L207.31,801.6L208.9,799.93L210.51,798.08L212.1,795.97L213.71,793.49L215.36,790.7L217,787.75L218.55,784.79L219.95,781.96L221.15,778.81L222.21,775.26L223.19,771.96L224.13,769.59L225.1,768.83L226.09,770.06L227.06,772.84L228.03,776.58L229.01,780.69L230.04,784.58L231.12,788.54L232.23,792.95L233.37,797.4L234.51,801.46L235.64,804.72L236.75,807.23L237.83,809.26L238.93,810.75L240.06,811.6L241.25,811.72L242.52,810.81L243.86,808.9L245.23,806.49L246.61,804.06L247.98,802.09L249.29,800.66L250.56,799.43L251.85,798.31L253.22,797.19L254.71,795.97L256.41,794.65L258.29,793.31L260.22,791.93L262.06,790.49L263.68,788.96L265.01,786.97L266.16,784.54L267.2,782.22L268.22,780.59L269.28,780.21L270.4,781.39L271.53,783.76L272.65,786.85L273.77,790.19L274.89,793.34L276.03,796.52L277.19,800.04L278.33,803.55L279.45,806.69L280.5,809.1L281.43,810.76L282.26,811.93L283.08,812.61L283.96,812.82L284.98,812.6L286.1,811.84L287.25,810.54L288.51,808.83L289.97,806.84L291.71,804.72L293.9,802.44L296.48,799.91L299.2,797.17L301.78,794.24L303.97,791.15L305.69,787.37L307.11,782.88L308.35,778.48L309.51,774.99L310.7,773.2L311.89,773.51L313.02,775.35L314.12,778.18L315.2,781.45L316.31,784.58L317.43,787.85L318.55,791.61L319.67,795.49L320.79,799.11L321.91,802.09L323,804.46L324.05,806.46L325.11,808.07L326.25,809.25L327.52,809.97L328.96,810.19L330.55,809.91L332.2,809.23L333.83,808.2L335.37,806.91L336.77,805.37L338.09,803.54L339.38,801.38L340.7,798.87L342.1,795.97L343.65,792.27L345.32,787.82L346.99,783.19L348.57,779L349.95,775.83L351.04,773.6L351.93,771.89L352.72,770.87L353.52,770.68L354.43,771.45L355.46,773.55L356.54,776.86L357.66,780.88L358.83,785.08L360.04,788.96L361.33,792.76L362.7,796.82L364.1,800.78L365.47,804.26L366.76,806.91L367.92,808.68L368.98,809.81L370.02,810.37L371.12,810.41L372.37,809.97L373.78,808.82L375.3,806.91L376.89,804.61L378.54,802.3L380.22,800.34L381.94,798.84L383.73,797.56L385.55,796.33L387.38,794.98L389.19,793.34L391.02,791.05L392.89,788.22L394.74,785.4L396.51,783.13L398.16,781.96L399.67,782.01L401.07,782.91L402.39,784.49L403.65,786.57L404.89,788.96L406.08,792.06L407.21,795.98L408.31,800.15L409.39,803.98L410.5,806.91L411.58,808.9L412.63,810.35L413.7,811.28L414.84,811.73L416.1,811.72L417.53,811.15L419.07,809.98L420.69,808.4L422.34,806.59L423.95,804.72L425.56,802.79L427.2,800.69L428.83,798.42L430.44,795.97L431.98,793.34L433.46,790.03L434.9,786.05L436.3,782.14L437.65,779.07L438.95,777.58L440.19,778.04L441.36,779.95L442.5,782.76L443.62,785.94L444.77,788.96L445.95,792.06L447.15,795.6L448.34,799.2L449.49,802.51L450.58,805.16L451.51,807.23L452.3,808.97L453.09,810.24L454.02,810.91L455.23,810.85L456.8,809.73L458.62,807.64L460.59,805.07L462.6,802.48L464.53,800.34L466.41,798.9L468.31,797.84L470.2,796.79L472.05,795.41L473.84,793.34L475.56,789.87L477.23,785.25L478.86,780.52L480.44,776.74L481.98,774.95L483.47,775.65L484.91,778.12L486.3,781.65L487.65,785.5L488.95,788.96L490.21,792.21L491.42,795.72L492.58,799.24L493.7,802.47L494.77,805.16L495.7,807.41L496.49,809.4L497.28,810.97L498.21,811.94L499.42,812.16L500.98,811.37L502.8,809.67L504.78,807.45L506.79,805.09L508.72,802.97L510.58,801.17L512.44,799.44L514.3,797.65L516.16,795.66L518.02,793.34L519.92,790.08L521.86,785.96L523.77,781.91L525.61,778.81L527.33,777.58L528.87,778.7L530.28,781.57L531.62,785.46L532.94,789.63L534.3,793.34L535.7,796.95L537.09,800.96L538.49,804.82L539.88,808L541.28,809.97L542.67,810.49L544.07,809.93L545.47,808.62L546.86,806.91L548.26,805.16L549.76,803.05L551.38,800.37L552.94,797.55L554.28,795.06L555.23,793.34" fill="none" stroke="#ff7f00" stroke-width="1.6" stroke-dasharray="7,4.5"/>
<path d="M40,766.2L40.61,765.08L41.47,763.54L42.48,761.68L43.52,759.62L44.49,757.45L45.39,755.09L46.3,752.47L47.21,749.71L48.1,746.96L48.97,744.31L49.81,741.35L50.63,737.96L51.43,734.84L52.22,732.65L53.01,732.06L53.79,733.45L54.57,736.36L55.34,740.24L56.09,744.54L56.82,748.69L57.5,752.83L58.14,757.32L58.78,761.97L59.45,766.6L60.18,771.02L61.01,775.36L61.9,779.75L62.82,783.99L63.75,787.86L64.67,791.15L65.57,793.88L66.46,796.18L67.36,798.04L68.26,799.44L69.15,800.34L70.03,800.88L70.89,801.07L71.76,800.72L72.67,799.66L73.64,797.72L74.73,794.4L75.91,789.84L77.11,784.75L78.25,779.84L79.25,775.83L80.04,772.81L80.7,770.31L81.29,768.18L81.9,766.28L82.61,764.45L83.44,762.98L84.32,761.96L85.25,760.98L86.18,759.62L87.1,757.45L87.99,754.13L88.89,749.96L89.79,745.43L90.68,741.04L91.58,737.31L92.48,733.85L93.38,730.33L94.27,727.31L95.17,725.36L96.07,725.06L96.96,726.77L97.86,730.13L98.76,734.56L99.65,739.48L100.55,744.31L101.45,749.32L102.35,754.88L103.24,760.61L104.14,766.12L105.04,771.02L105.93,775.38L106.83,779.48L107.73,783.18L108.63,786.38L109.52,788.96L110.42,791.06L111.32,792.74L112.21,793.82L113.11,794.08L114.01,793.34L114.92,791.18L115.86,787.74L116.78,783.63L117.67,779.46L118.49,775.83L119.2,772.69L119.81,769.62L120.4,766.72L121.06,764.09L121.86,761.82L122.83,760.08L123.94,758.79L125.11,757.72L126.31,756.62L127.46,755.26L128.58,753.69L129.71,752.09L130.83,750.34L131.95,748.37L133.07,746.07L134.19,742.79L135.31,738.6L136.43,734.47L137.56,731.38L138.68,730.31L139.8,731.63L140.92,734.7L142.04,738.94L143.16,743.8L144.28,748.69L145.42,754.01L146.58,760.12L147.73,766.47L148.84,772.48L149.89,777.58L150.84,781.9L151.71,785.8L152.55,789.12L153.42,791.69L154.38,793.34L155.44,794.05L156.59,793.92L157.77,793L158.91,791.34L159.98,788.96L160.95,785.36L161.86,780.51L162.73,775.18L163.59,770.15L164.47,766.2L165.41,763.4L166.4,761.23L167.36,759.58L168.24,758.36L168.95,757.45L169.44,756.99L169.74,757.06L169.96,757.45L170.21,757.94L170.61,758.32L171.15,758.87L171.78,759.72L172.46,760.46L173.2,760.72L173.97,760.07L174.8,758.27L175.71,755.56L176.64,752.36L177.57,749.06L178.46,746.07L179.3,742.89L180.11,739.28L180.92,735.94L181.71,733.59L182.49,732.93L183.26,734.39L184,737.48L184.74,741.59L185.5,746.11L186.31,750.44L187.16,754.77L188.05,759.51L188.96,764.35L189.88,769.02L190.79,773.2L191.69,776.99L192.58,780.56L193.48,783.81L194.38,786.65L195.28,788.96L196.17,790.78L197.07,792.16L197.97,793.08L198.86,793.49L199.76,793.34L200.66,792.61L201.56,791.33L202.45,789.54L203.35,787.27L204.25,784.58L205.14,781.15L206.04,776.93L206.94,772.42L207.83,768.1L208.73,764.45L209.61,761.68L210.47,759.48L211.34,757.52L212.25,755.49L213.22,753.07L214.26,750.2L215.35,747.08L216.48,743.82L217.64,740.53L218.82,737.31L220.06,733.54L221.35,729.16L222.66,725.08L223.92,722.24L225.1,721.55L226.18,723.58L227.2,727.7L228.16,733.08L229.1,738.89L230.04,744.31L230.96,749.56L231.86,755.17L232.75,760.84L233.63,766.23L234.52,771.02L235.42,775.25L236.32,779.15L237.21,782.63L238.11,785.64L239.01,788.09L239.9,790.01L240.8,791.47L241.7,792.39L242.6,792.74L243.49,792.46L244.39,791.43L245.29,789.67L246.18,787.38L247.08,784.75L247.98,781.96L248.86,778.74L249.72,774.95L250.59,771.03L251.49,767.39L252.46,764.45L253.51,762.4L254.63,760.98L255.77,759.87L256.93,758.79L258.07,757.45L259.17,755.85L260.26,754.2L261.35,752.47L262.48,750.64L263.68,748.69L264.99,746.11L266.39,742.92L267.82,739.88L269.18,737.75L270.4,737.31L271.45,738.95L272.36,742.17L273.2,746.36L274.03,750.92L274.89,755.26L275.79,759.58L276.68,764.29L277.58,769.07L278.48,773.61L279.38,777.58L280.25,781.11L281.12,784.4L281.99,787.28L282.89,789.59L283.86,791.15L284.93,791.94L286.08,792.06L287.25,791.57L288.4,790.52L289.47,788.96L290.42,786.68L291.29,783.64L292.14,780.16L293.01,776.57L293.95,773.2L295.01,769.87L296.14,766.35L297.3,762.93L298.43,759.87L299.49,757.45L300.45,756.02L301.35,755.42L302.23,755.09L303.09,754.49L303.97,753.07L304.87,750.53L305.79,747.25L306.69,743.66L307.59,740.2L308.46,737.31L309.3,734.76L310.11,732.25L310.92,730.15L311.71,728.8L312.49,728.56L313.26,729.52L314,731.46L314.74,734.22L315.5,737.68L316.31,741.69L317.14,746.74L318,752.93L318.88,759.52L319.81,765.79L320.79,771.02L321.84,775.25L322.95,778.97L324.1,782.11L325.26,784.59L326.4,786.34L327.55,787.32L328.75,787.58L329.92,787.18L331.03,786.16L332,784.58L332.82,782.08L333.51,778.62L334.13,774.75L334.73,771.01L335.37,767.95L336.04,765.58L336.71,763.55L337.39,761.82L338.06,760.37L338.73,759.2L339.37,758.37L339.96,757.91L340.57,757.68L341.27,757.57L342.1,757.45L343.17,757.52L344.43,757.87L345.75,758.18L346.97,758.15L347.93,757.45L348.58,756L349.03,754.01L349.35,751.61L349.63,748.92L349.95,746.07L350.28,742.84L350.59,739.17L350.89,735.35L351.19,731.71L351.51,728.56L351.86,725.9L352.21,723.51L352.56,721.41L352.93,719.59L353.31,718.05L353.7,716.74L354.1,715.64L354.51,714.86L354.92,714.47L355.33,714.55L355.72,715.07L356.1,715.96L356.49,717.3L356.9,719.14L357.35,721.55L357.85,724.75L358.4,728.7L358.96,733.07L359.52,737.51L360.04,741.69L360.51,745.62L360.94,749.54L361.37,753.41L361.81,757.22L362.28,760.95L362.79,764.67L363.31,768.41L363.86,772.04L364.41,775.43L364.97,778.46L365.51,781.22L366.05,783.79L366.6,786.04L367.2,787.81L367.89,788.96L368.68,789.44L369.57,789.36L370.5,788.77L371.45,787.74L372.37,786.34L373.27,784.42L374.17,781.97L375.06,779.15L375.96,776.17L376.86,773.2L377.77,769.93L378.7,766.21L379.63,762.55L380.52,759.46L381.34,757.45L382.05,756.91L382.66,757.53L383.25,758.68L383.91,759.73L384.71,760.07L385.68,759.66L386.79,758.89L387.96,757.86L389.16,756.62L390.31,755.26L391.45,753.71L392.61,751.92L393.76,749.98L394.87,748L395.92,746.07L396.89,743.71L397.79,740.88L398.66,738.26L399.53,736.55L400.4,736.44L401.3,738.35L402.2,741.83L403.1,746.24L403.99,750.93L404.89,755.26L405.79,759.39L406.68,763.76L407.58,768.12L408.48,772.22L409.38,775.83L410.25,779.07L411.12,782.09L411.99,784.72L412.89,786.78L413.86,788.09L414.93,788.56L416.08,788.3L417.25,787.47L418.4,786.18L419.47,784.58L420.42,782.53L421.28,779.92L422.13,776.99L423,773.95L423.95,771.02L425.03,768.03L426.19,764.84L427.39,761.7L428.56,758.86L429.65,756.57L430.67,755.1L431.64,754.29L432.58,753.72L433.46,753.01L434.3,751.76L435.07,750.02L435.76,748.06L436.42,745.79L437.08,743.11L437.79,739.94L438.55,735.32L439.33,729.31L440.12,723.34L440.93,718.82L441.74,717.18L442.58,718.99L443.44,723.32L444.29,729.28L445.13,735.99L445.93,742.56L446.65,749.27L447.32,756.7L447.97,764.46L448.66,772.13L449.42,779.33L450.27,786.6L451.2,794.21L452.15,801.33L453.12,807.15L454.07,810.85L455,811.96L455.93,811.04L456.86,808.77L457.79,805.85L458.72,802.97L459.65,800.01L460.58,796.5L461.51,792.63L462.44,788.6L463.37,784.58L464.28,780.33L465.18,775.7L466.08,771.1L467.02,766.92L468.02,763.57L469.09,761.35L470.21,759.97L471.37,759.02L472.58,758.03L473.84,756.57L475.19,754.94L476.63,753.43L478.1,751.59L479.52,748.99L480.81,745.19L481.97,738.77L483.04,730.02L484.04,721.07L485,714.04L485.93,711.05L486.84,713.07L487.71,718.68L488.54,726.43L489.34,734.87L490.12,742.56L490.84,749.72L491.51,757.31L492.16,765L492.84,772.45L493.6,779.33L494.44,786.13L495.33,793.06L496.26,799.4L497.23,804.4L498.26,807.35L499.36,807.74L500.55,806.09L501.77,803.1L502.96,799.49L504.07,795.97L505.06,792.3L505.96,788.02L506.83,783.47L507.73,779L508.72,774.95L509.81,771.26L510.96,767.69L512.15,764.34L513.35,761.33L514.53,758.76L515.72,756.85L516.92,755.53L518.11,754.46L519.26,753.32L520.35,751.76L521.37,749.96L522.35,748.15L523.28,746.06L524.16,743.41L525,739.94L525.77,734.5L526.48,727.29L527.15,720L527.81,714.31L528.49,711.92L529.17,713.6L529.83,718.23L530.5,724.64L531.2,731.67L531.98,738.19L532.85,744.2L533.81,750.49L534.8,757.01L535.75,763.72L536.63,770.58L537.36,778.46L538,787.41L538.61,796.08L539.29,803.17L540.12,807.35L541.13,807.93L542.27,805.82L543.49,802.01L544.73,797.51L545.93,793.34L547.13,789.28L548.37,784.68L549.59,779.82L550.73,775.02L551.74,770.58L552.65,766.26L553.47,761.86L554.2,757.74L554.8,754.25L555.23,751.76" fill="none" stroke="#ff7f00" stroke-width="1.95" stroke-linejoin="round"/>
<g fill="#fff" stroke="#383838" stroke-width="1.05"><circle cx="71.19" cy="788.15" r="2.45"/><circle cx="68.73" cy="801.69" r="2.45"/><circle cx="64.39" cy="791.47" r="2.45"/><circle cx="69.54" cy="806.12" r="2.45"/><circle cx="62.62" cy="787.66" r="2.45"/><circle cx="62.09" cy="792.7" r="2.45"/><circle cx="64.38" cy="792.91" r="2.45"/><circle cx="70.14" cy="794.25" r="2.45"/><circle cx="65.05" cy="799.7" r="2.45"/><circle cx="67.53" cy="793.27" r="2.45"/><circle cx="65.24" cy="796.67" r="2.45"/><circle cx="66.61" cy="801.04" r="2.45"/><circle cx="62.76" cy="794.52" r="2.45"/><circle cx="61.9" cy="793.91" r="2.45"/><circle cx="69.48" cy="789.07" r="2.45"/><circle cx="63.54" cy="797.76" r="2.45"/><circle cx="70.8" cy="799.12" r="2.45"/><circle cx="71.53" cy="802.27" r="2.45"/><circle cx="69.9" cy="805.61" r="2.45"/><circle cx="68.03" cy="789.55" r="2.45"/><circle cx="66.74" cy="793.18" r="2.45"/><circle cx="70.69" cy="785.54" r="2.45"/><circle cx="62.76" cy="795.49" r="2.45"/><circle cx="61.25" cy="798.52" r="2.45"/><circle cx="62.39" cy="803.1" r="2.45"/><circle cx="67.57" cy="804.7" r="2.45"/><circle cx="62.48" cy="806.26" r="2.45"/><circle cx="69.61" cy="801.35" r="2.45"/><circle cx="67.63" cy="793.08" r="2.45"/><circle cx="76.8" cy="774.4" r="2.45"/><circle cx="75.43" cy="777.29" r="2.45"/><circle cx="71.53" cy="794.4" r="2.45"/><circle cx="80.28" cy="769.99" r="2.45"/><circle cx="81.07" cy="763.65" r="2.45"/><circle cx="80.23" cy="767.25" r="2.45"/><circle cx="78.49" cy="774.39" r="2.45"/><circle cx="75.95" cy="794.95" r="2.45"/><circle cx="69.71" cy="800.65" r="2.45"/><circle cx="74.4" cy="787.03" r="2.45"/><circle cx="75.94" cy="784.15" r="2.45"/><circle cx="76.14" cy="785.48" r="2.45"/><circle cx="71.47" cy="789.64" r="2.45"/><circle cx="75.72" cy="791.57" r="2.45"/><circle cx="80.3" cy="771.68" r="2.45"/><circle cx="66.62" cy="797.2" r="2.45"/><circle cx="69.11" cy="795.68" r="2.45"/><circle cx="71.88" cy="796.57" r="2.45"/><circle cx="69.9" cy="800.46" r="2.45"/><circle cx="70.22" cy="798.16" r="2.45"/><circle cx="67.8" cy="808.57" r="2.45"/><circle cx="69.73" cy="804.47" r="2.45"/><circle cx="70.2" cy="800.26" r="2.45"/><circle cx="75.16" cy="786.76" r="2.45"/><circle cx="117.02" cy="791.59" r="2.45"/><circle cx="192.55" cy="797.46" r="2.45"/><circle cx="180.85" cy="760.79" r="2.45"/><circle cx="189.94" cy="779.5" r="2.45"/><circle cx="194.29" cy="803.89" r="2.45"/><circle cx="189.91" cy="782.71" r="2.45"/><circle cx="184.93" cy="756.42" r="2.45"/><circle cx="196.06" cy="806.66" r="2.45"/><circle cx="186.58" cy="774.9" r="2.45"/><circle cx="188.83" cy="779.28" r="2.45"/><circle cx="200.64" cy="806.54" r="2.45"/><circle cx="179.15" cy="752.79" r="2.45"/><circle cx="194.59" cy="795.05" r="2.45"/><circle cx="188.64" cy="781.48" r="2.45"/><circle cx="203.62" cy="799.13" r="2.45"/><circle cx="183.53" cy="760.93" r="2.45"/><circle cx="201.25" cy="795.46" r="2.45"/><circle cx="197.81" cy="809.83" r="2.45"/><circle cx="179.17" cy="753.4" r="2.45"/><circle cx="201.3" cy="800.5" r="2.45"/><circle cx="192.59" cy="784.25" r="2.45"/><circle cx="201.94" cy="807.69" r="2.45"/><circle cx="180.75" cy="759.2" r="2.45"/><circle cx="187.63" cy="779.92" r="2.45"/><circle cx="191.22" cy="772.58" r="2.45"/><circle cx="197.7" cy="808.08" r="2.45"/><circle cx="205.85" cy="784.05" r="2.45"/><circle cx="194.79" cy="793.4" r="2.45"/><circle cx="183.33" cy="755.85" r="2.45"/><circle cx="204.99" cy="789.06" r="2.45"/><circle cx="187.36" cy="779.16" r="2.45"/><circle cx="213.59" cy="763.31" r="2.45"/><circle cx="214.42" cy="776.61" r="2.45"/><circle cx="225.2" cy="730.31" r="2.45"/><circle cx="221.52" cy="759.16" r="2.45"/><circle cx="209.8" cy="775.91" r="2.45"/><circle cx="229.21" cy="772.88" r="2.45"/><circle cx="209.11" cy="782.8" r="2.45"/><circle cx="215.25" cy="762.63" r="2.45"/><circle cx="210.6" cy="764.97" r="2.45"/><circle cx="228.46" cy="757.94" r="2.45"/><circle cx="224.32" cy="749.22" r="2.45"/><circle cx="230.48" cy="764.41" r="2.45"/><circle cx="218.12" cy="765.34" r="2.45"/><circle cx="222.27" cy="752.73" r="2.45"/><circle cx="225.12" cy="758.75" r="2.45"/><circle cx="223.31" cy="762.32" r="2.45"/><circle cx="220.31" cy="735.69" r="2.45"/><circle cx="230.3" cy="775.65" r="2.45"/><circle cx="223.7" cy="757.53" r="2.45"/><circle cx="229.17" cy="750.1" r="2.45"/><circle cx="228.37" cy="759.93" r="2.45"/><circle cx="219.26" cy="773.18" r="2.45"/><circle cx="214.93" cy="771.98" r="2.45"/><circle cx="223.27" cy="751.14" r="2.45"/><circle cx="215.94" cy="765.07" r="2.45"/><circle cx="228.54" cy="765.23" r="2.45"/><circle cx="217.51" cy="750.15" r="2.45"/><circle cx="229.72" cy="774.78" r="2.45"/><circle cx="220.85" cy="740.56" r="2.45"/><circle cx="222.96" cy="752.49" r="2.45"/><circle cx="209.42" cy="772.36" r="2.45"/><circle cx="210.27" cy="744.05" r="2.45"/><circle cx="221.54" cy="752.84" r="2.45"/><circle cx="226.13" cy="750.28" r="2.45"/><circle cx="215.07" cy="742.67" r="2.45"/><circle cx="226.38" cy="729.88" r="2.45"/><circle cx="225.65" cy="733.85" r="2.45"/><circle cx="226.01" cy="743.38" r="2.45"/><circle cx="225.11" cy="739.77" r="2.45"/><circle cx="224.35" cy="730.63" r="2.45"/><circle cx="245.64" cy="796.71" r="2.45"/><circle cx="237.33" cy="807.72" r="2.45"/><circle cx="255.31" cy="771.77" r="2.45"/><circle cx="246.65" cy="794.64" r="2.45"/><circle cx="260.64" cy="776.46" r="2.45"/><circle cx="241.43" cy="801.8" r="2.45"/><circle cx="251.26" cy="781.55" r="2.45"/><circle cx="245.86" cy="806.95" r="2.45"/><circle cx="259.79" cy="776.09" r="2.45"/><circle cx="237.83" cy="800.68" r="2.45"/><circle cx="238.26" cy="801.54" r="2.45"/><circle cx="250.29" cy="788.13" r="2.45"/><circle cx="254.46" cy="775.46" r="2.45"/><circle cx="260.6" cy="779.93" r="2.45"/><circle cx="244.84" cy="797.96" r="2.45"/><circle cx="260.15" cy="776.42" r="2.45"/><circle cx="252.33" cy="768.82" r="2.45"/><circle cx="239.09" cy="799.53" r="2.45"/><circle cx="242.55" cy="798.76" r="2.45"/><circle cx="249.41" cy="779.54" r="2.45"/><circle cx="258.7" cy="776.36" r="2.45"/><circle cx="255.33" cy="780.62" r="2.45"/><circle cx="254.89" cy="780.7" r="2.45"/><circle cx="250.93" cy="766.8" r="2.45"/><circle cx="242.56" cy="786.21" r="2.45"/><circle cx="241.91" cy="799.62" r="2.45"/><circle cx="244.18" cy="802.71" r="2.45"/><circle cx="239.51" cy="811.59" r="2.45"/><circle cx="240.8" cy="792.78" r="2.45"/><circle cx="247.23" cy="785.92" r="2.45"/><circle cx="255" cy="772.81" r="2.45"/><circle cx="238.94" cy="793.24" r="2.45"/><circle cx="253.63" cy="763.69" r="2.45"/><circle cx="253.87" cy="764.24" r="2.45"/><circle cx="238.69" cy="800.59" r="2.45"/><circle cx="317.55" cy="772.65" r="2.45"/><circle cx="312.02" cy="774.26" r="2.45"/><circle cx="312.44" cy="770.18" r="2.45"/><circle cx="317.36" cy="765.57" r="2.45"/><circle cx="310.52" cy="769.46" r="2.45"/><circle cx="320.32" cy="771.51" r="2.45"/><circle cx="310.79" cy="768.12" r="2.45"/><circle cx="318.66" cy="776.18" r="2.45"/><circle cx="319.9" cy="806.36" r="2.45"/><circle cx="324.61" cy="809.7" r="2.45"/><circle cx="319.9" cy="804.35" r="2.45"/><circle cx="334.58" cy="801.81" r="2.45"/><circle cx="323.14" cy="794.94" r="2.45"/><circle cx="323.24" cy="809.25" r="2.45"/><circle cx="320.56" cy="811.31" r="2.45"/><circle cx="333.91" cy="802.4" r="2.45"/><circle cx="335" cy="802.26" r="2.45"/><circle cx="319.66" cy="805.23" r="2.45"/><circle cx="324.28" cy="808.95" r="2.45"/><circle cx="319.82" cy="799.64" r="2.45"/><circle cx="333.16" cy="795.36" r="2.45"/><circle cx="322.48" cy="800.94" r="2.45"/><circle cx="322.75" cy="796.95" r="2.45"/><circle cx="348.82" cy="760.33" r="2.45"/><circle cx="336.35" cy="801.61" r="2.45"/><circle cx="349.78" cy="753.44" r="2.45"/><circle cx="347.93" cy="761.75" r="2.45"/><circle cx="346.85" cy="767.8" r="2.45"/><circle cx="344.09" cy="784.55" r="2.45"/><circle cx="337.01" cy="803.66" r="2.45"/><circle cx="344.07" cy="774.45" r="2.45"/><circle cx="341.18" cy="789.08" r="2.45"/><circle cx="338.07" cy="794.51" r="2.45"/><circle cx="349.41" cy="764.53" r="2.45"/><circle cx="349.53" cy="763.3" r="2.45"/><circle cx="347.5" cy="773.93" r="2.45"/><circle cx="346.48" cy="775.43" r="2.45"/><circle cx="347.03" cy="766.41" r="2.45"/><circle cx="339.87" cy="791.52" r="2.45"/><circle cx="341.44" cy="792.07" r="2.45"/><circle cx="342.19" cy="783.84" r="2.45"/><circle cx="336.8" cy="803.34" r="2.45"/><circle cx="343.09" cy="776.63" r="2.45"/><circle cx="348.92" cy="758.56" r="2.45"/><circle cx="341.13" cy="791.51" r="2.45"/><circle cx="419.66" cy="789.01" r="2.45"/><circle cx="419.78" cy="795.49" r="2.45"/><circle cx="415.16" cy="787.93" r="2.45"/><circle cx="418.14" cy="794.59" r="2.45"/><circle cx="413.94" cy="784.44" r="2.45"/><circle cx="417.33" cy="791.32" r="2.45"/><circle cx="412.84" cy="794.99" r="2.45"/><circle cx="411.04" cy="797.61" r="2.45"/><circle cx="411.09" cy="798.05" r="2.45"/><circle cx="416.86" cy="790.75" r="2.45"/><circle cx="442.43" cy="767.26" r="2.45"/><circle cx="438.12" cy="757.5" r="2.45"/><circle cx="442.13" cy="763.08" r="2.45"/><circle cx="429.87" cy="780.49" r="2.45"/><circle cx="431.78" cy="785.8" r="2.45"/><circle cx="435.59" cy="777.87" r="2.45"/><circle cx="442.69" cy="767.37" r="2.45"/><circle cx="435.49" cy="770.33" r="2.45"/><circle cx="431.2" cy="775.13" r="2.45"/><circle cx="431.79" cy="777.82" r="2.45"/><circle cx="438.22" cy="754.23" r="2.45"/><circle cx="442.66" cy="745.25" r="2.45"/><circle cx="437.86" cy="759.19" r="2.45"/><circle cx="439.53" cy="748.13" r="2.45"/><circle cx="431.62" cy="768.64" r="2.45"/><circle cx="444.25" cy="755.16" r="2.45"/><circle cx="441.51" cy="733.69" r="2.45"/><circle cx="432.9" cy="762.65" r="2.45"/><circle cx="432.22" cy="781.18" r="2.45"/><circle cx="441.95" cy="741.07" r="2.45"/><circle cx="443.44" cy="757.11" r="2.45"/><circle cx="434.38" cy="765.92" r="2.45"/><circle cx="431.11" cy="787.63" r="2.45"/><circle cx="433.42" cy="782.5" r="2.45"/><circle cx="439.24" cy="786.94" r="2.45"/><circle cx="441.64" cy="749.01" r="2.45"/><circle cx="435.16" cy="764.3" r="2.45"/><circle cx="443.95" cy="746.7" r="2.45"/><circle cx="436.05" cy="759.09" r="2.45"/><circle cx="443.24" cy="758.87" r="2.45"/><circle cx="441.24" cy="715.43" r="2.45"/><circle cx="441.24" cy="724.18" r="2.45"/><circle cx="442.54" cy="738.19" r="2.45"/><circle cx="439.95" cy="739.06" r="2.45"/><circle cx="459.8" cy="816.33" r="2.45"/><circle cx="460.49" cy="809.66" r="2.45"/><circle cx="456.22" cy="800.63" r="2.45"/><circle cx="453.72" cy="791.5" r="2.45"/><circle cx="461.25" cy="788.65" r="2.45"/><circle cx="449.7" cy="785.29" r="2.45"/><circle cx="458.64" cy="800.94" r="2.45"/><circle cx="448.48" cy="774.71" r="2.45"/><circle cx="447.78" cy="783.47" r="2.45"/><circle cx="460.25" cy="795.46" r="2.45"/><circle cx="455.07" cy="789.37" r="2.45"/><circle cx="462.87" cy="798.14" r="2.45"/><circle cx="458.91" cy="793.77" r="2.45"/><circle cx="450.22" cy="782.39" r="2.45"/><circle cx="447.73" cy="771.86" r="2.45"/><circle cx="457.77" cy="809.46" r="2.45"/><circle cx="448.27" cy="773.97" r="2.45"/><circle cx="458.54" cy="806.07" r="2.45"/><circle cx="460.67" cy="810.91" r="2.45"/><circle cx="449.23" cy="780" r="2.45"/><circle cx="459.03" cy="809.8" r="2.45"/><circle cx="459.7" cy="811.28" r="2.45"/><circle cx="464.83" cy="791.48" r="2.45"/><circle cx="449.31" cy="782.35" r="2.45"/><circle cx="461.69" cy="818.81" r="2.45"/><circle cx="453.19" cy="801.78" r="2.45"/><circle cx="453.52" cy="799.55" r="2.45"/><circle cx="445.15" cy="752.57" r="2.45"/><circle cx="452.01" cy="784.56" r="2.45"/><circle cx="452.19" cy="793.14" r="2.45"/><circle cx="457.82" cy="809.39" r="2.45"/><circle cx="451.07" cy="793.29" r="2.45"/><circle cx="464.65" cy="795.51" r="2.45"/><circle cx="458.93" cy="807.58" r="2.45"/><circle cx="460.95" cy="806.34" r="2.45"/><circle cx="452.92" cy="782.87" r="2.45"/><circle cx="452.52" cy="774.77" r="2.45"/><circle cx="454.48" cy="805.44" r="2.45"/><circle cx="455.04" cy="808.47" r="2.45"/><circle cx="456.32" cy="797.59" r="2.45"/><circle cx="477.99" cy="785.77" r="2.45"/><circle cx="484.12" cy="755.68" r="2.45"/><circle cx="468.75" cy="772.79" r="2.45"/><circle cx="473.81" cy="775.31" r="2.45"/><circle cx="469.79" cy="780.83" r="2.45"/><circle cx="482.69" cy="774.59" r="2.45"/><circle cx="475.45" cy="784.88" r="2.45"/><circle cx="480.64" cy="758.13" r="2.45"/><circle cx="474.03" cy="774.86" r="2.45"/><circle cx="484.01" cy="757.53" r="2.45"/><circle cx="474.31" cy="758.07" r="2.45"/><circle cx="480.78" cy="771.95" r="2.45"/><circle cx="473.31" cy="782.3" r="2.45"/><circle cx="474.47" cy="775.7" r="2.45"/><circle cx="471.79" cy="767.25" r="2.45"/><circle cx="477.28" cy="766.59" r="2.45"/><circle cx="474.92" cy="795.17" r="2.45"/><circle cx="466.39" cy="784.08" r="2.45"/><circle cx="474.33" cy="781.56" r="2.45"/><circle cx="466.32" cy="795.76" r="2.45"/><circle cx="480.02" cy="762.56" r="2.45"/><circle cx="475.26" cy="764.97" r="2.45"/><circle cx="483.84" cy="758.29" r="2.45"/><circle cx="469.19" cy="767.41" r="2.45"/><circle cx="472.33" cy="771.97" r="2.45"/><circle cx="468.26" cy="787.26" r="2.45"/><circle cx="479.99" cy="764.73" r="2.45"/><circle cx="480.79" cy="774.9" r="2.45"/><circle cx="475.79" cy="768" r="2.45"/><circle cx="482.39" cy="753.35" r="2.45"/><circle cx="473.32" cy="770.45" r="2.45"/><circle cx="483.95" cy="750.32" r="2.45"/><circle cx="481.34" cy="776.72" r="2.45"/><circle cx="481.9" cy="748.84" r="2.45"/><circle cx="485.39" cy="740.05" r="2.45"/><circle cx="475.78" cy="767.91" r="2.45"/><circle cx="480.8" cy="773.83" r="2.45"/><circle cx="470.1" cy="778.97" r="2.45"/><circle cx="469.35" cy="768.85" r="2.45"/><circle cx="480.49" cy="758.38" r="2.45"/><circle cx="470.25" cy="789.96" r="2.45"/><circle cx="471.52" cy="756.76" r="2.45"/><circle cx="476.91" cy="776.71" r="2.45"/><circle cx="484.89" cy="758.29" r="2.45"/><circle cx="482.64" cy="757.68" r="2.45"/><circle cx="485.76" cy="749.65" r="2.45"/><circle cx="477.18" cy="783.85" r="2.45"/><circle cx="485.48" cy="752.32" r="2.45"/><circle cx="483.18" cy="767.06" r="2.45"/><circle cx="471.96" cy="783.42" r="2.45"/><circle cx="485.77" cy="706.67" r="2.45"/><circle cx="485.77" cy="720.68" r="2.45"/><circle cx="486.2" cy="726.81" r="2.45"/><circle cx="484.9" cy="741.69" r="2.45"/><circle cx="509.42" cy="785.84" r="2.45"/><circle cx="493.17" cy="775.96" r="2.45"/><circle cx="504.87" cy="808.38" r="2.45"/><circle cx="502.61" cy="799.88" r="2.45"/><circle cx="503.23" cy="808.72" r="2.45"/><circle cx="503.4" cy="811.67" r="2.45"/><circle cx="501.7" cy="798.3" r="2.45"/><circle cx="502.65" cy="793.33" r="2.45"/><circle cx="496.17" cy="783.57" r="2.45"/><circle cx="501.5" cy="798.6" r="2.45"/><circle cx="495.79" cy="793.17" r="2.45"/><circle cx="492.78" cy="780.18" r="2.45"/><circle cx="505.81" cy="799.23" r="2.45"/><circle cx="493.37" cy="779.78" r="2.45"/><circle cx="497.11" cy="795.83" r="2.45"/><circle cx="503.76" cy="792.24" r="2.45"/><circle cx="501.39" cy="792.02" r="2.45"/><circle cx="508.8" cy="788.05" r="2.45"/><circle cx="487.84" cy="756.94" r="2.45"/><circle cx="508.24" cy="784.61" r="2.45"/><circle cx="502.92" cy="795.57" r="2.45"/><circle cx="503.47" cy="797.08" r="2.45"/><circle cx="498.67" cy="803.3" r="2.45"/><circle cx="493.93" cy="780.29" r="2.45"/><circle cx="508.95" cy="789.63" r="2.45"/><circle cx="508.18" cy="787.47" r="2.45"/><circle cx="499.94" cy="786.94" r="2.45"/><circle cx="494.5" cy="786.68" r="2.45"/><circle cx="499.16" cy="805.38" r="2.45"/><circle cx="487.19" cy="775.35" r="2.45"/><circle cx="489.8" cy="775.27" r="2.45"/><circle cx="490.52" cy="765.57" r="2.45"/><circle cx="503.33" cy="792.77" r="2.45"/><circle cx="486.33" cy="762.67" r="2.45"/><circle cx="504.5" cy="800.05" r="2.45"/><circle cx="491.05" cy="759.49" r="2.45"/><circle cx="503.25" cy="803.83" r="2.45"/><circle cx="497.21" cy="799.88" r="2.45"/><circle cx="489.92" cy="768.97" r="2.45"/><circle cx="495.61" cy="798.15" r="2.45"/><circle cx="502.34" cy="799.98" r="2.45"/><circle cx="503.6" cy="789.33" r="2.45"/><circle cx="489.12" cy="769.74" r="2.45"/><circle cx="509" cy="796.56" r="2.45"/><circle cx="486.97" cy="759.92" r="2.45"/><circle cx="514.19" cy="782.32" r="2.45"/><circle cx="515.18" cy="774.23" r="2.45"/><circle cx="528.75" cy="746.19" r="2.45"/><circle cx="526.89" cy="753.39" r="2.45"/><circle cx="510.28" cy="775.23" r="2.45"/><circle cx="514.46" cy="768.84" r="2.45"/><circle cx="519.54" cy="779.53" r="2.45"/><circle cx="520.32" cy="776.31" r="2.45"/><circle cx="521.98" cy="767.4" r="2.45"/><circle cx="525.2" cy="755.83" r="2.45"/><circle cx="517.3" cy="767.93" r="2.45"/><circle cx="516.54" cy="771.09" r="2.45"/><circle cx="515.6" cy="773.36" r="2.45"/><circle cx="526.36" cy="743.6" r="2.45"/><circle cx="514.89" cy="773.57" r="2.45"/><circle cx="510.58" cy="790.62" r="2.45"/><circle cx="511.73" cy="756.89" r="2.45"/><circle cx="525.37" cy="774.11" r="2.45"/><circle cx="513.89" cy="777.14" r="2.45"/><circle cx="511.39" cy="778.65" r="2.45"/><circle cx="527.83" cy="749.64" r="2.45"/><circle cx="526.82" cy="760.59" r="2.45"/><circle cx="519.58" cy="768.79" r="2.45"/><circle cx="510.46" cy="780.44" r="2.45"/><circle cx="514.19" cy="767.99" r="2.45"/><circle cx="521.46" cy="777.35" r="2.45"/><circle cx="521.03" cy="768.91" r="2.45"/><circle cx="513.14" cy="774.35" r="2.45"/><circle cx="528.72" cy="746.39" r="2.45"/><circle cx="516.48" cy="785.61" r="2.45"/><circle cx="521.06" cy="781.32" r="2.45"/><circle cx="516.63" cy="778.97" r="2.45"/><circle cx="525.08" cy="763.31" r="2.45"/><circle cx="523.4" cy="758.27" r="2.45"/><circle cx="528.77" cy="747.15" r="2.45"/><circle cx="520.06" cy="771.92" r="2.45"/><circle cx="515.16" cy="772.8" r="2.45"/><circle cx="511.47" cy="811.06" r="2.45"/><circle cx="514.04" cy="766.66" r="2.45"/><circle cx="512.97" cy="777.29" r="2.45"/><circle cx="516.03" cy="736.44" r="2.45"/><circle cx="516.03" cy="752.19" r="2.45"/><circle cx="526.84" cy="722.43" r="2.45"/><circle cx="526.84" cy="731.18" r="2.45"/><circle cx="534.46" cy="760.83" r="2.45"/><circle cx="547.83" cy="797.62" r="2.45"/><circle cx="537.08" cy="798.44" r="2.45"/><circle cx="541.47" cy="802.12" r="2.45"/><circle cx="547.72" cy="798.7" r="2.45"/><circle cx="541.8" cy="795.89" r="2.45"/><circle cx="536.38" cy="779.65" r="2.45"/><circle cx="529.65" cy="752.19" r="2.45"/><circle cx="538.83" cy="775.94" r="2.45"/><circle cx="533.66" cy="770.3" r="2.45"/><circle cx="540.33" cy="787.72" r="2.45"/><circle cx="541.17" cy="793.98" r="2.45"/><circle cx="542.15" cy="791.65" r="2.45"/><circle cx="531.27" cy="757.41" r="2.45"/><circle cx="530.06" cy="747.19" r="2.45"/><circle cx="536.85" cy="781.75" r="2.45"/><circle cx="543.86" cy="796.63" r="2.45"/><circle cx="537.95" cy="793.82" r="2.45"/><circle cx="547.02" cy="795.21" r="2.45"/><circle cx="542.14" cy="800.2" r="2.45"/><circle cx="546.6" cy="796.44" r="2.45"/><circle cx="544.96" cy="790.87" r="2.45"/><circle cx="540.43" cy="795.27" r="2.45"/><circle cx="540.84" cy="792.88" r="2.45"/><circle cx="533.77" cy="763.42" r="2.45"/><circle cx="538.87" cy="796.86" r="2.45"/><circle cx="530.7" cy="754.05" r="2.45"/><circle cx="540.82" cy="798.32" r="2.45"/><circle cx="532.32" cy="773.52" r="2.45"/><circle cx="537.7" cy="796.76" r="2.45"/><circle cx="532.61" cy="754.25" r="2.45"/><circle cx="544.26" cy="812.86" r="2.45"/><circle cx="543.4" cy="801.96" r="2.45"/><circle cx="533.9" cy="774.09" r="2.45"/><circle cx="538.04" cy="782.98" r="2.45"/><circle cx="544.66" cy="793.42" r="2.45"/><circle cx="535.03" cy="768.54" r="2.45"/><circle cx="542.21" cy="811.99" r="2.45"/><circle cx="540.87" cy="795.06" r="2.45"/><circle cx="534.47" cy="779.2" r="2.45"/><circle cx="546.01" cy="804.94" r="2.45"/><circle cx="538.76" cy="798.22" r="2.45"/><circle cx="540.5" cy="805.59" r="2.45"/><circle cx="546.68" cy="799.88" r="2.45"/><circle cx="543.56" cy="809.11" r="2.45"/><circle cx="551.94" cy="788.68" r="2.45"/><circle cx="555.14" cy="753.62" r="2.45"/><circle cx="549.9" cy="791.47" r="2.45"/><circle cx="558.56" cy="745.49" r="2.45"/><circle cx="555.72" cy="772.82" r="2.45"/><circle cx="559" cy="772.28" r="2.45"/><circle cx="550.79" cy="791.37" r="2.45"/><circle cx="554.11" cy="773.95" r="2.45"/><circle cx="555.3" cy="769.43" r="2.45"/><circle cx="555.38" cy="772.41" r="2.45"/><circle cx="551.2" cy="780.67" r="2.45"/><circle cx="554.37" cy="780.22" r="2.45"/><circle cx="549.78" cy="791.29" r="2.45"/><circle cx="557.6" cy="782.17" r="2.45"/><circle cx="557.3" cy="765.83" r="2.45"/><circle cx="557.16" cy="764.6" r="2.45"/><circle cx="553.89" cy="791.89" r="2.45"/><circle cx="557.28" cy="767.05" r="2.45"/><circle cx="556.65" cy="768.18" r="2.45"/><circle cx="557.66" cy="772.19" r="2.45"/><circle cx="555.99" cy="768.87" r="2.45"/><circle cx="553.9" cy="789.89" r="2.45"/><circle cx="555.65" cy="781.1" r="2.45"/><circle cx="552.36" cy="774.09" r="2.45"/><circle cx="549.75" cy="782.09" r="2.45"/></g>
<path d="M40,773.2L40.59,772.06L41.42,770.48L42.4,768.59L43.44,766.54L44.49,764.45L45.55,761.95L46.7,758.93L47.88,755.99L49.02,753.7L50.09,752.63L51.06,752.95L51.97,754.27L52.84,756.35L53.7,758.95L54.58,761.82L55.46,765.25L56.32,769.38L57.19,773.82L58.09,778.15L59.06,781.96L60.13,785.33L61.28,788.53L62.45,791.44L63.6,793.96L64.67,795.97L65.64,797.45L66.54,798.48L67.41,799.09L68.28,799.26L69.15,799.03L70.05,798.35L70.95,797.21L71.85,795.67L72.74,793.78L73.64,791.59L74.55,788.76L75.49,785.25L76.41,781.59L77.3,778.27L78.13,775.83L78.87,774.46L79.55,773.81L80.2,773.59L80.83,773.49L81.49,773.2L82.14,772.85L82.78,772.63L83.43,772.37L84.11,771.89L84.85,771.02L85.67,769.63L86.54,767.84L87.46,765.84L88.39,763.77L89.34,761.82L90.3,759.65L91.3,757.14L92.31,754.8L93.31,753.13L94.27,752.63L95.21,753.59L96.12,755.66L97.02,758.43L97.9,761.5L98.76,764.45L99.59,767.39L100.38,770.6L101.17,773.9L101.97,777.16L102.79,780.21L103.66,783.12L104.53,786.01L105.43,788.75L106.35,791.23L107.28,793.34L108.23,795.16L109.21,796.78L110.2,798.06L111.21,798.85L112.21,799.03L113.24,798.51L114.29,797.4L115.35,795.79L116.38,793.82L117.37,791.59L118.33,788.76L119.27,785.25L120.18,781.59L121.04,778.27L121.86,775.83L122.6,774.46L123.28,773.81L123.93,773.59L124.57,773.49L125.22,773.2L125.88,772.85L126.51,772.63L127.16,772.37L127.84,771.89L128.58,771.02L129.41,769.62L130.3,767.82L131.22,765.8L132.16,763.75L133.07,761.82L133.97,759.72L134.86,757.32L135.76,755.1L136.66,753.52L137.56,753.07L138.45,753.96L139.35,755.88L140.25,758.49L141.14,761.46L142.04,764.45L142.94,767.62L143.83,771.18L144.73,774.91L145.63,778.58L146.53,781.96L147.42,785.15L148.32,788.32L149.22,791.29L150.11,793.89L151.01,795.97L151.89,797.52L152.75,798.67L153.62,799.39L154.53,799.66L155.5,799.47L156.56,798.75L157.71,797.51L158.89,795.85L160.04,793.85L161.1,791.59L162.07,788.73L162.98,785.22L163.85,781.57L164.71,778.27L165.59,775.83L166.5,774.46L167.41,773.81L168.32,773.59L169.21,773.49L170.07,773.2L170.9,772.85L171.7,772.63L172.48,772.37L173.23,771.89L173.97,771.02L174.67,769.6L175.33,767.78L175.98,765.74L176.64,763.69L177.33,761.82L178.06,759.84L178.82,757.61L179.58,755.58L180.36,754.21L181.15,753.94L181.93,755.01L182.72,757.1L183.53,759.89L184.34,763.04L185.18,766.2L186.05,769.6L186.95,773.45L187.85,777.44L188.76,781.26L189.67,784.58L190.55,787.42L191.41,789.98L192.28,792.25L193.19,794.25L194.15,795.97L195.22,797.47L196.37,798.77L197.55,799.75L198.69,800.31L199.76,800.34L200.73,799.81L201.64,798.78L202.51,797.32L203.37,795.48L204.25,793.34L205.14,790.55L206.04,787.08L206.94,783.42L207.83,780.09L208.73,777.58L209.63,776.05L210.53,775.17L211.42,774.7L212.32,774.42L213.22,774.08L214.13,773.9L215.07,774.04L215.99,774.18L216.88,774.01L217.7,773.2L218.44,771.54L219.1,769.24L219.73,766.63L220.37,764.04L221.07,761.82L221.83,759.7L222.64,757.45L223.47,755.48L224.3,754.18L225.1,753.94L225.87,754.98L226.61,757.02L227.35,759.76L228.11,762.92L228.92,766.2L229.77,769.86L230.66,774.11L231.57,778.53L232.49,782.74L233.4,786.34L234.3,789.31L235.2,791.94L236.09,794.21L236.99,796.14L237.89,797.72L238.78,798.96L239.68,799.86L240.58,800.41L241.47,800.57L242.37,800.34L243.27,799.7L244.17,798.65L245.06,797.23L245.96,795.45L246.86,793.34L247.75,790.55L248.65,787.08L249.55,783.42L250.45,780.09L251.34,777.58L252.24,776.07L253.14,775.21L254.03,774.77L254.93,774.47L255.83,774.08L256.74,773.76L257.68,773.67L258.6,773.58L259.49,773.21L260.31,772.33L261.04,770.73L261.69,768.59L262.3,766.19L262.95,763.84L263.68,761.82L264.5,759.86L265.39,757.76L266.31,755.94L267.25,754.82L268.16,754.82L269.06,756.18L269.96,758.62L270.85,761.77L271.75,765.3L272.65,768.83L273.54,772.62L274.44,776.92L275.34,781.34L276.24,785.48L277.13,788.96L278.03,791.75L278.93,794.09L279.82,796.05L280.72,797.68L281.62,799.03L282.52,800.13L283.41,800.96L284.31,801.45L285.21,801.55L286.1,801.22L287,800.41L287.9,799.17L288.79,797.54L289.69,795.58L290.59,793.34L291.49,790.47L292.39,786.93L293.29,783.25L294.18,779.96L295.07,777.58L295.96,776.26L296.84,775.66L297.72,775.54L298.6,775.68L299.49,775.83L300.38,776.31L301.27,777.28L302.17,778.27L303.07,778.81L303.97,778.46L304.89,776.92L305.82,774.5L306.74,771.63L307.63,768.72L308.46,766.2L309.18,763.76L309.83,761.11L310.45,758.72L311.09,757.05L311.82,756.57L312.65,757.5L313.53,759.52L314.46,762.31L315.39,765.52L316.31,768.83L317.2,772.48L318.1,776.69L319,781.1L319.89,785.31L320.79,788.96L321.71,792.06L322.64,794.85L323.56,797.32L324.45,799.45L325.28,801.22L326,802.6L326.65,803.63L327.27,804.31L327.91,804.66L328.64,804.72L329.47,804.53L330.35,804.08L331.28,803.29L332.21,802.07L333.13,800.34L334.04,797.74L334.97,794.31L335.9,790.61L336.79,787.19L337.61,784.58L338.34,782.9L338.98,781.76L339.6,781.03L340.25,780.56L340.97,780.21L341.8,780.23L342.69,780.73L343.61,781.3L344.54,781.55L345.46,781.08L346.34,779.74L347.2,777.78L348.07,775.45L348.98,772.97L349.95,770.58L351.01,767.85L352.16,764.62L353.34,761.54L354.48,759.23L355.55,758.32L356.52,759.08L357.43,761.08L358.3,763.93L359.16,767.23L360.04,770.58L360.93,774.25L361.83,778.53L362.73,782.97L363.63,787.18L364.52,790.71L365.44,793.56L366.37,795.99L367.29,798.05L368.18,799.78L369.01,801.22L369.73,802.39L370.38,803.26L371,803.8L371.64,804.01L372.37,803.84L373.2,803.33L374.08,802.49L375.01,801.28L375.94,799.7L376.86,797.72L377.77,795L378.7,791.56L379.63,787.9L380.52,784.54L381.34,781.96L382.07,780.27L382.71,779.14L383.33,778.41L383.98,777.94L384.71,777.58L385.53,777.59L386.42,778.06L387.34,778.61L388.28,778.87L389.19,778.46L390.08,777.24L390.96,775.49L391.85,773.37L392.75,771.09L393.68,768.83L394.65,766.19L395.66,763.06L396.68,760.02L397.67,757.66L398.61,756.57L399.47,756.89L400.27,758.22L401.04,760.35L401.83,763.08L402.65,766.2L403.52,770.09L404.41,774.91L405.32,780.05L406.23,784.93L407.13,788.96L408.03,792.12L408.93,794.8L409.82,797.03L410.72,798.86L411.62,800.34L412.52,801.43L413.41,802.11L414.31,802.42L415.21,802.4L416.1,802.09L417,801.5L417.9,800.59L418.79,799.36L419.69,797.82L420.59,795.97L421.5,793.54L422.43,790.55L423.36,787.37L424.25,784.38L425.07,781.96L425.81,780.1L426.46,778.56L427.08,777.34L427.74,776.43L428.49,775.83L429.34,775.9L430.26,776.64L431.22,777.51L432.19,778L433.14,777.58L434.07,775.97L435,773.52L435.93,770.65L436.86,767.78L437.79,765.33L438.72,762.99L439.65,760.48L440.58,758.27L441.51,756.81L442.44,756.57L443.37,757.8L444.3,760.2L445.23,763.38L446.16,766.96L447.09,770.58L448.02,774.54L448.95,779.11L449.88,783.79L450.81,788.11L451.74,791.59L452.69,794.12L453.66,796.02L454.62,797.45L455.54,798.55L456.4,799.47L457.15,800.22L457.82,800.7L458.46,800.9L459.13,800.78L459.88,800.34L460.74,799.59L461.66,798.53L462.62,797.15L463.59,795.43L464.53,793.34L465.48,790.54L466.45,787.06L467.41,783.39L468.33,780.06L469.19,777.58L469.94,776.1L470.61,775.27L471.25,774.88L471.92,774.7L472.67,774.52L473.53,774.57L474.45,775.01L475.41,775.46L476.38,775.57L477.33,774.95L478.27,773.41L479.22,771.17L480.17,768.57L481.09,765.93L481.98,763.57L482.81,761.2L483.6,758.59L484.37,756.2L485.14,754.5L485.93,753.94L486.75,754.68L487.57,756.4L488.4,758.88L489.25,761.93L490.12,765.33L491.02,769.5L491.94,774.59L492.88,779.95L493.83,784.96L494.77,788.96L495.72,791.88L496.68,794.14L497.64,795.86L498.56,797.19L499.42,798.24L500.17,798.97L500.84,799.29L501.48,799.28L502.15,799.02L502.91,798.59L503.76,798.07L504.68,797.4L505.64,796.47L506.61,795.15L507.56,793.34L508.51,790.69L509.47,787.29L510.43,783.63L511.35,780.23L512.21,777.58L512.96,775.77L513.63,774.47L514.27,773.55L514.94,772.87L515.7,772.33L516.55,772.17L517.47,772.5L518.43,772.9L519.4,772.97L520.35,772.33L521.29,770.75L522.23,768.49L523.17,765.89L524.1,763.27L525,760.95L525.87,758.63L526.72,756.11L527.55,753.82L528.37,752.21L529.19,751.76L529.98,752.6L530.75,754.45L531.52,757.05L532.31,760.17L533.14,763.57L534.03,767.62L534.95,772.48L535.9,777.59L536.85,782.39L537.79,786.34L538.74,789.37L539.71,791.88L540.67,793.92L541.59,795.55L542.44,796.84L543.2,797.74L543.87,798.22L544.51,798.33L545.18,798.14L545.93,797.72L546.79,797.06L547.71,796.15L548.67,794.94L549.63,793.43L550.58,791.59L551.52,789.16L552.46,786.17L553.41,782.99L554.33,780L555.23,777.58L556.17,775.75L557.14,774.27L558.07,773.08L558.86,772.16L559.42,771.45" fill="none" stroke="#0a0af0" stroke-width="1.9" stroke-linejoin="round"/>
<line x1="40.5" y1="778.46" x2="299.88" y2="780.91" stroke="#22ee22" stroke-width="2.9"/><line x1="299.88" y1="786.69" x2="559.26" y2="776.71" stroke="#ff0a0a" stroke-width="2.9"/>
</g>
<rect x="40.5" y="14.3" width="518.76" height="153.2" fill="none" stroke="#303030" stroke-width="1.2"/>
<path d="M83.73,14.3v3.2M83.73,167.5v-3.2M126.96,14.3v3.2M126.96,167.5v-3.2M170.19,14.3v3.2M170.19,167.5v-3.2M213.42,14.3v3.2M213.42,167.5v-3.2M256.65,14.3v3.2M256.65,167.5v-3.2M299.88,14.3v3.2M299.88,167.5v-3.2M343.11,14.3v3.2M343.11,167.5v-3.2M386.34,14.3v3.2M386.34,167.5v-3.2M429.57,14.3v3.2M429.57,167.5v-3.2M472.8,14.3v3.2M472.8,167.5v-3.2M516.03,14.3v3.2M516.03,167.5v-3.2M40.5,148.35h5.6M40.5,110.05h5.6M40.5,71.75h5.6M40.5,33.45h5.6M40.5,129.2h3.6M40.5,90.9h3.6M40.5,52.6h3.6M559.26,153.5h-4.3M559.26,129.5h-4.3M559.26,105.5h-4.3M559.26,81.5h-4.3M559.26,57.5h-4.3M559.26,33.5h-4.3" stroke="#303030" stroke-width="1.2" fill="none"/>
<text x="34.3" y="152.55" font-size="12.2" text-anchor="end" fill="#222">1</text>
<text x="34.3" y="114.25" font-size="12.2" text-anchor="end" fill="#222">2</text>
<text x="34.3" y="75.95" font-size="12.2" text-anchor="end" fill="#222">3</text>
<text x="34.3" y="37.65" font-size="12.2" text-anchor="end" fill="#222">4</text>
<text x="566" y="157.7" font-size="12.2" fill="#222">0.8</text>
<text x="566" y="133.7" font-size="12.2" fill="#222">1.0</text>
<text x="566" y="109.7" font-size="12.2" fill="#222">1.2</text>
<text x="566" y="85.7" font-size="12.2" fill="#222">1.4</text>
<text x="566" y="61.7" font-size="12.2" fill="#222">1.6</text>
<text x="566" y="37.7" font-size="12.2" fill="#222">1.8</text>
<rect x="40.5" y="176.45" width="518.76" height="153.2" fill="none" stroke="#303030" stroke-width="1.2"/>
<path d="M83.73,176.45v3.2M83.73,329.65v-3.2M126.96,176.45v3.2M126.96,329.65v-3.2M170.19,176.45v3.2M170.19,329.65v-3.2M213.42,176.45v3.2M213.42,329.65v-3.2M256.65,176.45v3.2M256.65,329.65v-3.2M299.88,176.45v3.2M299.88,329.65v-3.2M343.11,176.45v3.2M343.11,329.65v-3.2M386.34,176.45v3.2M386.34,329.65v-3.2M429.57,176.45v3.2M429.57,329.65v-3.2M472.8,176.45v3.2M472.8,329.65v-3.2M516.03,176.45v3.2M516.03,329.65v-3.2M40.5,310.5h5.6M40.5,272.2h5.6M40.5,233.9h5.6M40.5,195.6h5.6M40.5,291.35h3.6M40.5,253.05h3.6M40.5,214.75h3.6M559.26,320.8h-4.3M559.26,292.2h-4.3M559.26,263.6h-4.3M559.26,235h-4.3M559.26,206.4h-4.3M559.26,177.8h-4.3" stroke="#303030" stroke-width="1.2" fill="none"/>
<text x="34.3" y="314.7" font-size="12.2" text-anchor="end" fill="#222">1</text>
<text x="34.3" y="276.4" font-size="12.2" text-anchor="end" fill="#222">2</text>
<text x="34.3" y="238.1" font-size="12.2" text-anchor="end" fill="#222">3</text>
<text x="34.3" y="199.8" font-size="12.2" text-anchor="end" fill="#222">4</text>
<text x="566" y="325" font-size="12.2" fill="#222">0.5</text>
<text x="566" y="296.4" font-size="12.2" fill="#222">1.0</text>
<text x="566" y="267.8" font-size="12.2" fill="#222">1.5</text>
<text x="566" y="239.2" font-size="12.2" fill="#222">2.0</text>
<text x="566" y="210.6" font-size="12.2" fill="#222">2.5</text>
<text x="566" y="182" font-size="12.2" fill="#222">3.0</text>
<rect x="40.5" y="338.6" width="518.76" height="153.2" fill="none" stroke="#303030" stroke-width="1.2"/>
<path d="M83.73,338.6v3.2M83.73,491.8v-3.2M126.96,338.6v3.2M126.96,491.8v-3.2M170.19,338.6v3.2M170.19,491.8v-3.2M213.42,338.6v3.2M213.42,491.8v-3.2M256.65,338.6v3.2M256.65,491.8v-3.2M299.88,338.6v3.2M299.88,491.8v-3.2M343.11,338.6v3.2M343.11,491.8v-3.2M386.34,338.6v3.2M386.34,491.8v-3.2M429.57,338.6v3.2M429.57,491.8v-3.2M472.8,338.6v3.2M472.8,491.8v-3.2M516.03,338.6v3.2M516.03,491.8v-3.2M40.5,472.65h5.6M40.5,434.35h5.6M40.5,396.05h5.6M40.5,357.75h5.6M40.5,453.5h3.6M40.5,415.2h3.6M40.5,376.9h3.6M559.26,468.1h-4.3M559.26,434.3h-4.3M559.26,400.5h-4.3M559.26,366.7h-4.3" stroke="#303030" stroke-width="1.2" fill="none"/>
<text x="34.3" y="476.85" font-size="12.2" text-anchor="end" fill="#222">1</text>
<text x="34.3" y="438.55" font-size="12.2" text-anchor="end" fill="#222">2</text>
<text x="34.3" y="400.25" font-size="12.2" text-anchor="end" fill="#222">3</text>
<text x="34.3" y="361.95" font-size="12.2" text-anchor="end" fill="#222">4</text>
<text x="566" y="472.3" font-size="12.2" fill="#222">1.5</text>
<text x="566" y="438.5" font-size="12.2" fill="#222">2.0</text>
<text x="566" y="404.7" font-size="12.2" fill="#222">2.5</text>
<text x="566" y="370.9" font-size="12.2" fill="#222">3.0</text>
<rect x="40.5" y="500.75" width="518.76" height="153.2" fill="none" stroke="#303030" stroke-width="1.2"/>
<path d="M83.73,500.75v3.2M83.73,653.95v-3.2M126.96,500.75v3.2M126.96,653.95v-3.2M170.19,500.75v3.2M170.19,653.95v-3.2M213.42,500.75v3.2M213.42,653.95v-3.2M256.65,500.75v3.2M256.65,653.95v-3.2M299.88,500.75v3.2M299.88,653.95v-3.2M343.11,500.75v3.2M343.11,653.95v-3.2M386.34,500.75v3.2M386.34,653.95v-3.2M429.57,500.75v3.2M429.57,653.95v-3.2M472.8,500.75v3.2M472.8,653.95v-3.2M516.03,500.75v3.2M516.03,653.95v-3.2M40.5,634.8h5.6M40.5,596.5h5.6M40.5,558.2h5.6M40.5,519.9h5.6M40.5,615.65h3.6M40.5,577.35h3.6M40.5,539.05h3.6M559.26,633.3h-4.3M559.26,610.8h-4.3M559.26,588.3h-4.3M559.26,565.8h-4.3M559.26,543.3h-4.3M559.26,520.8h-4.3" stroke="#303030" stroke-width="1.2" fill="none"/>
<text x="34.3" y="639" font-size="12.2" text-anchor="end" fill="#222">1</text>
<text x="34.3" y="600.7" font-size="12.2" text-anchor="end" fill="#222">2</text>
<text x="34.3" y="562.4" font-size="12.2" text-anchor="end" fill="#222">3</text>
<text x="34.3" y="524.1" font-size="12.2" text-anchor="end" fill="#222">4</text>
<text x="566" y="637.5" font-size="12.2" fill="#222">1.0</text>
<text x="566" y="615" font-size="12.2" fill="#222">1.5</text>
<text x="566" y="592.5" font-size="12.2" fill="#222">2.0</text>
<text x="566" y="570" font-size="12.2" fill="#222">2.5</text>
<text x="566" y="547.5" font-size="12.2" fill="#222">3.0</text>
<text x="566" y="525" font-size="12.2" fill="#222">3.5</text>
<rect x="40.5" y="662.9" width="518.76" height="153.2" fill="none" stroke="#303030" stroke-width="1.2"/>
<path d="M83.73,662.9v3.2M83.73,816.1v-3.2M126.96,662.9v3.2M126.96,816.1v-3.2M170.19,662.9v3.2M170.19,816.1v-3.2M213.42,662.9v3.2M213.42,816.1v-3.2M256.65,662.9v3.2M256.65,816.1v-3.2M299.88,662.9v3.2M299.88,816.1v-3.2M343.11,662.9v3.2M343.11,816.1v-3.2M386.34,662.9v3.2M386.34,816.1v-3.2M429.57,662.9v3.2M429.57,816.1v-3.2M472.8,662.9v3.2M472.8,816.1v-3.2M516.03,662.9v3.2M516.03,816.1v-3.2M40.5,794.21h5.6M40.5,750.44h5.6M40.5,706.67h5.6M40.5,772.33h3.6M40.5,728.56h3.6M40.5,684.79h3.6M559.26,810h-4.3M559.26,790.3h-4.3M559.26,770.6h-4.3M559.26,750.9h-4.3M559.26,731.2h-4.3M559.26,711.5h-4.3M559.26,691.8h-4.3M559.26,672.1h-4.3" stroke="#303030" stroke-width="1.2" fill="none"/>
<text x="34.3" y="798.41" font-size="12.2" text-anchor="end" fill="#222">0.5</text>
<text x="34.3" y="754.64" font-size="12.2" text-anchor="end" fill="#222">1.0</text>
<text x="34.3" y="710.87" font-size="12.2" text-anchor="end" fill="#222">1.5</text>
<text x="34.3" y="667.1" font-size="12.2" text-anchor="end" fill="#222">2.0</text>
<text x="566" y="814.2" font-size="12.2" fill="#222">0.2</text>
<text x="566" y="794.5" font-size="12.2" fill="#222">0.4</text>
<text x="566" y="774.8" font-size="12.2" fill="#222">0.6</text>
<text x="566" y="755.1" font-size="12.2" fill="#222">0.8</text>
<text x="566" y="735.4" font-size="12.2" fill="#222">1.0</text>
<text x="566" y="715.7" font-size="12.2" fill="#222">1.2</text>
<text x="566" y="696" font-size="12.2" fill="#222">1.4</text>
<text x="566" y="676.3" font-size="12.2" fill="#222">1.6</text>
<text x="40.5" y="9.2" font-size="11.8" text-anchor="middle" fill="#222">2003</text>
<text x="40.5" y="832.3" font-size="11.8" text-anchor="middle" fill="#222">2003</text>
<text x="83.73" y="9.2" font-size="11.8" text-anchor="middle" fill="#222">2004</text>
<text x="83.73" y="832.3" font-size="11.8" text-anchor="middle" fill="#222">2004</text>
<text x="126.96" y="9.2" font-size="11.8" text-anchor="middle" fill="#222">2005</text>
<text x="126.96" y="832.3" font-size="11.8" text-anchor="middle" fill="#222">2005</text>
<text x="170.19" y="9.2" font-size="11.8" text-anchor="middle" fill="#222">2006</text>
<text x="170.19" y="832.3" font-size="11.8" text-anchor="middle" fill="#222">2006</text>
<text x="213.42" y="9.2" font-size="11.8" text-anchor="middle" fill="#222">2007</text>
<text x="213.42" y="832.3" font-size="11.8" text-anchor="middle" fill="#222">2007</text>
<text x="256.65" y="9.2" font-size="11.8" text-anchor="middle" fill="#222">2008</text>
<text x="256.65" y="832.3" font-size="11.8" text-anchor="middle" fill="#222">2008</text>
<text x="299.88" y="9.2" font-size="11.8" text-anchor="middle" fill="#222">2009</text>
<text x="299.88" y="832.3" font-size="11.8" text-anchor="middle" fill="#222">2009</text>
<text x="343.11" y="9.2" font-size="11.8" text-anchor="middle" fill="#222">2010</text>
<text x="343.11" y="832.3" font-size="11.8" text-anchor="middle" fill="#222">2010</text>
<text x="386.34" y="9.2" font-size="11.8" text-anchor="middle" fill="#222">2011</text>
<text x="386.34" y="832.3" font-size="11.8" text-anchor="middle" fill="#222">2011</text>
<text x="429.57" y="9.2" font-size="11.8" text-anchor="middle" fill="#222">2012</text>
<text x="429.57" y="832.3" font-size="11.8" text-anchor="middle" fill="#222">2012</text>
<text x="472.8" y="9.2" font-size="11.8" text-anchor="middle" fill="#222">2013</text>
<text x="472.8" y="832.3" font-size="11.8" text-anchor="middle" fill="#222">2013</text>
<text x="516.03" y="9.2" font-size="11.8" text-anchor="middle" fill="#222">2014</text>
<text x="516.03" y="832.3" font-size="11.8" text-anchor="middle" fill="#222">2014</text>
<text x="559.26" y="9.2" font-size="11.8" text-anchor="middle" fill="#222">2015</text>
<text x="559.26" y="832.3" font-size="11.8" text-anchor="middle" fill="#222">2015</text>
<rect x="46.7" y="21.5" width="70.5" height="25.7" fill="#fff"/>
<text x="53.2" y="40.9" font-size="19.5" font-weight="bold" font-style="italic" fill="#000">Eureka</text>
<rect x="49" y="183.1" width="59.5" height="25.7" fill="#fff"/>
<text x="55.5" y="202.5" font-size="19.5" font-weight="bold" font-style="italic" fill="#000">Thule</text>
<rect x="48" y="345.5" width="74.5" height="25.7" fill="#fff"/>
<text x="54.5" y="364.9" font-size="19.5" font-weight="bold" font-style="italic" fill="#000">Toronto</text>
<rect x="46" y="506.7" width="76.5" height="25.7" fill="#fff"/>
<text x="52.5" y="526.1" font-size="19.5" font-weight="bold" font-style="italic" fill="#000">Boulder</text>
<rect x="45.3" y="670.1" width="105.5" height="25.7" fill="#fff"/>
<text x="51.8" y="689.5" font-size="19.5" font-weight="bold" font-style="italic" fill="#000">Mauna Loa</text>
<text x="43.9" y="163.6" font-size="17" font-weight="bold" fill="#000">a</text>
<text x="45.6" y="324.8" font-size="17" font-weight="bold" fill="#000">b</text>
<text x="45.4" y="487.4" font-size="17" font-weight="bold" fill="#000">c</text>
<text x="45.3" y="651.4" font-size="17" font-weight="bold" fill="#000">d</text>
<text x="45.3" y="810.8" font-size="17" font-weight="bold" fill="#000">e</text>
<rect x="151.9" y="16.9" width="207.6" height="51.2" fill="#fff" stroke="#303030" stroke-width="1.1"/>
<line x1="159.3" y1="33.2" x2="192.1" y2="33.2" stroke="#ff7f00" stroke-width="2"/>
<line x1="159.3" y1="52" x2="192.1" y2="52" stroke="#ff7f00" stroke-width="2" stroke-dasharray="8,3"/>
<text x="199.4" y="35.6" font-size="11.85" fill="#111">CAM-C<tspan font-size="9" dy="2.6">2</tspan><tspan dy="-2.6">H</tspan><tspan font-size="9" dy="2.6">6</tspan><tspan dy="-2.6"> (revised HTAP2x2)</tspan></text>
<text x="199.4" y="54.8" font-size="11.85" fill="#111">CAM-C<tspan font-size="9" dy="2.6">2</tspan><tspan dy="-2.6">H</tspan><tspan font-size="9" dy="2.6">6</tspan><tspan dy="-2.6"> (original HTAP2)</tspan></text>
<rect x="141.6" y="504.4" width="197" height="89.3" fill="#fff" stroke="#303030" stroke-width="1.1"/>
<circle cx="162.3" cy="519.3" r="2.4" fill="#fff" stroke="#333" stroke-width="0.9"/>
<line x1="148.4" y1="534.3" x2="176.3" y2="534.3" stroke="#0a0af0" stroke-width="2"/>
<line x1="148.4" y1="548.8" x2="176.3" y2="548.8" stroke="#22ee22" stroke-width="2.4"/>
<line x1="148.4" y1="563.8" x2="176.3" y2="563.8" stroke="#ff0a0a" stroke-width="2.4"/>
<path d="M162.3,575.8L165.1,580.6L159.5,580.6Z" fill="#20d0d0" stroke="#333" stroke-width="0.8"/>
<text x="182.5" y="523" font-size="11.85" fill="#111">FTIR daily mean</text>
<text x="182.5" y="537.9" font-size="11.85" fill="#111">Seasonal fit + trend component</text>
<text x="182.5" y="552.8" font-size="11.85" fill="#111">2003-2008 linear regression</text>
<text x="182.5" y="567.7" font-size="11.85" fill="#111">2009-2014 linear regression</text>
<text x="182.5" y="582.6" font-size="11.85" fill="#111">PARIS-IR daily mean</text>
<text transform="translate(16.8,415) rotate(-90)" text-anchor="middle" font-size="17" font-weight="bold" fill="#000">C<tspan font-size="11.5" dy="5">2</tspan><tspan dy="-5">H</tspan><tspan font-size="11.5" dy="5">6</tspan><tspan dy="-5"> total column (x 10</tspan><tspan font-size="11.5" dy="-6.5">16</tspan><tspan dy="6.5"> molec/cm</tspan><tspan font-size="11.5" dy="-6.5">2</tspan><tspan dy="6.5">)</tspan></text>
<text transform="translate(598.1,414.8) rotate(-90)" text-anchor="middle" font-size="17.2" font-weight="bold" fill="#000">Approximate surface mole fraction (ppb)</text>
</svg></body></html>
